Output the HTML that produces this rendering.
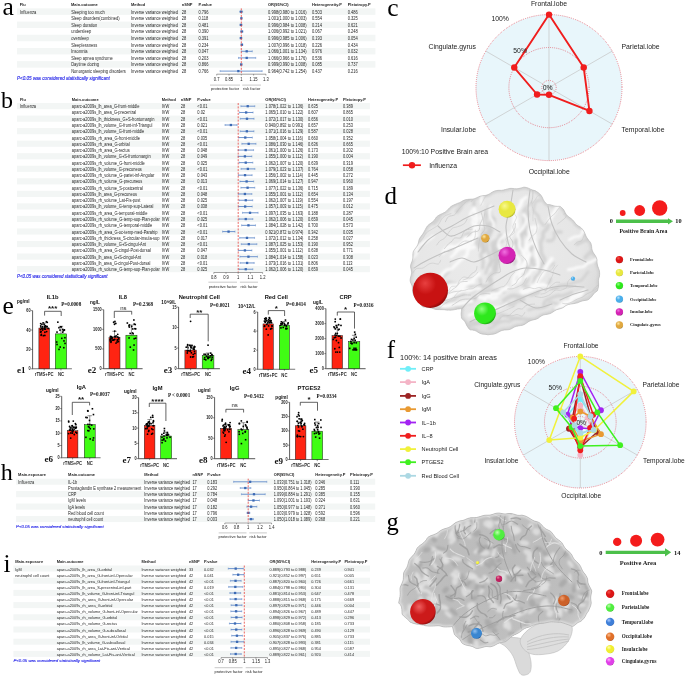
<!DOCTYPE html><html><head><meta charset="utf-8"><style>html,body{margin:0;padding:0;background:#fff;overflow:hidden}svg{display:block;will-change:transform}</style></head><body>
<svg width="685" height="676" viewBox="0 0 685 676" font-family='"Liberation Sans", sans-serif'>
<rect width="685" height="676" fill="#fff"/>
<defs>
<radialGradient id="sg_red" cx="0.38" cy="0.35" r="0.75" fx="0.35" fy="0.3"><stop offset="0" stop-color="#f55048"/><stop offset="0.4" stop-color="#dc1616"/><stop offset="0.8" stop-color="#dc1616"/><stop offset="1" stop-color="#700404"/></radialGradient>
<radialGradient id="sg_red_d" cx="0.38" cy="0.35" r="0.75" fx="0.35" fy="0.3"><stop offset="0" stop-color="#e84040"/><stop offset="0.4" stop-color="#c81212"/><stop offset="0.8" stop-color="#c81212"/><stop offset="1" stop-color="#600202"/></radialGradient>
<radialGradient id="sg_yellow" cx="0.38" cy="0.35" r="0.75" fx="0.35" fy="0.3"><stop offset="0" stop-color="#f8f890"/><stop offset="0.4" stop-color="#e8e840"/><stop offset="0.8" stop-color="#e8e840"/><stop offset="1" stop-color="#8a8a18"/></radialGradient>
<radialGradient id="sg_green" cx="0.38" cy="0.35" r="0.75" fx="0.35" fy="0.3"><stop offset="0" stop-color="#90ff80"/><stop offset="0.4" stop-color="#2ee81c"/><stop offset="0.8" stop-color="#2ee81c"/><stop offset="1" stop-color="#0e6a06"/></radialGradient>
<radialGradient id="sg_blue" cx="0.38" cy="0.35" r="0.75" fx="0.35" fy="0.3"><stop offset="0" stop-color="#b8e4ff"/><stop offset="0.4" stop-color="#4aaeea"/><stop offset="0.8" stop-color="#4aaeea"/><stop offset="1" stop-color="#1a5a8a"/></radialGradient>
<radialGradient id="sg_magenta" cx="0.38" cy="0.35" r="0.75" fx="0.35" fy="0.3"><stop offset="0" stop-color="#f070e0"/><stop offset="0.4" stop-color="#d424b4"/><stop offset="0.8" stop-color="#d424b4"/><stop offset="1" stop-color="#600a50"/></radialGradient>
<radialGradient id="sg_gold" cx="0.38" cy="0.35" r="0.75" fx="0.35" fy="0.3"><stop offset="0" stop-color="#ffe8a0"/><stop offset="0.4" stop-color="#e0a840"/><stop offset="0.8" stop-color="#e0a840"/><stop offset="1" stop-color="#7a5a10"/></radialGradient>
<radialGradient id="sg_blue2" cx="0.38" cy="0.35" r="0.75" fx="0.35" fy="0.3"><stop offset="0" stop-color="#a8c8ff"/><stop offset="0.4" stop-color="#3f7fd8"/><stop offset="0.8" stop-color="#3f7fd8"/><stop offset="1" stop-color="#1a3a7a"/></radialGradient>
<radialGradient id="sg_orange" cx="0.38" cy="0.35" r="0.75" fx="0.35" fy="0.3"><stop offset="0" stop-color="#ffc090"/><stop offset="0.4" stop-color="#e0702a"/><stop offset="0.8" stop-color="#e0702a"/><stop offset="1" stop-color="#7a3010"/></radialGradient>
<radialGradient id="sg_yellow2" cx="0.38" cy="0.35" r="0.75" fx="0.35" fy="0.3"><stop offset="0" stop-color="#ffffb0"/><stop offset="0.4" stop-color="#f0ee30"/><stop offset="0.8" stop-color="#f0ee30"/><stop offset="1" stop-color="#9a9a10"/></radialGradient>
<radialGradient id="sg_magenta2" cx="0.38" cy="0.35" r="0.75" fx="0.35" fy="0.3"><stop offset="0" stop-color="#ffb0ff"/><stop offset="0.4" stop-color="#e040e8"/><stop offset="0.8" stop-color="#e040e8"/><stop offset="1" stop-color="#801080"/></radialGradient>
<radialGradient id="sg_green2" cx="0.38" cy="0.35" r="0.75" fx="0.35" fy="0.3"><stop offset="0" stop-color="#c0ffb0"/><stop offset="0.4" stop-color="#50ee40"/><stop offset="0.8" stop-color="#50ee40"/><stop offset="1" stop-color="#1a8a10"/></radialGradient>
<radialGradient id="sg_crimson" cx="0.38" cy="0.35" r="0.75" fx="0.35" fy="0.3"><stop offset="0" stop-color="#f080a0"/><stop offset="0.4" stop-color="#c02060"/><stop offset="0.8" stop-color="#c02060"/><stop offset="1" stop-color="#600a30"/></radialGradient>
<radialGradient id="sg_red_g" cx="0.38" cy="0.35" r="0.75" fx="0.35" fy="0.3"><stop offset="0" stop-color="#f06060"/><stop offset="0.4" stop-color="#cc1a1a"/><stop offset="0.8" stop-color="#cc1a1a"/><stop offset="1" stop-color="#5a0000"/></radialGradient>
<radialGradient id="sg_orange_g" cx="0.38" cy="0.35" r="0.75" fx="0.35" fy="0.3"><stop offset="0" stop-color="#f0a070"/><stop offset="0.4" stop-color="#cc6028"/><stop offset="0.8" stop-color="#cc6028"/><stop offset="1" stop-color="#602008"/></radialGradient>
<radialGradient id="sg_blue_g" cx="0.38" cy="0.35" r="0.75" fx="0.35" fy="0.3"><stop offset="0" stop-color="#90c0f0"/><stop offset="0.4" stop-color="#3a86d0"/><stop offset="0.8" stop-color="#3a86d0"/><stop offset="1" stop-color="#103a70"/></radialGradient>
<filter id="blur1" x="-20%" y="-20%" width="140%" height="140%"><feGaussianBlur stdDeviation="0.8"/></filter>
<filter id="blur2" x="-20%" y="-20%" width="140%" height="140%"><feGaussianBlur stdDeviation="1.6"/></filter>
<filter id="blur05" x="-20%" y="-20%" width="140%" height="140%"><feGaussianBlur stdDeviation="0.45"/></filter>
</defs>
<text x="2.40" y="15.30" font-size="25.5" font-family='"Liberation Serif", serif' fill="#000">a</text>
<rect x="17" y="8.35" width="358.4" height="6.50" fill="#f3f6f5"/>
<rect x="17" y="21.55" width="358.4" height="6.50" fill="#f3f6f5"/>
<rect x="17" y="34.75" width="358.4" height="6.50" fill="#f3f6f5"/>
<rect x="17" y="47.95" width="358.4" height="6.50" fill="#f3f6f5"/>
<rect x="17" y="61.15" width="358.4" height="6.50" fill="#f3f6f5"/>
<g transform="translate(19.70,6.05) scale(0.93,1)">
<text x="0.00" y="0.00" font-size="4.3" font-weight="bold" fill="#1e1e1e">Flu</text>
</g>
<g transform="translate(71.00,6.05) scale(0.93,1)">
<text x="0.00" y="0.00" font-size="4.3" font-weight="bold" fill="#1e1e1e">Main.outcome</text>
</g>
<g transform="translate(131.00,6.05) scale(0.93,1)">
<text x="0.00" y="0.00" font-size="4.3" font-weight="bold" fill="#1e1e1e">Method</text>
</g>
<g transform="translate(181.80,6.05) scale(0.93,1)">
<text x="0.00" y="0.00" font-size="4.3" font-weight="bold" fill="#1e1e1e">nSNP</text>
</g>
<g transform="translate(198.40,6.05) scale(0.93,1)">
<text x="0.00" y="0.00" font-size="4.3" font-weight="bold" fill="#1e1e1e">P.value</text>
</g>
<g transform="translate(268.00,6.05) scale(0.93,1)">
<text x="0.00" y="0.00" font-size="4.3" font-weight="bold" fill="#1e1e1e">OR(95%CI)</text>
</g>
<g transform="translate(311.90,6.05) scale(0.93,1)">
<text x="0.00" y="0.00" font-size="4.3" font-weight="bold" fill="#1e1e1e">Heterogeneity.P</text>
</g>
<g transform="translate(347.70,6.05) scale(0.93,1)">
<text x="0.00" y="0.00" font-size="4.3" font-weight="bold" fill="#1e1e1e">Pleiotropy.P</text>
</g>
<g transform="translate(19.90,13.65) scale(0.893,1)">
<text x="0.00" y="0.00" font-size="4.5360000000000005" fill="#262626">Influenza</text>
</g>
<g transform="translate(71.20,13.65) scale(0.893,1)">
<text x="0.00" y="0.00" font-size="4.5360000000000005" fill="#262626">Sleeping too much</text>
</g>
<g transform="translate(131.00,13.65) scale(0.893,1)">
<text x="0.00" y="0.00" font-size="4.5360000000000005" fill="#262626">Inverse variance weighted</text>
</g>
<g transform="translate(181.80,13.65) scale(0.893,1)">
<text x="0.00" y="0.00" font-size="4.5360000000000005" fill="#262626">28</text>
</g>
<g transform="translate(198.40,13.65) scale(0.893,1)">
<text x="0.00" y="0.00" font-size="4.5360000000000005" fill="#262626">0.796</text>
</g>
<g transform="translate(268.00,13.65) scale(0.893,1)">
<text x="0.00" y="0.00" font-size="4.5360000000000005" fill="#262626">0.998(0.980 to 1.016)</text>
</g>
<g transform="translate(311.90,13.65) scale(0.893,1)">
<text x="0.00" y="0.00" font-size="4.5360000000000005" fill="#262626">0.503</text>
</g>
<g transform="translate(347.70,13.65) scale(0.893,1)">
<text x="0.00" y="0.00" font-size="4.5360000000000005" fill="#262626">0.486</text>
</g>
<g transform="translate(71.20,20.25) scale(0.893,1)">
<text x="0.00" y="0.00" font-size="4.5360000000000005" fill="#262626">Sleep disorders(combined)</text>
</g>
<g transform="translate(131.00,20.25) scale(0.893,1)">
<text x="0.00" y="0.00" font-size="4.5360000000000005" fill="#262626">Inverse variance weighted</text>
</g>
<g transform="translate(181.80,20.25) scale(0.893,1)">
<text x="0.00" y="0.00" font-size="4.5360000000000005" fill="#262626">28</text>
</g>
<g transform="translate(198.40,20.25) scale(0.893,1)">
<text x="0.00" y="0.00" font-size="4.5360000000000005" fill="#262626">0.118</text>
</g>
<g transform="translate(268.00,20.25) scale(0.893,1)">
<text x="0.00" y="0.00" font-size="4.5360000000000005" fill="#262626">1.001(1.000 to 1.003)</text>
</g>
<g transform="translate(311.90,20.25) scale(0.893,1)">
<text x="0.00" y="0.00" font-size="4.5360000000000005" fill="#262626">0.554</text>
</g>
<g transform="translate(347.70,20.25) scale(0.893,1)">
<text x="0.00" y="0.00" font-size="4.5360000000000005" fill="#262626">0.325</text>
</g>
<g transform="translate(71.20,26.85) scale(0.893,1)">
<text x="0.00" y="0.00" font-size="4.5360000000000005" fill="#262626">Sleep duration</text>
</g>
<g transform="translate(131.00,26.85) scale(0.893,1)">
<text x="0.00" y="0.00" font-size="4.5360000000000005" fill="#262626">Inverse variance weighted</text>
</g>
<g transform="translate(181.80,26.85) scale(0.893,1)">
<text x="0.00" y="0.00" font-size="4.5360000000000005" fill="#262626">28</text>
</g>
<g transform="translate(198.40,26.85) scale(0.893,1)">
<text x="0.00" y="0.00" font-size="4.5360000000000005" fill="#262626">0.481</text>
</g>
<g transform="translate(268.00,26.85) scale(0.893,1)">
<text x="0.00" y="0.00" font-size="4.5360000000000005" fill="#262626">0.996(0.984 to 1.008)</text>
</g>
<g transform="translate(311.90,26.85) scale(0.893,1)">
<text x="0.00" y="0.00" font-size="4.5360000000000005" fill="#262626">0.214</text>
</g>
<g transform="translate(347.70,26.85) scale(0.893,1)">
<text x="0.00" y="0.00" font-size="4.5360000000000005" fill="#262626">0.621</text>
</g>
<g transform="translate(71.20,33.45) scale(0.893,1)">
<text x="0.00" y="0.00" font-size="4.5360000000000005" fill="#262626">undersleep</text>
</g>
<g transform="translate(131.00,33.45) scale(0.893,1)">
<text x="0.00" y="0.00" font-size="4.5360000000000005" fill="#262626">Inverse variance weighted</text>
</g>
<g transform="translate(181.80,33.45) scale(0.893,1)">
<text x="0.00" y="0.00" font-size="4.5360000000000005" fill="#262626">28</text>
</g>
<g transform="translate(198.40,33.45) scale(0.893,1)">
<text x="0.00" y="0.00" font-size="4.5360000000000005" fill="#262626">0.390</text>
</g>
<g transform="translate(268.00,33.45) scale(0.893,1)">
<text x="0.00" y="0.00" font-size="4.5360000000000005" fill="#262626">1.006(0.992 to 1.021)</text>
</g>
<g transform="translate(311.90,33.45) scale(0.893,1)">
<text x="0.00" y="0.00" font-size="4.5360000000000005" fill="#262626">0.067</text>
</g>
<g transform="translate(347.70,33.45) scale(0.893,1)">
<text x="0.00" y="0.00" font-size="4.5360000000000005" fill="#262626">0.248</text>
</g>
<g transform="translate(71.20,40.05) scale(0.893,1)">
<text x="0.00" y="0.00" font-size="4.5360000000000005" fill="#262626">oversleep</text>
</g>
<g transform="translate(131.00,40.05) scale(0.893,1)">
<text x="0.00" y="0.00" font-size="4.5360000000000005" fill="#262626">Inverse variance weighted</text>
</g>
<g transform="translate(181.80,40.05) scale(0.893,1)">
<text x="0.00" y="0.00" font-size="4.5360000000000005" fill="#262626">28</text>
</g>
<g transform="translate(198.40,40.05) scale(0.893,1)">
<text x="0.00" y="0.00" font-size="4.5360000000000005" fill="#262626">0.391</text>
</g>
<g transform="translate(268.00,40.05) scale(0.893,1)">
<text x="0.00" y="0.00" font-size="4.5360000000000005" fill="#262626">0.996(0.985 to 1.006)</text>
</g>
<g transform="translate(311.90,40.05) scale(0.893,1)">
<text x="0.00" y="0.00" font-size="4.5360000000000005" fill="#262626">0.193</text>
</g>
<g transform="translate(347.70,40.05) scale(0.893,1)">
<text x="0.00" y="0.00" font-size="4.5360000000000005" fill="#262626">0.054</text>
</g>
<g transform="translate(71.20,46.65) scale(0.893,1)">
<text x="0.00" y="0.00" font-size="4.5360000000000005" fill="#262626">Sleeplessness</text>
</g>
<g transform="translate(131.00,46.65) scale(0.893,1)">
<text x="0.00" y="0.00" font-size="4.5360000000000005" fill="#262626">Inverse variance weighted</text>
</g>
<g transform="translate(181.80,46.65) scale(0.893,1)">
<text x="0.00" y="0.00" font-size="4.5360000000000005" fill="#262626">28</text>
</g>
<g transform="translate(198.40,46.65) scale(0.893,1)">
<text x="0.00" y="0.00" font-size="4.5360000000000005" fill="#262626">0.234</text>
</g>
<g transform="translate(268.00,46.65) scale(0.893,1)">
<text x="0.00" y="0.00" font-size="4.5360000000000005" fill="#262626">1.007(0.996 to 1.018)</text>
</g>
<g transform="translate(311.90,46.65) scale(0.893,1)">
<text x="0.00" y="0.00" font-size="4.5360000000000005" fill="#262626">0.226</text>
</g>
<g transform="translate(347.70,46.65) scale(0.893,1)">
<text x="0.00" y="0.00" font-size="4.5360000000000005" fill="#262626">0.434</text>
</g>
<g transform="translate(71.20,53.25) scale(0.893,1)">
<text x="0.00" y="0.00" font-size="4.5360000000000005" fill="#262626">Insomnia</text>
</g>
<g transform="translate(131.00,53.25) scale(0.893,1)">
<text x="0.00" y="0.00" font-size="4.5360000000000005" fill="#262626">Inverse variance weighted</text>
</g>
<g transform="translate(181.80,53.25) scale(0.893,1)">
<text x="0.00" y="0.00" font-size="4.5360000000000005" fill="#262626">28</text>
</g>
<g transform="translate(198.40,53.25) scale(0.893,1)">
<text x="0.00" y="0.00" font-size="4.5360000000000005" fill="#262626">0.047</text>
</g>
<g transform="translate(268.00,53.25) scale(0.893,1)">
<text x="0.00" y="0.00" font-size="4.5360000000000005" fill="#262626">1.066(1.001 to 1.134)</text>
</g>
<g transform="translate(311.90,53.25) scale(0.893,1)">
<text x="0.00" y="0.00" font-size="4.5360000000000005" fill="#262626">0.976</text>
</g>
<g transform="translate(347.70,53.25) scale(0.893,1)">
<text x="0.00" y="0.00" font-size="4.5360000000000005" fill="#262626">0.032</text>
</g>
<g transform="translate(71.20,59.85) scale(0.893,1)">
<text x="0.00" y="0.00" font-size="4.5360000000000005" fill="#262626">Sleep apnea syndrome</text>
</g>
<g transform="translate(131.00,59.85) scale(0.893,1)">
<text x="0.00" y="0.00" font-size="4.5360000000000005" fill="#262626">Inverse variance weighted</text>
</g>
<g transform="translate(181.80,59.85) scale(0.893,1)">
<text x="0.00" y="0.00" font-size="4.5360000000000005" fill="#262626">28</text>
</g>
<g transform="translate(198.40,59.85) scale(0.893,1)">
<text x="0.00" y="0.00" font-size="4.5360000000000005" fill="#262626">0.203</text>
</g>
<g transform="translate(268.00,59.85) scale(0.893,1)">
<text x="0.00" y="0.00" font-size="4.5360000000000005" fill="#262626">1.066(0.966 to 1.176)</text>
</g>
<g transform="translate(311.90,59.85) scale(0.893,1)">
<text x="0.00" y="0.00" font-size="4.5360000000000005" fill="#262626">0.536</text>
</g>
<g transform="translate(347.70,59.85) scale(0.893,1)">
<text x="0.00" y="0.00" font-size="4.5360000000000005" fill="#262626">0.616</text>
</g>
<g transform="translate(71.20,66.45) scale(0.893,1)">
<text x="0.00" y="0.00" font-size="4.5360000000000005" fill="#262626">Daytime dozing</text>
</g>
<g transform="translate(131.00,66.45) scale(0.893,1)">
<text x="0.00" y="0.00" font-size="4.5360000000000005" fill="#262626">Inverse variance weighted</text>
</g>
<g transform="translate(181.80,66.45) scale(0.893,1)">
<text x="0.00" y="0.00" font-size="4.5360000000000005" fill="#262626">28</text>
</g>
<g transform="translate(198.40,66.45) scale(0.893,1)">
<text x="0.00" y="0.00" font-size="4.5360000000000005" fill="#262626">0.866</text>
</g>
<g transform="translate(268.00,66.45) scale(0.893,1)">
<text x="0.00" y="0.00" font-size="4.5360000000000005" fill="#262626">0.999(0.990 to 1.008)</text>
</g>
<g transform="translate(311.90,66.45) scale(0.893,1)">
<text x="0.00" y="0.00" font-size="4.5360000000000005" fill="#262626">0.085</text>
</g>
<g transform="translate(347.70,66.45) scale(0.893,1)">
<text x="0.00" y="0.00" font-size="4.5360000000000005" fill="#262626">0.737</text>
</g>
<g transform="translate(71.20,73.05) scale(0.893,1)">
<text x="0.00" y="0.00" font-size="4.5360000000000005" fill="#262626">Nonorganic sleeping disorders</text>
</g>
<g transform="translate(131.00,73.05) scale(0.893,1)">
<text x="0.00" y="0.00" font-size="4.5360000000000005" fill="#262626">Inverse variance weighted</text>
</g>
<g transform="translate(181.80,73.05) scale(0.893,1)">
<text x="0.00" y="0.00" font-size="4.5360000000000005" fill="#262626">28</text>
</g>
<g transform="translate(198.40,73.05) scale(0.893,1)">
<text x="0.00" y="0.00" font-size="4.5360000000000005" fill="#262626">0.766</text>
</g>
<g transform="translate(268.00,73.05) scale(0.893,1)">
<text x="0.00" y="0.00" font-size="4.5360000000000005" fill="#262626">0.964(0.742 to 1.254)</text>
</g>
<g transform="translate(311.90,73.05) scale(0.893,1)">
<text x="0.00" y="0.00" font-size="4.5360000000000005" fill="#262626">0.437</text>
</g>
<g transform="translate(347.70,73.05) scale(0.893,1)">
<text x="0.00" y="0.00" font-size="4.5360000000000005" fill="#262626">0.216</text>
</g>
<line x1="239.66" y1="11.70" x2="242.61" y2="11.70" stroke="#5683c6" stroke-width="0.85"/>
<line x1="239.66" y1="10.70" x2="239.66" y2="12.70" stroke="#5b84c4" stroke-width="0.5"/>
<line x1="242.61" y1="10.70" x2="242.61" y2="12.70" stroke="#5b84c4" stroke-width="0.5"/>
<rect x="239.99" y="10.55" width="2.3" height="2.3" fill="#3c6ab4"/>
<line x1="241.30" y1="18.30" x2="241.55" y2="18.30" stroke="#5683c6" stroke-width="0.85"/>
<line x1="241.30" y1="17.30" x2="241.30" y2="19.30" stroke="#5b84c4" stroke-width="0.5"/>
<line x1="241.55" y1="17.30" x2="241.55" y2="19.30" stroke="#5b84c4" stroke-width="0.5"/>
<rect x="240.23" y="17.15" width="2.3" height="2.3" fill="#3c6ab4"/>
<line x1="239.99" y1="24.90" x2="241.96" y2="24.90" stroke="#5683c6" stroke-width="0.85"/>
<line x1="239.99" y1="23.90" x2="239.99" y2="25.90" stroke="#5b84c4" stroke-width="0.5"/>
<line x1="241.96" y1="23.90" x2="241.96" y2="25.90" stroke="#5b84c4" stroke-width="0.5"/>
<rect x="239.82" y="23.75" width="2.3" height="2.3" fill="#3c6ab4"/>
<line x1="240.64" y1="31.50" x2="243.02" y2="31.50" stroke="#5683c6" stroke-width="0.85"/>
<line x1="240.64" y1="30.50" x2="240.64" y2="32.50" stroke="#5b84c4" stroke-width="0.5"/>
<line x1="243.02" y1="30.50" x2="243.02" y2="32.50" stroke="#5b84c4" stroke-width="0.5"/>
<rect x="240.64" y="30.35" width="2.3" height="2.3" fill="#3c6ab4"/>
<line x1="240.07" y1="38.10" x2="241.79" y2="38.10" stroke="#5683c6" stroke-width="0.85"/>
<line x1="240.07" y1="37.10" x2="240.07" y2="39.10" stroke="#5b84c4" stroke-width="0.5"/>
<line x1="241.79" y1="37.10" x2="241.79" y2="39.10" stroke="#5b84c4" stroke-width="0.5"/>
<rect x="239.82" y="36.95" width="2.3" height="2.3" fill="#3c6ab4"/>
<line x1="240.97" y1="44.70" x2="242.78" y2="44.70" stroke="#5683c6" stroke-width="0.85"/>
<line x1="240.97" y1="43.70" x2="240.97" y2="45.70" stroke="#5b84c4" stroke-width="0.5"/>
<line x1="242.78" y1="43.70" x2="242.78" y2="45.70" stroke="#5b84c4" stroke-width="0.5"/>
<rect x="240.72" y="43.55" width="2.3" height="2.3" fill="#3c6ab4"/>
<line x1="241.38" y1="51.30" x2="252.29" y2="51.30" stroke="#5683c6" stroke-width="0.85"/>
<line x1="241.38" y1="50.30" x2="241.38" y2="52.30" stroke="#5b84c4" stroke-width="0.5"/>
<line x1="252.29" y1="50.30" x2="252.29" y2="52.30" stroke="#5b84c4" stroke-width="0.5"/>
<rect x="245.56" y="50.15" width="2.3" height="2.3" fill="#3c6ab4"/>
<line x1="238.51" y1="57.90" x2="255.73" y2="57.90" stroke="#5683c6" stroke-width="0.85"/>
<line x1="238.51" y1="56.90" x2="238.51" y2="58.90" stroke="#5b84c4" stroke-width="0.5"/>
<line x1="255.73" y1="56.90" x2="255.73" y2="58.90" stroke="#5b84c4" stroke-width="0.5"/>
<rect x="245.56" y="56.75" width="2.3" height="2.3" fill="#3c6ab4"/>
<line x1="240.48" y1="64.50" x2="241.96" y2="64.50" stroke="#5683c6" stroke-width="0.85"/>
<line x1="240.48" y1="63.50" x2="240.48" y2="65.50" stroke="#5b84c4" stroke-width="0.5"/>
<line x1="241.96" y1="63.50" x2="241.96" y2="65.50" stroke="#5b84c4" stroke-width="0.5"/>
<rect x="240.07" y="63.35" width="2.3" height="2.3" fill="#3c6ab4"/>
<line x1="220.14" y1="71.10" x2="262.13" y2="71.10" stroke="#5683c6" stroke-width="0.85"/>
<line x1="220.14" y1="70.10" x2="220.14" y2="72.10" stroke="#5b84c4" stroke-width="0.5"/>
<line x1="262.13" y1="70.10" x2="262.13" y2="72.10" stroke="#5b84c4" stroke-width="0.5"/>
<rect x="237.20" y="69.95" width="2.3" height="2.3" fill="#3c6ab4"/>
<line x1="241.30" y1="8.40" x2="241.30" y2="74.40" stroke="#e8413c" stroke-width="0.8" stroke-dasharray="2,1.3"/>
<line x1="216.70" y1="74.20" x2="265.90" y2="74.20" stroke="#444" stroke-width="0.5"/>
<line x1="216.70" y1="74.20" x2="216.70" y2="75.50" stroke="#444" stroke-width="0.5"/>
<g transform="translate(216.70,81.05) scale(0.9,1)">
<text x="0.00" y="0.00" font-size="4.6" text-anchor="middle" fill="#222">0.7</text>
</g>
<line x1="229.00" y1="74.20" x2="229.00" y2="75.50" stroke="#444" stroke-width="0.5"/>
<g transform="translate(229.00,81.05) scale(0.9,1)">
<text x="0.00" y="0.00" font-size="4.6" text-anchor="middle" fill="#222">0.85</text>
</g>
<line x1="241.30" y1="74.20" x2="241.30" y2="75.50" stroke="#444" stroke-width="0.5"/>
<g transform="translate(241.30,81.05) scale(0.9,1)">
<text x="0.00" y="0.00" font-size="4.6" text-anchor="middle" fill="#222">1</text>
</g>
<line x1="253.60" y1="74.20" x2="253.60" y2="75.50" stroke="#444" stroke-width="0.5"/>
<g transform="translate(253.60,81.05) scale(0.9,1)">
<text x="0.00" y="0.00" font-size="4.6" text-anchor="middle" fill="#222">1.15</text>
</g>
<line x1="265.90" y1="74.20" x2="265.90" y2="75.50" stroke="#444" stroke-width="0.5"/>
<g transform="translate(265.90,81.05) scale(0.9,1)">
<text x="0.00" y="0.00" font-size="4.6" text-anchor="middle" fill="#222">1.3</text>
</g>
<line x1="210.00" y1="85.10" x2="240.00" y2="85.10" stroke="#777" stroke-width="0.4"/>
<line x1="242.30" y1="85.10" x2="261.00" y2="85.10" stroke="#777" stroke-width="0.4"/>
<g transform="translate(225.00,90.20) scale(0.9,1)">
<text x="0.00" y="0.00" font-size="4.4" text-anchor="middle" fill="#222">protective factor</text>
</g>
<g transform="translate(251.65,90.20) scale(0.9,1)">
<text x="0.00" y="0.00" font-size="4.4" text-anchor="middle" fill="#222">risk factor</text>
</g>
<text x="17.00" y="79.60" font-size="4.59" font-style="italic" fill="#2626e8" stroke="#2626e8" stroke-width="0.12">P&lt;0.05 was considered statistically significant</text>
<text x="1.00" y="108.00" font-size="24" font-family='"Liberation Serif", serif' fill="#000">b</text>
<rect x="17" y="103.02" width="352.9" height="6.17" fill="#f3f6f5"/>
<rect x="17" y="115.56" width="352.9" height="6.17" fill="#f3f6f5"/>
<rect x="17" y="128.09" width="352.9" height="6.17" fill="#f3f6f5"/>
<rect x="17" y="140.63" width="352.9" height="6.17" fill="#f3f6f5"/>
<rect x="17" y="153.18" width="352.9" height="6.17" fill="#f3f6f5"/>
<rect x="17" y="165.72" width="352.9" height="6.17" fill="#f3f6f5"/>
<rect x="17" y="178.25" width="352.9" height="6.17" fill="#f3f6f5"/>
<rect x="17" y="190.80" width="352.9" height="6.17" fill="#f3f6f5"/>
<rect x="17" y="203.33" width="352.9" height="6.17" fill="#f3f6f5"/>
<rect x="17" y="215.88" width="352.9" height="6.17" fill="#f3f6f5"/>
<rect x="17" y="228.41" width="352.9" height="6.17" fill="#f3f6f5"/>
<rect x="17" y="240.95" width="352.9" height="6.17" fill="#f3f6f5"/>
<rect x="17" y="253.50" width="352.9" height="6.17" fill="#f3f6f5"/>
<rect x="17" y="266.03" width="352.9" height="6.17" fill="#f3f6f5"/>
<g transform="translate(19.90,101.15) scale(0.93,1)">
<text x="0.00" y="0.00" font-size="4.3" font-weight="bold" fill="#1e1e1e">Flu</text>
</g>
<g transform="translate(71.80,101.15) scale(0.93,1)">
<text x="0.00" y="0.00" font-size="4.3" font-weight="bold" fill="#1e1e1e">Main.outcome</text>
</g>
<g transform="translate(161.70,101.15) scale(0.93,1)">
<text x="0.00" y="0.00" font-size="4.3" font-weight="bold" fill="#1e1e1e">Method</text>
</g>
<g transform="translate(180.70,101.15) scale(0.93,1)">
<text x="0.00" y="0.00" font-size="4.3" font-weight="bold" fill="#1e1e1e">nSNP</text>
</g>
<g transform="translate(197.30,101.15) scale(0.93,1)">
<text x="0.00" y="0.00" font-size="4.3" font-weight="bold" fill="#1e1e1e">P.value</text>
</g>
<g transform="translate(265.30,101.15) scale(0.93,1)">
<text x="0.00" y="0.00" font-size="4.3" font-weight="bold" fill="#1e1e1e">OR(95%CI)</text>
</g>
<g transform="translate(308.00,101.15) scale(0.93,1)">
<text x="0.00" y="0.00" font-size="4.3" font-weight="bold" fill="#1e1e1e">Heterogeneity.P</text>
</g>
<g transform="translate(342.90,101.15) scale(0.93,1)">
<text x="0.00" y="0.00" font-size="4.3" font-weight="bold" fill="#1e1e1e">Pleiotropy.P</text>
</g>
<g transform="translate(19.90,108.15) scale(0.893,1)">
<text x="0.00" y="0.00" font-size="4.48" fill="#262626">Influenza</text>
</g>
<g transform="translate(71.80,108.15) scale(0.893,1)">
<text x="0.00" y="0.00" font-size="4.48" fill="#262626">aparc-a2009s_lh_area_G-front-middle</text>
</g>
<g transform="translate(161.70,108.15) scale(0.893,1)">
<text x="0.00" y="0.00" font-size="4.48" fill="#262626">IVW</text>
</g>
<g transform="translate(180.70,108.15) scale(0.893,1)">
<text x="0.00" y="0.00" font-size="4.48" fill="#262626">28</text>
</g>
<g transform="translate(197.30,108.15) scale(0.893,1)">
<text x="0.00" y="0.00" font-size="4.48" fill="#262626">&lt;0.01</text>
</g>
<g transform="translate(265.30,108.15) scale(0.893,1)">
<text x="0.00" y="0.00" font-size="4.48" fill="#262626">1.078(1.022 to 1.136)</text>
</g>
<g transform="translate(308.00,108.15) scale(0.893,1)">
<text x="0.00" y="0.00" font-size="4.48" fill="#262626">0.635</text>
</g>
<g transform="translate(342.90,108.15) scale(0.893,1)">
<text x="0.00" y="0.00" font-size="4.48" fill="#262626">0.389</text>
</g>
<g transform="translate(71.80,114.42) scale(0.893,1)">
<text x="0.00" y="0.00" font-size="4.48" fill="#262626">aparc-a2009s_lh_area_G-precentral</text>
</g>
<g transform="translate(161.70,114.42) scale(0.893,1)">
<text x="0.00" y="0.00" font-size="4.48" fill="#262626">IVW</text>
</g>
<g transform="translate(180.70,114.42) scale(0.893,1)">
<text x="0.00" y="0.00" font-size="4.48" fill="#262626">28</text>
</g>
<g transform="translate(197.30,114.42) scale(0.893,1)">
<text x="0.00" y="0.00" font-size="4.48" fill="#262626">0.02</text>
</g>
<g transform="translate(265.30,114.42) scale(0.893,1)">
<text x="0.00" y="0.00" font-size="4.48" fill="#262626">1.065(1.010 to 1.122)</text>
</g>
<g transform="translate(308.00,114.42) scale(0.893,1)">
<text x="0.00" y="0.00" font-size="4.48" fill="#262626">0.607</text>
</g>
<g transform="translate(342.90,114.42) scale(0.893,1)">
<text x="0.00" y="0.00" font-size="4.48" fill="#262626">0.865</text>
</g>
<g transform="translate(71.80,120.69) scale(0.893,1)">
<text x="0.00" y="0.00" font-size="4.48" fill="#262626">aparc-a2009s_lh_thickness_G+S-frontomargin</text>
</g>
<g transform="translate(161.70,120.69) scale(0.893,1)">
<text x="0.00" y="0.00" font-size="4.48" fill="#262626">IVW</text>
</g>
<g transform="translate(180.70,120.69) scale(0.893,1)">
<text x="0.00" y="0.00" font-size="4.48" fill="#262626">28</text>
</g>
<g transform="translate(197.30,120.69) scale(0.893,1)">
<text x="0.00" y="0.00" font-size="4.48" fill="#262626">&lt;0.01</text>
</g>
<g transform="translate(265.30,120.69) scale(0.893,1)">
<text x="0.00" y="0.00" font-size="4.48" fill="#262626">1.072(1.017 to 1.130)</text>
</g>
<g transform="translate(308.00,120.69) scale(0.893,1)">
<text x="0.00" y="0.00" font-size="4.48" fill="#262626">0.656</text>
</g>
<g transform="translate(342.90,120.69) scale(0.893,1)">
<text x="0.00" y="0.00" font-size="4.48" fill="#262626">0.010</text>
</g>
<g transform="translate(71.80,126.96) scale(0.893,1)">
<text x="0.00" y="0.00" font-size="4.48" fill="#262626">aparc-a2009s_lh_volume_G-front-inf-Triangul</text>
</g>
<g transform="translate(161.70,126.96) scale(0.893,1)">
<text x="0.00" y="0.00" font-size="4.48" fill="#262626">IVW</text>
</g>
<g transform="translate(180.70,126.96) scale(0.893,1)">
<text x="0.00" y="0.00" font-size="4.48" fill="#262626">28</text>
</g>
<g transform="translate(197.30,126.96) scale(0.893,1)">
<text x="0.00" y="0.00" font-size="4.48" fill="#262626">0.021</text>
</g>
<g transform="translate(265.30,126.96) scale(0.893,1)">
<text x="0.00" y="0.00" font-size="4.48" fill="#262626">0.940(0.892 to 0.991)</text>
</g>
<g transform="translate(308.00,126.96) scale(0.893,1)">
<text x="0.00" y="0.00" font-size="4.48" fill="#262626">0.657</text>
</g>
<g transform="translate(342.90,126.96) scale(0.893,1)">
<text x="0.00" y="0.00" font-size="4.48" fill="#262626">0.253</text>
</g>
<g transform="translate(71.80,133.23) scale(0.893,1)">
<text x="0.00" y="0.00" font-size="4.48" fill="#262626">aparc-a2009s_lh_volume_G-front-middle</text>
</g>
<g transform="translate(161.70,133.23) scale(0.893,1)">
<text x="0.00" y="0.00" font-size="4.48" fill="#262626">IVW</text>
</g>
<g transform="translate(180.70,133.23) scale(0.893,1)">
<text x="0.00" y="0.00" font-size="4.48" fill="#262626">28</text>
</g>
<g transform="translate(197.30,133.23) scale(0.893,1)">
<text x="0.00" y="0.00" font-size="4.48" fill="#262626">&lt;0.01</text>
</g>
<g transform="translate(265.30,133.23) scale(0.893,1)">
<text x="0.00" y="0.00" font-size="4.48" fill="#262626">1.071(1.016 to 1.129)</text>
</g>
<g transform="translate(308.00,133.23) scale(0.893,1)">
<text x="0.00" y="0.00" font-size="4.48" fill="#262626">0.587</text>
</g>
<g transform="translate(342.90,133.23) scale(0.893,1)">
<text x="0.00" y="0.00" font-size="4.48" fill="#262626">0.028</text>
</g>
<g transform="translate(71.80,139.50) scale(0.893,1)">
<text x="0.00" y="0.00" font-size="4.48" fill="#262626">aparc-a2009s_rh_area_G-front-middle</text>
</g>
<g transform="translate(161.70,139.50) scale(0.893,1)">
<text x="0.00" y="0.00" font-size="4.48" fill="#262626">IVW</text>
</g>
<g transform="translate(180.70,139.50) scale(0.893,1)">
<text x="0.00" y="0.00" font-size="4.48" fill="#262626">28</text>
</g>
<g transform="translate(197.30,139.50) scale(0.893,1)">
<text x="0.00" y="0.00" font-size="4.48" fill="#262626">0.035</text>
</g>
<g transform="translate(265.30,139.50) scale(0.893,1)">
<text x="0.00" y="0.00" font-size="4.48" fill="#262626">1.058(1.004 to 1.116)</text>
</g>
<g transform="translate(308.00,139.50) scale(0.893,1)">
<text x="0.00" y="0.00" font-size="4.48" fill="#262626">0.660</text>
</g>
<g transform="translate(342.90,139.50) scale(0.893,1)">
<text x="0.00" y="0.00" font-size="4.48" fill="#262626">0.352</text>
</g>
<g transform="translate(71.80,145.77) scale(0.893,1)">
<text x="0.00" y="0.00" font-size="4.48" fill="#262626">aparc-a2009s_rh_area_G-orbital</text>
</g>
<g transform="translate(161.70,145.77) scale(0.893,1)">
<text x="0.00" y="0.00" font-size="4.48" fill="#262626">IVW</text>
</g>
<g transform="translate(180.70,145.77) scale(0.893,1)">
<text x="0.00" y="0.00" font-size="4.48" fill="#262626">28</text>
</g>
<g transform="translate(197.30,145.77) scale(0.893,1)">
<text x="0.00" y="0.00" font-size="4.48" fill="#262626">&lt;0.01</text>
</g>
<g transform="translate(265.30,145.77) scale(0.893,1)">
<text x="0.00" y="0.00" font-size="4.48" fill="#262626">1.086(1.030 to 1.146)</text>
</g>
<g transform="translate(308.00,145.77) scale(0.893,1)">
<text x="0.00" y="0.00" font-size="4.48" fill="#262626">0.636</text>
</g>
<g transform="translate(342.90,145.77) scale(0.893,1)">
<text x="0.00" y="0.00" font-size="4.48" fill="#262626">0.665</text>
</g>
<g transform="translate(71.80,152.04) scale(0.893,1)">
<text x="0.00" y="0.00" font-size="4.48" fill="#262626">aparc-a2009s_rh_area_G-rectus</text>
</g>
<g transform="translate(161.70,152.04) scale(0.893,1)">
<text x="0.00" y="0.00" font-size="4.48" fill="#262626">IVW</text>
</g>
<g transform="translate(180.70,152.04) scale(0.893,1)">
<text x="0.00" y="0.00" font-size="4.48" fill="#262626">28</text>
</g>
<g transform="translate(197.30,152.04) scale(0.893,1)">
<text x="0.00" y="0.00" font-size="4.48" fill="#262626">0.048</text>
</g>
<g transform="translate(265.30,152.04) scale(0.893,1)">
<text x="0.00" y="0.00" font-size="4.48" fill="#262626">1.061(1.000 to 1.126)</text>
</g>
<g transform="translate(308.00,152.04) scale(0.893,1)">
<text x="0.00" y="0.00" font-size="4.48" fill="#262626">0.173</text>
</g>
<g transform="translate(342.90,152.04) scale(0.893,1)">
<text x="0.00" y="0.00" font-size="4.48" fill="#262626">0.202</text>
</g>
<g transform="translate(71.80,158.31) scale(0.893,1)">
<text x="0.00" y="0.00" font-size="4.48" fill="#262626">aparc-a2009s_lh_volume_G+S-frontomargin</text>
</g>
<g transform="translate(161.70,158.31) scale(0.893,1)">
<text x="0.00" y="0.00" font-size="4.48" fill="#262626">IVW</text>
</g>
<g transform="translate(180.70,158.31) scale(0.893,1)">
<text x="0.00" y="0.00" font-size="4.48" fill="#262626">28</text>
</g>
<g transform="translate(197.30,158.31) scale(0.893,1)">
<text x="0.00" y="0.00" font-size="4.48" fill="#262626">0.049</text>
</g>
<g transform="translate(265.30,158.31) scale(0.893,1)">
<text x="0.00" y="0.00" font-size="4.48" fill="#262626">1.055(1.000 to 1.112)</text>
</g>
<g transform="translate(308.00,158.31) scale(0.893,1)">
<text x="0.00" y="0.00" font-size="4.48" fill="#262626">0.190</text>
</g>
<g transform="translate(342.90,158.31) scale(0.893,1)">
<text x="0.00" y="0.00" font-size="4.48" fill="#262626">0.004</text>
</g>
<g transform="translate(71.80,164.58) scale(0.893,1)">
<text x="0.00" y="0.00" font-size="4.48" fill="#262626">aparc-a2009s_rh_volume_G-front-middle</text>
</g>
<g transform="translate(161.70,164.58) scale(0.893,1)">
<text x="0.00" y="0.00" font-size="4.48" fill="#262626">IVW</text>
</g>
<g transform="translate(180.70,164.58) scale(0.893,1)">
<text x="0.00" y="0.00" font-size="4.48" fill="#262626">28</text>
</g>
<g transform="translate(197.30,164.58) scale(0.893,1)">
<text x="0.00" y="0.00" font-size="4.48" fill="#262626">0.025</text>
</g>
<g transform="translate(265.30,164.58) scale(0.893,1)">
<text x="0.00" y="0.00" font-size="4.48" fill="#262626">1.062(1.007 to 1.120)</text>
</g>
<g transform="translate(308.00,164.58) scale(0.893,1)">
<text x="0.00" y="0.00" font-size="4.48" fill="#262626">0.639</text>
</g>
<g transform="translate(342.90,164.58) scale(0.893,1)">
<text x="0.00" y="0.00" font-size="4.48" fill="#262626">0.319</text>
</g>
<g transform="translate(71.80,170.85) scale(0.893,1)">
<text x="0.00" y="0.00" font-size="4.48" fill="#262626">aparc-a2009s_lh_volume_G-precuneus</text>
</g>
<g transform="translate(161.70,170.85) scale(0.893,1)">
<text x="0.00" y="0.00" font-size="4.48" fill="#262626">IVW</text>
</g>
<g transform="translate(180.70,170.85) scale(0.893,1)">
<text x="0.00" y="0.00" font-size="4.48" fill="#262626">28</text>
</g>
<g transform="translate(197.30,170.85) scale(0.893,1)">
<text x="0.00" y="0.00" font-size="4.48" fill="#262626">&lt;0.01</text>
</g>
<g transform="translate(265.30,170.85) scale(0.893,1)">
<text x="0.00" y="0.00" font-size="4.48" fill="#262626">1.079(1.023 to 1.137)</text>
</g>
<g transform="translate(308.00,170.85) scale(0.893,1)">
<text x="0.00" y="0.00" font-size="4.48" fill="#262626">0.764</text>
</g>
<g transform="translate(342.90,170.85) scale(0.893,1)">
<text x="0.00" y="0.00" font-size="4.48" fill="#262626">0.058</text>
</g>
<g transform="translate(71.80,177.12) scale(0.893,1)">
<text x="0.00" y="0.00" font-size="4.48" fill="#262626">aparc-a2009s_rh_volume_G-pariet-inf-Angular</text>
</g>
<g transform="translate(161.70,177.12) scale(0.893,1)">
<text x="0.00" y="0.00" font-size="4.48" fill="#262626">IVW</text>
</g>
<g transform="translate(180.70,177.12) scale(0.893,1)">
<text x="0.00" y="0.00" font-size="4.48" fill="#262626">28</text>
</g>
<g transform="translate(197.30,177.12) scale(0.893,1)">
<text x="0.00" y="0.00" font-size="4.48" fill="#262626">0.043</text>
</g>
<g transform="translate(265.30,177.12) scale(0.893,1)">
<text x="0.00" y="0.00" font-size="4.48" fill="#262626">1.056(1.002 to 1.114)</text>
</g>
<g transform="translate(308.00,177.12) scale(0.893,1)">
<text x="0.00" y="0.00" font-size="4.48" fill="#262626">0.445</text>
</g>
<g transform="translate(342.90,177.12) scale(0.893,1)">
<text x="0.00" y="0.00" font-size="4.48" fill="#262626">0.272</text>
</g>
<g transform="translate(71.80,183.39) scale(0.893,1)">
<text x="0.00" y="0.00" font-size="4.48" fill="#262626">aparc-a2009s_rh_volume_G-precuneus</text>
</g>
<g transform="translate(161.70,183.39) scale(0.893,1)">
<text x="0.00" y="0.00" font-size="4.48" fill="#262626">IVW</text>
</g>
<g transform="translate(180.70,183.39) scale(0.893,1)">
<text x="0.00" y="0.00" font-size="4.48" fill="#262626">28</text>
</g>
<g transform="translate(197.30,183.39) scale(0.893,1)">
<text x="0.00" y="0.00" font-size="4.48" fill="#262626">0.013</text>
</g>
<g transform="translate(265.30,183.39) scale(0.893,1)">
<text x="0.00" y="0.00" font-size="4.48" fill="#262626">1.069(1.014 to 1.127)</text>
</g>
<g transform="translate(308.00,183.39) scale(0.893,1)">
<text x="0.00" y="0.00" font-size="4.48" fill="#262626">0.947</text>
</g>
<g transform="translate(342.90,183.39) scale(0.893,1)">
<text x="0.00" y="0.00" font-size="4.48" fill="#262626">0.960</text>
</g>
<g transform="translate(71.80,189.66) scale(0.893,1)">
<text x="0.00" y="0.00" font-size="4.48" fill="#262626">aparc-a2009s_rh_volume_S-postcentral</text>
</g>
<g transform="translate(161.70,189.66) scale(0.893,1)">
<text x="0.00" y="0.00" font-size="4.48" fill="#262626">IVW</text>
</g>
<g transform="translate(180.70,189.66) scale(0.893,1)">
<text x="0.00" y="0.00" font-size="4.48" fill="#262626">28</text>
</g>
<g transform="translate(197.30,189.66) scale(0.893,1)">
<text x="0.00" y="0.00" font-size="4.48" fill="#262626">&lt;0.01</text>
</g>
<g transform="translate(265.30,189.66) scale(0.893,1)">
<text x="0.00" y="0.00" font-size="4.48" fill="#262626">1.077(1.022 to 1.136)</text>
</g>
<g transform="translate(308.00,189.66) scale(0.893,1)">
<text x="0.00" y="0.00" font-size="4.48" fill="#262626">0.715</text>
</g>
<g transform="translate(342.90,189.66) scale(0.893,1)">
<text x="0.00" y="0.00" font-size="4.48" fill="#262626">0.189</text>
</g>
<g transform="translate(71.80,195.93) scale(0.893,1)">
<text x="0.00" y="0.00" font-size="4.48" fill="#262626">aparc-a2009s_lh_area_G-precuneus</text>
</g>
<g transform="translate(161.70,195.93) scale(0.893,1)">
<text x="0.00" y="0.00" font-size="4.48" fill="#262626">IVW</text>
</g>
<g transform="translate(180.70,195.93) scale(0.893,1)">
<text x="0.00" y="0.00" font-size="4.48" fill="#262626">28</text>
</g>
<g transform="translate(197.30,195.93) scale(0.893,1)">
<text x="0.00" y="0.00" font-size="4.48" fill="#262626">0.048</text>
</g>
<g transform="translate(265.30,195.93) scale(0.893,1)">
<text x="0.00" y="0.00" font-size="4.48" fill="#262626">1.055(1.001 to 1.112)</text>
</g>
<g transform="translate(308.00,195.93) scale(0.893,1)">
<text x="0.00" y="0.00" font-size="4.48" fill="#262626">0.654</text>
</g>
<g transform="translate(342.90,195.93) scale(0.893,1)">
<text x="0.00" y="0.00" font-size="4.48" fill="#262626">0.134</text>
</g>
<g transform="translate(71.80,202.20) scale(0.893,1)">
<text x="0.00" y="0.00" font-size="4.48" fill="#262626">aparc-a2009s_rh_volume_Lat-Fis-post</text>
</g>
<g transform="translate(161.70,202.20) scale(0.893,1)">
<text x="0.00" y="0.00" font-size="4.48" fill="#262626">IVW</text>
</g>
<g transform="translate(180.70,202.20) scale(0.893,1)">
<text x="0.00" y="0.00" font-size="4.48" fill="#262626">28</text>
</g>
<g transform="translate(197.30,202.20) scale(0.893,1)">
<text x="0.00" y="0.00" font-size="4.48" fill="#262626">0.025</text>
</g>
<g transform="translate(265.30,202.20) scale(0.893,1)">
<text x="0.00" y="0.00" font-size="4.48" fill="#262626">1.062(1.007 to 1.119)</text>
</g>
<g transform="translate(308.00,202.20) scale(0.893,1)">
<text x="0.00" y="0.00" font-size="4.48" fill="#262626">0.554</text>
</g>
<g transform="translate(342.90,202.20) scale(0.893,1)">
<text x="0.00" y="0.00" font-size="4.48" fill="#262626">0.197</text>
</g>
<g transform="translate(71.80,208.47) scale(0.893,1)">
<text x="0.00" y="0.00" font-size="4.48" fill="#262626">aparc-a2009s_lh_volume_G-temp-sup-Lateral</text>
</g>
<g transform="translate(161.70,208.47) scale(0.893,1)">
<text x="0.00" y="0.00" font-size="4.48" fill="#262626">IVW</text>
</g>
<g transform="translate(180.70,208.47) scale(0.893,1)">
<text x="0.00" y="0.00" font-size="4.48" fill="#262626">28</text>
</g>
<g transform="translate(197.30,208.47) scale(0.893,1)">
<text x="0.00" y="0.00" font-size="4.48" fill="#262626">0.038</text>
</g>
<g transform="translate(265.30,208.47) scale(0.893,1)">
<text x="0.00" y="0.00" font-size="4.48" fill="#262626">1.057(1.003 to 1.115)</text>
</g>
<g transform="translate(308.00,208.47) scale(0.893,1)">
<text x="0.00" y="0.00" font-size="4.48" fill="#262626">0.475</text>
</g>
<g transform="translate(342.90,208.47) scale(0.893,1)">
<text x="0.00" y="0.00" font-size="4.48" fill="#262626">0.012</text>
</g>
<g transform="translate(71.80,214.74) scale(0.893,1)">
<text x="0.00" y="0.00" font-size="4.48" fill="#262626">aparc-a2009s_rh_area_G-temporal-middle</text>
</g>
<g transform="translate(161.70,214.74) scale(0.893,1)">
<text x="0.00" y="0.00" font-size="4.48" fill="#262626">IVW</text>
</g>
<g transform="translate(180.70,214.74) scale(0.893,1)">
<text x="0.00" y="0.00" font-size="4.48" fill="#262626">28</text>
</g>
<g transform="translate(197.30,214.74) scale(0.893,1)">
<text x="0.00" y="0.00" font-size="4.48" fill="#262626">&lt;0.01</text>
</g>
<g transform="translate(265.30,214.74) scale(0.893,1)">
<text x="0.00" y="0.00" font-size="4.48" fill="#262626">1.097(1.035 to 1.163)</text>
</g>
<g transform="translate(308.00,214.74) scale(0.893,1)">
<text x="0.00" y="0.00" font-size="4.48" fill="#262626">0.188</text>
</g>
<g transform="translate(342.90,214.74) scale(0.893,1)">
<text x="0.00" y="0.00" font-size="4.48" fill="#262626">0.287</text>
</g>
<g transform="translate(71.80,221.01) scale(0.893,1)">
<text x="0.00" y="0.00" font-size="4.48" fill="#262626">aparc-a2009s_rh_volume_G-temp-sup-Plan-polar</text>
</g>
<g transform="translate(161.70,221.01) scale(0.893,1)">
<text x="0.00" y="0.00" font-size="4.48" fill="#262626">IVW</text>
</g>
<g transform="translate(180.70,221.01) scale(0.893,1)">
<text x="0.00" y="0.00" font-size="4.48" fill="#262626">28</text>
</g>
<g transform="translate(197.30,221.01) scale(0.893,1)">
<text x="0.00" y="0.00" font-size="4.48" fill="#262626">0.025</text>
</g>
<g transform="translate(265.30,221.01) scale(0.893,1)">
<text x="0.00" y="0.00" font-size="4.48" fill="#262626">1.062(1.006 to 1.120)</text>
</g>
<g transform="translate(308.00,221.01) scale(0.893,1)">
<text x="0.00" y="0.00" font-size="4.48" fill="#262626">0.659</text>
</g>
<g transform="translate(342.90,221.01) scale(0.893,1)">
<text x="0.00" y="0.00" font-size="4.48" fill="#262626">0.045</text>
</g>
<g transform="translate(71.80,227.28) scale(0.893,1)">
<text x="0.00" y="0.00" font-size="4.48" fill="#262626">aparc-a2009s_rh_volume_G-temporal-middle</text>
</g>
<g transform="translate(161.70,227.28) scale(0.893,1)">
<text x="0.00" y="0.00" font-size="4.48" fill="#262626">IVW</text>
</g>
<g transform="translate(180.70,227.28) scale(0.893,1)">
<text x="0.00" y="0.00" font-size="4.48" fill="#262626">28</text>
</g>
<g transform="translate(197.30,227.28) scale(0.893,1)">
<text x="0.00" y="0.00" font-size="4.48" fill="#262626">&lt;0.01</text>
</g>
<g transform="translate(265.30,227.28) scale(0.893,1)">
<text x="0.00" y="0.00" font-size="4.48" fill="#262626">1.084(1.028 to 1.142)</text>
</g>
<g transform="translate(308.00,227.28) scale(0.893,1)">
<text x="0.00" y="0.00" font-size="4.48" fill="#262626">0.700</text>
</g>
<g transform="translate(342.90,227.28) scale(0.893,1)">
<text x="0.00" y="0.00" font-size="4.48" fill="#262626">0.573</text>
</g>
<g transform="translate(71.80,233.55) scale(0.893,1)">
<text x="0.00" y="0.00" font-size="4.48" fill="#262626">aparc-a2009s_rh_area_G-oc-temp-med-Parahip</text>
</g>
<g transform="translate(161.70,233.55) scale(0.893,1)">
<text x="0.00" y="0.00" font-size="4.48" fill="#262626">IVW</text>
</g>
<g transform="translate(180.70,233.55) scale(0.893,1)">
<text x="0.00" y="0.00" font-size="4.48" fill="#262626">28</text>
</g>
<g transform="translate(197.30,233.55) scale(0.893,1)">
<text x="0.00" y="0.00" font-size="4.48" fill="#262626">&lt;0.01</text>
</g>
<g transform="translate(265.30,233.55) scale(0.893,1)">
<text x="0.00" y="0.00" font-size="4.48" fill="#262626">0.921(0.872 to 0.974)</text>
</g>
<g transform="translate(308.00,233.55) scale(0.893,1)">
<text x="0.00" y="0.00" font-size="4.48" fill="#262626">0.342</text>
</g>
<g transform="translate(342.90,233.55) scale(0.893,1)">
<text x="0.00" y="0.00" font-size="4.48" fill="#262626">0.035</text>
</g>
<g transform="translate(71.80,239.82) scale(0.893,1)">
<text x="0.00" y="0.00" font-size="4.48" fill="#262626">aparc-a2009s_rh_thickness_S-circular-insula-sup</text>
</g>
<g transform="translate(161.70,239.82) scale(0.893,1)">
<text x="0.00" y="0.00" font-size="4.48" fill="#262626">IVW</text>
</g>
<g transform="translate(180.70,239.82) scale(0.893,1)">
<text x="0.00" y="0.00" font-size="4.48" fill="#262626">28</text>
</g>
<g transform="translate(197.30,239.82) scale(0.893,1)">
<text x="0.00" y="0.00" font-size="4.48" fill="#262626">0.017</text>
</g>
<g transform="translate(265.30,239.82) scale(0.893,1)">
<text x="0.00" y="0.00" font-size="4.48" fill="#262626">1.072(1.012 to 1.134)</text>
</g>
<g transform="translate(308.00,239.82) scale(0.893,1)">
<text x="0.00" y="0.00" font-size="4.48" fill="#262626">0.258</text>
</g>
<g transform="translate(342.90,239.82) scale(0.893,1)">
<text x="0.00" y="0.00" font-size="4.48" fill="#262626">0.027</text>
</g>
<g transform="translate(71.80,246.09) scale(0.893,1)">
<text x="0.00" y="0.00" font-size="4.48" fill="#262626">aparc-a2009s_lh_volume_G+S-cingul-Ant</text>
</g>
<g transform="translate(161.70,246.09) scale(0.893,1)">
<text x="0.00" y="0.00" font-size="4.48" fill="#262626">IVW</text>
</g>
<g transform="translate(180.70,246.09) scale(0.893,1)">
<text x="0.00" y="0.00" font-size="4.48" fill="#262626">28</text>
</g>
<g transform="translate(197.30,246.09) scale(0.893,1)">
<text x="0.00" y="0.00" font-size="4.48" fill="#262626">&lt;0.01</text>
</g>
<g transform="translate(265.30,246.09) scale(0.893,1)">
<text x="0.00" y="0.00" font-size="4.48" fill="#262626">1.087(1.025 to 1.153)</text>
</g>
<g transform="translate(308.00,246.09) scale(0.893,1)">
<text x="0.00" y="0.00" font-size="4.48" fill="#262626">0.190</text>
</g>
<g transform="translate(342.90,246.09) scale(0.893,1)">
<text x="0.00" y="0.00" font-size="4.48" fill="#262626">0.952</text>
</g>
<g transform="translate(71.80,252.36) scale(0.893,1)">
<text x="0.00" y="0.00" font-size="4.48" fill="#262626">aparc-a2009s_rh_area_G-cingul-Post-dorsal</text>
</g>
<g transform="translate(161.70,252.36) scale(0.893,1)">
<text x="0.00" y="0.00" font-size="4.48" fill="#262626">IVW</text>
</g>
<g transform="translate(180.70,252.36) scale(0.893,1)">
<text x="0.00" y="0.00" font-size="4.48" fill="#262626">28</text>
</g>
<g transform="translate(197.30,252.36) scale(0.893,1)">
<text x="0.00" y="0.00" font-size="4.48" fill="#262626">0.047</text>
</g>
<g transform="translate(265.30,252.36) scale(0.893,1)">
<text x="0.00" y="0.00" font-size="4.48" fill="#262626">1.055(1.001 to 1.112)</text>
</g>
<g transform="translate(308.00,252.36) scale(0.893,1)">
<text x="0.00" y="0.00" font-size="4.48" fill="#262626">0.638</text>
</g>
<g transform="translate(342.90,252.36) scale(0.893,1)">
<text x="0.00" y="0.00" font-size="4.48" fill="#262626">0.771</text>
</g>
<g transform="translate(71.80,258.63) scale(0.893,1)">
<text x="0.00" y="0.00" font-size="4.48" fill="#262626">aparc-a2009s_lh_area_G+S-cingul-Ant</text>
</g>
<g transform="translate(161.70,258.63) scale(0.893,1)">
<text x="0.00" y="0.00" font-size="4.48" fill="#262626">IVW</text>
</g>
<g transform="translate(180.70,258.63) scale(0.893,1)">
<text x="0.00" y="0.00" font-size="4.48" fill="#262626">28</text>
</g>
<g transform="translate(197.30,258.63) scale(0.893,1)">
<text x="0.00" y="0.00" font-size="4.48" fill="#262626">0.018</text>
</g>
<g transform="translate(265.30,258.63) scale(0.893,1)">
<text x="0.00" y="0.00" font-size="4.48" fill="#262626">1.084(1.014 to 1.158)</text>
</g>
<g transform="translate(308.00,258.63) scale(0.893,1)">
<text x="0.00" y="0.00" font-size="4.48" fill="#262626">0.023</text>
</g>
<g transform="translate(342.90,258.63) scale(0.893,1)">
<text x="0.00" y="0.00" font-size="4.48" fill="#262626">0.308</text>
</g>
<g transform="translate(71.80,264.90) scale(0.893,1)">
<text x="0.00" y="0.00" font-size="4.48" fill="#262626">aparc-a2009s_lh_area_G-cingul-Post-dorsal</text>
</g>
<g transform="translate(161.70,264.90) scale(0.893,1)">
<text x="0.00" y="0.00" font-size="4.48" fill="#262626">IVW</text>
</g>
<g transform="translate(180.70,264.90) scale(0.893,1)">
<text x="0.00" y="0.00" font-size="4.48" fill="#262626">28</text>
</g>
<g transform="translate(197.30,264.90) scale(0.893,1)">
<text x="0.00" y="0.00" font-size="4.48" fill="#262626">&lt;0.01</text>
</g>
<g transform="translate(265.30,264.90) scale(0.893,1)">
<text x="0.00" y="0.00" font-size="4.48" fill="#262626">1.073(1.016 to 1.131)</text>
</g>
<g transform="translate(308.00,264.90) scale(0.893,1)">
<text x="0.00" y="0.00" font-size="4.48" fill="#262626">0.806</text>
</g>
<g transform="translate(342.90,264.90) scale(0.893,1)">
<text x="0.00" y="0.00" font-size="4.48" fill="#262626">0.113</text>
</g>
<g transform="translate(71.80,271.17) scale(0.893,1)">
<text x="0.00" y="0.00" font-size="4.48" fill="#262626">aparc-a2009s_rh_volume_G-temp-sup-Plan-polar</text>
</g>
<g transform="translate(161.70,271.17) scale(0.893,1)">
<text x="0.00" y="0.00" font-size="4.48" fill="#262626">IVW</text>
</g>
<g transform="translate(180.70,271.17) scale(0.893,1)">
<text x="0.00" y="0.00" font-size="4.48" fill="#262626">28</text>
</g>
<g transform="translate(197.30,271.17) scale(0.893,1)">
<text x="0.00" y="0.00" font-size="4.48" fill="#262626">0.025</text>
</g>
<g transform="translate(265.30,271.17) scale(0.893,1)">
<text x="0.00" y="0.00" font-size="4.48" fill="#262626">1.062(1.006 to 1.120)</text>
</g>
<g transform="translate(308.00,271.17) scale(0.893,1)">
<text x="0.00" y="0.00" font-size="4.48" fill="#262626">0.659</text>
</g>
<g transform="translate(342.90,271.17) scale(0.893,1)">
<text x="0.00" y="0.00" font-size="4.48" fill="#262626">0.045</text>
</g>
<line x1="240.88" y1="106.20" x2="254.79" y2="106.20" stroke="#5683c6" stroke-width="0.85"/>
<line x1="240.88" y1="105.20" x2="240.88" y2="107.20" stroke="#5b84c4" stroke-width="0.5"/>
<line x1="254.79" y1="105.20" x2="254.79" y2="107.20" stroke="#5b84c4" stroke-width="0.5"/>
<rect x="246.57" y="105.05" width="2.3" height="2.3" fill="#3c6ab4"/>
<line x1="239.42" y1="112.47" x2="253.08" y2="112.47" stroke="#5683c6" stroke-width="0.85"/>
<line x1="239.42" y1="111.47" x2="239.42" y2="113.47" stroke="#5b84c4" stroke-width="0.5"/>
<line x1="253.08" y1="111.47" x2="253.08" y2="113.47" stroke="#5b84c4" stroke-width="0.5"/>
<rect x="244.98" y="111.32" width="2.3" height="2.3" fill="#3c6ab4"/>
<line x1="240.27" y1="118.74" x2="254.06" y2="118.74" stroke="#5683c6" stroke-width="0.85"/>
<line x1="240.27" y1="117.74" x2="240.27" y2="119.74" stroke="#5b84c4" stroke-width="0.5"/>
<line x1="254.06" y1="117.74" x2="254.06" y2="119.74" stroke="#5b84c4" stroke-width="0.5"/>
<rect x="245.83" y="117.59" width="2.3" height="2.3" fill="#3c6ab4"/>
<line x1="225.02" y1="125.01" x2="237.10" y2="125.01" stroke="#5683c6" stroke-width="0.85"/>
<line x1="225.02" y1="124.01" x2="225.02" y2="126.01" stroke="#5b84c4" stroke-width="0.5"/>
<line x1="237.10" y1="124.01" x2="237.10" y2="126.01" stroke="#5b84c4" stroke-width="0.5"/>
<rect x="229.73" y="123.86" width="2.3" height="2.3" fill="#3c6ab4"/>
<line x1="240.15" y1="131.28" x2="253.94" y2="131.28" stroke="#5683c6" stroke-width="0.85"/>
<line x1="240.15" y1="130.28" x2="240.15" y2="132.28" stroke="#5b84c4" stroke-width="0.5"/>
<line x1="253.94" y1="130.28" x2="253.94" y2="132.28" stroke="#5b84c4" stroke-width="0.5"/>
<rect x="245.71" y="130.13" width="2.3" height="2.3" fill="#3c6ab4"/>
<line x1="238.69" y1="137.55" x2="252.35" y2="137.55" stroke="#5683c6" stroke-width="0.85"/>
<line x1="238.69" y1="136.55" x2="238.69" y2="138.55" stroke="#5b84c4" stroke-width="0.5"/>
<line x1="252.35" y1="136.55" x2="252.35" y2="138.55" stroke="#5b84c4" stroke-width="0.5"/>
<rect x="244.13" y="136.40" width="2.3" height="2.3" fill="#3c6ab4"/>
<line x1="241.86" y1="143.82" x2="256.01" y2="143.82" stroke="#5683c6" stroke-width="0.85"/>
<line x1="241.86" y1="142.82" x2="241.86" y2="144.82" stroke="#5b84c4" stroke-width="0.5"/>
<line x1="256.01" y1="142.82" x2="256.01" y2="144.82" stroke="#5b84c4" stroke-width="0.5"/>
<rect x="247.54" y="142.67" width="2.3" height="2.3" fill="#3c6ab4"/>
<line x1="238.20" y1="150.09" x2="253.57" y2="150.09" stroke="#5683c6" stroke-width="0.85"/>
<line x1="238.20" y1="149.09" x2="238.20" y2="151.09" stroke="#5b84c4" stroke-width="0.5"/>
<line x1="253.57" y1="149.09" x2="253.57" y2="151.09" stroke="#5b84c4" stroke-width="0.5"/>
<rect x="244.49" y="148.94" width="2.3" height="2.3" fill="#3c6ab4"/>
<line x1="238.20" y1="156.36" x2="251.86" y2="156.36" stroke="#5683c6" stroke-width="0.85"/>
<line x1="238.20" y1="155.36" x2="238.20" y2="157.36" stroke="#5b84c4" stroke-width="0.5"/>
<line x1="251.86" y1="155.36" x2="251.86" y2="157.36" stroke="#5b84c4" stroke-width="0.5"/>
<rect x="243.76" y="155.21" width="2.3" height="2.3" fill="#3c6ab4"/>
<line x1="239.05" y1="162.63" x2="252.84" y2="162.63" stroke="#5683c6" stroke-width="0.85"/>
<line x1="239.05" y1="161.63" x2="239.05" y2="163.63" stroke="#5b84c4" stroke-width="0.5"/>
<line x1="252.84" y1="161.63" x2="252.84" y2="163.63" stroke="#5b84c4" stroke-width="0.5"/>
<rect x="244.61" y="161.48" width="2.3" height="2.3" fill="#3c6ab4"/>
<line x1="241.01" y1="168.90" x2="254.91" y2="168.90" stroke="#5683c6" stroke-width="0.85"/>
<line x1="241.01" y1="167.90" x2="241.01" y2="169.90" stroke="#5b84c4" stroke-width="0.5"/>
<line x1="254.91" y1="167.90" x2="254.91" y2="169.90" stroke="#5b84c4" stroke-width="0.5"/>
<rect x="246.69" y="167.75" width="2.3" height="2.3" fill="#3c6ab4"/>
<line x1="238.44" y1="175.17" x2="252.11" y2="175.17" stroke="#5683c6" stroke-width="0.85"/>
<line x1="238.44" y1="174.17" x2="238.44" y2="176.17" stroke="#5b84c4" stroke-width="0.5"/>
<line x1="252.11" y1="174.17" x2="252.11" y2="176.17" stroke="#5b84c4" stroke-width="0.5"/>
<rect x="243.88" y="174.02" width="2.3" height="2.3" fill="#3c6ab4"/>
<line x1="239.91" y1="181.44" x2="253.69" y2="181.44" stroke="#5683c6" stroke-width="0.85"/>
<line x1="239.91" y1="180.44" x2="239.91" y2="182.44" stroke="#5b84c4" stroke-width="0.5"/>
<line x1="253.69" y1="180.44" x2="253.69" y2="182.44" stroke="#5b84c4" stroke-width="0.5"/>
<rect x="245.47" y="180.29" width="2.3" height="2.3" fill="#3c6ab4"/>
<line x1="240.88" y1="187.71" x2="254.79" y2="187.71" stroke="#5683c6" stroke-width="0.85"/>
<line x1="240.88" y1="186.71" x2="240.88" y2="188.71" stroke="#5b84c4" stroke-width="0.5"/>
<line x1="254.79" y1="186.71" x2="254.79" y2="188.71" stroke="#5b84c4" stroke-width="0.5"/>
<rect x="246.44" y="186.56" width="2.3" height="2.3" fill="#3c6ab4"/>
<line x1="238.32" y1="193.98" x2="251.86" y2="193.98" stroke="#5683c6" stroke-width="0.85"/>
<line x1="238.32" y1="192.98" x2="238.32" y2="194.98" stroke="#5b84c4" stroke-width="0.5"/>
<line x1="251.86" y1="192.98" x2="251.86" y2="194.98" stroke="#5b84c4" stroke-width="0.5"/>
<rect x="243.76" y="192.83" width="2.3" height="2.3" fill="#3c6ab4"/>
<line x1="239.05" y1="200.25" x2="252.72" y2="200.25" stroke="#5683c6" stroke-width="0.85"/>
<line x1="239.05" y1="199.25" x2="239.05" y2="201.25" stroke="#5b84c4" stroke-width="0.5"/>
<line x1="252.72" y1="199.25" x2="252.72" y2="201.25" stroke="#5b84c4" stroke-width="0.5"/>
<rect x="244.61" y="199.10" width="2.3" height="2.3" fill="#3c6ab4"/>
<line x1="238.57" y1="206.52" x2="252.23" y2="206.52" stroke="#5683c6" stroke-width="0.85"/>
<line x1="238.57" y1="205.52" x2="238.57" y2="207.52" stroke="#5b84c4" stroke-width="0.5"/>
<line x1="252.23" y1="205.52" x2="252.23" y2="207.52" stroke="#5b84c4" stroke-width="0.5"/>
<rect x="244.00" y="205.37" width="2.3" height="2.3" fill="#3c6ab4"/>
<line x1="242.47" y1="212.79" x2="258.09" y2="212.79" stroke="#5683c6" stroke-width="0.85"/>
<line x1="242.47" y1="211.79" x2="242.47" y2="213.79" stroke="#5b84c4" stroke-width="0.5"/>
<line x1="258.09" y1="211.79" x2="258.09" y2="213.79" stroke="#5b84c4" stroke-width="0.5"/>
<rect x="248.88" y="211.64" width="2.3" height="2.3" fill="#3c6ab4"/>
<line x1="238.93" y1="219.06" x2="252.84" y2="219.06" stroke="#5683c6" stroke-width="0.85"/>
<line x1="238.93" y1="218.06" x2="238.93" y2="220.06" stroke="#5b84c4" stroke-width="0.5"/>
<line x1="252.84" y1="218.06" x2="252.84" y2="220.06" stroke="#5b84c4" stroke-width="0.5"/>
<rect x="244.61" y="217.91" width="2.3" height="2.3" fill="#3c6ab4"/>
<line x1="241.62" y1="225.33" x2="255.52" y2="225.33" stroke="#5683c6" stroke-width="0.85"/>
<line x1="241.62" y1="224.33" x2="241.62" y2="226.33" stroke="#5b84c4" stroke-width="0.5"/>
<line x1="255.52" y1="224.33" x2="255.52" y2="226.33" stroke="#5b84c4" stroke-width="0.5"/>
<rect x="247.30" y="224.18" width="2.3" height="2.3" fill="#3c6ab4"/>
<line x1="222.58" y1="231.60" x2="235.03" y2="231.60" stroke="#5683c6" stroke-width="0.85"/>
<line x1="222.58" y1="230.60" x2="222.58" y2="232.60" stroke="#5b84c4" stroke-width="0.5"/>
<line x1="235.03" y1="230.60" x2="235.03" y2="232.60" stroke="#5b84c4" stroke-width="0.5"/>
<rect x="227.41" y="230.45" width="2.3" height="2.3" fill="#3c6ab4"/>
<line x1="239.66" y1="237.87" x2="254.55" y2="237.87" stroke="#5683c6" stroke-width="0.85"/>
<line x1="239.66" y1="236.87" x2="239.66" y2="238.87" stroke="#5b84c4" stroke-width="0.5"/>
<line x1="254.55" y1="236.87" x2="254.55" y2="238.87" stroke="#5b84c4" stroke-width="0.5"/>
<rect x="245.83" y="236.72" width="2.3" height="2.3" fill="#3c6ab4"/>
<line x1="241.25" y1="244.14" x2="256.87" y2="244.14" stroke="#5683c6" stroke-width="0.85"/>
<line x1="241.25" y1="243.14" x2="241.25" y2="245.14" stroke="#5b84c4" stroke-width="0.5"/>
<line x1="256.87" y1="243.14" x2="256.87" y2="245.14" stroke="#5b84c4" stroke-width="0.5"/>
<rect x="247.66" y="242.99" width="2.3" height="2.3" fill="#3c6ab4"/>
<line x1="238.32" y1="250.41" x2="251.86" y2="250.41" stroke="#5683c6" stroke-width="0.85"/>
<line x1="238.32" y1="249.41" x2="238.32" y2="251.41" stroke="#5b84c4" stroke-width="0.5"/>
<line x1="251.86" y1="249.41" x2="251.86" y2="251.41" stroke="#5b84c4" stroke-width="0.5"/>
<rect x="243.76" y="249.26" width="2.3" height="2.3" fill="#3c6ab4"/>
<line x1="239.91" y1="256.68" x2="257.48" y2="256.68" stroke="#5683c6" stroke-width="0.85"/>
<line x1="239.91" y1="255.68" x2="239.91" y2="257.68" stroke="#5b84c4" stroke-width="0.5"/>
<line x1="257.48" y1="255.68" x2="257.48" y2="257.68" stroke="#5b84c4" stroke-width="0.5"/>
<rect x="247.30" y="255.53" width="2.3" height="2.3" fill="#3c6ab4"/>
<line x1="240.15" y1="262.95" x2="254.18" y2="262.95" stroke="#5683c6" stroke-width="0.85"/>
<line x1="240.15" y1="261.95" x2="240.15" y2="263.95" stroke="#5b84c4" stroke-width="0.5"/>
<line x1="254.18" y1="261.95" x2="254.18" y2="263.95" stroke="#5b84c4" stroke-width="0.5"/>
<rect x="245.96" y="261.80" width="2.3" height="2.3" fill="#3c6ab4"/>
<line x1="238.93" y1="269.22" x2="252.84" y2="269.22" stroke="#5683c6" stroke-width="0.85"/>
<line x1="238.93" y1="268.22" x2="238.93" y2="270.22" stroke="#5b84c4" stroke-width="0.5"/>
<line x1="252.84" y1="268.22" x2="252.84" y2="270.22" stroke="#5b84c4" stroke-width="0.5"/>
<rect x="244.61" y="268.07" width="2.3" height="2.3" fill="#3c6ab4"/>
<line x1="238.20" y1="103.06" x2="238.20" y2="272.35" stroke="#e8413c" stroke-width="0.8" stroke-dasharray="2,1.3"/>
<line x1="213.80" y1="272.50" x2="262.60" y2="272.50" stroke="#444" stroke-width="0.5"/>
<line x1="213.80" y1="272.50" x2="213.80" y2="273.80" stroke="#444" stroke-width="0.5"/>
<g transform="translate(213.80,279.10) scale(0.9,1)">
<text x="0.00" y="0.00" font-size="4.6" text-anchor="middle" fill="#222">0.8</text>
</g>
<line x1="226.00" y1="272.50" x2="226.00" y2="273.80" stroke="#444" stroke-width="0.5"/>
<g transform="translate(226.00,279.10) scale(0.9,1)">
<text x="0.00" y="0.00" font-size="4.6" text-anchor="middle" fill="#222">0.9</text>
</g>
<line x1="238.20" y1="272.50" x2="238.20" y2="273.80" stroke="#444" stroke-width="0.5"/>
<g transform="translate(238.20,279.10) scale(0.9,1)">
<text x="0.00" y="0.00" font-size="4.6" text-anchor="middle" fill="#222">1</text>
</g>
<line x1="250.40" y1="272.50" x2="250.40" y2="273.80" stroke="#444" stroke-width="0.5"/>
<g transform="translate(250.40,279.10) scale(0.9,1)">
<text x="0.00" y="0.00" font-size="4.6" text-anchor="middle" fill="#222">1.1</text>
</g>
<line x1="262.60" y1="272.50" x2="262.60" y2="273.80" stroke="#444" stroke-width="0.5"/>
<g transform="translate(262.60,279.10) scale(0.9,1)">
<text x="0.00" y="0.00" font-size="4.6" text-anchor="middle" fill="#222">1.2</text>
</g>
<line x1="208.40" y1="282.20" x2="237.00" y2="282.20" stroke="#777" stroke-width="0.4"/>
<line x1="239.90" y1="282.20" x2="258.00" y2="282.20" stroke="#777" stroke-width="0.4"/>
<g transform="translate(222.70,288.10) scale(0.9,1)">
<text x="0.00" y="0.00" font-size="4.4" text-anchor="middle" fill="#222">protective factor</text>
</g>
<g transform="translate(248.95,288.10) scale(0.9,1)">
<text x="0.00" y="0.00" font-size="4.4" text-anchor="middle" fill="#222">risk factor</text>
</g>
<text x="17.00" y="277.60" font-size="4.49" font-style="italic" fill="#2626e8" stroke="#2626e8" stroke-width="0.12">P&lt;0.05 was considered statistically significant</text>
<text x="0.80" y="480.00" font-size="24" font-family='"Liberation Serif", serif' fill="#000">h</text>
<rect x="16.1" y="478.64" width="359.09999999999997" height="6.12" fill="#f3f6f5"/>
<rect x="16.1" y="491.08" width="359.09999999999997" height="6.12" fill="#f3f6f5"/>
<rect x="16.1" y="503.52" width="359.09999999999997" height="6.12" fill="#f3f6f5"/>
<rect x="16.1" y="515.96" width="359.09999999999997" height="6.12" fill="#f3f6f5"/>
<g transform="translate(18.10,476.45) scale(0.93,1)">
<text x="0.00" y="0.00" font-size="4.3" font-weight="bold" fill="#1e1e1e">Main.exposure</text>
</g>
<g transform="translate(68.10,476.45) scale(0.93,1)">
<text x="0.00" y="0.00" font-size="4.3" font-weight="bold" fill="#1e1e1e">Main.outcome</text>
</g>
<g transform="translate(144.20,476.45) scale(0.93,1)">
<text x="0.00" y="0.00" font-size="4.3" font-weight="bold" fill="#1e1e1e">Method</text>
</g>
<g transform="translate(192.40,476.45) scale(0.93,1)">
<text x="0.00" y="0.00" font-size="4.3" font-weight="bold" fill="#1e1e1e">nSNP</text>
</g>
<g transform="translate(207.30,476.45) scale(0.93,1)">
<text x="0.00" y="0.00" font-size="4.3" font-weight="bold" fill="#1e1e1e">P.value</text>
</g>
<g transform="translate(273.80,476.45) scale(0.93,1)">
<text x="0.00" y="0.00" font-size="4.3" font-weight="bold" fill="#1e1e1e">OR(95%CI)</text>
</g>
<g transform="translate(315.30,476.45) scale(0.93,1)">
<text x="0.00" y="0.00" font-size="4.3" font-weight="bold" fill="#1e1e1e">Heterogeneity.P</text>
</g>
<g transform="translate(350.00,476.45) scale(0.93,1)">
<text x="0.00" y="0.00" font-size="4.3" font-weight="bold" fill="#1e1e1e">Pleiotropy.P</text>
</g>
<g transform="translate(18.10,483.75) scale(0.893,1)">
<text x="0.00" y="0.00" font-size="4.424" fill="#262626">Influenza</text>
</g>
<g transform="translate(68.10,483.75) scale(0.893,1)">
<text x="0.00" y="0.00" font-size="4.424" fill="#262626">IL-1b</text>
</g>
<g transform="translate(144.20,483.75) scale(0.893,1)">
<text x="0.00" y="0.00" font-size="4.424" fill="#262626">Inverse variance weighted</text>
</g>
<g transform="translate(192.40,483.75) scale(0.893,1)">
<text x="0.00" y="0.00" font-size="4.424" fill="#262626">17</text>
</g>
<g transform="translate(207.30,483.75) scale(0.893,1)">
<text x="0.00" y="0.00" font-size="4.424" fill="#262626">0.183</text>
</g>
<g transform="translate(273.80,483.75) scale(0.893,1)">
<text x="0.00" y="0.00" font-size="4.424" fill="#262626">1.033(0.751 to 1.318)</text>
</g>
<g transform="translate(315.30,483.75) scale(0.893,1)">
<text x="0.00" y="0.00" font-size="4.424" fill="#262626">0.346</text>
</g>
<g transform="translate(350.00,483.75) scale(0.893,1)">
<text x="0.00" y="0.00" font-size="4.424" fill="#262626">0.111</text>
</g>
<g transform="translate(68.10,489.97) scale(0.893,1)">
<text x="0.00" y="0.00" font-size="4.424" fill="#262626">Prostaglandin E synthase 2 measurement</text>
</g>
<g transform="translate(144.20,489.97) scale(0.893,1)">
<text x="0.00" y="0.00" font-size="4.424" fill="#262626">Inverse variance weighted</text>
</g>
<g transform="translate(192.40,489.97) scale(0.893,1)">
<text x="0.00" y="0.00" font-size="4.424" fill="#262626">17</text>
</g>
<g transform="translate(207.30,489.97) scale(0.893,1)">
<text x="0.00" y="0.00" font-size="4.424" fill="#262626">0.292</text>
</g>
<g transform="translate(273.80,489.97) scale(0.893,1)">
<text x="0.00" y="0.00" font-size="4.424" fill="#262626">0.950(0.864 to 1.045)</text>
</g>
<g transform="translate(315.30,489.97) scale(0.893,1)">
<text x="0.00" y="0.00" font-size="4.424" fill="#262626">0.285</text>
</g>
<g transform="translate(350.00,489.97) scale(0.893,1)">
<text x="0.00" y="0.00" font-size="4.424" fill="#262626">0.390</text>
</g>
<g transform="translate(68.10,496.19) scale(0.893,1)">
<text x="0.00" y="0.00" font-size="4.424" fill="#262626">CRP</text>
</g>
<g transform="translate(144.20,496.19) scale(0.893,1)">
<text x="0.00" y="0.00" font-size="4.424" fill="#262626">Inverse variance weighted</text>
</g>
<g transform="translate(192.40,496.19) scale(0.893,1)">
<text x="0.00" y="0.00" font-size="4.424" fill="#262626">17</text>
</g>
<g transform="translate(207.30,496.19) scale(0.893,1)">
<text x="0.00" y="0.00" font-size="4.424" fill="#262626">0.784</text>
</g>
<g transform="translate(273.80,496.19) scale(0.893,1)">
<text x="0.00" y="0.00" font-size="4.424" fill="#262626">1.099(0.884 to 1.291)</text>
</g>
<g transform="translate(315.30,496.19) scale(0.893,1)">
<text x="0.00" y="0.00" font-size="4.424" fill="#262626">0.385</text>
</g>
<g transform="translate(350.00,496.19) scale(0.893,1)">
<text x="0.00" y="0.00" font-size="4.424" fill="#262626">0.155</text>
</g>
<g transform="translate(68.10,502.41) scale(0.893,1)">
<text x="0.00" y="0.00" font-size="4.424" fill="#262626">IgM levels</text>
</g>
<g transform="translate(144.20,502.41) scale(0.893,1)">
<text x="0.00" y="0.00" font-size="4.424" fill="#262626">Inverse variance weighted</text>
</g>
<g transform="translate(192.40,502.41) scale(0.893,1)">
<text x="0.00" y="0.00" font-size="4.424" fill="#262626">17</text>
</g>
<g transform="translate(207.30,502.41) scale(0.893,1)">
<text x="0.00" y="0.00" font-size="4.424" fill="#262626">0.048</text>
</g>
<g transform="translate(273.80,502.41) scale(0.893,1)">
<text x="0.00" y="0.00" font-size="4.424" fill="#262626">1.090(1.001 to 1.193)</text>
</g>
<g transform="translate(315.30,502.41) scale(0.893,1)">
<text x="0.00" y="0.00" font-size="4.424" fill="#262626">0.324</text>
</g>
<g transform="translate(350.00,502.41) scale(0.893,1)">
<text x="0.00" y="0.00" font-size="4.424" fill="#262626">0.631</text>
</g>
<g transform="translate(68.10,508.63) scale(0.893,1)">
<text x="0.00" y="0.00" font-size="4.424" fill="#262626">IgA levels</text>
</g>
<g transform="translate(144.20,508.63) scale(0.893,1)">
<text x="0.00" y="0.00" font-size="4.424" fill="#262626">Inverse variance weighted</text>
</g>
<g transform="translate(192.40,508.63) scale(0.893,1)">
<text x="0.00" y="0.00" font-size="4.424" fill="#262626">17</text>
</g>
<g transform="translate(207.30,508.63) scale(0.893,1)">
<text x="0.00" y="0.00" font-size="4.424" fill="#262626">0.182</text>
</g>
<g transform="translate(273.80,508.63) scale(0.893,1)">
<text x="0.00" y="0.00" font-size="4.424" fill="#262626">1.050(0.977 to 1.148)</text>
</g>
<g transform="translate(315.30,508.63) scale(0.893,1)">
<text x="0.00" y="0.00" font-size="4.424" fill="#262626">0.371</text>
</g>
<g transform="translate(350.00,508.63) scale(0.893,1)">
<text x="0.00" y="0.00" font-size="4.424" fill="#262626">0.960</text>
</g>
<g transform="translate(68.10,514.85) scale(0.893,1)">
<text x="0.00" y="0.00" font-size="4.424" fill="#262626">Red blood cell count</text>
</g>
<g transform="translate(144.20,514.85) scale(0.893,1)">
<text x="0.00" y="0.00" font-size="4.424" fill="#262626">Inverse variance weighted</text>
</g>
<g transform="translate(192.40,514.85) scale(0.893,1)">
<text x="0.00" y="0.00" font-size="4.424" fill="#262626">17</text>
</g>
<g transform="translate(207.30,514.85) scale(0.893,1)">
<text x="0.00" y="0.00" font-size="4.424" fill="#262626">0.796</text>
</g>
<g transform="translate(273.80,514.85) scale(0.893,1)">
<text x="0.00" y="0.00" font-size="4.424" fill="#262626">1.003(0.979 to 1.028)</text>
</g>
<g transform="translate(315.30,514.85) scale(0.893,1)">
<text x="0.00" y="0.00" font-size="4.424" fill="#262626">0.592</text>
</g>
<g transform="translate(350.00,514.85) scale(0.893,1)">
<text x="0.00" y="0.00" font-size="4.424" fill="#262626">0.596</text>
</g>
<g transform="translate(68.10,521.07) scale(0.893,1)">
<text x="0.00" y="0.00" font-size="4.424" fill="#262626">neutrophil cell count</text>
</g>
<g transform="translate(144.20,521.07) scale(0.893,1)">
<text x="0.00" y="0.00" font-size="4.424" fill="#262626">Inverse variance weighted</text>
</g>
<g transform="translate(192.40,521.07) scale(0.893,1)">
<text x="0.00" y="0.00" font-size="4.424" fill="#262626">17</text>
</g>
<g transform="translate(207.30,521.07) scale(0.893,1)">
<text x="0.00" y="0.00" font-size="4.424" fill="#262626">0.003</text>
</g>
<g transform="translate(273.80,521.07) scale(0.893,1)">
<text x="0.00" y="0.00" font-size="4.424" fill="#262626">1.050(1.018 to 1.089)</text>
</g>
<g transform="translate(315.30,521.07) scale(0.893,1)">
<text x="0.00" y="0.00" font-size="4.424" fill="#262626">0.368</text>
</g>
<g transform="translate(350.00,521.07) scale(0.893,1)">
<text x="0.00" y="0.00" font-size="4.424" fill="#262626">0.221</text>
</g>
<line x1="233.63" y1="481.80" x2="266.80" y2="481.80" stroke="#5683c6" stroke-width="0.85"/>
<line x1="233.63" y1="480.80" x2="233.63" y2="482.80" stroke="#5b84c4" stroke-width="0.5"/>
<line x1="266.80" y1="480.80" x2="266.80" y2="482.80" stroke="#5b84c4" stroke-width="0.5"/>
<rect x="248.98" y="480.65" width="2.3" height="2.3" fill="#3c6ab4"/>
<line x1="240.24" y1="488.02" x2="250.83" y2="488.02" stroke="#5683c6" stroke-width="0.85"/>
<line x1="240.24" y1="487.02" x2="240.24" y2="489.02" stroke="#5b84c4" stroke-width="0.5"/>
<line x1="250.83" y1="487.02" x2="250.83" y2="489.02" stroke="#5b84c4" stroke-width="0.5"/>
<rect x="244.12" y="486.87" width="2.3" height="2.3" fill="#3c6ab4"/>
<line x1="241.41" y1="494.24" x2="265.22" y2="494.24" stroke="#5683c6" stroke-width="0.85"/>
<line x1="241.41" y1="493.24" x2="241.41" y2="495.24" stroke="#5b84c4" stroke-width="0.5"/>
<line x1="265.22" y1="493.24" x2="265.22" y2="495.24" stroke="#5b84c4" stroke-width="0.5"/>
<rect x="252.84" y="493.09" width="2.3" height="2.3" fill="#3c6ab4"/>
<line x1="248.26" y1="500.46" x2="259.49" y2="500.46" stroke="#5683c6" stroke-width="0.85"/>
<line x1="248.26" y1="499.46" x2="248.26" y2="501.46" stroke="#5b84c4" stroke-width="0.5"/>
<line x1="259.49" y1="499.46" x2="259.49" y2="501.46" stroke="#5b84c4" stroke-width="0.5"/>
<rect x="252.31" y="499.31" width="2.3" height="2.3" fill="#3c6ab4"/>
<line x1="246.85" y1="506.68" x2="256.86" y2="506.68" stroke="#5683c6" stroke-width="0.85"/>
<line x1="246.85" y1="505.68" x2="246.85" y2="507.68" stroke="#5b84c4" stroke-width="0.5"/>
<line x1="256.86" y1="505.68" x2="256.86" y2="507.68" stroke="#5b84c4" stroke-width="0.5"/>
<rect x="249.97" y="505.53" width="2.3" height="2.3" fill="#3c6ab4"/>
<line x1="246.97" y1="512.90" x2="249.84" y2="512.90" stroke="#5683c6" stroke-width="0.85"/>
<line x1="246.97" y1="511.90" x2="246.97" y2="513.90" stroke="#5b84c4" stroke-width="0.5"/>
<line x1="249.84" y1="511.90" x2="249.84" y2="513.90" stroke="#5b84c4" stroke-width="0.5"/>
<rect x="247.23" y="511.75" width="2.3" height="2.3" fill="#3c6ab4"/>
<line x1="249.25" y1="519.12" x2="253.41" y2="519.12" stroke="#5683c6" stroke-width="0.85"/>
<line x1="249.25" y1="518.12" x2="249.25" y2="520.12" stroke="#5b84c4" stroke-width="0.5"/>
<line x1="253.41" y1="518.12" x2="253.41" y2="520.12" stroke="#5b84c4" stroke-width="0.5"/>
<rect x="249.97" y="517.97" width="2.3" height="2.3" fill="#3c6ab4"/>
<line x1="248.20" y1="478.69" x2="248.20" y2="522.23" stroke="#e8413c" stroke-width="0.8" stroke-dasharray="2,1.3"/>
<line x1="224.80" y1="523.00" x2="271.60" y2="523.00" stroke="#444" stroke-width="0.5"/>
<line x1="224.80" y1="523.00" x2="224.80" y2="524.30" stroke="#444" stroke-width="0.5"/>
<g transform="translate(224.80,529.05) scale(0.9,1)">
<text x="0.00" y="0.00" font-size="4.6" text-anchor="middle" fill="#222">0.6</text>
</g>
<line x1="236.50" y1="523.00" x2="236.50" y2="524.30" stroke="#444" stroke-width="0.5"/>
<g transform="translate(236.50,529.05) scale(0.9,1)">
<text x="0.00" y="0.00" font-size="4.6" text-anchor="middle" fill="#222">0.8</text>
</g>
<line x1="248.20" y1="523.00" x2="248.20" y2="524.30" stroke="#444" stroke-width="0.5"/>
<g transform="translate(248.20,529.05) scale(0.9,1)">
<text x="0.00" y="0.00" font-size="4.6" text-anchor="middle" fill="#222">1</text>
</g>
<line x1="259.90" y1="523.00" x2="259.90" y2="524.30" stroke="#444" stroke-width="0.5"/>
<g transform="translate(259.90,529.05) scale(0.9,1)">
<text x="0.00" y="0.00" font-size="4.6" text-anchor="middle" fill="#222">1.2</text>
</g>
<line x1="271.60" y1="523.00" x2="271.60" y2="524.30" stroke="#444" stroke-width="0.5"/>
<g transform="translate(271.60,529.05) scale(0.9,1)">
<text x="0.00" y="0.00" font-size="4.6" text-anchor="middle" fill="#222">1.4</text>
</g>
<line x1="218.70" y1="532.90" x2="246.50" y2="532.90" stroke="#777" stroke-width="0.4"/>
<line x1="249.30" y1="532.90" x2="266.90" y2="532.90" stroke="#777" stroke-width="0.4"/>
<g transform="translate(232.60,537.90) scale(0.9,1)">
<text x="0.00" y="0.00" font-size="4.4" text-anchor="middle" fill="#222">protective factor</text>
</g>
<g transform="translate(258.10,537.90) scale(0.9,1)">
<text x="0.00" y="0.00" font-size="4.4" text-anchor="middle" fill="#222">risk factor</text>
</g>
<text x="16.00" y="527.60" font-size="4.34" font-style="italic" fill="#2626e8" stroke="#2626e8" stroke-width="0.12">P&lt;0.05 was considered statistically significant</text>
<text x="3.40" y="571.80" font-size="25.5" font-family='"Liberation Serif", serif' fill="#000">i</text>
<rect x="13.4" y="565.50" width="356.6" height="6.00" fill="#f3f6f5"/>
<rect x="13.4" y="577.70" width="356.6" height="6.00" fill="#f3f6f5"/>
<rect x="13.4" y="589.90" width="356.6" height="6.00" fill="#f3f6f5"/>
<rect x="13.4" y="602.10" width="356.6" height="6.00" fill="#f3f6f5"/>
<rect x="13.4" y="614.30" width="356.6" height="6.00" fill="#f3f6f5"/>
<rect x="13.4" y="626.50" width="356.6" height="6.00" fill="#f3f6f5"/>
<rect x="13.4" y="638.70" width="356.6" height="6.00" fill="#f3f6f5"/>
<rect x="13.4" y="650.90" width="356.6" height="6.00" fill="#f3f6f5"/>
<g transform="translate(15.20,563.45) scale(0.93,1)">
<text x="0.00" y="0.00" font-size="4.3" font-weight="bold" fill="#1e1e1e">Main.exposure</text>
</g>
<g transform="translate(56.70,563.45) scale(0.93,1)">
<text x="0.00" y="0.00" font-size="4.3" font-weight="bold" fill="#1e1e1e">Main.outcome</text>
</g>
<g transform="translate(141.50,563.45) scale(0.93,1)">
<text x="0.00" y="0.00" font-size="4.3" font-weight="bold" fill="#1e1e1e">Method</text>
</g>
<g transform="translate(188.90,563.45) scale(0.93,1)">
<text x="0.00" y="0.00" font-size="4.3" font-weight="bold" fill="#1e1e1e">nSNP</text>
</g>
<g transform="translate(204.10,563.45) scale(0.93,1)">
<text x="0.00" y="0.00" font-size="4.3" font-weight="bold" fill="#1e1e1e">P.value</text>
</g>
<g transform="translate(269.50,563.45) scale(0.93,1)">
<text x="0.00" y="0.00" font-size="4.3" font-weight="bold" fill="#1e1e1e">OR(95%CI)</text>
</g>
<g transform="translate(311.20,563.45) scale(0.93,1)">
<text x="0.00" y="0.00" font-size="4.3" font-weight="bold" fill="#1e1e1e">Heterogeneity.P</text>
</g>
<g transform="translate(344.40,563.45) scale(0.93,1)">
<text x="0.00" y="0.00" font-size="4.3" font-weight="bold" fill="#1e1e1e">Pleiotropy.P</text>
</g>
<g transform="translate(15.20,570.55) scale(0.893,1)">
<text x="0.00" y="0.00" font-size="4.312" fill="#262626">IgM</text>
</g>
<g transform="translate(56.70,570.55) scale(0.893,1)">
<text x="0.00" y="0.00" font-size="4.312" fill="#262626">aparc-a2009s_lh_area_G-orbital</text>
</g>
<g transform="translate(141.50,570.55) scale(0.893,1)">
<text x="0.00" y="0.00" font-size="4.312" fill="#262626">Inverse variance weighted</text>
</g>
<g transform="translate(188.90,570.55) scale(0.893,1)">
<text x="0.00" y="0.00" font-size="4.312" fill="#262626">33</text>
</g>
<g transform="translate(204.10,570.55) scale(0.893,1)">
<text x="0.00" y="0.00" font-size="4.312" fill="#262626">0.032</text>
</g>
<g transform="translate(269.50,570.55) scale(0.893,1)">
<text x="0.00" y="0.00" font-size="4.312" fill="#262626">0.889(0.793 to 0.988)</text>
</g>
<g transform="translate(311.20,570.55) scale(0.893,1)">
<text x="0.00" y="0.00" font-size="4.312" fill="#262626">0.239</text>
</g>
<g transform="translate(344.40,570.55) scale(0.893,1)">
<text x="0.00" y="0.00" font-size="4.312" fill="#262626">0.941</text>
</g>
<g transform="translate(15.20,576.65) scale(0.893,1)">
<text x="0.00" y="0.00" font-size="4.312" fill="#262626">neutrophil cell count</text>
</g>
<g transform="translate(56.70,576.65) scale(0.893,1)">
<text x="0.00" y="0.00" font-size="4.312" fill="#262626">aparc-a2009s_lh_area_G-front-inf-Opercular</text>
</g>
<g transform="translate(141.50,576.65) scale(0.893,1)">
<text x="0.00" y="0.00" font-size="4.312" fill="#262626">Inverse variance weighted</text>
</g>
<g transform="translate(188.90,576.65) scale(0.893,1)">
<text x="0.00" y="0.00" font-size="4.312" fill="#262626">42</text>
</g>
<g transform="translate(204.10,576.65) scale(0.893,1)">
<text x="0.00" y="0.00" font-size="4.312" fill="#262626">0.041</text>
</g>
<g transform="translate(269.50,576.65) scale(0.893,1)">
<text x="0.00" y="0.00" font-size="4.312" fill="#262626">0.921(0.852 to 0.997)</text>
</g>
<g transform="translate(311.20,576.65) scale(0.893,1)">
<text x="0.00" y="0.00" font-size="4.312" fill="#262626">0.651</text>
</g>
<g transform="translate(344.40,576.65) scale(0.893,1)">
<text x="0.00" y="0.00" font-size="4.312" fill="#262626">0.005</text>
</g>
<g transform="translate(56.70,582.75) scale(0.893,1)">
<text x="0.00" y="0.00" font-size="4.312" fill="#262626">aparc-a2009s_lh_area_G-front-inf-Triangul</text>
</g>
<g transform="translate(141.50,582.75) scale(0.893,1)">
<text x="0.00" y="0.00" font-size="4.312" fill="#262626">Inverse variance weighted</text>
</g>
<g transform="translate(188.90,582.75) scale(0.893,1)">
<text x="0.00" y="0.00" font-size="4.312" fill="#262626">42</text>
</g>
<g transform="translate(204.10,582.75) scale(0.893,1)">
<text x="0.00" y="0.00" font-size="4.312" fill="#262626">&lt;0.01</text>
</g>
<g transform="translate(269.50,582.75) scale(0.893,1)">
<text x="0.00" y="0.00" font-size="4.312" fill="#262626">0.887(0.820 to 0.960)</text>
</g>
<g transform="translate(311.20,582.75) scale(0.893,1)">
<text x="0.00" y="0.00" font-size="4.312" fill="#262626">0.726</text>
</g>
<g transform="translate(344.40,582.75) scale(0.893,1)">
<text x="0.00" y="0.00" font-size="4.312" fill="#262626">0.661</text>
</g>
<g transform="translate(56.70,588.85) scale(0.893,1)">
<text x="0.00" y="0.00" font-size="4.312" fill="#262626">aparc-a2009s_lh_area_S-precentral-inf-part</text>
</g>
<g transform="translate(141.50,588.85) scale(0.893,1)">
<text x="0.00" y="0.00" font-size="4.312" fill="#262626">Inverse variance weighted</text>
</g>
<g transform="translate(188.90,588.85) scale(0.893,1)">
<text x="0.00" y="0.00" font-size="4.312" fill="#262626">42</text>
</g>
<g transform="translate(204.10,588.85) scale(0.893,1)">
<text x="0.00" y="0.00" font-size="4.312" fill="#262626">0.019</text>
</g>
<g transform="translate(269.50,588.85) scale(0.893,1)">
<text x="0.00" y="0.00" font-size="4.312" fill="#262626">0.884(0.798 to 0.980)</text>
</g>
<g transform="translate(311.20,588.85) scale(0.893,1)">
<text x="0.00" y="0.00" font-size="4.312" fill="#262626">0.304</text>
</g>
<g transform="translate(344.40,588.85) scale(0.893,1)">
<text x="0.00" y="0.00" font-size="4.312" fill="#262626">0.131</text>
</g>
<g transform="translate(56.70,594.95) scale(0.893,1)">
<text x="0.00" y="0.00" font-size="4.312" fill="#262626">aparc-a2009s_lh_volume_G-front-inf-Triangul</text>
</g>
<g transform="translate(141.50,594.95) scale(0.893,1)">
<text x="0.00" y="0.00" font-size="4.312" fill="#262626">Inverse variance weighted</text>
</g>
<g transform="translate(188.90,594.95) scale(0.893,1)">
<text x="0.00" y="0.00" font-size="4.312" fill="#262626">42</text>
</g>
<g transform="translate(204.10,594.95) scale(0.893,1)">
<text x="0.00" y="0.00" font-size="4.312" fill="#262626">&lt;0.01</text>
</g>
<g transform="translate(269.50,594.95) scale(0.893,1)">
<text x="0.00" y="0.00" font-size="4.312" fill="#262626">0.881(0.814 to 0.953)</text>
</g>
<g transform="translate(311.20,594.95) scale(0.893,1)">
<text x="0.00" y="0.00" font-size="4.312" fill="#262626">0.647</text>
</g>
<g transform="translate(344.40,594.95) scale(0.893,1)">
<text x="0.00" y="0.00" font-size="4.312" fill="#262626">0.478</text>
</g>
<g transform="translate(56.70,601.05) scale(0.893,1)">
<text x="0.00" y="0.00" font-size="4.312" fill="#262626">aparc-a2009s_rh_area_G-front-inf-Opercular</text>
</g>
<g transform="translate(141.50,601.05) scale(0.893,1)">
<text x="0.00" y="0.00" font-size="4.312" fill="#262626">Inverse variance weighted</text>
</g>
<g transform="translate(188.90,601.05) scale(0.893,1)">
<text x="0.00" y="0.00" font-size="4.312" fill="#262626">42</text>
</g>
<g transform="translate(204.10,601.05) scale(0.893,1)">
<text x="0.00" y="0.00" font-size="4.312" fill="#262626">&lt;0.01</text>
</g>
<g transform="translate(269.50,601.05) scale(0.893,1)">
<text x="0.00" y="0.00" font-size="4.312" fill="#262626">0.888(0.815 to 0.968)</text>
</g>
<g transform="translate(311.20,601.05) scale(0.893,1)">
<text x="0.00" y="0.00" font-size="4.312" fill="#262626">0.175</text>
</g>
<g transform="translate(344.40,601.05) scale(0.893,1)">
<text x="0.00" y="0.00" font-size="4.312" fill="#262626">0.669</text>
</g>
<g transform="translate(56.70,607.15) scale(0.893,1)">
<text x="0.00" y="0.00" font-size="4.312" fill="#262626">aparc-a2009s_rh_area_G-orbital</text>
</g>
<g transform="translate(141.50,607.15) scale(0.893,1)">
<text x="0.00" y="0.00" font-size="4.312" fill="#262626">Inverse variance weighted</text>
</g>
<g transform="translate(188.90,607.15) scale(0.893,1)">
<text x="0.00" y="0.00" font-size="4.312" fill="#262626">42</text>
</g>
<g transform="translate(204.10,607.15) scale(0.893,1)">
<text x="0.00" y="0.00" font-size="4.312" fill="#262626">&lt;0.01</text>
</g>
<g transform="translate(269.50,607.15) scale(0.893,1)">
<text x="0.00" y="0.00" font-size="4.312" fill="#262626">0.897(0.829 to 0.971)</text>
</g>
<g transform="translate(311.20,607.15) scale(0.893,1)">
<text x="0.00" y="0.00" font-size="4.312" fill="#262626">0.446</text>
</g>
<g transform="translate(344.40,607.15) scale(0.893,1)">
<text x="0.00" y="0.00" font-size="4.312" fill="#262626">0.004</text>
</g>
<g transform="translate(56.70,613.25) scale(0.893,1)">
<text x="0.00" y="0.00" font-size="4.312" fill="#262626">aparc-a2009s_rh_volume_G-front-inf-Opercular</text>
</g>
<g transform="translate(141.50,613.25) scale(0.893,1)">
<text x="0.00" y="0.00" font-size="4.312" fill="#262626">Inverse variance weighted</text>
</g>
<g transform="translate(188.90,613.25) scale(0.893,1)">
<text x="0.00" y="0.00" font-size="4.312" fill="#262626">42</text>
</g>
<g transform="translate(204.10,613.25) scale(0.893,1)">
<text x="0.00" y="0.00" font-size="4.312" fill="#262626">&lt;0.01</text>
</g>
<g transform="translate(269.50,613.25) scale(0.893,1)">
<text x="0.00" y="0.00" font-size="4.312" fill="#262626">0.894(0.826 to 0.967)</text>
</g>
<g transform="translate(311.20,613.25) scale(0.893,1)">
<text x="0.00" y="0.00" font-size="4.312" fill="#262626">0.489</text>
</g>
<g transform="translate(344.40,613.25) scale(0.893,1)">
<text x="0.00" y="0.00" font-size="4.312" fill="#262626">0.447</text>
</g>
<g transform="translate(56.70,619.35) scale(0.893,1)">
<text x="0.00" y="0.00" font-size="4.312" fill="#262626">aparc-a2009s_rh_volume_G-orbital</text>
</g>
<g transform="translate(141.50,619.35) scale(0.893,1)">
<text x="0.00" y="0.00" font-size="4.312" fill="#262626">Inverse variance weighted</text>
</g>
<g transform="translate(188.90,619.35) scale(0.893,1)">
<text x="0.00" y="0.00" font-size="4.312" fill="#262626">42</text>
</g>
<g transform="translate(204.10,619.35) scale(0.893,1)">
<text x="0.00" y="0.00" font-size="4.312" fill="#262626">&lt;0.01</text>
</g>
<g transform="translate(269.50,619.35) scale(0.893,1)">
<text x="0.00" y="0.00" font-size="4.312" fill="#262626">0.898(0.829 to 0.972)</text>
</g>
<g transform="translate(311.20,619.35) scale(0.893,1)">
<text x="0.00" y="0.00" font-size="4.312" fill="#262626">0.413</text>
</g>
<g transform="translate(344.40,619.35) scale(0.893,1)">
<text x="0.00" y="0.00" font-size="4.312" fill="#262626">0.296</text>
</g>
<g transform="translate(56.70,625.45) scale(0.893,1)">
<text x="0.00" y="0.00" font-size="4.312" fill="#262626">aparc-a2009s_rh_volume_G-rectus</text>
</g>
<g transform="translate(141.50,625.45) scale(0.893,1)">
<text x="0.00" y="0.00" font-size="4.312" fill="#262626">Inverse variance weighted</text>
</g>
<g transform="translate(188.90,625.45) scale(0.893,1)">
<text x="0.00" y="0.00" font-size="4.312" fill="#262626">42</text>
</g>
<g transform="translate(204.10,625.45) scale(0.893,1)">
<text x="0.00" y="0.00" font-size="4.312" fill="#262626">&lt;0.01</text>
</g>
<g transform="translate(269.50,625.45) scale(0.893,1)">
<text x="0.00" y="0.00" font-size="4.312" fill="#262626">0.880(0.808 to 0.958)</text>
</g>
<g transform="translate(311.20,625.45) scale(0.893,1)">
<text x="0.00" y="0.00" font-size="4.312" fill="#262626">0.185</text>
</g>
<g transform="translate(344.40,625.45) scale(0.893,1)">
<text x="0.00" y="0.00" font-size="4.312" fill="#262626">0.733</text>
</g>
<g transform="translate(56.70,631.55) scale(0.893,1)">
<text x="0.00" y="0.00" font-size="4.312" fill="#262626">aparc-a2009s_rh_volume_G-subcallosal</text>
</g>
<g transform="translate(141.50,631.55) scale(0.893,1)">
<text x="0.00" y="0.00" font-size="4.312" fill="#262626">Inverse variance weighted</text>
</g>
<g transform="translate(188.90,631.55) scale(0.893,1)">
<text x="0.00" y="0.00" font-size="4.312" fill="#262626">42</text>
</g>
<g transform="translate(204.10,631.55) scale(0.893,1)">
<text x="0.00" y="0.00" font-size="4.312" fill="#262626">&lt;0.01</text>
</g>
<g transform="translate(269.50,631.55) scale(0.893,1)">
<text x="0.00" y="0.00" font-size="4.312" fill="#262626">0.896(0.828 to 0.969)</text>
</g>
<g transform="translate(311.20,631.55) scale(0.893,1)">
<text x="0.00" y="0.00" font-size="4.312" fill="#262626">0.490</text>
</g>
<g transform="translate(344.40,631.55) scale(0.893,1)">
<text x="0.00" y="0.00" font-size="4.312" fill="#262626">0.129</text>
</g>
<g transform="translate(56.70,637.65) scale(0.893,1)">
<text x="0.00" y="0.00" font-size="4.312" fill="#262626">aparc-a2009s_rh_area_G-front-inf-Orbital</text>
</g>
<g transform="translate(141.50,637.65) scale(0.893,1)">
<text x="0.00" y="0.00" font-size="4.312" fill="#262626">Inverse variance weighted</text>
</g>
<g transform="translate(188.90,637.65) scale(0.893,1)">
<text x="0.00" y="0.00" font-size="4.312" fill="#262626">42</text>
</g>
<g transform="translate(204.10,637.65) scale(0.893,1)">
<text x="0.00" y="0.00" font-size="4.312" fill="#262626">0.015</text>
</g>
<g transform="translate(269.50,637.65) scale(0.893,1)">
<text x="0.00" y="0.00" font-size="4.312" fill="#262626">0.905(0.837 to 0.976)</text>
</g>
<g transform="translate(311.20,637.65) scale(0.893,1)">
<text x="0.00" y="0.00" font-size="4.312" fill="#262626">0.885</text>
</g>
<g transform="translate(344.40,637.65) scale(0.893,1)">
<text x="0.00" y="0.00" font-size="4.312" fill="#262626">0.733</text>
</g>
<g transform="translate(56.70,643.75) scale(0.893,1)">
<text x="0.00" y="0.00" font-size="4.312" fill="#262626">aparc-a2009s_lh_volume_G-subcallosal</text>
</g>
<g transform="translate(141.50,643.75) scale(0.893,1)">
<text x="0.00" y="0.00" font-size="4.312" fill="#262626">Inverse variance weighted</text>
</g>
<g transform="translate(188.90,643.75) scale(0.893,1)">
<text x="0.00" y="0.00" font-size="4.312" fill="#262626">42</text>
</g>
<g transform="translate(204.10,643.75) scale(0.893,1)">
<text x="0.00" y="0.00" font-size="4.312" fill="#262626">0.034</text>
</g>
<g transform="translate(269.50,643.75) scale(0.893,1)">
<text x="0.00" y="0.00" font-size="4.312" fill="#262626">0.907(0.828 to 0.993)</text>
</g>
<g transform="translate(311.20,643.75) scale(0.893,1)">
<text x="0.00" y="0.00" font-size="4.312" fill="#262626">0.381</text>
</g>
<g transform="translate(344.40,643.75) scale(0.893,1)">
<text x="0.00" y="0.00" font-size="4.312" fill="#262626">0.115</text>
</g>
<g transform="translate(56.70,649.85) scale(0.893,1)">
<text x="0.00" y="0.00" font-size="4.312" fill="#262626">aparc-a2009s_rh_area_Lat-Fis-ant-Vertical</text>
</g>
<g transform="translate(141.50,649.85) scale(0.893,1)">
<text x="0.00" y="0.00" font-size="4.312" fill="#262626">Inverse variance weighted</text>
</g>
<g transform="translate(188.90,649.85) scale(0.893,1)">
<text x="0.00" y="0.00" font-size="4.312" fill="#262626">42</text>
</g>
<g transform="translate(204.10,649.85) scale(0.893,1)">
<text x="0.00" y="0.00" font-size="4.312" fill="#262626">&lt;0.01</text>
</g>
<g transform="translate(269.50,649.85) scale(0.893,1)">
<text x="0.00" y="0.00" font-size="4.312" fill="#262626">0.895(0.827 to 0.968)</text>
</g>
<g transform="translate(311.20,649.85) scale(0.893,1)">
<text x="0.00" y="0.00" font-size="4.312" fill="#262626">0.954</text>
</g>
<g transform="translate(344.40,649.85) scale(0.893,1)">
<text x="0.00" y="0.00" font-size="4.312" fill="#262626">0.587</text>
</g>
<g transform="translate(56.70,655.95) scale(0.893,1)">
<text x="0.00" y="0.00" font-size="4.312" fill="#262626">aparc-a2009s_rh_volume_Lat-Fis-ant-Vertical</text>
</g>
<g transform="translate(141.50,655.95) scale(0.893,1)">
<text x="0.00" y="0.00" font-size="4.312" fill="#262626">Inverse variance weighted</text>
</g>
<g transform="translate(188.90,655.95) scale(0.893,1)">
<text x="0.00" y="0.00" font-size="4.312" fill="#262626">42</text>
</g>
<g transform="translate(204.10,655.95) scale(0.893,1)">
<text x="0.00" y="0.00" font-size="4.312" fill="#262626">&lt;0.01</text>
</g>
<g transform="translate(269.50,655.95) scale(0.893,1)">
<text x="0.00" y="0.00" font-size="4.312" fill="#262626">0.889(0.822 to 0.961)</text>
</g>
<g transform="translate(311.20,655.95) scale(0.893,1)">
<text x="0.00" y="0.00" font-size="4.312" fill="#262626">0.920</text>
</g>
<g transform="translate(344.40,655.95) scale(0.893,1)">
<text x="0.00" y="0.00" font-size="4.312" fill="#262626">0.414</text>
</g>
<line x1="228.26" y1="568.60" x2="243.37" y2="568.60" stroke="#5683c6" stroke-width="0.85"/>
<line x1="228.26" y1="567.60" x2="228.26" y2="569.60" stroke="#5b84c4" stroke-width="0.5"/>
<line x1="243.37" y1="567.60" x2="243.37" y2="569.60" stroke="#5b84c4" stroke-width="0.5"/>
<rect x="234.55" y="567.45" width="2.3" height="2.3" fill="#3c6ab4"/>
<line x1="232.83" y1="574.70" x2="244.07" y2="574.70" stroke="#5683c6" stroke-width="0.85"/>
<line x1="232.83" y1="573.70" x2="232.83" y2="575.70" stroke="#5b84c4" stroke-width="0.5"/>
<line x1="244.07" y1="573.70" x2="244.07" y2="575.70" stroke="#5b84c4" stroke-width="0.5"/>
<rect x="237.03" y="573.55" width="2.3" height="2.3" fill="#3c6ab4"/>
<line x1="230.35" y1="580.80" x2="241.20" y2="580.80" stroke="#5683c6" stroke-width="0.85"/>
<line x1="230.35" y1="579.80" x2="230.35" y2="581.80" stroke="#5b84c4" stroke-width="0.5"/>
<line x1="241.20" y1="579.80" x2="241.20" y2="581.80" stroke="#5b84c4" stroke-width="0.5"/>
<rect x="234.39" y="579.65" width="2.3" height="2.3" fill="#3c6ab4"/>
<line x1="228.65" y1="586.90" x2="242.75" y2="586.90" stroke="#5683c6" stroke-width="0.85"/>
<line x1="228.65" y1="585.90" x2="228.65" y2="587.90" stroke="#5b84c4" stroke-width="0.5"/>
<line x1="242.75" y1="585.90" x2="242.75" y2="587.90" stroke="#5b84c4" stroke-width="0.5"/>
<rect x="234.16" y="585.75" width="2.3" height="2.3" fill="#3c6ab4"/>
<line x1="229.89" y1="593.00" x2="240.66" y2="593.00" stroke="#5683c6" stroke-width="0.85"/>
<line x1="229.89" y1="592.00" x2="229.89" y2="594.00" stroke="#5b84c4" stroke-width="0.5"/>
<line x1="240.66" y1="592.00" x2="240.66" y2="594.00" stroke="#5b84c4" stroke-width="0.5"/>
<rect x="233.93" y="591.85" width="2.3" height="2.3" fill="#3c6ab4"/>
<line x1="229.96" y1="599.10" x2="241.82" y2="599.10" stroke="#5683c6" stroke-width="0.85"/>
<line x1="229.96" y1="598.10" x2="229.96" y2="600.10" stroke="#5b84c4" stroke-width="0.5"/>
<line x1="241.82" y1="598.10" x2="241.82" y2="600.10" stroke="#5b84c4" stroke-width="0.5"/>
<rect x="234.47" y="597.95" width="2.3" height="2.3" fill="#3c6ab4"/>
<line x1="231.05" y1="605.20" x2="242.05" y2="605.20" stroke="#5683c6" stroke-width="0.85"/>
<line x1="231.05" y1="604.20" x2="231.05" y2="606.20" stroke="#5b84c4" stroke-width="0.5"/>
<line x1="242.05" y1="604.20" x2="242.05" y2="606.20" stroke="#5b84c4" stroke-width="0.5"/>
<rect x="235.17" y="604.05" width="2.3" height="2.3" fill="#3c6ab4"/>
<line x1="230.81" y1="611.30" x2="241.74" y2="611.30" stroke="#5683c6" stroke-width="0.85"/>
<line x1="230.81" y1="610.30" x2="230.81" y2="612.30" stroke="#5b84c4" stroke-width="0.5"/>
<line x1="241.74" y1="610.30" x2="241.74" y2="612.30" stroke="#5b84c4" stroke-width="0.5"/>
<rect x="234.94" y="610.15" width="2.3" height="2.3" fill="#3c6ab4"/>
<line x1="231.05" y1="617.40" x2="242.13" y2="617.40" stroke="#5683c6" stroke-width="0.85"/>
<line x1="231.05" y1="616.40" x2="231.05" y2="618.40" stroke="#5b84c4" stroke-width="0.5"/>
<line x1="242.13" y1="616.40" x2="242.13" y2="618.40" stroke="#5b84c4" stroke-width="0.5"/>
<rect x="235.25" y="616.25" width="2.3" height="2.3" fill="#3c6ab4"/>
<line x1="229.42" y1="623.50" x2="241.05" y2="623.50" stroke="#5683c6" stroke-width="0.85"/>
<line x1="229.42" y1="622.50" x2="229.42" y2="624.50" stroke="#5b84c4" stroke-width="0.5"/>
<line x1="241.05" y1="622.50" x2="241.05" y2="624.50" stroke="#5b84c4" stroke-width="0.5"/>
<rect x="233.85" y="622.35" width="2.3" height="2.3" fill="#3c6ab4"/>
<line x1="230.97" y1="629.60" x2="241.90" y2="629.60" stroke="#5683c6" stroke-width="0.85"/>
<line x1="230.97" y1="628.60" x2="230.97" y2="630.60" stroke="#5b84c4" stroke-width="0.5"/>
<line x1="241.90" y1="628.60" x2="241.90" y2="630.60" stroke="#5b84c4" stroke-width="0.5"/>
<rect x="235.09" y="628.45" width="2.3" height="2.3" fill="#3c6ab4"/>
<line x1="231.67" y1="635.70" x2="242.44" y2="635.70" stroke="#5683c6" stroke-width="0.85"/>
<line x1="231.67" y1="634.70" x2="231.67" y2="636.70" stroke="#5b84c4" stroke-width="0.5"/>
<line x1="242.44" y1="634.70" x2="242.44" y2="636.70" stroke="#5b84c4" stroke-width="0.5"/>
<rect x="235.79" y="634.55" width="2.3" height="2.3" fill="#3c6ab4"/>
<line x1="230.97" y1="641.80" x2="243.76" y2="641.80" stroke="#5683c6" stroke-width="0.85"/>
<line x1="230.97" y1="640.80" x2="230.97" y2="642.80" stroke="#5b84c4" stroke-width="0.5"/>
<line x1="243.76" y1="640.80" x2="243.76" y2="642.80" stroke="#5b84c4" stroke-width="0.5"/>
<rect x="235.94" y="640.65" width="2.3" height="2.3" fill="#3c6ab4"/>
<line x1="230.89" y1="647.90" x2="241.82" y2="647.90" stroke="#5683c6" stroke-width="0.85"/>
<line x1="230.89" y1="646.90" x2="230.89" y2="648.90" stroke="#5b84c4" stroke-width="0.5"/>
<line x1="241.82" y1="646.90" x2="241.82" y2="648.90" stroke="#5b84c4" stroke-width="0.5"/>
<rect x="235.01" y="646.75" width="2.3" height="2.3" fill="#3c6ab4"/>
<line x1="230.50" y1="654.00" x2="241.28" y2="654.00" stroke="#5683c6" stroke-width="0.85"/>
<line x1="230.50" y1="653.00" x2="230.50" y2="655.00" stroke="#5b84c4" stroke-width="0.5"/>
<line x1="241.28" y1="653.00" x2="241.28" y2="655.00" stroke="#5b84c4" stroke-width="0.5"/>
<rect x="234.55" y="652.85" width="2.3" height="2.3" fill="#3c6ab4"/>
<line x1="244.30" y1="565.55" x2="244.30" y2="657.05" stroke="#e8413c" stroke-width="0.8" stroke-dasharray="2,1.3"/>
<line x1="221.05" y1="657.60" x2="267.55" y2="657.60" stroke="#444" stroke-width="0.5"/>
<line x1="221.05" y1="657.60" x2="221.05" y2="658.90" stroke="#444" stroke-width="0.5"/>
<g transform="translate(221.05,663.40) scale(0.9,1)">
<text x="0.00" y="0.00" font-size="4.6" text-anchor="middle" fill="#222">0.7</text>
</g>
<line x1="232.68" y1="657.60" x2="232.68" y2="658.90" stroke="#444" stroke-width="0.5"/>
<g transform="translate(232.68,663.40) scale(0.9,1)">
<text x="0.00" y="0.00" font-size="4.6" text-anchor="middle" fill="#222">0.85</text>
</g>
<line x1="244.30" y1="657.60" x2="244.30" y2="658.90" stroke="#444" stroke-width="0.5"/>
<g transform="translate(244.30,663.40) scale(0.9,1)">
<text x="0.00" y="0.00" font-size="4.6" text-anchor="middle" fill="#222">1</text>
</g>
<line x1="255.93" y1="657.60" x2="255.93" y2="658.90" stroke="#444" stroke-width="0.5"/>
<g transform="translate(255.93,663.40) scale(0.9,1)">
<text x="0.00" y="0.00" font-size="4.6" text-anchor="middle" fill="#222">1.15</text>
</g>
<line x1="267.55" y1="657.60" x2="267.55" y2="658.90" stroke="#444" stroke-width="0.5"/>
<g transform="translate(267.55,663.40) scale(0.9,1)">
<text x="0.00" y="0.00" font-size="4.6" text-anchor="middle" fill="#222">1.3</text>
</g>
<line x1="214.60" y1="667.70" x2="242.60" y2="667.70" stroke="#777" stroke-width="0.4"/>
<line x1="245.70" y1="667.70" x2="262.50" y2="667.70" stroke="#777" stroke-width="0.4"/>
<g transform="translate(228.60,672.50) scale(0.9,1)">
<text x="0.00" y="0.00" font-size="4.4" text-anchor="middle" fill="#222">protective factor</text>
</g>
<g transform="translate(254.10,672.50) scale(0.9,1)">
<text x="0.00" y="0.00" font-size="4.4" text-anchor="middle" fill="#222">risk factor</text>
</g>
<text x="13.50" y="662.20" font-size="4.29" font-style="italic" fill="#2626e8" stroke="#2626e8" stroke-width="0.12">P&lt;0.05 was considered statistically significant</text>
<text x="2.60" y="313.80" font-size="25.5" font-family='"Liberation Serif", serif' fill="#000">e</text>
<line x1="32.60" y1="310.60" x2="32.60" y2="369.10" stroke="#333" stroke-width="0.8"/>
<line x1="32.30" y1="368.80" x2="71.90" y2="368.80" stroke="#777" stroke-width="1.1"/>
<line x1="31.00" y1="368.80" x2="32.60" y2="368.80" stroke="#222" stroke-width="0.5"/>
<g transform="translate(30.60,370.30) scale(0.86,1)">
<text x="0.00" y="0.00" font-size="4.5" text-anchor="end" font-weight="bold" fill="#222">0</text>
</g>
<line x1="31.00" y1="349.40" x2="32.60" y2="349.40" stroke="#222" stroke-width="0.5"/>
<g transform="translate(30.60,350.90) scale(0.86,1)">
<text x="0.00" y="0.00" font-size="4.5" text-anchor="end" font-weight="bold" fill="#222">20</text>
</g>
<line x1="31.00" y1="330.00" x2="32.60" y2="330.00" stroke="#222" stroke-width="0.5"/>
<g transform="translate(30.60,331.50) scale(0.86,1)">
<text x="0.00" y="0.00" font-size="4.5" text-anchor="end" font-weight="bold" fill="#222">40</text>
</g>
<line x1="31.00" y1="310.60" x2="32.60" y2="310.60" stroke="#222" stroke-width="0.5"/>
<g transform="translate(30.60,312.10) scale(0.86,1)">
<text x="0.00" y="0.00" font-size="4.5" text-anchor="end" font-weight="bold" fill="#222">60</text>
</g>
<rect x="38.90" y="328.06" width="10.60" height="40.74" fill="#ff2412" stroke="#1a1a1a" stroke-width="0.5"/>
<line x1="44.20" y1="368.80" x2="44.20" y2="370.40" stroke="#222" stroke-width="0.5"/>
<rect x="55.30" y="333.88" width="11.30" height="34.92" fill="#40fd14" stroke="#1a1a1a" stroke-width="0.5"/>
<line x1="60.95" y1="368.80" x2="60.95" y2="370.40" stroke="#222" stroke-width="0.5"/>
<line x1="44.20" y1="328.06" x2="44.20" y2="323.02" stroke="#111" stroke-width="0.45"/>
<line x1="42.00" y1="323.02" x2="46.40" y2="323.02" stroke="#111" stroke-width="0.45"/>
<circle cx="45.44" cy="329.18" r="0.9" fill="#000"/>
<circle cx="40.69" cy="325.83" r="0.9" fill="#000"/>
<circle cx="40.58" cy="332.12" r="0.9" fill="#000"/>
<circle cx="44.26" cy="328.99" r="0.9" fill="#000"/>
<circle cx="40.67" cy="323.53" r="0.9" fill="#000"/>
<circle cx="40.84" cy="326.97" r="0.9" fill="#000"/>
<circle cx="41.12" cy="335.33" r="0.9" fill="#000"/>
<circle cx="41.93" cy="324.33" r="0.9" fill="#000"/>
<circle cx="44.83" cy="335.44" r="0.9" fill="#000"/>
<circle cx="43.35" cy="335.67" r="0.9" fill="#000"/>
<circle cx="47.14" cy="326.73" r="0.9" fill="#000"/>
<circle cx="42.47" cy="328.26" r="0.9" fill="#000"/>
<circle cx="42.63" cy="326.71" r="0.9" fill="#000"/>
<circle cx="46.79" cy="326.34" r="0.9" fill="#000"/>
<circle cx="45.34" cy="325.63" r="0.9" fill="#000"/>
<circle cx="43.15" cy="322.84" r="0.9" fill="#000"/>
<circle cx="40.59" cy="329.56" r="0.9" fill="#000"/>
<circle cx="41.79" cy="328.52" r="0.9" fill="#000"/>
<circle cx="42.68" cy="330.01" r="0.9" fill="#000"/>
<circle cx="44.90" cy="332.24" r="0.9" fill="#000"/>
<circle cx="46.61" cy="331.59" r="0.9" fill="#000"/>
<circle cx="45.83" cy="326.99" r="0.9" fill="#000"/>
<circle cx="44.41" cy="327.85" r="0.9" fill="#000"/>
<circle cx="47.28" cy="322.36" r="0.9" fill="#000"/>
<circle cx="48.14" cy="328.52" r="0.9" fill="#000"/>
<circle cx="41.07" cy="331.63" r="0.9" fill="#000"/>
<circle cx="41.35" cy="334.45" r="0.9" fill="#000"/>
<circle cx="44.11" cy="324.45" r="0.9" fill="#000"/>
<circle cx="46.37" cy="321.77" r="0.9" fill="#000"/>
<circle cx="44.80" cy="326.48" r="0.9" fill="#000"/>
<line x1="60.95" y1="333.88" x2="60.95" y2="326.31" stroke="#111" stroke-width="0.45"/>
<line x1="58.75" y1="326.31" x2="63.15" y2="326.31" stroke="#111" stroke-width="0.45"/>
<rect x="61.89" y="328.60" width="1.6" height="1.6" fill="#000"/>
<rect x="60.99" y="337.53" width="1.6" height="1.6" fill="#000"/>
<rect x="63.18" y="340.12" width="1.6" height="1.6" fill="#000"/>
<rect x="64.11" y="336.94" width="1.6" height="1.6" fill="#000"/>
<rect x="56.24" y="343.68" width="1.6" height="1.6" fill="#000"/>
<rect x="61.94" y="331.34" width="1.6" height="1.6" fill="#000"/>
<rect x="63.02" y="346.90" width="1.6" height="1.6" fill="#000"/>
<rect x="58.23" y="348.60" width="1.6" height="1.6" fill="#000"/>
<rect x="55.90" y="341.23" width="1.6" height="1.6" fill="#000"/>
<rect x="59.81" y="325.97" width="1.6" height="1.6" fill="#000"/>
<rect x="56.22" y="331.29" width="1.6" height="1.6" fill="#000"/>
<rect x="62.54" y="329.92" width="1.6" height="1.6" fill="#000"/>
<rect x="59.18" y="329.31" width="1.6" height="1.6" fill="#000"/>
<rect x="63.46" y="329.10" width="1.6" height="1.6" fill="#000"/>
<rect x="60.59" y="326.13" width="1.6" height="1.6" fill="#000"/>
<rect x="63.56" y="329.23" width="1.6" height="1.6" fill="#000"/>
<rect x="58.18" y="326.95" width="1.6" height="1.6" fill="#000"/>
<rect x="59.40" y="346.26" width="1.6" height="1.6" fill="#000"/>
<rect x="64.22" y="342.62" width="1.6" height="1.6" fill="#000"/>
<rect x="57.04" y="321.37" width="1.6" height="1.6" fill="#000"/>
<polyline points="44.60,315.60 44.60,311.30 61.20,311.30 61.20,316.00" fill="none" stroke="#222" stroke-width="0.7"/>
<text x="52.60" y="311.20" font-size="8.0" text-anchor="middle" font-weight="bold" fill="#111">***</text>
<text x="52.60" y="299.30" font-size="5.8" text-anchor="middle" font-weight="bold" fill="#111">IL1b</text>
<text x="17.00" y="303.30" font-size="4.7" font-weight="bold" fill="#111">pg/ml</text>
<text x="61.20" y="306.20" font-size="5.1" font-weight="bold" font-family='"Liberation Serif", serif' fill="#111">P=0.0008</text>
<text x="17.00" y="373.40" font-size="9.0" font-weight="bold" font-family='"Liberation Serif", serif' fill="#111">e1</text>
<g transform="translate(44.20,376.30) scale(0.92,1)">
<text x="0.00" y="0.00" font-size="4.6" text-anchor="middle" font-weight="bold" fill="#2a2a2a">rTMS+PC</text>
</g>
<g transform="translate(60.95,376.30) scale(0.92,1)">
<text x="0.00" y="0.00" font-size="4.6" text-anchor="middle" font-weight="bold" fill="#2a2a2a">NC</text>
</g>
<line x1="103.70" y1="309.70" x2="103.70" y2="368.90" stroke="#333" stroke-width="0.8"/>
<line x1="103.40" y1="368.60" x2="142.60" y2="368.60" stroke="#777" stroke-width="1.1"/>
<line x1="102.10" y1="368.60" x2="103.70" y2="368.60" stroke="#222" stroke-width="0.5"/>
<g transform="translate(101.70,370.10) scale(0.86,1)">
<text x="0.00" y="0.00" font-size="4.5" text-anchor="end" font-weight="bold" fill="#222">0</text>
</g>
<line x1="102.10" y1="348.97" x2="103.70" y2="348.97" stroke="#222" stroke-width="0.5"/>
<g transform="translate(101.70,350.47) scale(0.86,1)">
<text x="0.00" y="0.00" font-size="4.5" text-anchor="end" font-weight="bold" fill="#222">500</text>
</g>
<line x1="102.10" y1="329.33" x2="103.70" y2="329.33" stroke="#222" stroke-width="0.5"/>
<g transform="translate(101.70,330.83) scale(0.86,1)">
<text x="0.00" y="0.00" font-size="4.5" text-anchor="end" font-weight="bold" fill="#222">1000</text>
</g>
<line x1="102.10" y1="309.70" x2="103.70" y2="309.70" stroke="#222" stroke-width="0.5"/>
<g transform="translate(101.70,311.20) scale(0.86,1)">
<text x="0.00" y="0.00" font-size="4.5" text-anchor="end" font-weight="bold" fill="#222">1500</text>
</g>
<rect x="109.00" y="337.58" width="11.00" height="31.02" fill="#ff2412" stroke="#1a1a1a" stroke-width="0.5"/>
<line x1="114.50" y1="368.60" x2="114.50" y2="370.20" stroke="#222" stroke-width="0.5"/>
<rect x="125.90" y="335.22" width="11.10" height="33.38" fill="#40fd14" stroke="#1a1a1a" stroke-width="0.5"/>
<line x1="131.45" y1="368.60" x2="131.45" y2="370.20" stroke="#222" stroke-width="0.5"/>
<line x1="114.50" y1="337.58" x2="114.50" y2="331.30" stroke="#111" stroke-width="0.45"/>
<line x1="112.30" y1="331.30" x2="116.70" y2="331.30" stroke="#111" stroke-width="0.45"/>
<circle cx="112.21" cy="337.74" r="0.9" fill="#000"/>
<circle cx="114.37" cy="336.72" r="0.9" fill="#000"/>
<circle cx="110.24" cy="340.84" r="0.9" fill="#000"/>
<circle cx="113.80" cy="340.06" r="0.9" fill="#000"/>
<circle cx="118.40" cy="341.52" r="0.9" fill="#000"/>
<circle cx="116.14" cy="335.78" r="0.9" fill="#000"/>
<circle cx="116.02" cy="343.09" r="0.9" fill="#000"/>
<circle cx="110.66" cy="339.18" r="0.9" fill="#000"/>
<circle cx="117.72" cy="334.34" r="0.9" fill="#000"/>
<circle cx="117.06" cy="341.98" r="0.9" fill="#000"/>
<circle cx="111.09" cy="341.23" r="0.9" fill="#000"/>
<circle cx="115.65" cy="336.77" r="0.9" fill="#000"/>
<circle cx="112.00" cy="337.67" r="0.9" fill="#000"/>
<circle cx="111.60" cy="338.31" r="0.9" fill="#000"/>
<circle cx="110.20" cy="339.31" r="0.9" fill="#000"/>
<circle cx="111.50" cy="337.89" r="0.9" fill="#000"/>
<circle cx="110.42" cy="336.36" r="0.9" fill="#000"/>
<circle cx="117.72" cy="336.98" r="0.9" fill="#000"/>
<circle cx="112.37" cy="340.10" r="0.9" fill="#000"/>
<circle cx="113.19" cy="339.93" r="0.9" fill="#000"/>
<circle cx="117.50" cy="339.81" r="0.9" fill="#000"/>
<circle cx="118.74" cy="337.55" r="0.9" fill="#000"/>
<circle cx="110.94" cy="342.29" r="0.9" fill="#000"/>
<circle cx="111.08" cy="337.99" r="0.9" fill="#000"/>
<circle cx="117.33" cy="340.11" r="0.9" fill="#000"/>
<circle cx="111.59" cy="336.70" r="0.9" fill="#000"/>
<circle cx="114.74" cy="331.12" r="0.9" fill="#000"/>
<circle cx="111.46" cy="337.64" r="0.9" fill="#000"/>
<circle cx="114.74" cy="339.47" r="0.9" fill="#000"/>
<circle cx="118.62" cy="338.95" r="0.9" fill="#000"/>
<circle cx="115.79" cy="323.44" r="0.9" fill="#000"/>
<circle cx="113.64" cy="322.27" r="0.9" fill="#000"/>
<circle cx="114.93" cy="321.48" r="0.9" fill="#000"/>
<circle cx="114.50" cy="324.23" r="0.9" fill="#000"/>
<line x1="131.45" y1="335.22" x2="131.45" y2="325.01" stroke="#111" stroke-width="0.45"/>
<line x1="129.25" y1="325.01" x2="133.65" y2="325.01" stroke="#111" stroke-width="0.45"/>
<rect x="128.57" y="324.13" width="1.6" height="1.6" fill="#000"/>
<rect x="129.49" y="346.35" width="1.6" height="1.6" fill="#000"/>
<rect x="130.93" y="325.68" width="1.6" height="1.6" fill="#000"/>
<rect x="133.08" y="319.20" width="1.6" height="1.6" fill="#000"/>
<rect x="133.36" y="337.90" width="1.6" height="1.6" fill="#000"/>
<rect x="134.87" y="328.06" width="1.6" height="1.6" fill="#000"/>
<rect x="133.42" y="323.31" width="1.6" height="1.6" fill="#000"/>
<rect x="132.74" y="349.20" width="1.6" height="1.6" fill="#000"/>
<rect x="129.39" y="332.63" width="1.6" height="1.6" fill="#000"/>
<rect x="126.55" y="322.23" width="1.6" height="1.6" fill="#000"/>
<rect x="128.55" y="326.29" width="1.6" height="1.6" fill="#000"/>
<rect x="132.32" y="332.98" width="1.6" height="1.6" fill="#000"/>
<rect x="134.45" y="323.72" width="1.6" height="1.6" fill="#000"/>
<rect x="134.90" y="337.42" width="1.6" height="1.6" fill="#000"/>
<rect x="128.22" y="325.09" width="1.6" height="1.6" fill="#000"/>
<rect x="128.27" y="337.14" width="1.6" height="1.6" fill="#000"/>
<rect x="131.73" y="332.15" width="1.6" height="1.6" fill="#000"/>
<rect x="134.13" y="327.90" width="1.6" height="1.6" fill="#000"/>
<rect x="131.98" y="328.15" width="1.6" height="1.6" fill="#000"/>
<rect x="133.26" y="344.26" width="1.6" height="1.6" fill="#000"/>
<polyline points="114.30,318.00 114.30,311.30 131.70,311.30 131.70,314.60" fill="none" stroke="#222" stroke-width="0.7"/>
<text x="123.30" y="309.50" font-size="6.0" text-anchor="middle" fill="#222">ns</text>
<text x="122.90" y="299.30" font-size="5.8" text-anchor="middle" font-weight="bold" fill="#111">IL8</text>
<text x="90.00" y="304.20" font-size="4.7" font-weight="bold" fill="#111">ng/L</text>
<text x="133.00" y="305.50" font-size="5.1" font-weight="bold" font-family='"Liberation Serif", serif' fill="#111">P=0.2368</text>
<text x="87.80" y="373.40" font-size="9.0" font-weight="bold" font-family='"Liberation Serif", serif' fill="#111">e2</text>
<g transform="translate(114.50,376.30) scale(0.92,1)">
<text x="0.00" y="0.00" font-size="4.6" text-anchor="middle" font-weight="bold" fill="#2a2a2a">rTMS+PC</text>
</g>
<g transform="translate(131.45,376.30) scale(0.92,1)">
<text x="0.00" y="0.00" font-size="4.6" text-anchor="middle" font-weight="bold" fill="#2a2a2a">NC</text>
</g>
<line x1="178.60" y1="307.00" x2="178.60" y2="368.90" stroke="#333" stroke-width="0.8"/>
<line x1="178.30" y1="368.60" x2="219.90" y2="368.60" stroke="#777" stroke-width="1.1"/>
<line x1="177.00" y1="368.60" x2="178.60" y2="368.60" stroke="#222" stroke-width="0.5"/>
<g transform="translate(176.60,370.10) scale(0.86,1)">
<text x="0.00" y="0.00" font-size="4.5" text-anchor="end" font-weight="bold" fill="#222">0</text>
</g>
<line x1="177.00" y1="348.07" x2="178.60" y2="348.07" stroke="#222" stroke-width="0.5"/>
<g transform="translate(176.60,349.57) scale(0.86,1)">
<text x="0.00" y="0.00" font-size="4.5" text-anchor="end" font-weight="bold" fill="#222">5</text>
</g>
<line x1="177.00" y1="327.53" x2="178.60" y2="327.53" stroke="#222" stroke-width="0.5"/>
<g transform="translate(176.60,329.03) scale(0.86,1)">
<text x="0.00" y="0.00" font-size="4.5" text-anchor="end" font-weight="bold" fill="#222">10</text>
</g>
<line x1="177.00" y1="307.00" x2="178.60" y2="307.00" stroke="#222" stroke-width="0.5"/>
<g transform="translate(176.60,308.50) scale(0.86,1)">
<text x="0.00" y="0.00" font-size="4.5" text-anchor="end" font-weight="bold" fill="#222">15</text>
</g>
<rect x="184.90" y="350.12" width="11.40" height="18.48" fill="#ff2412" stroke="#1a1a1a" stroke-width="0.5"/>
<line x1="190.60" y1="368.60" x2="190.60" y2="370.20" stroke="#222" stroke-width="0.5"/>
<rect x="202.20" y="355.46" width="11.70" height="13.14" fill="#40fd14" stroke="#1a1a1a" stroke-width="0.5"/>
<line x1="208.05" y1="368.60" x2="208.05" y2="370.20" stroke="#222" stroke-width="0.5"/>
<line x1="190.60" y1="350.12" x2="190.60" y2="344.78" stroke="#111" stroke-width="0.45"/>
<line x1="188.40" y1="344.78" x2="192.80" y2="344.78" stroke="#111" stroke-width="0.45"/>
<circle cx="194.29" cy="346.37" r="0.9" fill="#000"/>
<circle cx="193.14" cy="348.08" r="0.9" fill="#000"/>
<circle cx="187.71" cy="350.53" r="0.9" fill="#000"/>
<circle cx="193.20" cy="354.28" r="0.9" fill="#000"/>
<circle cx="194.84" cy="353.46" r="0.9" fill="#000"/>
<circle cx="189.66" cy="345.40" r="0.9" fill="#000"/>
<circle cx="192.62" cy="357.01" r="0.9" fill="#000"/>
<circle cx="187.63" cy="345.91" r="0.9" fill="#000"/>
<circle cx="194.24" cy="349.22" r="0.9" fill="#000"/>
<circle cx="193.36" cy="349.18" r="0.9" fill="#000"/>
<circle cx="194.92" cy="346.80" r="0.9" fill="#000"/>
<circle cx="192.02" cy="345.64" r="0.9" fill="#000"/>
<circle cx="187.28" cy="352.98" r="0.9" fill="#000"/>
<circle cx="186.23" cy="347.18" r="0.9" fill="#000"/>
<circle cx="190.84" cy="345.85" r="0.9" fill="#000"/>
<circle cx="194.50" cy="351.40" r="0.9" fill="#000"/>
<circle cx="193.54" cy="356.62" r="0.9" fill="#000"/>
<circle cx="188.00" cy="347.84" r="0.9" fill="#000"/>
<circle cx="188.26" cy="350.56" r="0.9" fill="#000"/>
<circle cx="191.38" cy="347.80" r="0.9" fill="#000"/>
<circle cx="187.28" cy="350.73" r="0.9" fill="#000"/>
<circle cx="194.29" cy="347.11" r="0.9" fill="#000"/>
<circle cx="191.35" cy="352.74" r="0.9" fill="#000"/>
<circle cx="194.24" cy="347.64" r="0.9" fill="#000"/>
<circle cx="190.61" cy="356.98" r="0.9" fill="#000"/>
<circle cx="190.89" cy="347.02" r="0.9" fill="#000"/>
<circle cx="190.06" cy="351.16" r="0.9" fill="#000"/>
<circle cx="187.75" cy="350.62" r="0.9" fill="#000"/>
<circle cx="187.65" cy="344.65" r="0.9" fill="#000"/>
<circle cx="190.36" cy="350.39" r="0.9" fill="#000"/>
<circle cx="190.60" cy="321.37" r="0.9" fill="#000"/>
<line x1="208.05" y1="355.46" x2="208.05" y2="352.99" stroke="#111" stroke-width="0.45"/>
<line x1="205.85" y1="352.99" x2="210.25" y2="352.99" stroke="#111" stroke-width="0.45"/>
<rect x="205.63" y="355.48" width="1.6" height="1.6" fill="#000"/>
<rect x="207.42" y="357.66" width="1.6" height="1.6" fill="#000"/>
<rect x="203.59" y="358.45" width="1.6" height="1.6" fill="#000"/>
<rect x="207.81" y="356.30" width="1.6" height="1.6" fill="#000"/>
<rect x="209.78" y="355.05" width="1.6" height="1.6" fill="#000"/>
<rect x="207.32" y="353.42" width="1.6" height="1.6" fill="#000"/>
<rect x="211.09" y="358.28" width="1.6" height="1.6" fill="#000"/>
<rect x="206.72" y="356.38" width="1.6" height="1.6" fill="#000"/>
<rect x="207.36" y="356.92" width="1.6" height="1.6" fill="#000"/>
<rect x="209.04" y="356.65" width="1.6" height="1.6" fill="#000"/>
<rect x="207.05" y="357.49" width="1.6" height="1.6" fill="#000"/>
<rect x="211.36" y="354.32" width="1.6" height="1.6" fill="#000"/>
<rect x="211.36" y="356.39" width="1.6" height="1.6" fill="#000"/>
<rect x="205.01" y="359.06" width="1.6" height="1.6" fill="#000"/>
<rect x="210.41" y="359.59" width="1.6" height="1.6" fill="#000"/>
<rect x="203.88" y="356.87" width="1.6" height="1.6" fill="#000"/>
<rect x="203.27" y="353.47" width="1.6" height="1.6" fill="#000"/>
<rect x="204.84" y="353.53" width="1.6" height="1.6" fill="#000"/>
<rect x="209.89" y="352.33" width="1.6" height="1.6" fill="#000"/>
<rect x="210.94" y="353.71" width="1.6" height="1.6" fill="#000"/>
<rect x="207.25" y="344.39" width="1.6" height="1.6" fill="#000"/>
<polyline points="190.20,318.00 190.20,314.20 208.20,314.20 208.20,341.30" fill="none" stroke="#222" stroke-width="0.7"/>
<text x="199.30" y="314.50" font-size="8.0" text-anchor="middle" font-weight="bold" fill="#111">**</text>
<text x="199.30" y="299.30" font-size="5.8" text-anchor="middle" font-weight="bold" fill="#111">Neutrophil Cell</text>
<text x="161.30" y="303.80" font-size="4.7" font-weight="bold" fill="#111">10^9/L</text>
<text x="209.90" y="307.10" font-size="5.1" font-weight="bold" font-family='"Liberation Serif", serif' fill="#111">P=0.0021</text>
<text x="163.80" y="373.40" font-size="9.0" font-weight="bold" font-family='"Liberation Serif", serif' fill="#111">e3</text>
<g transform="translate(190.60,376.30) scale(0.92,1)">
<text x="0.00" y="0.00" font-size="4.6" text-anchor="middle" font-weight="bold" fill="#2a2a2a">rTMS+PC</text>
</g>
<g transform="translate(208.05,376.30) scale(0.92,1)">
<text x="0.00" y="0.00" font-size="4.6" text-anchor="middle" font-weight="bold" fill="#2a2a2a">NC</text>
</g>
<line x1="257.70" y1="312.00" x2="257.70" y2="369.50" stroke="#333" stroke-width="0.8"/>
<line x1="257.40" y1="369.20" x2="295.20" y2="369.20" stroke="#777" stroke-width="1.1"/>
<line x1="256.10" y1="369.20" x2="257.70" y2="369.20" stroke="#222" stroke-width="0.5"/>
<g transform="translate(255.70,370.70) scale(0.86,1)">
<text x="0.00" y="0.00" font-size="4.5" text-anchor="end" font-weight="bold" fill="#222">0</text>
</g>
<line x1="256.10" y1="350.13" x2="257.70" y2="350.13" stroke="#222" stroke-width="0.5"/>
<g transform="translate(255.70,351.63) scale(0.86,1)">
<text x="0.00" y="0.00" font-size="4.5" text-anchor="end" font-weight="bold" fill="#222">2</text>
</g>
<line x1="256.10" y1="331.07" x2="257.70" y2="331.07" stroke="#222" stroke-width="0.5"/>
<g transform="translate(255.70,332.57) scale(0.86,1)">
<text x="0.00" y="0.00" font-size="4.5" text-anchor="end" font-weight="bold" fill="#222">4</text>
</g>
<line x1="256.10" y1="312.00" x2="257.70" y2="312.00" stroke="#222" stroke-width="0.5"/>
<g transform="translate(255.70,313.50) scale(0.86,1)">
<text x="0.00" y="0.00" font-size="4.5" text-anchor="end" font-weight="bold" fill="#222">6</text>
</g>
<rect x="263.00" y="323.92" width="10.30" height="45.28" fill="#ff2412" stroke="#1a1a1a" stroke-width="0.5"/>
<line x1="268.15" y1="369.20" x2="268.15" y2="370.80" stroke="#222" stroke-width="0.5"/>
<rect x="279.30" y="325.35" width="10.20" height="43.85" fill="#40fd14" stroke="#1a1a1a" stroke-width="0.5"/>
<line x1="284.40" y1="369.20" x2="284.40" y2="370.80" stroke="#222" stroke-width="0.5"/>
<line x1="268.15" y1="323.92" x2="268.15" y2="320.10" stroke="#111" stroke-width="0.45"/>
<line x1="265.95" y1="320.10" x2="270.35" y2="320.10" stroke="#111" stroke-width="0.45"/>
<circle cx="269.42" cy="320.88" r="0.9" fill="#000"/>
<circle cx="265.33" cy="319.70" r="0.9" fill="#000"/>
<circle cx="265.93" cy="317.89" r="0.9" fill="#000"/>
<circle cx="271.72" cy="328.47" r="0.9" fill="#000"/>
<circle cx="272.02" cy="326.09" r="0.9" fill="#000"/>
<circle cx="270.78" cy="321.47" r="0.9" fill="#000"/>
<circle cx="268.27" cy="321.83" r="0.9" fill="#000"/>
<circle cx="266.88" cy="320.86" r="0.9" fill="#000"/>
<circle cx="269.90" cy="322.60" r="0.9" fill="#000"/>
<circle cx="264.35" cy="321.08" r="0.9" fill="#000"/>
<circle cx="264.34" cy="326.35" r="0.9" fill="#000"/>
<circle cx="266.82" cy="324.47" r="0.9" fill="#000"/>
<circle cx="264.71" cy="325.88" r="0.9" fill="#000"/>
<circle cx="271.98" cy="325.85" r="0.9" fill="#000"/>
<circle cx="265.03" cy="321.62" r="0.9" fill="#000"/>
<circle cx="266.30" cy="329.16" r="0.9" fill="#000"/>
<circle cx="266.34" cy="318.62" r="0.9" fill="#000"/>
<circle cx="265.22" cy="322.22" r="0.9" fill="#000"/>
<circle cx="270.67" cy="329.00" r="0.9" fill="#000"/>
<circle cx="266.24" cy="320.48" r="0.9" fill="#000"/>
<circle cx="268.71" cy="319.65" r="0.9" fill="#000"/>
<circle cx="269.73" cy="318.27" r="0.9" fill="#000"/>
<circle cx="269.64" cy="322.61" r="0.9" fill="#000"/>
<circle cx="267.56" cy="322.92" r="0.9" fill="#000"/>
<circle cx="269.21" cy="317.72" r="0.9" fill="#000"/>
<circle cx="270.53" cy="320.47" r="0.9" fill="#000"/>
<circle cx="264.73" cy="318.57" r="0.9" fill="#000"/>
<circle cx="271.02" cy="320.61" r="0.9" fill="#000"/>
<circle cx="268.57" cy="325.93" r="0.9" fill="#000"/>
<circle cx="271.52" cy="322.69" r="0.9" fill="#000"/>
<circle cx="268.15" cy="334.88" r="0.9" fill="#000"/>
<line x1="284.40" y1="325.35" x2="284.40" y2="321.53" stroke="#111" stroke-width="0.45"/>
<line x1="282.20" y1="321.53" x2="286.60" y2="321.53" stroke="#111" stroke-width="0.45"/>
<rect x="283.81" y="324.74" width="1.6" height="1.6" fill="#000"/>
<rect x="281.56" y="322.80" width="1.6" height="1.6" fill="#000"/>
<rect x="280.09" y="323.02" width="1.6" height="1.6" fill="#000"/>
<rect x="281.27" y="323.29" width="1.6" height="1.6" fill="#000"/>
<rect x="285.62" y="325.63" width="1.6" height="1.6" fill="#000"/>
<rect x="281.96" y="321.91" width="1.6" height="1.6" fill="#000"/>
<rect x="282.41" y="326.64" width="1.6" height="1.6" fill="#000"/>
<rect x="279.84" y="324.55" width="1.6" height="1.6" fill="#000"/>
<rect x="285.42" y="324.55" width="1.6" height="1.6" fill="#000"/>
<rect x="284.00" y="323.96" width="1.6" height="1.6" fill="#000"/>
<rect x="286.99" y="323.14" width="1.6" height="1.6" fill="#000"/>
<rect x="280.53" y="321.03" width="1.6" height="1.6" fill="#000"/>
<rect x="283.56" y="323.06" width="1.6" height="1.6" fill="#000"/>
<rect x="286.21" y="327.77" width="1.6" height="1.6" fill="#000"/>
<rect x="285.06" y="327.65" width="1.6" height="1.6" fill="#000"/>
<rect x="287.36" y="322.08" width="1.6" height="1.6" fill="#000"/>
<rect x="285.21" y="328.02" width="1.6" height="1.6" fill="#000"/>
<rect x="284.66" y="319.28" width="1.6" height="1.6" fill="#000"/>
<rect x="280.12" y="327.09" width="1.6" height="1.6" fill="#000"/>
<rect x="280.71" y="322.81" width="1.6" height="1.6" fill="#000"/>
<polyline points="268.30,314.60 268.30,310.60 284.60,310.60 284.60,316.00" fill="none" stroke="#222" stroke-width="0.7"/>
<text x="276.30" y="311.10" font-size="8.0" text-anchor="middle" font-weight="bold" fill="#111">*</text>
<text x="276.30" y="299.30" font-size="5.8" text-anchor="middle" font-weight="bold" fill="#111">Red Cell</text>
<text x="238.00" y="308.20" font-size="4.7" font-weight="bold" fill="#111">10^12/L</text>
<text x="285.90" y="306.40" font-size="5.1" font-weight="bold" font-family='"Liberation Serif", serif' fill="#111">P=0.0414</text>
<text x="242.40" y="373.80" font-size="9.0" font-weight="bold" font-family='"Liberation Serif", serif' fill="#111">e4</text>
<g transform="translate(268.15,376.80) scale(0.92,1)">
<text x="0.00" y="0.00" font-size="4.6" text-anchor="middle" font-weight="bold" fill="#2a2a2a">rTMS+PC</text>
</g>
<g transform="translate(284.40,376.80) scale(0.92,1)">
<text x="0.00" y="0.00" font-size="4.6" text-anchor="middle" font-weight="bold" fill="#2a2a2a">NC</text>
</g>
<line x1="325.90" y1="308.60" x2="325.90" y2="368.90" stroke="#333" stroke-width="0.8"/>
<line x1="325.60" y1="368.60" x2="365.60" y2="368.60" stroke="#777" stroke-width="1.1"/>
<line x1="324.30" y1="368.60" x2="325.90" y2="368.60" stroke="#222" stroke-width="0.5"/>
<g transform="translate(323.90,370.10) scale(0.86,1)">
<text x="0.00" y="0.00" font-size="4.5" text-anchor="end" font-weight="bold" fill="#222">0</text>
</g>
<line x1="324.30" y1="353.60" x2="325.90" y2="353.60" stroke="#222" stroke-width="0.5"/>
<g transform="translate(323.90,355.10) scale(0.86,1)">
<text x="0.00" y="0.00" font-size="4.5" text-anchor="end" font-weight="bold" fill="#222">1000</text>
</g>
<line x1="324.30" y1="338.60" x2="325.90" y2="338.60" stroke="#222" stroke-width="0.5"/>
<g transform="translate(323.90,340.10) scale(0.86,1)">
<text x="0.00" y="0.00" font-size="4.5" text-anchor="end" font-weight="bold" fill="#222">2000</text>
</g>
<line x1="324.30" y1="323.60" x2="325.90" y2="323.60" stroke="#222" stroke-width="0.5"/>
<g transform="translate(323.90,325.10) scale(0.86,1)">
<text x="0.00" y="0.00" font-size="4.5" text-anchor="end" font-weight="bold" fill="#222">3000</text>
</g>
<line x1="324.30" y1="308.60" x2="325.90" y2="308.60" stroke="#222" stroke-width="0.5"/>
<g transform="translate(323.90,310.10) scale(0.86,1)">
<text x="0.00" y="0.00" font-size="4.5" text-anchor="end" font-weight="bold" fill="#222">4000</text>
</g>
<rect x="332.00" y="335.60" width="10.50" height="33.00" fill="#ff2412" stroke="#1a1a1a" stroke-width="0.5"/>
<line x1="337.25" y1="368.60" x2="337.25" y2="370.20" stroke="#222" stroke-width="0.5"/>
<rect x="348.50" y="341.60" width="11.30" height="27.00" fill="#40fd14" stroke="#1a1a1a" stroke-width="0.5"/>
<line x1="354.15" y1="368.60" x2="354.15" y2="370.20" stroke="#222" stroke-width="0.5"/>
<line x1="337.25" y1="335.60" x2="337.25" y2="325.10" stroke="#111" stroke-width="0.45"/>
<line x1="335.05" y1="325.10" x2="339.45" y2="325.10" stroke="#111" stroke-width="0.45"/>
<circle cx="335.27" cy="319.10" r="0.9" fill="#000"/>
<circle cx="334.52" cy="327.65" r="0.9" fill="#000"/>
<circle cx="340.25" cy="319.10" r="0.9" fill="#000"/>
<circle cx="338.63" cy="324.67" r="0.9" fill="#000"/>
<circle cx="335.57" cy="337.27" r="0.9" fill="#000"/>
<circle cx="336.92" cy="327.39" r="0.9" fill="#000"/>
<circle cx="335.33" cy="328.89" r="0.9" fill="#000"/>
<circle cx="340.99" cy="325.38" r="0.9" fill="#000"/>
<circle cx="335.18" cy="321.65" r="0.9" fill="#000"/>
<circle cx="341.02" cy="338.02" r="0.9" fill="#000"/>
<circle cx="333.21" cy="339.46" r="0.9" fill="#000"/>
<circle cx="336.29" cy="325.77" r="0.9" fill="#000"/>
<circle cx="334.83" cy="348.73" r="0.9" fill="#000"/>
<circle cx="337.29" cy="333.49" r="0.9" fill="#000"/>
<circle cx="333.93" cy="326.79" r="0.9" fill="#000"/>
<circle cx="336.44" cy="335.33" r="0.9" fill="#000"/>
<circle cx="335.66" cy="333.28" r="0.9" fill="#000"/>
<circle cx="335.09" cy="334.98" r="0.9" fill="#000"/>
<circle cx="339.28" cy="347.46" r="0.9" fill="#000"/>
<circle cx="338.53" cy="342.67" r="0.9" fill="#000"/>
<circle cx="336.36" cy="340.50" r="0.9" fill="#000"/>
<circle cx="335.84" cy="352.10" r="0.9" fill="#000"/>
<circle cx="339.07" cy="329.23" r="0.9" fill="#000"/>
<circle cx="338.41" cy="336.21" r="0.9" fill="#000"/>
<circle cx="340.42" cy="319.10" r="0.9" fill="#000"/>
<circle cx="338.28" cy="329.80" r="0.9" fill="#000"/>
<circle cx="334.33" cy="337.68" r="0.9" fill="#000"/>
<circle cx="337.44" cy="352.10" r="0.9" fill="#000"/>
<circle cx="339.72" cy="352.10" r="0.9" fill="#000"/>
<circle cx="339.89" cy="336.19" r="0.9" fill="#000"/>
<line x1="354.15" y1="341.60" x2="354.15" y2="335.30" stroke="#111" stroke-width="0.45"/>
<line x1="351.95" y1="335.30" x2="356.35" y2="335.30" stroke="#111" stroke-width="0.45"/>
<rect x="354.98" y="349.05" width="1.6" height="1.6" fill="#000"/>
<rect x="355.07" y="347.51" width="1.6" height="1.6" fill="#000"/>
<rect x="350.08" y="340.60" width="1.6" height="1.6" fill="#000"/>
<rect x="352.11" y="339.23" width="1.6" height="1.6" fill="#000"/>
<rect x="353.87" y="331.33" width="1.6" height="1.6" fill="#000"/>
<rect x="354.49" y="333.46" width="1.6" height="1.6" fill="#000"/>
<rect x="353.25" y="347.48" width="1.6" height="1.6" fill="#000"/>
<rect x="348.93" y="347.58" width="1.6" height="1.6" fill="#000"/>
<rect x="353.38" y="337.71" width="1.6" height="1.6" fill="#000"/>
<rect x="353.66" y="349.05" width="1.6" height="1.6" fill="#000"/>
<rect x="355.46" y="342.06" width="1.6" height="1.6" fill="#000"/>
<rect x="351.14" y="342.76" width="1.6" height="1.6" fill="#000"/>
<rect x="355.39" y="336.38" width="1.6" height="1.6" fill="#000"/>
<rect x="350.73" y="338.57" width="1.6" height="1.6" fill="#000"/>
<rect x="353.30" y="341.90" width="1.6" height="1.6" fill="#000"/>
<rect x="352.30" y="349.05" width="1.6" height="1.6" fill="#000"/>
<rect x="355.73" y="349.05" width="1.6" height="1.6" fill="#000"/>
<rect x="354.39" y="339.54" width="1.6" height="1.6" fill="#000"/>
<rect x="350.21" y="342.38" width="1.6" height="1.6" fill="#000"/>
<rect x="351.16" y="342.78" width="1.6" height="1.6" fill="#000"/>
<polyline points="337.30,315.60 337.30,312.00 354.50,312.00 354.50,328.60" fill="none" stroke="#222" stroke-width="0.7"/>
<text x="345.60" y="312.10" font-size="8.0" text-anchor="middle" font-weight="bold" fill="#111">*</text>
<text x="345.60" y="299.30" font-size="5.8" text-anchor="middle" font-weight="bold" fill="#111">CRP</text>
<text x="313.00" y="303.60" font-size="4.7" font-weight="bold" fill="#111">ug/L</text>
<text x="353.60" y="307.10" font-size="5.1" font-weight="bold" font-family='"Liberation Serif", serif' fill="#111">P=0.0316</text>
<text x="309.40" y="373.40" font-size="9.0" font-weight="bold" font-family='"Liberation Serif", serif' fill="#111">e5</text>
<g transform="translate(337.25,376.30) scale(0.92,1)">
<text x="0.00" y="0.00" font-size="4.6" text-anchor="middle" font-weight="bold" fill="#2a2a2a">rTMS+PC</text>
</g>
<g transform="translate(354.15,376.30) scale(0.92,1)">
<text x="0.00" y="0.00" font-size="4.6" text-anchor="middle" font-weight="bold" fill="#2a2a2a">NC</text>
</g>
<line x1="61.70" y1="396.30" x2="61.70" y2="458.10" stroke="#333" stroke-width="0.8"/>
<line x1="61.40" y1="457.80" x2="100.60" y2="457.80" stroke="#777" stroke-width="1.1"/>
<line x1="60.10" y1="457.80" x2="61.70" y2="457.80" stroke="#222" stroke-width="0.5"/>
<g transform="translate(59.70,459.30) scale(0.86,1)">
<text x="0.00" y="0.00" font-size="4.5" text-anchor="end" font-weight="bold" fill="#222">0</text>
</g>
<line x1="60.10" y1="445.50" x2="61.70" y2="445.50" stroke="#222" stroke-width="0.5"/>
<g transform="translate(59.70,447.00) scale(0.86,1)">
<text x="0.00" y="0.00" font-size="4.5" text-anchor="end" font-weight="bold" fill="#222">5</text>
</g>
<line x1="60.10" y1="433.20" x2="61.70" y2="433.20" stroke="#222" stroke-width="0.5"/>
<g transform="translate(59.70,434.70) scale(0.86,1)">
<text x="0.00" y="0.00" font-size="4.5" text-anchor="end" font-weight="bold" fill="#222">10</text>
</g>
<line x1="60.10" y1="420.90" x2="61.70" y2="420.90" stroke="#222" stroke-width="0.5"/>
<g transform="translate(59.70,422.40) scale(0.86,1)">
<text x="0.00" y="0.00" font-size="4.5" text-anchor="end" font-weight="bold" fill="#222">15</text>
</g>
<line x1="60.10" y1="408.60" x2="61.70" y2="408.60" stroke="#222" stroke-width="0.5"/>
<g transform="translate(59.70,410.10) scale(0.86,1)">
<text x="0.00" y="0.00" font-size="4.5" text-anchor="end" font-weight="bold" fill="#222">20</text>
</g>
<line x1="60.10" y1="396.30" x2="61.70" y2="396.30" stroke="#222" stroke-width="0.5"/>
<g transform="translate(59.70,397.80) scale(0.86,1)">
<text x="0.00" y="0.00" font-size="4.5" text-anchor="end" font-weight="bold" fill="#222">25</text>
</g>
<rect x="67.30" y="430.74" width="10.60" height="27.06" fill="#ff2412" stroke="#1a1a1a" stroke-width="0.5"/>
<line x1="72.60" y1="457.80" x2="72.60" y2="459.40" stroke="#222" stroke-width="0.5"/>
<rect x="84.30" y="424.59" width="10.90" height="33.21" fill="#40fd14" stroke="#1a1a1a" stroke-width="0.5"/>
<line x1="89.75" y1="457.80" x2="89.75" y2="459.40" stroke="#222" stroke-width="0.5"/>
<line x1="72.60" y1="430.74" x2="72.60" y2="426.31" stroke="#111" stroke-width="0.45"/>
<line x1="70.40" y1="426.31" x2="74.80" y2="426.31" stroke="#111" stroke-width="0.45"/>
<circle cx="73.16" cy="430.39" r="0.9" fill="#000"/>
<circle cx="68.60" cy="433.60" r="0.9" fill="#000"/>
<circle cx="74.01" cy="427.36" r="0.9" fill="#000"/>
<circle cx="74.18" cy="429.09" r="0.9" fill="#000"/>
<circle cx="72.74" cy="431.72" r="0.9" fill="#000"/>
<circle cx="72.31" cy="433.16" r="0.9" fill="#000"/>
<circle cx="75.83" cy="432.18" r="0.9" fill="#000"/>
<circle cx="70.13" cy="429.83" r="0.9" fill="#000"/>
<circle cx="68.64" cy="421.10" r="0.9" fill="#000"/>
<circle cx="72.26" cy="431.51" r="0.9" fill="#000"/>
<circle cx="72.19" cy="425.85" r="0.9" fill="#000"/>
<circle cx="70.70" cy="438.12" r="0.9" fill="#000"/>
<circle cx="70.23" cy="427.88" r="0.9" fill="#000"/>
<circle cx="73.27" cy="421.05" r="0.9" fill="#000"/>
<circle cx="76.31" cy="427.23" r="0.9" fill="#000"/>
<circle cx="69.59" cy="426.52" r="0.9" fill="#000"/>
<circle cx="75.77" cy="428.24" r="0.9" fill="#000"/>
<circle cx="74.27" cy="434.49" r="0.9" fill="#000"/>
<circle cx="72.49" cy="429.27" r="0.9" fill="#000"/>
<circle cx="68.70" cy="421.90" r="0.9" fill="#000"/>
<circle cx="72.20" cy="425.67" r="0.9" fill="#000"/>
<circle cx="70.98" cy="430.14" r="0.9" fill="#000"/>
<circle cx="71.09" cy="427.96" r="0.9" fill="#000"/>
<circle cx="75.39" cy="427.45" r="0.9" fill="#000"/>
<circle cx="75.38" cy="423.69" r="0.9" fill="#000"/>
<circle cx="69.48" cy="430.18" r="0.9" fill="#000"/>
<circle cx="75.89" cy="424.68" r="0.9" fill="#000"/>
<circle cx="70.88" cy="433.02" r="0.9" fill="#000"/>
<circle cx="76.69" cy="432.98" r="0.9" fill="#000"/>
<circle cx="73.33" cy="427.42" r="0.9" fill="#000"/>
<line x1="89.75" y1="424.59" x2="89.75" y2="415.73" stroke="#111" stroke-width="0.45"/>
<line x1="87.55" y1="415.73" x2="91.95" y2="415.73" stroke="#111" stroke-width="0.45"/>
<rect x="87.04" y="429.79" width="1.6" height="1.6" fill="#000"/>
<rect x="85.11" y="416.60" width="1.6" height="1.6" fill="#000"/>
<rect x="87.13" y="410.30" width="1.6" height="1.6" fill="#000"/>
<rect x="92.65" y="413.77" width="1.6" height="1.6" fill="#000"/>
<rect x="89.04" y="423.76" width="1.6" height="1.6" fill="#000"/>
<rect x="86.31" y="416.83" width="1.6" height="1.6" fill="#000"/>
<rect x="92.22" y="439.29" width="1.6" height="1.6" fill="#000"/>
<rect x="91.60" y="407.97" width="1.6" height="1.6" fill="#000"/>
<rect x="92.70" y="437.12" width="1.6" height="1.6" fill="#000"/>
<rect x="89.37" y="438.15" width="1.6" height="1.6" fill="#000"/>
<rect x="90.92" y="424.33" width="1.6" height="1.6" fill="#000"/>
<rect x="88.53" y="426.56" width="1.6" height="1.6" fill="#000"/>
<rect x="87.13" y="423.58" width="1.6" height="1.6" fill="#000"/>
<rect x="85.12" y="436.52" width="1.6" height="1.6" fill="#000"/>
<rect x="88.71" y="419.65" width="1.6" height="1.6" fill="#000"/>
<rect x="87.62" y="425.84" width="1.6" height="1.6" fill="#000"/>
<rect x="93.00" y="428.08" width="1.6" height="1.6" fill="#000"/>
<rect x="86.91" y="409.92" width="1.6" height="1.6" fill="#000"/>
<rect x="89.44" y="427.96" width="1.6" height="1.6" fill="#000"/>
<rect x="88.05" y="430.01" width="1.6" height="1.6" fill="#000"/>
<polyline points="72.30,415.00 72.30,402.30 89.60,402.30 89.60,405.40" fill="none" stroke="#222" stroke-width="0.7"/>
<text x="81.00" y="402.40" font-size="8.0" text-anchor="middle" font-weight="bold" fill="#111">**</text>
<text x="81.30" y="389.20" font-size="5.8" text-anchor="middle" font-weight="bold" fill="#111">IgA</text>
<text x="46.00" y="391.50" font-size="4.7" font-weight="bold" fill="#111">ug/ml</text>
<text x="89.90" y="396.10" font-size="5.1" font-weight="bold" font-family='"Liberation Serif", serif' fill="#111">P=0.0037</text>
<text x="44.60" y="462.40" font-size="9.0" font-weight="bold" font-family='"Liberation Serif", serif' fill="#111">e6</text>
<g transform="translate(72.60,465.20) scale(0.92,1)">
<text x="0.00" y="0.00" font-size="4.6" text-anchor="middle" font-weight="bold" fill="#2a2a2a">rTMS+PC</text>
</g>
<g transform="translate(89.75,465.20) scale(0.92,1)">
<text x="0.00" y="0.00" font-size="4.6" text-anchor="middle" font-weight="bold" fill="#2a2a2a">NC</text>
</g>
<line x1="138.60" y1="397.60" x2="138.60" y2="458.90" stroke="#333" stroke-width="0.8"/>
<line x1="138.30" y1="458.60" x2="177.00" y2="458.60" stroke="#777" stroke-width="1.1"/>
<line x1="137.00" y1="458.60" x2="138.60" y2="458.60" stroke="#222" stroke-width="0.5"/>
<g transform="translate(136.60,460.10) scale(0.86,1)">
<text x="0.00" y="0.00" font-size="4.5" text-anchor="end" font-weight="bold" fill="#222">0</text>
</g>
<line x1="137.00" y1="443.35" x2="138.60" y2="443.35" stroke="#222" stroke-width="0.5"/>
<g transform="translate(136.60,444.85) scale(0.86,1)">
<text x="0.00" y="0.00" font-size="4.5" text-anchor="end" font-weight="bold" fill="#222">5</text>
</g>
<line x1="137.00" y1="428.10" x2="138.60" y2="428.10" stroke="#222" stroke-width="0.5"/>
<g transform="translate(136.60,429.60) scale(0.86,1)">
<text x="0.00" y="0.00" font-size="4.5" text-anchor="end" font-weight="bold" fill="#222">10</text>
</g>
<line x1="137.00" y1="412.85" x2="138.60" y2="412.85" stroke="#222" stroke-width="0.5"/>
<g transform="translate(136.60,414.35) scale(0.86,1)">
<text x="0.00" y="0.00" font-size="4.5" text-anchor="end" font-weight="bold" fill="#222">15</text>
</g>
<line x1="137.00" y1="397.60" x2="138.60" y2="397.60" stroke="#222" stroke-width="0.5"/>
<g transform="translate(136.60,399.10) scale(0.86,1)">
<text x="0.00" y="0.00" font-size="4.5" text-anchor="end" font-weight="bold" fill="#222">20</text>
</g>
<rect x="144.30" y="425.66" width="10.60" height="32.94" fill="#ff2412" stroke="#1a1a1a" stroke-width="0.5"/>
<line x1="149.60" y1="458.60" x2="149.60" y2="460.20" stroke="#222" stroke-width="0.5"/>
<rect x="160.60" y="436.03" width="11.00" height="22.57" fill="#40fd14" stroke="#1a1a1a" stroke-width="0.5"/>
<line x1="166.10" y1="458.60" x2="166.10" y2="460.20" stroke="#222" stroke-width="0.5"/>
<line x1="149.60" y1="425.66" x2="149.60" y2="419.56" stroke="#111" stroke-width="0.45"/>
<line x1="147.40" y1="419.56" x2="151.80" y2="419.56" stroke="#111" stroke-width="0.45"/>
<circle cx="147.20" cy="424.04" r="0.9" fill="#000"/>
<circle cx="152.93" cy="422.83" r="0.9" fill="#000"/>
<circle cx="152.93" cy="429.53" r="0.9" fill="#000"/>
<circle cx="153.67" cy="425.59" r="0.9" fill="#000"/>
<circle cx="147.08" cy="428.52" r="0.9" fill="#000"/>
<circle cx="146.24" cy="424.73" r="0.9" fill="#000"/>
<circle cx="147.46" cy="426.97" r="0.9" fill="#000"/>
<circle cx="147.62" cy="423.65" r="0.9" fill="#000"/>
<circle cx="151.65" cy="434.20" r="0.9" fill="#000"/>
<circle cx="148.88" cy="430.52" r="0.9" fill="#000"/>
<circle cx="148.59" cy="431.40" r="0.9" fill="#000"/>
<circle cx="148.27" cy="422.21" r="0.9" fill="#000"/>
<circle cx="153.44" cy="421.57" r="0.9" fill="#000"/>
<circle cx="146.53" cy="423.98" r="0.9" fill="#000"/>
<circle cx="152.58" cy="433.40" r="0.9" fill="#000"/>
<circle cx="147.27" cy="425.83" r="0.9" fill="#000"/>
<circle cx="148.78" cy="426.21" r="0.9" fill="#000"/>
<circle cx="149.16" cy="421.55" r="0.9" fill="#000"/>
<circle cx="152.66" cy="415.43" r="0.9" fill="#000"/>
<circle cx="145.68" cy="428.70" r="0.9" fill="#000"/>
<circle cx="152.84" cy="417.20" r="0.9" fill="#000"/>
<circle cx="149.38" cy="423.92" r="0.9" fill="#000"/>
<circle cx="148.71" cy="425.75" r="0.9" fill="#000"/>
<circle cx="153.10" cy="425.71" r="0.9" fill="#000"/>
<circle cx="153.47" cy="420.72" r="0.9" fill="#000"/>
<circle cx="147.54" cy="434.20" r="0.9" fill="#000"/>
<circle cx="149.78" cy="423.20" r="0.9" fill="#000"/>
<circle cx="151.09" cy="423.65" r="0.9" fill="#000"/>
<circle cx="150.81" cy="417.47" r="0.9" fill="#000"/>
<circle cx="151.77" cy="428.82" r="0.9" fill="#000"/>
<line x1="166.10" y1="436.03" x2="166.10" y2="432.37" stroke="#111" stroke-width="0.45"/>
<line x1="163.90" y1="432.37" x2="168.30" y2="432.37" stroke="#111" stroke-width="0.45"/>
<rect x="161.34" y="439.33" width="1.6" height="1.6" fill="#000"/>
<rect x="167.73" y="434.10" width="1.6" height="1.6" fill="#000"/>
<rect x="166.55" y="434.41" width="1.6" height="1.6" fill="#000"/>
<rect x="163.61" y="427.74" width="1.6" height="1.6" fill="#000"/>
<rect x="166.47" y="433.46" width="1.6" height="1.6" fill="#000"/>
<rect x="167.01" y="433.39" width="1.6" height="1.6" fill="#000"/>
<rect x="165.51" y="434.25" width="1.6" height="1.6" fill="#000"/>
<rect x="166.01" y="434.40" width="1.6" height="1.6" fill="#000"/>
<rect x="166.17" y="437.05" width="1.6" height="1.6" fill="#000"/>
<rect x="161.09" y="433.69" width="1.6" height="1.6" fill="#000"/>
<rect x="169.25" y="436.42" width="1.6" height="1.6" fill="#000"/>
<rect x="166.54" y="431.70" width="1.6" height="1.6" fill="#000"/>
<rect x="163.02" y="432.39" width="1.6" height="1.6" fill="#000"/>
<rect x="163.12" y="437.77" width="1.6" height="1.6" fill="#000"/>
<rect x="163.64" y="430.15" width="1.6" height="1.6" fill="#000"/>
<rect x="161.19" y="436.51" width="1.6" height="1.6" fill="#000"/>
<rect x="164.61" y="440.26" width="1.6" height="1.6" fill="#000"/>
<rect x="163.21" y="435.18" width="1.6" height="1.6" fill="#000"/>
<rect x="162.95" y="439.02" width="1.6" height="1.6" fill="#000"/>
<rect x="161.29" y="441.86" width="1.6" height="1.6" fill="#000"/>
<polyline points="149.30,407.00 149.30,403.20 165.90,403.20 165.90,421.00" fill="none" stroke="#222" stroke-width="0.7"/>
<text x="157.50" y="403.50" font-size="8.0" text-anchor="middle" font-weight="bold" fill="#111">****</text>
<text x="157.50" y="390.00" font-size="5.8" text-anchor="middle" font-weight="bold" fill="#111">IgM</text>
<text x="124.00" y="392.60" font-size="4.7" font-weight="bold" fill="#111">ug/ml</text>
<text x="167.90" y="396.50" font-size="5.1" font-weight="bold" font-family='"Liberation Serif", serif' fill="#111">P &lt; 0.0001</text>
<text x="122.60" y="462.60" font-size="9.0" font-weight="bold" font-family='"Liberation Serif", serif' fill="#111">e7</text>
<g transform="translate(149.60,466.60) scale(0.92,1)">
<text x="0.00" y="0.00" font-size="4.6" text-anchor="middle" font-weight="bold" fill="#2a2a2a">rTMS+PC</text>
</g>
<g transform="translate(166.10,466.60) scale(0.92,1)">
<text x="0.00" y="0.00" font-size="4.6" text-anchor="middle" font-weight="bold" fill="#2a2a2a">NC</text>
</g>
<line x1="214.60" y1="397.40" x2="214.60" y2="458.90" stroke="#333" stroke-width="0.8"/>
<line x1="214.30" y1="458.60" x2="255.20" y2="458.60" stroke="#777" stroke-width="1.1"/>
<line x1="213.00" y1="458.60" x2="214.60" y2="458.60" stroke="#222" stroke-width="0.5"/>
<g transform="translate(212.60,460.10) scale(0.86,1)">
<text x="0.00" y="0.00" font-size="4.5" text-anchor="end" font-weight="bold" fill="#222">0</text>
</g>
<line x1="213.00" y1="438.20" x2="214.60" y2="438.20" stroke="#222" stroke-width="0.5"/>
<g transform="translate(212.60,439.70) scale(0.86,1)">
<text x="0.00" y="0.00" font-size="4.5" text-anchor="end" font-weight="bold" fill="#222">50</text>
</g>
<line x1="213.00" y1="417.80" x2="214.60" y2="417.80" stroke="#222" stroke-width="0.5"/>
<g transform="translate(212.60,419.30) scale(0.86,1)">
<text x="0.00" y="0.00" font-size="4.5" text-anchor="end" font-weight="bold" fill="#222">100</text>
</g>
<line x1="213.00" y1="397.40" x2="214.60" y2="397.40" stroke="#222" stroke-width="0.5"/>
<g transform="translate(212.60,398.90) scale(0.86,1)">
<text x="0.00" y="0.00" font-size="4.5" text-anchor="end" font-weight="bold" fill="#222">150</text>
</g>
<rect x="220.60" y="428.41" width="11.10" height="30.19" fill="#ff2412" stroke="#1a1a1a" stroke-width="0.5"/>
<line x1="226.15" y1="458.60" x2="226.15" y2="460.20" stroke="#222" stroke-width="0.5"/>
<rect x="237.90" y="429.63" width="10.90" height="28.97" fill="#40fd14" stroke="#1a1a1a" stroke-width="0.5"/>
<line x1="243.35" y1="458.60" x2="243.35" y2="460.20" stroke="#222" stroke-width="0.5"/>
<line x1="226.15" y1="428.41" x2="226.15" y2="424.33" stroke="#111" stroke-width="0.45"/>
<line x1="223.95" y1="424.33" x2="228.35" y2="424.33" stroke="#111" stroke-width="0.45"/>
<circle cx="227.74" cy="429.79" r="0.9" fill="#000"/>
<circle cx="223.52" cy="425.10" r="0.9" fill="#000"/>
<circle cx="226.19" cy="426.44" r="0.9" fill="#000"/>
<circle cx="223.59" cy="433.12" r="0.9" fill="#000"/>
<circle cx="228.93" cy="425.23" r="0.9" fill="#000"/>
<circle cx="223.81" cy="428.53" r="0.9" fill="#000"/>
<circle cx="224.37" cy="427.02" r="0.9" fill="#000"/>
<circle cx="230.08" cy="422.57" r="0.9" fill="#000"/>
<circle cx="223.74" cy="430.10" r="0.9" fill="#000"/>
<circle cx="225.43" cy="427.94" r="0.9" fill="#000"/>
<circle cx="223.07" cy="432.04" r="0.9" fill="#000"/>
<circle cx="225.22" cy="434.86" r="0.9" fill="#000"/>
<circle cx="223.03" cy="425.96" r="0.9" fill="#000"/>
<circle cx="222.25" cy="419.41" r="0.9" fill="#000"/>
<circle cx="229.61" cy="424.97" r="0.9" fill="#000"/>
<circle cx="229.49" cy="426.80" r="0.9" fill="#000"/>
<circle cx="229.90" cy="429.23" r="0.9" fill="#000"/>
<circle cx="224.66" cy="436.16" r="0.9" fill="#000"/>
<circle cx="228.29" cy="424.98" r="0.9" fill="#000"/>
<circle cx="222.08" cy="420.97" r="0.9" fill="#000"/>
<circle cx="225.05" cy="429.63" r="0.9" fill="#000"/>
<circle cx="224.69" cy="430.73" r="0.9" fill="#000"/>
<circle cx="224.23" cy="427.88" r="0.9" fill="#000"/>
<circle cx="224.86" cy="427.78" r="0.9" fill="#000"/>
<circle cx="230.19" cy="426.39" r="0.9" fill="#000"/>
<circle cx="223.60" cy="428.46" r="0.9" fill="#000"/>
<circle cx="228.95" cy="431.76" r="0.9" fill="#000"/>
<circle cx="225.56" cy="423.25" r="0.9" fill="#000"/>
<circle cx="225.04" cy="424.48" r="0.9" fill="#000"/>
<circle cx="229.80" cy="426.87" r="0.9" fill="#000"/>
<circle cx="226.15" cy="442.28" r="0.9" fill="#000"/>
<line x1="243.35" y1="429.63" x2="243.35" y2="422.70" stroke="#111" stroke-width="0.45"/>
<line x1="241.15" y1="422.70" x2="245.55" y2="422.70" stroke="#111" stroke-width="0.45"/>
<rect x="245.92" y="426.65" width="1.6" height="1.6" fill="#000"/>
<rect x="238.56" y="423.01" width="1.6" height="1.6" fill="#000"/>
<rect x="244.82" y="438.94" width="1.6" height="1.6" fill="#000"/>
<rect x="238.65" y="422.49" width="1.6" height="1.6" fill="#000"/>
<rect x="246.12" y="426.54" width="1.6" height="1.6" fill="#000"/>
<rect x="240.48" y="428.32" width="1.6" height="1.6" fill="#000"/>
<rect x="241.18" y="429.07" width="1.6" height="1.6" fill="#000"/>
<rect x="240.61" y="442.80" width="1.6" height="1.6" fill="#000"/>
<rect x="240.53" y="420.11" width="1.6" height="1.6" fill="#000"/>
<rect x="244.39" y="431.21" width="1.6" height="1.6" fill="#000"/>
<rect x="238.33" y="430.96" width="1.6" height="1.6" fill="#000"/>
<rect x="244.72" y="424.04" width="1.6" height="1.6" fill="#000"/>
<rect x="246.32" y="420.82" width="1.6" height="1.6" fill="#000"/>
<rect x="238.51" y="433.47" width="1.6" height="1.6" fill="#000"/>
<rect x="246.43" y="428.08" width="1.6" height="1.6" fill="#000"/>
<rect x="246.41" y="421.46" width="1.6" height="1.6" fill="#000"/>
<rect x="241.95" y="432.59" width="1.6" height="1.6" fill="#000"/>
<rect x="242.49" y="425.59" width="1.6" height="1.6" fill="#000"/>
<rect x="245.12" y="425.10" width="1.6" height="1.6" fill="#000"/>
<rect x="244.58" y="430.64" width="1.6" height="1.6" fill="#000"/>
<polyline points="225.90,412.50 225.90,409.30 243.60,409.30 243.60,412.50" fill="none" stroke="#222" stroke-width="0.7"/>
<text x="234.60" y="407.30" font-size="6.0" text-anchor="middle" fill="#222">ns</text>
<text x="234.60" y="389.60" font-size="5.8" text-anchor="middle" font-weight="bold" fill="#111">IgG</text>
<text x="198.00" y="391.90" font-size="4.7" font-weight="bold" fill="#111">ug/ml</text>
<text x="243.90" y="397.70" font-size="5.1" font-weight="bold" font-family='"Liberation Serif", serif' fill="#111">P=0.5432</text>
<text x="199.10" y="462.60" font-size="9.0" font-weight="bold" font-family='"Liberation Serif", serif' fill="#111">e8</text>
<g transform="translate(226.15,466.60) scale(0.92,1)">
<text x="0.00" y="0.00" font-size="4.6" text-anchor="middle" font-weight="bold" fill="#2a2a2a">rTMS+PC</text>
</g>
<g transform="translate(243.35,466.60) scale(0.92,1)">
<text x="0.00" y="0.00" font-size="4.6" text-anchor="middle" font-weight="bold" fill="#2a2a2a">NC</text>
</g>
<line x1="289.60" y1="402.30" x2="289.60" y2="459.80" stroke="#333" stroke-width="0.8"/>
<line x1="289.30" y1="459.50" x2="328.60" y2="459.50" stroke="#777" stroke-width="1.1"/>
<line x1="288.00" y1="459.50" x2="289.60" y2="459.50" stroke="#222" stroke-width="0.5"/>
<g transform="translate(287.60,461.00) scale(0.86,1)">
<text x="0.00" y="0.00" font-size="4.5" text-anchor="end" font-weight="bold" fill="#222">0</text>
</g>
<line x1="288.00" y1="445.20" x2="289.60" y2="445.20" stroke="#222" stroke-width="0.5"/>
<g transform="translate(287.60,446.70) scale(0.86,1)">
<text x="0.00" y="0.00" font-size="4.5" text-anchor="end" font-weight="bold" fill="#222">50</text>
</g>
<line x1="288.00" y1="430.90" x2="289.60" y2="430.90" stroke="#222" stroke-width="0.5"/>
<g transform="translate(287.60,432.40) scale(0.86,1)">
<text x="0.00" y="0.00" font-size="4.5" text-anchor="end" font-weight="bold" fill="#222">100</text>
</g>
<line x1="288.00" y1="416.60" x2="289.60" y2="416.60" stroke="#222" stroke-width="0.5"/>
<g transform="translate(287.60,418.10) scale(0.86,1)">
<text x="0.00" y="0.00" font-size="4.5" text-anchor="end" font-weight="bold" fill="#222">150</text>
</g>
<line x1="288.00" y1="402.30" x2="289.60" y2="402.30" stroke="#222" stroke-width="0.5"/>
<g transform="translate(287.60,403.80) scale(0.86,1)">
<text x="0.00" y="0.00" font-size="4.5" text-anchor="end" font-weight="bold" fill="#222">200</text>
</g>
<rect x="295.30" y="425.75" width="10.60" height="33.75" fill="#ff2412" stroke="#1a1a1a" stroke-width="0.5"/>
<line x1="300.60" y1="459.50" x2="300.60" y2="461.10" stroke="#222" stroke-width="0.5"/>
<rect x="311.90" y="431.19" width="10.70" height="28.31" fill="#40fd14" stroke="#1a1a1a" stroke-width="0.5"/>
<line x1="317.25" y1="459.50" x2="317.25" y2="461.10" stroke="#222" stroke-width="0.5"/>
<line x1="300.60" y1="425.75" x2="300.60" y2="418.60" stroke="#111" stroke-width="0.45"/>
<line x1="298.40" y1="418.60" x2="302.80" y2="418.60" stroke="#111" stroke-width="0.45"/>
<circle cx="301.48" cy="421.83" r="0.9" fill="#000"/>
<circle cx="299.19" cy="436.33" r="0.9" fill="#000"/>
<circle cx="302.91" cy="429.13" r="0.9" fill="#000"/>
<circle cx="297.15" cy="421.21" r="0.9" fill="#000"/>
<circle cx="298.53" cy="423.19" r="0.9" fill="#000"/>
<circle cx="297.03" cy="416.66" r="0.9" fill="#000"/>
<circle cx="299.17" cy="418.81" r="0.9" fill="#000"/>
<circle cx="304.54" cy="424.92" r="0.9" fill="#000"/>
<circle cx="298.67" cy="412.72" r="0.9" fill="#000"/>
<circle cx="297.19" cy="436.62" r="0.9" fill="#000"/>
<circle cx="302.32" cy="420.53" r="0.9" fill="#000"/>
<circle cx="300.17" cy="422.40" r="0.9" fill="#000"/>
<circle cx="301.59" cy="425.96" r="0.9" fill="#000"/>
<circle cx="302.03" cy="420.11" r="0.9" fill="#000"/>
<circle cx="301.95" cy="426.76" r="0.9" fill="#000"/>
<circle cx="297.49" cy="436.62" r="0.9" fill="#000"/>
<circle cx="301.15" cy="423.77" r="0.9" fill="#000"/>
<circle cx="299.56" cy="431.03" r="0.9" fill="#000"/>
<circle cx="298.53" cy="426.92" r="0.9" fill="#000"/>
<circle cx="298.51" cy="430.79" r="0.9" fill="#000"/>
<circle cx="301.24" cy="419.15" r="0.9" fill="#000"/>
<circle cx="299.18" cy="415.88" r="0.9" fill="#000"/>
<circle cx="300.66" cy="436.62" r="0.9" fill="#000"/>
<circle cx="298.40" cy="414.66" r="0.9" fill="#000"/>
<circle cx="304.63" cy="423.32" r="0.9" fill="#000"/>
<circle cx="297.34" cy="435.16" r="0.9" fill="#000"/>
<circle cx="303.39" cy="436.62" r="0.9" fill="#000"/>
<circle cx="304.00" cy="424.77" r="0.9" fill="#000"/>
<circle cx="297.48" cy="421.53" r="0.9" fill="#000"/>
<circle cx="298.05" cy="425.29" r="0.9" fill="#000"/>
<line x1="317.25" y1="431.19" x2="317.25" y2="422.03" stroke="#111" stroke-width="0.45"/>
<line x1="315.05" y1="422.03" x2="319.45" y2="422.03" stroke="#111" stroke-width="0.45"/>
<rect x="320.02" y="419.20" width="1.6" height="1.6" fill="#000"/>
<rect x="315.39" y="432.30" width="1.6" height="1.6" fill="#000"/>
<rect x="314.46" y="424.14" width="1.6" height="1.6" fill="#000"/>
<rect x="318.76" y="437.37" width="1.6" height="1.6" fill="#000"/>
<rect x="317.25" y="426.56" width="1.6" height="1.6" fill="#000"/>
<rect x="317.45" y="431.74" width="1.6" height="1.6" fill="#000"/>
<rect x="313.47" y="428.72" width="1.6" height="1.6" fill="#000"/>
<rect x="313.99" y="422.33" width="1.6" height="1.6" fill="#000"/>
<rect x="317.71" y="430.74" width="1.6" height="1.6" fill="#000"/>
<rect x="313.99" y="418.79" width="1.6" height="1.6" fill="#000"/>
<rect x="317.93" y="422.77" width="1.6" height="1.6" fill="#000"/>
<rect x="313.84" y="429.84" width="1.6" height="1.6" fill="#000"/>
<rect x="318.90" y="432.59" width="1.6" height="1.6" fill="#000"/>
<rect x="316.85" y="425.04" width="1.6" height="1.6" fill="#000"/>
<rect x="315.58" y="426.73" width="1.6" height="1.6" fill="#000"/>
<rect x="316.87" y="428.85" width="1.6" height="1.6" fill="#000"/>
<rect x="313.66" y="432.79" width="1.6" height="1.6" fill="#000"/>
<rect x="318.07" y="433.26" width="1.6" height="1.6" fill="#000"/>
<rect x="314.85" y="436.29" width="1.6" height="1.6" fill="#000"/>
<rect x="320.21" y="426.63" width="1.6" height="1.6" fill="#000"/>
<polyline points="300.30,405.60 300.30,402.30 317.50,402.30 317.50,410.70" fill="none" stroke="#222" stroke-width="0.7"/>
<text x="309.00" y="402.40" font-size="8.0" text-anchor="middle" font-weight="bold" fill="#111">*</text>
<text x="309.00" y="389.60" font-size="5.8" text-anchor="middle" font-weight="bold" fill="#111">PTGES2</text>
<text x="275.30" y="398.60" font-size="4.7" font-weight="bold" fill="#111">pg/ml</text>
<text x="316.60" y="398.10" font-size="5.1" font-weight="bold" font-family='"Liberation Serif", serif' fill="#111">P=0.0334</text>
<text x="274.40" y="463.50" font-size="9.0" font-weight="bold" font-family='"Liberation Serif", serif' fill="#111">e9</text>
<g transform="translate(300.60,467.10) scale(0.92,1)">
<text x="0.00" y="0.00" font-size="4.6" text-anchor="middle" font-weight="bold" fill="#2a2a2a">rTMS+PC</text>
</g>
<g transform="translate(317.25,467.10) scale(0.92,1)">
<text x="0.00" y="0.00" font-size="4.6" text-anchor="middle" font-weight="bold" fill="#2a2a2a">NC</text>
</g>
<text x="387.20" y="15.60" font-size="25.5" font-family='"Liberation Serif", serif' fill="#000">c</text>
<circle cx="549.0" cy="87.6" r="73.0" fill="#e8f6fb"/>
<line x1="549.0" y1="87.6" x2="549.00" y2="14.60" stroke="#c4c4c4" stroke-width="0.7"/>
<line x1="549.0" y1="87.6" x2="612.22" y2="51.10" stroke="#c4c4c4" stroke-width="0.7"/>
<line x1="549.0" y1="87.6" x2="612.22" y2="124.10" stroke="#c4c4c4" stroke-width="0.7"/>
<line x1="549.0" y1="87.6" x2="549.00" y2="160.60" stroke="#c4c4c4" stroke-width="0.7"/>
<line x1="549.0" y1="87.6" x2="485.78" y2="124.10" stroke="#c4c4c4" stroke-width="0.7"/>
<line x1="549.0" y1="87.6" x2="485.78" y2="51.10" stroke="#c4c4c4" stroke-width="0.7"/>
<circle cx="549.0" cy="87.6" r="7.20" fill="none" stroke="#e04a58" stroke-width="0.75" stroke-dasharray="0.01,1.95" stroke-linecap="round"/>
<circle cx="549.0" cy="87.6" r="40.10" fill="none" stroke="#e04a58" stroke-width="0.75" stroke-dasharray="0.01,1.95" stroke-linecap="round"/>
<circle cx="549.0" cy="87.6" r="73.00" fill="none" stroke="#e04a58" stroke-width="0.75" stroke-dasharray="0.01,1.95" stroke-linecap="round"/>
<polygon points="549.00,14.60 583.73,67.55 589.43,110.94 549.00,94.80 537.07,94.49 514.27,67.55" fill="none" stroke="#f01d1d" stroke-width="1.9" stroke-linejoin="round"/>
<circle cx="549.00" cy="14.60" r="3.2" fill="#f01d1d"/>
<circle cx="583.73" cy="67.55" r="3.2" fill="#f01d1d"/>
<circle cx="589.43" cy="110.94" r="3.2" fill="#f01d1d"/>
<circle cx="549.00" cy="94.80" r="3.2" fill="#f01d1d"/>
<circle cx="537.07" cy="94.49" r="3.2" fill="#f01d1d"/>
<circle cx="514.27" cy="67.55" r="3.2" fill="#f01d1d"/>
<text x="549.00" y="5.90" font-size="6.85" text-anchor="middle" fill="#1a1a1a">Frontal.lobe</text>
<text x="621.50" y="48.60" font-size="6.85" fill="#1a1a1a">Parietal.lobe</text>
<text x="621.50" y="132.10" font-size="6.85" fill="#1a1a1a">Temporal.lobe</text>
<text x="549.20" y="174.10" font-size="6.85" text-anchor="middle" fill="#1a1a1a">Occipital.lobe</text>
<text x="476.00" y="132.10" font-size="6.85" text-anchor="end" fill="#1a1a1a">Insular.lobe</text>
<text x="476.00" y="48.60" font-size="6.85" text-anchor="end" fill="#1a1a1a">Cingulate.gyrus</text>
<text x="491.40" y="21.20" font-size="6.85" fill="#1a1a1a">100%</text>
<text x="513.30" y="52.50" font-size="6.85" fill="#1a1a1a">50%</text>
<text x="542.70" y="90.10" font-size="6.85" fill="#1a1a1a">0%</text>
<text x="401.70" y="153.90" font-size="6.85" fill="#1a1a1a">100%:10 Positive Brain area</text>
<line x1="402.9" y1="165.2" x2="420.9" y2="165.2" stroke="#f01d1d" stroke-width="1.7"/>
<circle cx="412" cy="165.2" r="3.2" fill="#f01d1d"/>
<text x="429.20" y="167.60" font-size="6.85" fill="#1a1a1a">Influenza</text>
<text x="386.70" y="357.60" font-size="25" font-family='"Liberation Serif", serif' fill="#000">f</text>
<circle cx="580.3" cy="422.2" r="65.8" fill="#e8f6fb"/>
<line x1="580.3" y1="422.2" x2="580.30" y2="356.40" stroke="#c4c4c4" stroke-width="0.7"/>
<line x1="580.3" y1="422.2" x2="637.28" y2="389.30" stroke="#c4c4c4" stroke-width="0.7"/>
<line x1="580.3" y1="422.2" x2="637.28" y2="455.10" stroke="#c4c4c4" stroke-width="0.7"/>
<line x1="580.3" y1="422.2" x2="580.30" y2="488.00" stroke="#c4c4c4" stroke-width="0.7"/>
<line x1="580.3" y1="422.2" x2="523.32" y2="455.10" stroke="#c4c4c4" stroke-width="0.7"/>
<line x1="580.3" y1="422.2" x2="523.32" y2="389.30" stroke="#c4c4c4" stroke-width="0.7"/>
<circle cx="580.3" cy="422.2" r="5.90" fill="none" stroke="#e04a58" stroke-width="0.75" stroke-dasharray="0.01,1.95" stroke-linecap="round"/>
<circle cx="580.3" cy="422.2" r="35.85" fill="none" stroke="#e04a58" stroke-width="0.75" stroke-dasharray="0.01,1.95" stroke-linecap="round"/>
<circle cx="580.3" cy="422.2" r="65.80" fill="none" stroke="#e04a58" stroke-width="0.75" stroke-dasharray="0.01,1.95" stroke-linecap="round"/>
<polygon points="580.30,398.93 591.63,415.66 591.63,428.74 580.30,434.09 572.60,426.65 567.93,415.06" fill="none" stroke="#70eef8" stroke-width="1.5" stroke-linejoin="round"/>
<circle cx="580.30" cy="398.93" r="2.9" fill="#70eef8"/>
<circle cx="591.63" cy="415.66" r="2.9" fill="#70eef8"/>
<circle cx="591.63" cy="428.74" r="2.9" fill="#70eef8"/>
<circle cx="580.30" cy="434.09" r="2.9" fill="#70eef8"/>
<circle cx="572.60" cy="426.65" r="2.9" fill="#70eef8"/>
<circle cx="567.93" cy="415.06" r="2.9" fill="#70eef8"/>
<polygon points="580.30,405.52 588.00,417.75 590.60,428.14 580.30,455.06 572.60,426.65 571.04,416.85" fill="none" stroke="#f4b4c6" stroke-width="1.5" stroke-linejoin="round"/>
<circle cx="580.30" cy="405.52" r="2.9" fill="#f4b4c6"/>
<circle cx="588.00" cy="417.75" r="2.9" fill="#f4b4c6"/>
<circle cx="590.60" cy="428.14" r="2.9" fill="#f4b4c6"/>
<circle cx="580.30" cy="455.06" r="2.9" fill="#f4b4c6"/>
<circle cx="572.60" cy="426.65" r="2.9" fill="#f4b4c6"/>
<circle cx="571.04" cy="416.85" r="2.9" fill="#f4b4c6"/>
<polygon points="580.30,377.96 590.60,416.25 597.34,432.04 580.30,447.27 568.97,428.74 572.60,417.75" fill="none" stroke="#9c2424" stroke-width="1.5" stroke-linejoin="round"/>
<circle cx="580.30" cy="377.96" r="2.9" fill="#9c2424"/>
<circle cx="590.60" cy="416.25" r="2.9" fill="#9c2424"/>
<circle cx="597.34" cy="432.04" r="2.9" fill="#9c2424"/>
<circle cx="580.30" cy="447.27" r="2.9" fill="#9c2424"/>
<circle cx="568.97" cy="428.74" r="2.9" fill="#9c2424"/>
<circle cx="572.60" cy="417.75" r="2.9" fill="#9c2424"/>
<polygon points="580.30,411.51 590.60,416.25 600.97,434.13 580.30,441.28 572.60,426.65 572.60,417.75" fill="none" stroke="#e99a32" stroke-width="1.5" stroke-linejoin="round"/>
<circle cx="580.30" cy="411.51" r="2.9" fill="#e99a32"/>
<circle cx="590.60" cy="416.25" r="2.9" fill="#e99a32"/>
<circle cx="600.97" cy="434.13" r="2.9" fill="#e99a32"/>
<circle cx="580.30" cy="441.28" r="2.9" fill="#e99a32"/>
<circle cx="572.60" cy="426.65" r="2.9" fill="#e99a32"/>
<circle cx="572.60" cy="417.75" r="2.9" fill="#e99a32"/>
<polygon points="580.30,371.97 600.97,410.26 591.63,428.74 580.30,428.10 572.60,426.65 567.41,414.76" fill="none" stroke="#a323f2" stroke-width="1.5" stroke-linejoin="round"/>
<circle cx="580.30" cy="371.97" r="2.9" fill="#a323f2"/>
<circle cx="600.97" cy="410.26" r="2.9" fill="#a323f2"/>
<circle cx="591.63" cy="428.74" r="2.9" fill="#a323f2"/>
<circle cx="580.30" cy="428.10" r="2.9" fill="#a323f2"/>
<circle cx="572.60" cy="426.65" r="2.9" fill="#a323f2"/>
<circle cx="567.41" cy="414.76" r="2.9" fill="#a323f2"/>
<polygon points="580.30,376.17 593.19,414.76 590.08,427.85 580.30,450.26 570.52,427.85 574.15,418.65" fill="none" stroke="#ef1e1e" stroke-width="1.5" stroke-linejoin="round"/>
<circle cx="580.30" cy="376.17" r="2.9" fill="#ef1e1e"/>
<circle cx="593.19" cy="414.76" r="2.9" fill="#ef1e1e"/>
<circle cx="590.08" cy="427.85" r="2.9" fill="#ef1e1e"/>
<circle cx="580.30" cy="450.26" r="2.9" fill="#ef1e1e"/>
<circle cx="570.52" cy="427.85" r="2.9" fill="#ef1e1e"/>
<circle cx="574.15" cy="418.65" r="2.9" fill="#ef1e1e"/>
<polygon points="580.30,356.40 633.65,391.40 594.23,430.24 580.30,437.68 549.25,440.12 560.15,410.56" fill="none" stroke="#f1f13c" stroke-width="1.5" stroke-linejoin="round"/>
<circle cx="580.30" cy="356.40" r="2.9" fill="#f1f13c"/>
<circle cx="633.65" cy="391.40" r="2.9" fill="#f1f13c"/>
<circle cx="594.23" cy="430.24" r="2.9" fill="#f1f13c"/>
<circle cx="580.30" cy="437.68" r="2.9" fill="#f1f13c"/>
<circle cx="549.25" cy="440.12" r="2.9" fill="#f1f13c"/>
<circle cx="560.15" cy="410.56" r="2.9" fill="#f1f13c"/>
<polygon points="580.30,380.96 597.34,412.36 620.17,445.22 580.30,446.07 571.56,427.25 556.00,408.17" fill="none" stroke="#40f020" stroke-width="1.5" stroke-linejoin="round"/>
<circle cx="580.30" cy="380.96" r="2.9" fill="#40f020"/>
<circle cx="597.34" cy="412.36" r="2.9" fill="#40f020"/>
<circle cx="620.17" cy="445.22" r="2.9" fill="#40f020"/>
<circle cx="580.30" cy="446.07" r="2.9" fill="#40f020"/>
<circle cx="571.56" cy="427.25" r="2.9" fill="#40f020"/>
<circle cx="556.00" cy="408.17" r="2.9" fill="#40f020"/>
<polygon points="580.30,394.14 590.60,416.25 593.71,429.94 580.30,432.89 574.67,425.45 563.26,412.36" fill="none" stroke="#acd8e3" stroke-width="1.5" stroke-linejoin="round"/>
<circle cx="580.30" cy="394.14" r="2.9" fill="#acd8e3"/>
<circle cx="590.60" cy="416.25" r="2.9" fill="#acd8e3"/>
<circle cx="593.71" cy="429.94" r="2.9" fill="#acd8e3"/>
<circle cx="580.30" cy="432.89" r="2.9" fill="#acd8e3"/>
<circle cx="574.67" cy="425.45" r="2.9" fill="#acd8e3"/>
<circle cx="563.26" cy="412.36" r="2.9" fill="#acd8e3"/>
<text x="581.00" y="348.40" font-size="6.65" text-anchor="middle" fill="#1a1a1a">Frontal.lobe</text>
<text x="642.60" y="387.00" font-size="6.65" fill="#1a1a1a">Parietal.lobe</text>
<text x="643.10" y="463.10" font-size="6.65" fill="#1a1a1a">Temporal.lobe</text>
<text x="581.30" y="498.20" font-size="6.65" text-anchor="middle" fill="#1a1a1a">Occipital.lobe</text>
<text x="518.40" y="463.10" font-size="6.65" text-anchor="end" fill="#1a1a1a">Insular.lobe</text>
<text x="520.30" y="386.80" font-size="6.65" text-anchor="end" fill="#1a1a1a">Cingulate.gyrus</text>
<text x="527.80" y="364.00" font-size="6.65" fill="#1a1a1a">100%</text>
<text x="548.60" y="390.20" font-size="6.65" fill="#1a1a1a">50%</text>
<text x="576.40" y="424.80" font-size="6.65" fill="#1a1a1a">0%</text>
<text x="400.10" y="359.90" font-size="7.35" fill="#1a1a1a">100%: 14 positive brain areas</text>
<line x1="400" y1="368.8" x2="416" y2="368.8" stroke="#70eef8" stroke-width="1.8"/>
<circle cx="408.1" cy="368.8" r="2.9" fill="#70eef8"/>
<text x="421.60" y="370.80" font-size="5.6" fill="#1a1a1a">CRP</text>
<line x1="400" y1="382.1" x2="416" y2="382.1" stroke="#f4b4c6" stroke-width="1.8"/>
<circle cx="408.1" cy="382.1" r="2.9" fill="#f4b4c6"/>
<text x="421.60" y="384.10" font-size="5.6" fill="#1a1a1a">IgA</text>
<line x1="400" y1="395.9" x2="416" y2="395.9" stroke="#9c2424" stroke-width="1.8"/>
<circle cx="408.1" cy="395.9" r="2.9" fill="#9c2424"/>
<text x="421.60" y="397.90" font-size="5.6" fill="#1a1a1a">IgG</text>
<line x1="400" y1="409.2" x2="416" y2="409.2" stroke="#e99a32" stroke-width="1.8"/>
<circle cx="408.1" cy="409.2" r="2.9" fill="#e99a32"/>
<text x="421.60" y="411.20" font-size="5.6" fill="#1a1a1a">IgM</text>
<line x1="400" y1="422.5" x2="416" y2="422.5" stroke="#a323f2" stroke-width="1.8"/>
<circle cx="408.1" cy="422.5" r="2.9" fill="#a323f2"/>
<text x="421.60" y="424.50" font-size="5.6" fill="#1a1a1a">IL−1b</text>
<line x1="400" y1="435.8" x2="416" y2="435.8" stroke="#ef1e1e" stroke-width="1.8"/>
<circle cx="408.1" cy="435.8" r="2.9" fill="#ef1e1e"/>
<text x="421.60" y="437.80" font-size="5.6" fill="#1a1a1a">IL−8</text>
<line x1="400" y1="449.1" x2="416" y2="449.1" stroke="#f1f13c" stroke-width="1.8"/>
<circle cx="408.1" cy="449.1" r="2.9" fill="#f1f13c"/>
<text x="421.60" y="451.10" font-size="5.6" fill="#1a1a1a">Neutrophil Cell</text>
<line x1="400" y1="462.2" x2="416" y2="462.2" stroke="#40f020" stroke-width="1.8"/>
<circle cx="408.1" cy="462.2" r="2.9" fill="#40f020"/>
<text x="421.60" y="464.20" font-size="5.6" fill="#1a1a1a">PTGES2</text>
<line x1="400" y1="475.8" x2="416" y2="475.8" stroke="#acd8e3" stroke-width="1.8"/>
<circle cx="408.1" cy="475.8" r="2.9" fill="#acd8e3"/>
<text x="421.60" y="477.80" font-size="5.6" fill="#1a1a1a">Red Blood Cell</text>
<text x="384.60" y="204.00" font-size="25" font-family='"Liberation Serif", serif' fill="#000">d</text>
<clipPath id="clipd"><path d="M410.1,280.1 C410.1,279.4 410.3,278.7 410.4,278.0 C410.6,277.3 410.8,276.6 411.0,275.9 C411.2,275.3 411.4,274.6 411.5,273.9 C411.6,273.2 411.7,272.6 411.6,271.9 C411.6,271.3 411.4,270.6 411.3,270.0 C411.2,269.3 411.0,268.7 410.8,268.0 C410.7,267.3 410.5,266.7 410.6,266.0 C410.6,265.3 410.8,264.7 411.0,264.0 C411.2,263.3 411.5,262.7 411.8,262.0 C412.0,261.3 412.3,260.7 412.5,260.0 C412.7,259.3 412.8,258.7 412.9,258.0 C412.9,257.3 412.9,256.7 412.9,256.0 C412.9,255.3 412.9,254.6 412.9,253.9 C413.0,253.3 413.0,252.6 413.2,251.9 C413.4,251.2 413.9,250.6 414.3,249.9 C414.7,249.3 415.3,248.6 415.7,248.0 C416.2,247.4 416.7,246.8 417.1,246.1 C417.4,245.5 417.8,244.8 418.0,244.2 C418.3,243.5 418.4,242.8 418.6,242.1 C418.8,241.4 418.8,240.7 419.0,240.0 C419.2,239.3 419.5,238.7 419.8,238.1 C420.1,237.5 420.5,237.0 421.0,236.4 C421.4,235.8 421.9,235.3 422.3,234.7 C422.7,234.1 423.2,233.6 423.5,233.0 C423.9,232.4 424.1,231.8 424.4,231.2 C424.7,230.6 425.1,230.0 425.4,229.4 C425.7,228.9 425.9,228.2 426.3,227.7 C426.6,227.1 427.0,226.5 427.4,226.0 C427.9,225.5 428.5,225.0 429.0,224.5 C429.6,224.0 430.3,223.6 430.9,223.2 C431.5,222.7 432.1,222.3 432.7,221.8 C433.2,221.4 433.7,220.9 434.2,220.4 C434.6,219.8 435.0,219.3 435.4,218.7 C435.8,218.1 436.0,217.5 436.5,217.0 C437.0,216.4 437.7,216.0 438.3,215.6 C439.0,215.1 439.7,214.8 440.4,214.4 C441.2,214.0 442.0,213.7 442.7,213.4 C443.5,213.0 444.2,212.7 444.9,212.3 C445.5,211.8 446.1,211.4 446.7,210.9 C447.3,210.4 447.7,209.8 448.2,209.2 C448.7,208.7 449.2,208.2 449.7,207.7 C450.2,207.2 450.7,206.7 451.3,206.3 C451.9,205.9 452.6,205.5 453.3,205.2 C453.9,204.9 454.7,204.6 455.4,204.3 C456.0,204.0 456.7,203.7 457.4,203.4 C458.1,203.1 458.8,203.0 459.5,202.7 C460.2,202.4 460.8,202.0 461.4,201.7 C462.0,201.3 462.7,200.9 463.3,200.6 C464.0,200.3 464.7,200.0 465.4,199.8 C466.1,199.6 466.9,199.5 467.7,199.4 C468.5,199.3 469.3,199.3 470.1,199.2 C470.9,199.2 471.7,199.2 472.4,199.1 C473.2,199.0 473.9,198.9 474.6,198.7 C475.3,198.4 475.9,198.1 476.6,197.8 C477.2,197.5 477.8,197.2 478.5,196.9 C479.2,196.6 479.9,196.3 480.6,196.1 C481.3,195.9 482.0,195.8 482.7,195.7 C483.5,195.6 484.3,195.6 485.0,195.5 C485.7,195.4 486.4,195.3 487.0,195.0 C487.7,194.8 488.3,194.5 489.0,194.2 C489.6,193.9 490.3,193.4 490.9,193.0 C491.6,192.6 492.2,192.2 492.9,191.8 C493.5,191.5 494.2,191.1 494.9,190.9 C495.5,190.7 496.2,190.6 496.9,190.5 C497.6,190.4 498.3,190.3 499.0,190.3 C499.7,190.3 500.5,190.4 501.2,190.4 C501.9,190.4 502.6,190.3 503.3,190.1 C504.1,190.0 504.8,189.7 505.5,189.5 C506.2,189.3 506.9,189.0 507.7,188.9 C508.4,188.7 509.1,188.5 509.9,188.4 C510.6,188.3 511.3,188.3 512.0,188.4 C512.7,188.4 513.5,188.6 514.3,188.7 C515.0,188.8 515.8,188.8 516.5,188.8 C517.3,188.8 518.1,188.7 518.9,188.5 C519.7,188.4 520.5,188.1 521.3,187.9 C522.1,187.7 523.0,187.3 523.8,187.2 C524.6,187.1 525.4,187.3 526.2,187.5 C526.9,187.7 527.7,187.9 528.4,188.2 C529.1,188.5 529.8,188.9 530.5,189.2 C531.2,189.5 531.9,189.8 532.7,190.1 C533.4,190.3 534.3,190.4 535.0,190.6 C535.6,190.9 536.1,191.3 536.6,191.6 C537.2,192.0 537.7,192.3 538.3,192.7 C538.8,193.0 539.3,193.5 539.8,194.0 C540.3,194.5 540.7,195.0 541.2,195.6 C541.6,196.2 542.0,196.8 542.4,197.5 C542.7,198.1 542.9,199.0 543.3,199.7 C543.6,200.3 544.0,200.9 544.4,201.5 C544.8,202.0 545.2,202.5 545.7,203.0 C546.1,203.5 546.4,204.2 547.1,204.4 C547.7,204.7 548.6,204.5 549.3,204.6 C550.0,204.7 550.7,204.9 551.4,205.1 C552.0,205.2 552.6,205.5 553.3,205.7 C553.9,205.8 554.5,206.0 555.2,206.2 C555.9,206.3 556.7,206.3 557.5,206.4 C558.2,206.4 559.2,206.2 559.9,206.4 C560.6,206.6 561.1,207.1 561.6,207.6 C562.1,208.0 562.6,208.5 563.1,209.0 C563.5,209.5 563.8,210.1 564.2,210.7 C564.5,211.3 564.8,212.0 565.1,212.6 C565.4,213.2 565.7,213.8 566.1,214.3 C566.5,214.9 566.9,215.4 567.4,215.8 C567.9,216.3 568.4,216.7 569.0,217.1 C569.6,217.6 570.3,218.0 570.9,218.4 C571.5,218.9 572.1,219.4 572.6,219.9 C573.1,220.4 573.6,221.0 574.0,221.5 C574.4,222.1 574.8,222.6 575.3,223.2 C575.7,223.7 576.2,224.3 576.7,224.8 C577.2,225.3 577.9,225.7 578.5,226.1 C579.2,226.6 580.0,226.9 580.6,227.4 C581.3,227.9 581.8,228.5 582.3,229.1 C582.8,229.7 583.3,230.3 583.7,230.9 C584.1,231.5 584.4,232.2 584.7,232.9 C585.0,233.6 585.2,234.3 585.5,235.0 C585.8,235.6 586.0,236.3 586.4,237.0 C586.7,237.6 587.1,238.2 587.6,238.8 C588.0,239.5 588.5,240.1 589.0,240.7 C589.5,241.3 590.2,241.9 590.5,242.5 C590.9,243.1 591.1,243.8 591.2,244.4 C591.4,245.1 591.5,245.7 591.6,246.4 C591.7,247.1 591.7,247.7 591.8,248.4 C591.9,249.0 592.0,249.7 592.2,250.3 C592.4,251.0 592.7,251.6 593.0,252.2 C593.3,252.8 593.8,253.4 594.2,254.0 C594.6,254.6 595.1,255.3 595.5,255.9 C595.8,256.5 596.2,257.1 596.4,257.8 C596.7,258.4 596.9,259.0 597.0,259.7 C597.1,260.4 597.0,261.1 597.0,261.8 C597.0,262.6 597.1,263.3 597.2,264.0 C597.3,264.7 597.5,265.4 597.7,266.1 C597.9,266.8 598.3,267.5 598.5,268.3 C598.8,269.0 599.1,269.7 599.3,270.4 C599.5,271.2 599.6,271.9 599.6,272.6 C599.7,273.3 599.6,274.0 599.6,274.7 C599.6,275.4 599.5,276.1 599.4,276.8 C599.2,277.4 598.8,278.1 598.7,278.7 C598.5,279.4 598.5,280.1 598.4,280.7 C598.4,281.4 598.5,282.1 598.5,282.8 C598.5,283.5 598.6,284.2 598.6,284.9 C598.6,285.6 598.5,286.3 598.4,287.0 C598.3,287.7 598.1,288.3 597.9,289.0 C597.7,289.6 597.7,290.3 597.3,290.9 C596.8,291.4 595.9,291.8 595.3,292.3 C594.8,292.8 594.3,293.3 593.8,293.8 C593.3,294.4 593.0,294.9 592.5,295.5 C592.1,296.0 591.7,296.6 591.2,297.1 C590.7,297.7 590.2,298.2 589.6,298.7 C589.0,299.1 588.3,299.7 587.5,300.0 C586.8,300.3 585.9,300.3 585.1,300.4 C584.3,300.5 583.5,300.6 582.8,300.8 C582.1,301.0 581.5,301.2 580.9,301.4 C580.3,301.6 579.8,301.8 579.2,302.1 C578.7,302.3 578.1,302.6 577.5,302.8 C576.9,303.0 576.2,303.2 575.5,303.3 C574.8,303.5 574.0,303.6 573.2,303.7 C572.4,303.8 571.6,303.9 570.8,304.0 C570.1,304.1 569.3,304.2 568.7,304.4 C568.0,304.6 567.4,304.8 566.9,305.1 C566.3,305.3 565.9,305.6 565.4,305.9 C564.9,306.2 564.5,306.7 564.0,307.0 C563.5,307.4 562.9,307.7 562.3,308.0 C561.7,308.2 561.0,308.5 560.3,308.7 C559.6,308.9 558.9,309.0 558.2,309.3 C557.5,309.5 556.8,309.7 556.2,309.9 C555.6,310.2 555.0,310.5 554.5,310.9 C553.9,311.2 553.5,311.6 552.9,312.0 C552.4,312.3 551.9,312.7 551.3,313.0 C550.7,313.3 550.1,313.6 549.4,313.8 C548.8,314.0 548.0,314.1 547.3,314.3 C546.6,314.4 545.8,314.5 545.1,314.6 C544.4,314.8 543.7,314.9 543.0,315.1 C542.4,315.4 541.8,315.7 541.3,316.0 C540.7,316.3 540.2,316.8 539.7,317.1 C539.1,317.5 538.6,318.0 538.1,318.3 C537.5,318.6 536.8,318.9 536.1,319.2 C535.5,319.4 534.7,319.6 534.0,319.7 C533.3,319.9 532.6,320.0 531.9,320.2 C531.2,320.4 530.6,320.6 529.9,320.9 C529.3,321.1 528.7,321.5 528.1,321.9 C527.5,322.3 526.9,322.7 526.3,323.2 C525.7,323.6 525.1,324.0 524.5,324.4 C523.8,324.7 523.2,325.0 522.5,325.2 C521.8,325.4 521.1,325.5 520.4,325.6 C519.7,325.7 519.0,325.8 518.3,325.9 C517.6,326.0 516.9,326.1 516.2,326.3 C515.6,326.5 514.9,326.8 514.3,327.1 C513.6,327.4 513.0,327.8 512.4,328.2 C511.7,328.5 511.1,329.0 510.4,329.2 C509.8,329.5 509.1,329.6 508.4,329.7 C507.7,329.8 507.0,329.8 506.3,329.9 C505.6,329.9 505.0,329.9 504.3,330.0 C503.6,330.1 502.9,330.2 502.3,330.4 C501.6,330.6 500.9,330.8 500.2,331.2 C499.6,331.5 498.9,331.9 498.2,332.3 C497.5,332.7 496.8,333.1 496.1,333.3 C495.4,333.6 494.7,333.9 494.0,334.0 C493.3,334.2 492.7,334.3 492.0,334.3 C491.3,334.4 490.7,334.4 490.0,334.5 C489.4,334.6 488.7,334.8 488.0,334.8 C487.4,334.8 486.7,334.5 486.0,334.4 C485.3,334.3 484.6,334.3 483.9,334.2 C483.2,334.1 482.5,334.1 481.8,333.9 C481.1,333.8 480.5,333.5 479.8,333.3 C479.2,333.0 478.6,332.6 478.0,332.2 C477.4,331.9 476.8,331.5 476.2,331.1 C475.6,330.8 475.0,330.5 474.3,330.3 C473.7,330.1 473.0,330.0 472.3,329.9 C471.6,329.8 470.7,330.0 470.1,329.8 C469.5,329.5 469.2,328.9 468.8,328.5 C468.3,328.0 467.9,327.4 467.6,326.8 C467.2,326.2 466.9,325.6 466.5,324.9 C466.2,324.3 465.9,323.5 465.6,322.9 C465.2,322.3 464.9,321.7 464.5,321.1 C464.1,320.6 463.6,320.1 463.2,319.7 C462.7,319.2 462.0,318.9 461.7,318.4 C461.4,317.8 461.4,317.1 461.4,316.4 C461.3,315.7 461.2,314.9 461.2,314.1 C461.2,313.3 461.3,312.4 461.4,311.5 C461.5,310.6 461.9,309.3 461.6,308.8 C461.4,308.4 460.4,308.8 459.7,308.8 C459.0,308.9 458.2,309.0 457.4,309.1 C456.6,309.2 455.8,309.4 454.9,309.6 C454.1,309.7 453.3,309.9 452.5,310.0 C451.8,310.1 451.0,310.1 450.3,310.2 C449.6,310.2 449.0,310.1 448.4,310.1 C447.8,310.1 447.1,310.2 446.5,310.1 C445.8,310.0 445.2,309.8 444.5,309.7 C443.8,309.6 443.0,309.6 442.1,309.6 C441.3,309.5 440.4,309.6 439.6,309.6 C438.7,309.5 437.9,309.5 437.1,309.5 C436.3,309.4 435.6,309.3 434.9,309.2 C434.2,309.0 433.7,308.8 433.1,308.6 C432.5,308.4 432.0,308.2 431.4,308.0 C430.8,307.8 430.1,307.7 429.5,307.6 C428.8,307.4 428.0,307.3 427.2,307.3 C426.5,307.2 425.6,307.2 424.9,307.1 C424.1,307.0 423.2,307.2 422.6,306.8 C422.0,306.5 421.6,305.6 421.2,305.0 C420.8,304.3 420.5,303.7 420.1,303.0 C419.8,302.3 419.5,301.7 419.1,301.0 C418.7,300.4 418.3,299.8 417.8,299.2 C417.3,298.6 416.7,298.1 416.1,297.5 C415.5,297.0 414.6,296.5 414.1,296.0 C413.7,295.4 413.5,294.7 413.3,294.1 C413.0,293.5 412.9,292.8 412.7,292.1 C412.6,291.4 412.6,290.7 412.5,290.0 C412.5,289.3 412.5,288.6 412.4,288.0 C412.3,287.3 412.2,286.6 412.1,285.9 C411.9,285.3 411.6,284.6 411.3,284.0 C411.1,283.4 410.6,282.8 410.4,282.1 C410.2,281.4 410.1,280.8 410.1,280.1Z"/></clipPath>
<radialGradient id="gd" cx="0.45" cy="0.45" r="0.6"><stop offset="0" stop-color="#ececec"/><stop offset="0.75" stop-color="#e6e6e6"/><stop offset="1" stop-color="#dadada"/></radialGradient>
<path d="M410.1,280.1 C410.1,279.4 410.3,278.7 410.4,278.0 C410.6,277.3 410.8,276.6 411.0,275.9 C411.2,275.3 411.4,274.6 411.5,273.9 C411.6,273.2 411.7,272.6 411.6,271.9 C411.6,271.3 411.4,270.6 411.3,270.0 C411.2,269.3 411.0,268.7 410.8,268.0 C410.7,267.3 410.5,266.7 410.6,266.0 C410.6,265.3 410.8,264.7 411.0,264.0 C411.2,263.3 411.5,262.7 411.8,262.0 C412.0,261.3 412.3,260.7 412.5,260.0 C412.7,259.3 412.8,258.7 412.9,258.0 C412.9,257.3 412.9,256.7 412.9,256.0 C412.9,255.3 412.9,254.6 412.9,253.9 C413.0,253.3 413.0,252.6 413.2,251.9 C413.4,251.2 413.9,250.6 414.3,249.9 C414.7,249.3 415.3,248.6 415.7,248.0 C416.2,247.4 416.7,246.8 417.1,246.1 C417.4,245.5 417.8,244.8 418.0,244.2 C418.3,243.5 418.4,242.8 418.6,242.1 C418.8,241.4 418.8,240.7 419.0,240.0 C419.2,239.3 419.5,238.7 419.8,238.1 C420.1,237.5 420.5,237.0 421.0,236.4 C421.4,235.8 421.9,235.3 422.3,234.7 C422.7,234.1 423.2,233.6 423.5,233.0 C423.9,232.4 424.1,231.8 424.4,231.2 C424.7,230.6 425.1,230.0 425.4,229.4 C425.7,228.9 425.9,228.2 426.3,227.7 C426.6,227.1 427.0,226.5 427.4,226.0 C427.9,225.5 428.5,225.0 429.0,224.5 C429.6,224.0 430.3,223.6 430.9,223.2 C431.5,222.7 432.1,222.3 432.7,221.8 C433.2,221.4 433.7,220.9 434.2,220.4 C434.6,219.8 435.0,219.3 435.4,218.7 C435.8,218.1 436.0,217.5 436.5,217.0 C437.0,216.4 437.7,216.0 438.3,215.6 C439.0,215.1 439.7,214.8 440.4,214.4 C441.2,214.0 442.0,213.7 442.7,213.4 C443.5,213.0 444.2,212.7 444.9,212.3 C445.5,211.8 446.1,211.4 446.7,210.9 C447.3,210.4 447.7,209.8 448.2,209.2 C448.7,208.7 449.2,208.2 449.7,207.7 C450.2,207.2 450.7,206.7 451.3,206.3 C451.9,205.9 452.6,205.5 453.3,205.2 C453.9,204.9 454.7,204.6 455.4,204.3 C456.0,204.0 456.7,203.7 457.4,203.4 C458.1,203.1 458.8,203.0 459.5,202.7 C460.2,202.4 460.8,202.0 461.4,201.7 C462.0,201.3 462.7,200.9 463.3,200.6 C464.0,200.3 464.7,200.0 465.4,199.8 C466.1,199.6 466.9,199.5 467.7,199.4 C468.5,199.3 469.3,199.3 470.1,199.2 C470.9,199.2 471.7,199.2 472.4,199.1 C473.2,199.0 473.9,198.9 474.6,198.7 C475.3,198.4 475.9,198.1 476.6,197.8 C477.2,197.5 477.8,197.2 478.5,196.9 C479.2,196.6 479.9,196.3 480.6,196.1 C481.3,195.9 482.0,195.8 482.7,195.7 C483.5,195.6 484.3,195.6 485.0,195.5 C485.7,195.4 486.4,195.3 487.0,195.0 C487.7,194.8 488.3,194.5 489.0,194.2 C489.6,193.9 490.3,193.4 490.9,193.0 C491.6,192.6 492.2,192.2 492.9,191.8 C493.5,191.5 494.2,191.1 494.9,190.9 C495.5,190.7 496.2,190.6 496.9,190.5 C497.6,190.4 498.3,190.3 499.0,190.3 C499.7,190.3 500.5,190.4 501.2,190.4 C501.9,190.4 502.6,190.3 503.3,190.1 C504.1,190.0 504.8,189.7 505.5,189.5 C506.2,189.3 506.9,189.0 507.7,188.9 C508.4,188.7 509.1,188.5 509.9,188.4 C510.6,188.3 511.3,188.3 512.0,188.4 C512.7,188.4 513.5,188.6 514.3,188.7 C515.0,188.8 515.8,188.8 516.5,188.8 C517.3,188.8 518.1,188.7 518.9,188.5 C519.7,188.4 520.5,188.1 521.3,187.9 C522.1,187.7 523.0,187.3 523.8,187.2 C524.6,187.1 525.4,187.3 526.2,187.5 C526.9,187.7 527.7,187.9 528.4,188.2 C529.1,188.5 529.8,188.9 530.5,189.2 C531.2,189.5 531.9,189.8 532.7,190.1 C533.4,190.3 534.3,190.4 535.0,190.6 C535.6,190.9 536.1,191.3 536.6,191.6 C537.2,192.0 537.7,192.3 538.3,192.7 C538.8,193.0 539.3,193.5 539.8,194.0 C540.3,194.5 540.7,195.0 541.2,195.6 C541.6,196.2 542.0,196.8 542.4,197.5 C542.7,198.1 542.9,199.0 543.3,199.7 C543.6,200.3 544.0,200.9 544.4,201.5 C544.8,202.0 545.2,202.5 545.7,203.0 C546.1,203.5 546.4,204.2 547.1,204.4 C547.7,204.7 548.6,204.5 549.3,204.6 C550.0,204.7 550.7,204.9 551.4,205.1 C552.0,205.2 552.6,205.5 553.3,205.7 C553.9,205.8 554.5,206.0 555.2,206.2 C555.9,206.3 556.7,206.3 557.5,206.4 C558.2,206.4 559.2,206.2 559.9,206.4 C560.6,206.6 561.1,207.1 561.6,207.6 C562.1,208.0 562.6,208.5 563.1,209.0 C563.5,209.5 563.8,210.1 564.2,210.7 C564.5,211.3 564.8,212.0 565.1,212.6 C565.4,213.2 565.7,213.8 566.1,214.3 C566.5,214.9 566.9,215.4 567.4,215.8 C567.9,216.3 568.4,216.7 569.0,217.1 C569.6,217.6 570.3,218.0 570.9,218.4 C571.5,218.9 572.1,219.4 572.6,219.9 C573.1,220.4 573.6,221.0 574.0,221.5 C574.4,222.1 574.8,222.6 575.3,223.2 C575.7,223.7 576.2,224.3 576.7,224.8 C577.2,225.3 577.9,225.7 578.5,226.1 C579.2,226.6 580.0,226.9 580.6,227.4 C581.3,227.9 581.8,228.5 582.3,229.1 C582.8,229.7 583.3,230.3 583.7,230.9 C584.1,231.5 584.4,232.2 584.7,232.9 C585.0,233.6 585.2,234.3 585.5,235.0 C585.8,235.6 586.0,236.3 586.4,237.0 C586.7,237.6 587.1,238.2 587.6,238.8 C588.0,239.5 588.5,240.1 589.0,240.7 C589.5,241.3 590.2,241.9 590.5,242.5 C590.9,243.1 591.1,243.8 591.2,244.4 C591.4,245.1 591.5,245.7 591.6,246.4 C591.7,247.1 591.7,247.7 591.8,248.4 C591.9,249.0 592.0,249.7 592.2,250.3 C592.4,251.0 592.7,251.6 593.0,252.2 C593.3,252.8 593.8,253.4 594.2,254.0 C594.6,254.6 595.1,255.3 595.5,255.9 C595.8,256.5 596.2,257.1 596.4,257.8 C596.7,258.4 596.9,259.0 597.0,259.7 C597.1,260.4 597.0,261.1 597.0,261.8 C597.0,262.6 597.1,263.3 597.2,264.0 C597.3,264.7 597.5,265.4 597.7,266.1 C597.9,266.8 598.3,267.5 598.5,268.3 C598.8,269.0 599.1,269.7 599.3,270.4 C599.5,271.2 599.6,271.9 599.6,272.6 C599.7,273.3 599.6,274.0 599.6,274.7 C599.6,275.4 599.5,276.1 599.4,276.8 C599.2,277.4 598.8,278.1 598.7,278.7 C598.5,279.4 598.5,280.1 598.4,280.7 C598.4,281.4 598.5,282.1 598.5,282.8 C598.5,283.5 598.6,284.2 598.6,284.9 C598.6,285.6 598.5,286.3 598.4,287.0 C598.3,287.7 598.1,288.3 597.9,289.0 C597.7,289.6 597.7,290.3 597.3,290.9 C596.8,291.4 595.9,291.8 595.3,292.3 C594.8,292.8 594.3,293.3 593.8,293.8 C593.3,294.4 593.0,294.9 592.5,295.5 C592.1,296.0 591.7,296.6 591.2,297.1 C590.7,297.7 590.2,298.2 589.6,298.7 C589.0,299.1 588.3,299.7 587.5,300.0 C586.8,300.3 585.9,300.3 585.1,300.4 C584.3,300.5 583.5,300.6 582.8,300.8 C582.1,301.0 581.5,301.2 580.9,301.4 C580.3,301.6 579.8,301.8 579.2,302.1 C578.7,302.3 578.1,302.6 577.5,302.8 C576.9,303.0 576.2,303.2 575.5,303.3 C574.8,303.5 574.0,303.6 573.2,303.7 C572.4,303.8 571.6,303.9 570.8,304.0 C570.1,304.1 569.3,304.2 568.7,304.4 C568.0,304.6 567.4,304.8 566.9,305.1 C566.3,305.3 565.9,305.6 565.4,305.9 C564.9,306.2 564.5,306.7 564.0,307.0 C563.5,307.4 562.9,307.7 562.3,308.0 C561.7,308.2 561.0,308.5 560.3,308.7 C559.6,308.9 558.9,309.0 558.2,309.3 C557.5,309.5 556.8,309.7 556.2,309.9 C555.6,310.2 555.0,310.5 554.5,310.9 C553.9,311.2 553.5,311.6 552.9,312.0 C552.4,312.3 551.9,312.7 551.3,313.0 C550.7,313.3 550.1,313.6 549.4,313.8 C548.8,314.0 548.0,314.1 547.3,314.3 C546.6,314.4 545.8,314.5 545.1,314.6 C544.4,314.8 543.7,314.9 543.0,315.1 C542.4,315.4 541.8,315.7 541.3,316.0 C540.7,316.3 540.2,316.8 539.7,317.1 C539.1,317.5 538.6,318.0 538.1,318.3 C537.5,318.6 536.8,318.9 536.1,319.2 C535.5,319.4 534.7,319.6 534.0,319.7 C533.3,319.9 532.6,320.0 531.9,320.2 C531.2,320.4 530.6,320.6 529.9,320.9 C529.3,321.1 528.7,321.5 528.1,321.9 C527.5,322.3 526.9,322.7 526.3,323.2 C525.7,323.6 525.1,324.0 524.5,324.4 C523.8,324.7 523.2,325.0 522.5,325.2 C521.8,325.4 521.1,325.5 520.4,325.6 C519.7,325.7 519.0,325.8 518.3,325.9 C517.6,326.0 516.9,326.1 516.2,326.3 C515.6,326.5 514.9,326.8 514.3,327.1 C513.6,327.4 513.0,327.8 512.4,328.2 C511.7,328.5 511.1,329.0 510.4,329.2 C509.8,329.5 509.1,329.6 508.4,329.7 C507.7,329.8 507.0,329.8 506.3,329.9 C505.6,329.9 505.0,329.9 504.3,330.0 C503.6,330.1 502.9,330.2 502.3,330.4 C501.6,330.6 500.9,330.8 500.2,331.2 C499.6,331.5 498.9,331.9 498.2,332.3 C497.5,332.7 496.8,333.1 496.1,333.3 C495.4,333.6 494.7,333.9 494.0,334.0 C493.3,334.2 492.7,334.3 492.0,334.3 C491.3,334.4 490.7,334.4 490.0,334.5 C489.4,334.6 488.7,334.8 488.0,334.8 C487.4,334.8 486.7,334.5 486.0,334.4 C485.3,334.3 484.6,334.3 483.9,334.2 C483.2,334.1 482.5,334.1 481.8,333.9 C481.1,333.8 480.5,333.5 479.8,333.3 C479.2,333.0 478.6,332.6 478.0,332.2 C477.4,331.9 476.8,331.5 476.2,331.1 C475.6,330.8 475.0,330.5 474.3,330.3 C473.7,330.1 473.0,330.0 472.3,329.9 C471.6,329.8 470.7,330.0 470.1,329.8 C469.5,329.5 469.2,328.9 468.8,328.5 C468.3,328.0 467.9,327.4 467.6,326.8 C467.2,326.2 466.9,325.6 466.5,324.9 C466.2,324.3 465.9,323.5 465.6,322.9 C465.2,322.3 464.9,321.7 464.5,321.1 C464.1,320.6 463.6,320.1 463.2,319.7 C462.7,319.2 462.0,318.9 461.7,318.4 C461.4,317.8 461.4,317.1 461.4,316.4 C461.3,315.7 461.2,314.9 461.2,314.1 C461.2,313.3 461.3,312.4 461.4,311.5 C461.5,310.6 461.9,309.3 461.6,308.8 C461.4,308.4 460.4,308.8 459.7,308.8 C459.0,308.9 458.2,309.0 457.4,309.1 C456.6,309.2 455.8,309.4 454.9,309.6 C454.1,309.7 453.3,309.9 452.5,310.0 C451.8,310.1 451.0,310.1 450.3,310.2 C449.6,310.2 449.0,310.1 448.4,310.1 C447.8,310.1 447.1,310.2 446.5,310.1 C445.8,310.0 445.2,309.8 444.5,309.7 C443.8,309.6 443.0,309.6 442.1,309.6 C441.3,309.5 440.4,309.6 439.6,309.6 C438.7,309.5 437.9,309.5 437.1,309.5 C436.3,309.4 435.6,309.3 434.9,309.2 C434.2,309.0 433.7,308.8 433.1,308.6 C432.5,308.4 432.0,308.2 431.4,308.0 C430.8,307.8 430.1,307.7 429.5,307.6 C428.8,307.4 428.0,307.3 427.2,307.3 C426.5,307.2 425.6,307.2 424.9,307.1 C424.1,307.0 423.2,307.2 422.6,306.8 C422.0,306.5 421.6,305.6 421.2,305.0 C420.8,304.3 420.5,303.7 420.1,303.0 C419.8,302.3 419.5,301.7 419.1,301.0 C418.7,300.4 418.3,299.8 417.8,299.2 C417.3,298.6 416.7,298.1 416.1,297.5 C415.5,297.0 414.6,296.5 414.1,296.0 C413.7,295.4 413.5,294.7 413.3,294.1 C413.0,293.5 412.9,292.8 412.7,292.1 C412.6,291.4 412.6,290.7 412.5,290.0 C412.5,289.3 412.5,288.6 412.4,288.0 C412.3,287.3 412.2,286.6 412.1,285.9 C411.9,285.3 411.6,284.6 411.3,284.0 C411.1,283.4 410.6,282.8 410.4,282.1 C410.2,281.4 410.1,280.8 410.1,280.1Z" fill="url(#gd)"/>
<g clip-path="url(#clipd)">
<path d="M410.1,280.1 C410.1,279.4 410.3,278.7 410.4,278.0 C410.6,277.3 410.8,276.6 411.0,275.9 C411.2,275.3 411.4,274.6 411.5,273.9 C411.6,273.2 411.7,272.6 411.6,271.9 C411.6,271.3 411.4,270.6 411.3,270.0 C411.2,269.3 411.0,268.7 410.8,268.0 C410.7,267.3 410.5,266.7 410.6,266.0 C410.6,265.3 410.8,264.7 411.0,264.0 C411.2,263.3 411.5,262.7 411.8,262.0 C412.0,261.3 412.3,260.7 412.5,260.0 C412.7,259.3 412.8,258.7 412.9,258.0 C412.9,257.3 412.9,256.7 412.9,256.0 C412.9,255.3 412.9,254.6 412.9,253.9 C413.0,253.3 413.0,252.6 413.2,251.9 C413.4,251.2 413.9,250.6 414.3,249.9 C414.7,249.3 415.3,248.6 415.7,248.0 C416.2,247.4 416.7,246.8 417.1,246.1 C417.4,245.5 417.8,244.8 418.0,244.2 C418.3,243.5 418.4,242.8 418.6,242.1 C418.8,241.4 418.8,240.7 419.0,240.0 C419.2,239.3 419.5,238.7 419.8,238.1 C420.1,237.5 420.5,237.0 421.0,236.4 C421.4,235.8 421.9,235.3 422.3,234.7 C422.7,234.1 423.2,233.6 423.5,233.0 C423.9,232.4 424.1,231.8 424.4,231.2 C424.7,230.6 425.1,230.0 425.4,229.4 C425.7,228.9 425.9,228.2 426.3,227.7 C426.6,227.1 427.0,226.5 427.4,226.0 C427.9,225.5 428.5,225.0 429.0,224.5 C429.6,224.0 430.3,223.6 430.9,223.2 C431.5,222.7 432.1,222.3 432.7,221.8 C433.2,221.4 433.7,220.9 434.2,220.4 C434.6,219.8 435.0,219.3 435.4,218.7 C435.8,218.1 436.0,217.5 436.5,217.0 C437.0,216.4 437.7,216.0 438.3,215.6 C439.0,215.1 439.7,214.8 440.4,214.4 C441.2,214.0 442.0,213.7 442.7,213.4 C443.5,213.0 444.2,212.7 444.9,212.3 C445.5,211.8 446.1,211.4 446.7,210.9 C447.3,210.4 447.7,209.8 448.2,209.2 C448.7,208.7 449.2,208.2 449.7,207.7 C450.2,207.2 450.7,206.7 451.3,206.3 C451.9,205.9 452.6,205.5 453.3,205.2 C453.9,204.9 454.7,204.6 455.4,204.3 C456.0,204.0 456.7,203.7 457.4,203.4 C458.1,203.1 458.8,203.0 459.5,202.7 C460.2,202.4 460.8,202.0 461.4,201.7 C462.0,201.3 462.7,200.9 463.3,200.6 C464.0,200.3 464.7,200.0 465.4,199.8 C466.1,199.6 466.9,199.5 467.7,199.4 C468.5,199.3 469.3,199.3 470.1,199.2 C470.9,199.2 471.7,199.2 472.4,199.1 C473.2,199.0 473.9,198.9 474.6,198.7 C475.3,198.4 475.9,198.1 476.6,197.8 C477.2,197.5 477.8,197.2 478.5,196.9 C479.2,196.6 479.9,196.3 480.6,196.1 C481.3,195.9 482.0,195.8 482.7,195.7 C483.5,195.6 484.3,195.6 485.0,195.5 C485.7,195.4 486.4,195.3 487.0,195.0 C487.7,194.8 488.3,194.5 489.0,194.2 C489.6,193.9 490.3,193.4 490.9,193.0 C491.6,192.6 492.2,192.2 492.9,191.8 C493.5,191.5 494.2,191.1 494.9,190.9 C495.5,190.7 496.2,190.6 496.9,190.5 C497.6,190.4 498.3,190.3 499.0,190.3 C499.7,190.3 500.5,190.4 501.2,190.4 C501.9,190.4 502.6,190.3 503.3,190.1 C504.1,190.0 504.8,189.7 505.5,189.5 C506.2,189.3 506.9,189.0 507.7,188.9 C508.4,188.7 509.1,188.5 509.9,188.4 C510.6,188.3 511.3,188.3 512.0,188.4 C512.7,188.4 513.5,188.6 514.3,188.7 C515.0,188.8 515.8,188.8 516.5,188.8 C517.3,188.8 518.1,188.7 518.9,188.5 C519.7,188.4 520.5,188.1 521.3,187.9 C522.1,187.7 523.0,187.3 523.8,187.2 C524.6,187.1 525.4,187.3 526.2,187.5 C526.9,187.7 527.7,187.9 528.4,188.2 C529.1,188.5 529.8,188.9 530.5,189.2 C531.2,189.5 531.9,189.8 532.7,190.1 C533.4,190.3 534.3,190.4 535.0,190.6 C535.6,190.9 536.1,191.3 536.6,191.6 C537.2,192.0 537.7,192.3 538.3,192.7 C538.8,193.0 539.3,193.5 539.8,194.0 C540.3,194.5 540.7,195.0 541.2,195.6 C541.6,196.2 542.0,196.8 542.4,197.5 C542.7,198.1 542.9,199.0 543.3,199.7 C543.6,200.3 544.0,200.9 544.4,201.5 C544.8,202.0 545.2,202.5 545.7,203.0 C546.1,203.5 546.4,204.2 547.1,204.4 C547.7,204.7 548.6,204.5 549.3,204.6 C550.0,204.7 550.7,204.9 551.4,205.1 C552.0,205.2 552.6,205.5 553.3,205.7 C553.9,205.8 554.5,206.0 555.2,206.2 C555.9,206.3 556.7,206.3 557.5,206.4 C558.2,206.4 559.2,206.2 559.9,206.4 C560.6,206.6 561.1,207.1 561.6,207.6 C562.1,208.0 562.6,208.5 563.1,209.0 C563.5,209.5 563.8,210.1 564.2,210.7 C564.5,211.3 564.8,212.0 565.1,212.6 C565.4,213.2 565.7,213.8 566.1,214.3 C566.5,214.9 566.9,215.4 567.4,215.8 C567.9,216.3 568.4,216.7 569.0,217.1 C569.6,217.6 570.3,218.0 570.9,218.4 C571.5,218.9 572.1,219.4 572.6,219.9 C573.1,220.4 573.6,221.0 574.0,221.5 C574.4,222.1 574.8,222.6 575.3,223.2 C575.7,223.7 576.2,224.3 576.7,224.8 C577.2,225.3 577.9,225.7 578.5,226.1 C579.2,226.6 580.0,226.9 580.6,227.4 C581.3,227.9 581.8,228.5 582.3,229.1 C582.8,229.7 583.3,230.3 583.7,230.9 C584.1,231.5 584.4,232.2 584.7,232.9 C585.0,233.6 585.2,234.3 585.5,235.0 C585.8,235.6 586.0,236.3 586.4,237.0 C586.7,237.6 587.1,238.2 587.6,238.8 C588.0,239.5 588.5,240.1 589.0,240.7 C589.5,241.3 590.2,241.9 590.5,242.5 C590.9,243.1 591.1,243.8 591.2,244.4 C591.4,245.1 591.5,245.7 591.6,246.4 C591.7,247.1 591.7,247.7 591.8,248.4 C591.9,249.0 592.0,249.7 592.2,250.3 C592.4,251.0 592.7,251.6 593.0,252.2 C593.3,252.8 593.8,253.4 594.2,254.0 C594.6,254.6 595.1,255.3 595.5,255.9 C595.8,256.5 596.2,257.1 596.4,257.8 C596.7,258.4 596.9,259.0 597.0,259.7 C597.1,260.4 597.0,261.1 597.0,261.8 C597.0,262.6 597.1,263.3 597.2,264.0 C597.3,264.7 597.5,265.4 597.7,266.1 C597.9,266.8 598.3,267.5 598.5,268.3 C598.8,269.0 599.1,269.7 599.3,270.4 C599.5,271.2 599.6,271.9 599.6,272.6 C599.7,273.3 599.6,274.0 599.6,274.7 C599.6,275.4 599.5,276.1 599.4,276.8 C599.2,277.4 598.8,278.1 598.7,278.7 C598.5,279.4 598.5,280.1 598.4,280.7 C598.4,281.4 598.5,282.1 598.5,282.8 C598.5,283.5 598.6,284.2 598.6,284.9 C598.6,285.6 598.5,286.3 598.4,287.0 C598.3,287.7 598.1,288.3 597.9,289.0 C597.7,289.6 597.7,290.3 597.3,290.9 C596.8,291.4 595.9,291.8 595.3,292.3 C594.8,292.8 594.3,293.3 593.8,293.8 C593.3,294.4 593.0,294.9 592.5,295.5 C592.1,296.0 591.7,296.6 591.2,297.1 C590.7,297.7 590.2,298.2 589.6,298.7 C589.0,299.1 588.3,299.7 587.5,300.0 C586.8,300.3 585.9,300.3 585.1,300.4 C584.3,300.5 583.5,300.6 582.8,300.8 C582.1,301.0 581.5,301.2 580.9,301.4 C580.3,301.6 579.8,301.8 579.2,302.1 C578.7,302.3 578.1,302.6 577.5,302.8 C576.9,303.0 576.2,303.2 575.5,303.3 C574.8,303.5 574.0,303.6 573.2,303.7 C572.4,303.8 571.6,303.9 570.8,304.0 C570.1,304.1 569.3,304.2 568.7,304.4 C568.0,304.6 567.4,304.8 566.9,305.1 C566.3,305.3 565.9,305.6 565.4,305.9 C564.9,306.2 564.5,306.7 564.0,307.0 C563.5,307.4 562.9,307.7 562.3,308.0 C561.7,308.2 561.0,308.5 560.3,308.7 C559.6,308.9 558.9,309.0 558.2,309.3 C557.5,309.5 556.8,309.7 556.2,309.9 C555.6,310.2 555.0,310.5 554.5,310.9 C553.9,311.2 553.5,311.6 552.9,312.0 C552.4,312.3 551.9,312.7 551.3,313.0 C550.7,313.3 550.1,313.6 549.4,313.8 C548.8,314.0 548.0,314.1 547.3,314.3 C546.6,314.4 545.8,314.5 545.1,314.6 C544.4,314.8 543.7,314.9 543.0,315.1 C542.4,315.4 541.8,315.7 541.3,316.0 C540.7,316.3 540.2,316.8 539.7,317.1 C539.1,317.5 538.6,318.0 538.1,318.3 C537.5,318.6 536.8,318.9 536.1,319.2 C535.5,319.4 534.7,319.6 534.0,319.7 C533.3,319.9 532.6,320.0 531.9,320.2 C531.2,320.4 530.6,320.6 529.9,320.9 C529.3,321.1 528.7,321.5 528.1,321.9 C527.5,322.3 526.9,322.7 526.3,323.2 C525.7,323.6 525.1,324.0 524.5,324.4 C523.8,324.7 523.2,325.0 522.5,325.2 C521.8,325.4 521.1,325.5 520.4,325.6 C519.7,325.7 519.0,325.8 518.3,325.9 C517.6,326.0 516.9,326.1 516.2,326.3 C515.6,326.5 514.9,326.8 514.3,327.1 C513.6,327.4 513.0,327.8 512.4,328.2 C511.7,328.5 511.1,329.0 510.4,329.2 C509.8,329.5 509.1,329.6 508.4,329.7 C507.7,329.8 507.0,329.8 506.3,329.9 C505.6,329.9 505.0,329.9 504.3,330.0 C503.6,330.1 502.9,330.2 502.3,330.4 C501.6,330.6 500.9,330.8 500.2,331.2 C499.6,331.5 498.9,331.9 498.2,332.3 C497.5,332.7 496.8,333.1 496.1,333.3 C495.4,333.6 494.7,333.9 494.0,334.0 C493.3,334.2 492.7,334.3 492.0,334.3 C491.3,334.4 490.7,334.4 490.0,334.5 C489.4,334.6 488.7,334.8 488.0,334.8 C487.4,334.8 486.7,334.5 486.0,334.4 C485.3,334.3 484.6,334.3 483.9,334.2 C483.2,334.1 482.5,334.1 481.8,333.9 C481.1,333.8 480.5,333.5 479.8,333.3 C479.2,333.0 478.6,332.6 478.0,332.2 C477.4,331.9 476.8,331.5 476.2,331.1 C475.6,330.8 475.0,330.5 474.3,330.3 C473.7,330.1 473.0,330.0 472.3,329.9 C471.6,329.8 470.7,330.0 470.1,329.8 C469.5,329.5 469.2,328.9 468.8,328.5 C468.3,328.0 467.9,327.4 467.6,326.8 C467.2,326.2 466.9,325.6 466.5,324.9 C466.2,324.3 465.9,323.5 465.6,322.9 C465.2,322.3 464.9,321.7 464.5,321.1 C464.1,320.6 463.6,320.1 463.2,319.7 C462.7,319.2 462.0,318.9 461.7,318.4 C461.4,317.8 461.4,317.1 461.4,316.4 C461.3,315.7 461.2,314.9 461.2,314.1 C461.2,313.3 461.3,312.4 461.4,311.5 C461.5,310.6 461.9,309.3 461.6,308.8 C461.4,308.4 460.4,308.8 459.7,308.8 C459.0,308.9 458.2,309.0 457.4,309.1 C456.6,309.2 455.8,309.4 454.9,309.6 C454.1,309.7 453.3,309.9 452.5,310.0 C451.8,310.1 451.0,310.1 450.3,310.2 C449.6,310.2 449.0,310.1 448.4,310.1 C447.8,310.1 447.1,310.2 446.5,310.1 C445.8,310.0 445.2,309.8 444.5,309.7 C443.8,309.6 443.0,309.6 442.1,309.6 C441.3,309.5 440.4,309.6 439.6,309.6 C438.7,309.5 437.9,309.5 437.1,309.5 C436.3,309.4 435.6,309.3 434.9,309.2 C434.2,309.0 433.7,308.8 433.1,308.6 C432.5,308.4 432.0,308.2 431.4,308.0 C430.8,307.8 430.1,307.7 429.5,307.6 C428.8,307.4 428.0,307.3 427.2,307.3 C426.5,307.2 425.6,307.2 424.9,307.1 C424.1,307.0 423.2,307.2 422.6,306.8 C422.0,306.5 421.6,305.6 421.2,305.0 C420.8,304.3 420.5,303.7 420.1,303.0 C419.8,302.3 419.5,301.7 419.1,301.0 C418.7,300.4 418.3,299.8 417.8,299.2 C417.3,298.6 416.7,298.1 416.1,297.5 C415.5,297.0 414.6,296.5 414.1,296.0 C413.7,295.4 413.5,294.7 413.3,294.1 C413.0,293.5 412.9,292.8 412.7,292.1 C412.6,291.4 412.6,290.7 412.5,290.0 C412.5,289.3 412.5,288.6 412.4,288.0 C412.3,287.3 412.2,286.6 412.1,285.9 C411.9,285.3 411.6,284.6 411.3,284.0 C411.1,283.4 410.6,282.8 410.4,282.1 C410.2,281.4 410.1,280.8 410.1,280.1Z" fill="none" stroke="#d2d2d2" stroke-width="4" filter="url(#blur1)"/>
<g fill="none" stroke-linecap="round" filter="url(#blur1)">
<path d="M496.0,270.1 C496.1,269.4 496.1,267.2 496.4,265.6 C496.7,263.9 498.0,261.8 497.9,260.2 C497.8,258.7 496.7,257.7 495.9,256.5 C495.0,255.2 493.0,254.3 492.7,252.7 C492.5,251.1 493.9,248.5 494.5,246.9 C495.1,245.3 494.9,244.0 496.1,243.1 C497.2,242.1 500.7,241.3 501.6,241.0" stroke="#cfcfcf" stroke-width="4.28" opacity="0.8"/>
<path d="M526.9,210.8 C527.0,211.5 527.9,213.4 527.6,214.9 C527.3,216.5 525.4,218.2 525.0,220.1 C524.6,222.1 525.2,224.7 525.2,226.5 C525.3,228.3 525.9,229.8 525.3,231.1 C524.7,232.3 522.6,232.9 521.6,234.0 C520.6,235.0 520.3,236.1 519.3,237.5 C518.3,238.9 516.4,240.4 515.8,242.4 C515.2,244.3 515.8,248.0 515.8,249.1" stroke="#cfcfcf" stroke-width="3.89" opacity="0.8"/>
<path d="M553.8,263.2 C553.1,263.8 550.6,265.5 549.3,266.7 C548.0,267.8 547.0,269.0 545.9,270.2 C544.9,271.3 544.3,272.5 543.1,273.3 C542.0,274.2 539.6,274.9 538.9,275.2" stroke="#cfcfcf" stroke-width="2.67" opacity="0.8"/>
<path d="M481.5,292.1 C482.4,291.9 485.3,291.1 487.1,290.8 C488.8,290.5 490.4,290.2 492.0,290.2 C493.7,290.3 494.9,291.0 496.9,291.2 C498.8,291.5 502.5,291.6 503.6,291.7" stroke="#cfcfcf" stroke-width="4.00" opacity="0.8"/>
<path d="M436.0,291.8 C435.1,292.1 432.2,292.8 430.9,293.7 C429.6,294.6 429.4,296.4 428.1,297.3 C426.8,298.2 424.6,299.0 422.9,299.0 C421.1,299.1 418.6,298.0 417.7,297.8" stroke="#cfcfcf" stroke-width="3.59" opacity="0.8"/>
<path d="M483.1,245.8 C483.0,246.6 483.2,249.1 482.8,250.6 C482.4,252.1 480.6,253.3 480.6,255.0 C480.7,256.8 482.7,259.1 483.1,261.2 C483.4,263.3 482.7,266.7 482.6,267.8" stroke="#cfcfcf" stroke-width="3.51" opacity="0.8"/>
<path d="M531.9,202.4 C531.2,203.0 529.3,204.6 527.9,206.0 C526.5,207.3 524.2,209.0 523.5,210.7 C522.8,212.3 523.6,214.0 523.6,215.9 C523.7,217.7 523.8,220.1 523.9,221.8 C523.9,223.4 523.9,225.1 523.9,225.8" stroke="#cfcfcf" stroke-width="2.54" opacity="0.8"/>
<path d="M480.2,279.3 C480.3,280.4 481.2,284.6 480.5,285.9 C479.8,287.2 477.9,286.9 476.1,286.9 C474.3,287.0 471.5,286.4 469.7,285.9 C467.9,285.5 467.1,284.5 465.3,284.3 C463.4,284.0 460.3,284.8 458.5,284.6 C456.6,284.5 455.7,283.8 454.0,283.4 C452.4,282.9 450.0,281.6 448.4,281.9 C446.8,282.2 445.0,284.7 444.3,285.2" stroke="#cfcfcf" stroke-width="2.88" opacity="0.8"/>
<path d="M543.7,225.5 C543.0,224.6 540.3,221.7 539.4,220.1 C538.5,218.5 539.0,217.3 538.1,215.9 C537.2,214.5 534.8,213.1 534.1,211.7 C533.4,210.3 533.5,209.1 533.9,207.4 C534.2,205.8 535.0,202.7 536.0,201.6 C537.0,200.4 539.4,200.6 540.1,200.4" stroke="#cfcfcf" stroke-width="2.89" opacity="0.8"/>
<path d="M488.3,224.3 C488.4,225.5 489.1,229.6 488.6,231.2 C488.1,232.8 486.4,232.8 485.2,233.8 C484.0,234.8 482.9,235.9 481.5,237.2 C480.1,238.4 477.1,239.5 476.7,241.1 C476.3,242.6 478.5,245.5 478.9,246.4" stroke="#cfcfcf" stroke-width="3.86" opacity="0.8"/>
<path d="M585.2,257.6 C586.0,256.8 588.3,253.6 590.0,252.7 C591.7,251.7 593.6,252.5 595.4,251.8 C597.1,251.2 599.5,249.8 600.7,248.6 C601.8,247.5 601.4,244.9 602.4,244.8 C603.5,244.7 605.3,248.3 606.9,248.3 C608.5,248.3 611.2,245.4 612.1,244.8" stroke="#cfcfcf" stroke-width="4.06" opacity="0.8"/>
<path d="M543.6,304.5 C543.9,303.9 544.3,301.9 545.6,300.8 C546.9,299.6 549.3,298.6 551.4,297.8 C553.5,296.9 556.1,295.9 557.9,295.6 C559.6,295.3 560.3,296.1 561.9,295.9 C563.6,295.6 566.1,294.8 567.7,294.2 C569.3,293.7 570.9,292.9 571.6,292.6" stroke="#cfcfcf" stroke-width="3.38" opacity="0.8"/>
<path d="M459.1,249.0 C460.1,248.3 463.2,246.5 464.8,245.2 C466.4,244.0 467.6,242.9 468.7,241.5 C469.8,240.1 471.0,238.3 471.7,236.7 C472.3,235.1 472.1,233.3 472.6,231.9 C473.0,230.4 473.5,229.0 474.5,228.1 C475.5,227.2 477.5,227.7 478.5,226.4 C479.5,225.1 480.2,221.4 480.5,220.4" stroke="#cfcfcf" stroke-width="2.57" opacity="0.8"/>
<path d="M535.3,259.3 C535.6,260.0 536.9,262.4 536.7,263.7 C536.4,265.0 535.0,266.1 533.9,267.3 C532.8,268.4 530.9,269.2 530.0,270.8 C529.0,272.5 528.6,275.4 528.1,277.2 C527.6,279.0 527.6,280.3 526.8,281.7 C526.0,283.1 523.9,285.0 523.3,285.7" stroke="#cfcfcf" stroke-width="3.33" opacity="0.8"/>
<path d="M577.0,244.3 C577.9,243.8 580.8,242.2 582.8,241.3 C584.7,240.4 587.3,239.9 588.8,238.9 C590.4,237.8 591.4,236.6 592.0,235.2 C592.6,233.8 591.9,232.1 592.5,230.7 C593.0,229.4 594.9,227.7 595.4,227.1" stroke="#cfcfcf" stroke-width="3.49" opacity="0.8"/>
<path d="M488.8,279.8 C489.2,278.9 490.4,275.8 491.5,274.3 C492.6,272.9 494.5,272.7 495.3,271.1 C496.2,269.5 496.1,266.8 496.4,264.8 C496.8,262.7 497.0,260.5 497.4,258.8 C497.8,257.0 499.1,255.8 498.9,254.2 C498.6,252.6 496.3,250.2 495.8,249.4" stroke="#cfcfcf" stroke-width="4.39" opacity="0.8"/>
<path d="M531.7,247.3 C531.3,248.3 529.3,251.1 529.2,253.1 C529.1,255.1 531.3,257.1 531.1,259.2 C530.9,261.2 528.9,263.5 528.0,265.4 C527.1,267.3 526.1,269.7 525.8,270.5" stroke="#cfcfcf" stroke-width="4.43" opacity="0.8"/>
<path d="M531.5,241.9 C531.1,242.6 529.6,244.6 529.3,246.0 C529.0,247.3 529.6,248.4 529.7,250.0 C529.9,251.5 530.0,253.7 530.3,255.4 C530.7,257.0 531.3,258.4 531.8,260.0 C532.3,261.5 533.1,264.0 533.3,264.8" stroke="#cfcfcf" stroke-width="3.13" opacity="0.8"/>
<path d="M542.4,264.3 C542.0,265.0 540.5,266.8 540.0,268.4 C539.6,269.9 540.6,272.2 539.9,273.6 C539.2,275.0 536.7,275.7 535.8,277.0 C534.8,278.3 534.9,279.7 534.3,281.4 C533.8,283.0 533.9,285.5 532.6,286.8 C531.4,288.0 528.5,287.8 527.0,288.8 C525.6,289.8 524.7,292.3 524.2,292.9" stroke="#cfcfcf" stroke-width="3.31" opacity="0.8"/>
<path d="M433.9,223.3 C434.7,222.5 437.9,220.1 438.9,218.5 C439.9,216.9 439.0,215.4 439.8,213.7 C440.6,211.9 442.5,209.5 443.8,208.2 C445.0,206.9 446.6,206.1 447.2,205.7" stroke="#cfcfcf" stroke-width="3.61" opacity="0.8"/>
<path d="M493.9,268.7 C494.1,267.6 495.0,264.1 495.4,262.1 C495.9,260.2 496.0,258.4 496.4,256.9 C496.9,255.5 498.7,254.7 498.3,253.3 C497.8,251.9 494.5,250.1 493.5,248.5 C492.6,246.8 492.0,244.5 492.6,243.1 C493.3,241.8 496.2,241.8 497.5,240.4 C498.8,239.1 499.8,236.0 500.3,235.1" stroke="#cfcfcf" stroke-width="4.49" opacity="0.8"/>
<path d="M493.7,317.3 C492.9,318.0 490.6,320.7 488.8,321.5 C487.0,322.3 485.2,322.0 483.2,322.2 C481.1,322.4 478.4,322.6 476.4,322.7 C474.5,322.7 473.3,321.6 471.7,322.2 C470.1,322.9 467.4,325.7 466.6,326.4" stroke="#cfcfcf" stroke-width="3.83" opacity="0.8"/>
<path d="M525.7,232.5 C525.9,233.4 527.1,236.1 526.9,237.9 C526.8,239.7 525.4,241.4 524.9,243.2 C524.4,244.9 523.8,246.5 523.8,248.5 C523.7,250.6 524.3,253.4 524.7,255.4 C525.1,257.4 525.6,259.0 526.4,260.7 C527.1,262.4 529.4,264.0 529.4,265.5 C529.3,267.0 527.0,268.3 526.0,269.8 C525.0,271.4 523.8,274.0 523.4,274.8" stroke="#cfcfcf" stroke-width="2.63" opacity="0.8"/>
<path d="M488.7,328.6 C489.5,328.3 491.5,327.7 493.1,326.8 C494.7,325.8 496.6,323.9 498.6,322.9 C500.6,322.0 503.3,321.3 505.1,321.0 C506.9,320.8 508.0,321.7 509.4,321.4 C510.9,321.0 512.3,319.3 514.0,318.8 C515.8,318.3 519.1,318.6 520.1,318.5" stroke="#cfcfcf" stroke-width="2.65" opacity="0.8"/>
<path d="M464.2,294.3 C463.3,294.5 460.6,294.5 458.9,295.4 C457.1,296.4 455.7,298.7 453.9,299.8 C452.2,300.8 450.3,301.0 448.4,301.8 C446.5,302.6 443.9,303.7 442.4,304.7 C441.0,305.7 440.9,306.6 439.8,307.7 C438.6,308.9 436.9,310.4 435.5,311.7 C434.1,313.0 432.9,315.0 431.5,315.6 C430.0,316.3 427.6,315.6 426.8,315.6" stroke="#cfcfcf" stroke-width="2.78" opacity="0.8"/>
<path d="M451.4,267.6 C450.6,268.5 448.2,271.3 446.9,272.7 C445.6,274.0 444.8,274.5 443.5,275.7 C442.2,276.8 440.8,278.5 439.1,279.4 C437.3,280.4 434.6,280.5 433.0,281.2 C431.3,281.9 429.8,283.3 429.2,283.7" stroke="#cfcfcf" stroke-width="3.84" opacity="0.8"/>
<path d="M483.9,251.7 C483.7,250.8 483.2,248.4 483.0,246.6 C482.7,244.7 481.8,242.3 482.3,240.5 C482.8,238.8 484.9,237.6 486.2,235.9 C487.5,234.3 489.0,232.2 490.2,230.5 C491.4,228.9 492.8,227.8 493.5,226.1 C494.2,224.3 494.7,221.4 494.3,219.8 C493.9,218.2 491.9,217.7 491.2,216.5 C490.5,215.2 490.3,213.1 490.1,212.4" stroke="#cfcfcf" stroke-width="3.85" opacity="0.8"/>
<path d="M514.8,263.5 C515.0,262.7 515.6,260.5 515.8,259.1 C515.9,257.6 516.2,256.2 515.9,254.6 C515.5,253.0 513.8,250.8 513.8,249.2 C513.7,247.7 515.2,246.6 515.5,245.2 C515.9,243.8 515.9,241.6 516.0,240.9" stroke="#cfcfcf" stroke-width="3.99" opacity="0.8"/>
<path d="M484.4,250.5 C484.2,249.7 483.5,247.4 483.1,246.0 C482.7,244.6 481.7,243.3 482.1,242.0 C482.4,240.8 484.4,240.0 485.2,238.6 C485.9,237.2 485.6,235.3 486.6,233.7 C487.6,232.1 490.3,230.7 491.3,228.9 C492.3,227.0 492.7,224.5 492.8,222.7 C492.9,220.8 492.1,218.6 492.0,217.8" stroke="#cfcfcf" stroke-width="4.07" opacity="0.8"/>
<path d="M588.2,271.6 C587.6,272.4 585.6,275.2 584.4,276.6 C583.3,278.1 582.5,279.4 581.2,280.3 C580.0,281.1 578.7,280.9 576.9,281.5 C575.1,282.1 572.5,283.3 570.5,283.8 C568.5,284.4 566.8,284.4 565.0,284.7 C563.2,284.9 561.4,284.8 559.9,285.3 C558.4,285.8 557.4,287.1 556.0,287.7 C554.6,288.3 552.3,288.6 551.6,288.8" stroke="#cfcfcf" stroke-width="2.74" opacity="0.8"/>
<path d="M561.3,232.1 C560.2,232.1 555.7,231.6 554.6,232.3 C553.5,233.0 555.0,235.0 554.6,236.4 C554.2,237.8 553.3,239.9 552.1,240.6 C550.9,241.3 548.2,240.7 547.4,240.7" stroke="#cfcfcf" stroke-width="3.39" opacity="0.8"/>
<path d="M487.3,214.4 C487.8,215.0 489.4,216.8 490.1,218.1 C490.7,219.5 490.8,221.0 491.3,222.3 C491.8,223.7 493.2,224.9 493.2,226.2 C493.2,227.5 492.0,228.7 491.3,230.1 C490.5,231.6 490.1,233.6 488.8,235.0 C487.5,236.4 484.8,237.2 483.5,238.5 C482.3,239.8 481.5,241.9 481.1,242.6" stroke="#cfcfcf" stroke-width="4.23" opacity="0.8"/>
<path d="M462.6,237.8 C463.4,237.2 465.2,234.9 466.9,234.1 C468.7,233.3 471.8,233.7 473.2,232.8 C474.7,232.0 475.2,230.5 475.5,229.2 C475.8,228.0 475.4,226.9 475.1,225.1 C474.7,223.3 473.7,220.4 473.4,218.5 C473.1,216.7 473.2,215.7 473.3,214.0 C473.4,212.4 473.8,210.6 473.9,208.6 C474.0,206.5 473.9,202.9 473.9,201.7" stroke="#cfcfcf" stroke-width="3.92" opacity="0.8"/>
<path d="M490.1,265.2 C490.2,264.3 491.4,261.7 491.1,259.8 C490.9,257.8 489.3,255.5 488.6,253.5 C488.0,251.4 487.5,249.6 487.3,247.6 C487.0,245.6 486.9,243.3 487.2,241.3 C487.5,239.3 488.5,237.7 489.2,235.9 C489.9,234.0 491.0,231.2 491.4,230.2" stroke="#cfcfcf" stroke-width="3.45" opacity="0.8"/>
<path d="M485.7,273.3 C486.1,272.3 487.1,269.0 487.9,267.3 C488.6,265.6 489.1,264.7 490.2,263.2 C491.2,261.7 493.4,260.2 494.1,258.3 C494.7,256.4 493.9,252.9 493.9,251.8" stroke="#cfcfcf" stroke-width="3.09" opacity="0.8"/>
<path d="M489.4,205.0 C489.0,205.9 487.9,208.3 487.3,210.2 C486.7,212.0 486.1,214.1 485.8,216.0 C485.6,217.8 485.6,219.6 485.8,221.3 C485.9,223.1 487.2,224.8 486.7,226.5 C486.2,228.2 482.7,229.8 482.8,231.5 C482.9,233.3 486.4,236.0 487.1,236.9" stroke="#cfcfcf" stroke-width="2.73" opacity="0.8"/>
<path d="M549.4,222.7 C548.9,223.8 547.7,227.2 546.7,228.9 C545.7,230.5 544.0,231.2 543.3,232.7 C542.7,234.1 543.4,235.8 542.9,237.5 C542.5,239.1 540.9,240.9 540.6,242.8 C540.3,244.6 541.0,246.9 541.1,248.6 C541.2,250.4 540.8,251.6 541.4,253.4 C542.0,255.2 544.4,257.9 544.6,259.5 C544.8,261.2 543.0,262.5 542.6,263.1" stroke="#cfcfcf" stroke-width="4.04" opacity="0.8"/>
<path d="M490.9,279.5 C490.9,280.4 491.7,284.0 490.7,285.1 C489.7,286.2 486.7,285.7 484.7,286.0 C482.8,286.4 480.9,286.6 479.2,287.3 C477.5,287.9 475.9,289.1 474.5,289.9 C473.0,290.7 471.1,291.8 470.5,292.2" stroke="#cfcfcf" stroke-width="4.21" opacity="0.8"/>
<path d="M475.5,297.4 C474.8,298.2 473.1,301.5 471.4,302.5 C469.7,303.4 466.7,302.1 465.1,302.8 C463.5,303.5 462.9,305.9 461.5,306.6 C460.2,307.3 457.8,306.8 457.1,306.9" stroke="#cfcfcf" stroke-width="4.19" opacity="0.8"/>
<path d="M523.3,230.5 C523.2,231.4 522.6,234.1 522.3,235.8 C521.9,237.4 521.4,238.8 521.1,240.6 C520.8,242.3 520.6,244.2 520.5,246.3 C520.4,248.3 520.1,251.2 520.6,252.7 C521.1,254.2 523.1,254.0 523.7,255.3 C524.3,256.5 524.5,258.4 524.2,260.2 C524.0,262.0 522.6,265.0 522.3,266.0" stroke="#cfcfcf" stroke-width="3.94" opacity="0.8"/>
<path d="M504.1,300.2 C505.0,299.7 508.0,297.5 509.7,296.7 C511.5,296.0 512.7,295.7 514.6,295.7 C516.5,295.8 519.2,297.2 521.2,297.0 C523.1,296.8 524.3,294.8 526.3,294.3 C528.3,293.9 531.1,294.8 533.0,294.5 C535.0,294.1 537.2,292.5 538.1,292.1" stroke="#cfcfcf" stroke-width="4.30" opacity="0.8"/>
<path d="M548.5,263.7 C548.1,264.7 547.4,268.3 546.1,269.7 C544.9,271.1 542.4,270.9 540.9,272.1 C539.4,273.4 538.0,275.5 536.9,277.1 C535.8,278.7 534.7,280.1 534.4,281.6 C534.0,283.1 535.3,285.0 534.7,286.1 C534.2,287.2 531.6,287.8 531.0,288.2" stroke="#cfcfcf" stroke-width="2.80" opacity="0.8"/>
<path d="M496.4,313.6 C495.6,314.0 493.0,314.7 491.3,315.8 C489.6,316.9 487.9,319.2 486.2,320.4 C484.4,321.5 482.5,322.1 480.7,322.7 C478.9,323.4 477.1,323.4 475.2,324.1 C473.3,324.7 470.3,326.1 469.4,326.5" stroke="#cfcfcf" stroke-width="3.76" opacity="0.8"/>
<path d="M426.5,281.1 C425.8,281.4 423.4,282.2 422.3,283.2 C421.1,284.2 421.0,285.9 419.5,287.0 C418.1,288.0 415.2,288.2 413.7,289.3 C412.1,290.3 410.8,292.4 410.2,293.1" stroke="#cfcfcf" stroke-width="4.37" opacity="0.8"/>
<path d="M474.4,330.3 C473.9,330.9 473.2,332.9 471.8,333.6 C470.4,334.4 468.1,335.1 466.1,334.9 C464.0,334.8 461.4,333.2 459.4,332.9 C457.5,332.6 455.9,333.4 454.4,333.4 C452.9,333.3 451.8,332.6 450.2,332.7 C448.6,332.7 446.6,333.2 444.9,333.6 C443.2,333.9 440.8,334.6 439.9,334.8" stroke="#cfcfcf" stroke-width="4.00" opacity="0.8"/>
<path d="M457.0,211.5 C457.5,210.9 459.4,209.2 460.3,207.8 C461.2,206.5 461.0,204.8 462.2,203.4 C463.5,202.1 466.8,201.2 467.8,199.8 C468.8,198.4 467.8,196.3 468.5,194.9 C469.1,193.6 471.1,192.2 471.6,191.7" stroke="#cfcfcf" stroke-width="4.41" opacity="0.8"/>
<path d="M501.5,305.6 C502.4,305.4 505.2,304.7 507.1,304.5 C509.0,304.3 511.3,305.1 512.9,304.5 C514.6,304.0 515.2,301.9 516.9,301.0 C518.7,300.2 522.4,299.7 523.4,299.5" stroke="#cfcfcf" stroke-width="4.01" opacity="0.8"/>
<path d="M486.6,321.8 C487.7,322.0 491.2,322.9 493.1,322.7 C495.0,322.4 496.7,321.5 498.0,320.3 C499.4,319.1 499.7,315.9 501.2,315.2 C502.8,314.6 505.5,316.1 507.4,316.5 C509.3,317.0 510.8,317.7 512.4,318.0 C514.0,318.3 515.1,318.1 517.0,318.3 C519.0,318.5 521.7,318.8 523.9,319.0 C526.1,319.3 529.2,319.8 530.2,320.0" stroke="#cfcfcf" stroke-width="3.61" opacity="0.8"/>
<path d="M556.9,303.7 C555.8,303.5 552.1,301.9 550.3,302.3 C548.6,302.7 548.2,305.1 546.5,306.1 C544.9,307.1 542.2,307.9 540.3,308.2 C538.4,308.6 537.0,307.8 535.0,308.1 C533.1,308.4 529.7,309.7 528.6,310.1" stroke="#cfcfcf" stroke-width="2.67" opacity="0.8"/>
<path d="M550.8,278.9 C550.3,279.8 549.7,282.9 548.2,284.0 C546.7,285.2 543.5,285.3 541.7,285.6 C539.8,286.0 539.0,286.0 537.3,286.2 C535.5,286.3 533.3,286.6 531.4,286.8 C529.5,286.9 526.8,287.2 525.9,287.3" stroke="#cfcfcf" stroke-width="2.88" opacity="0.8"/>
<path d="M481.7,203.8 C481.6,202.9 480.9,200.6 481.2,198.8 C481.5,197.0 482.9,194.4 483.7,192.8 C484.5,191.2 485.4,190.8 486.2,189.3 C486.9,187.8 488.0,185.4 488.2,183.6 C488.3,181.8 487.8,180.3 487.2,178.5 C486.5,176.7 484.7,173.7 484.2,172.7" stroke="#fbfbfb" stroke-width="2.76" opacity="0.95"/>
<path d="M522.6,200.9 C522.1,201.6 520.3,203.7 519.4,205.0 C518.5,206.3 518.1,207.3 517.4,208.7 C516.7,210.2 515.2,212.1 515.3,213.8 C515.3,215.6 517.1,218.4 517.5,219.3" stroke="#fbfbfb" stroke-width="2.54" opacity="0.95"/>
<path d="M555.5,308.6 C556.1,308.3 557.6,307.0 559.0,306.6 C560.5,306.2 562.5,307.1 564.2,306.4 C565.9,305.8 568.1,304.1 569.3,302.5 C570.4,300.9 569.8,298.1 570.9,296.8 C571.9,295.5 573.9,295.4 575.4,294.8 C577.0,294.1 578.5,293.5 580.0,292.8 C581.6,292.1 583.9,290.9 584.6,290.5" stroke="#fbfbfb" stroke-width="2.75" opacity="0.95"/>
<path d="M506.8,303.8 C505.9,304.3 503.0,305.8 501.3,306.4 C499.6,307.1 498.1,307.8 496.6,307.9 C495.0,308.1 493.5,306.8 491.9,307.3 C490.4,307.7 488.7,309.6 487.2,310.5 C485.8,311.5 484.7,313.3 483.3,313.0 C482.0,312.6 480.8,308.3 479.4,308.3 C477.9,308.3 476.3,312.0 474.6,313.1 C472.8,314.3 469.9,314.8 468.9,315.2" stroke="#fbfbfb" stroke-width="2.68" opacity="0.95"/>
<path d="M557.4,207.7 C557.9,207.0 559.4,205.1 560.6,203.5 C561.8,202.0 563.3,199.6 564.6,198.3 C565.8,196.9 566.7,196.2 568.3,195.2 C569.8,194.2 572.3,193.3 573.7,192.2 C575.0,191.0 575.4,189.5 576.1,188.1 C576.8,186.8 576.9,185.9 577.9,184.3 C578.9,182.8 580.3,180.3 582.0,179.0 C583.7,177.6 587.1,176.7 588.1,176.3" stroke="#fbfbfb" stroke-width="2.61" opacity="0.95"/>
<path d="M473.8,209.1 C473.3,209.9 470.6,212.7 470.6,214.2 C470.5,215.8 473.2,217.0 473.5,218.4 C473.8,219.8 472.3,221.3 472.6,222.8 C473.0,224.3 475.0,225.7 475.6,227.3 C476.2,228.9 476.8,230.7 476.2,232.4 C475.5,234.2 472.3,236.8 471.6,237.7" stroke="#fbfbfb" stroke-width="3.04" opacity="0.95"/>
<path d="M436.6,299.0 C437.0,298.2 437.9,294.9 439.0,293.8 C440.1,292.6 441.8,292.8 443.3,292.2 C444.9,291.5 446.5,290.4 448.2,289.8 C449.9,289.3 452.1,289.0 453.8,288.8 C455.5,288.5 456.7,288.7 458.3,288.1 C459.9,287.6 461.6,286.0 463.2,285.2 C464.8,284.5 466.2,284.3 468.0,283.8 C469.7,283.2 472.7,282.2 473.7,281.8" stroke="#fbfbfb" stroke-width="3.63" opacity="0.95"/>
<path d="M524.0,256.9 C523.6,255.8 522.7,252.2 522.0,250.4 C521.2,248.7 520.1,248.0 519.7,246.2 C519.2,244.3 519.6,241.6 519.3,239.5 C519.1,237.4 517.5,235.4 518.0,233.6 C518.6,231.8 521.2,230.7 522.5,228.9 C523.8,227.1 525.1,224.7 525.7,222.9 C526.3,221.0 526.3,219.3 526.0,217.9 C525.7,216.5 524.0,215.1 523.7,214.6" stroke="#fbfbfb" stroke-width="2.97" opacity="0.95"/>
<path d="M582.1,231.2 C582.8,230.6 584.8,228.5 586.3,227.3 C587.8,226.0 589.7,224.9 590.8,223.7 C592.0,222.6 592.1,221.2 593.3,220.3 C594.6,219.4 596.8,219.0 598.5,218.4 C600.2,217.8 601.7,217.1 603.4,216.8 C605.2,216.5 607.3,216.9 609.0,216.6 C610.7,216.3 612.7,215.3 613.5,215.0" stroke="#fbfbfb" stroke-width="3.27" opacity="0.95"/>
<path d="M468.4,245.9 C467.3,246.0 463.6,245.8 461.8,246.3 C460.0,246.9 458.8,248.2 457.7,249.4 C456.6,250.5 456.6,251.9 455.5,253.2 C454.3,254.5 451.7,256.5 451.0,257.2" stroke="#fbfbfb" stroke-width="2.52" opacity="0.95"/>
<path d="M490.2,205.7 C490.1,206.8 489.4,210.2 489.5,212.3 C489.5,214.3 489.8,216.1 490.4,217.9 C491.1,219.8 493.1,221.7 493.6,223.3 C494.1,224.8 493.4,226.6 493.4,227.3" stroke="#fbfbfb" stroke-width="2.82" opacity="0.95"/>
<path d="M443.0,252.6 C443.7,251.8 445.5,249.2 446.8,248.2 C448.0,247.2 449.1,246.7 450.6,246.5 C452.0,246.3 453.8,247.4 455.5,247.0 C457.1,246.7 458.6,244.7 460.3,244.5 C462.0,244.3 464.3,246.2 465.6,245.8 C466.9,245.3 466.9,243.4 468.0,241.8 C469.1,240.3 470.8,237.7 472.3,236.7 C473.7,235.7 476.0,235.9 476.8,235.8" stroke="#fbfbfb" stroke-width="3.94" opacity="0.95"/>
<path d="M569.0,239.8 C570.0,239.3 573.4,237.3 575.2,236.7 C577.0,236.1 578.3,237.2 579.8,236.2 C581.3,235.3 582.9,232.5 584.1,231.1 C585.3,229.8 586.4,228.5 586.8,228.0" stroke="#fbfbfb" stroke-width="2.52" opacity="0.95"/>
<path d="M430.6,294.6 C431.3,294.6 433.5,295.3 435.0,294.6 C436.4,293.9 437.9,291.0 439.3,290.3 C440.7,289.5 442.2,290.5 443.5,290.1 C444.9,289.6 446.2,288.5 447.5,287.7 C448.8,286.8 449.9,285.4 451.3,285.0 C452.7,284.7 455.1,285.4 455.8,285.4" stroke="#fbfbfb" stroke-width="3.29" opacity="0.95"/>
<path d="M455.0,285.6 C455.7,285.4 457.8,285.1 459.2,284.3 C460.6,283.6 462.1,281.3 463.6,280.9 C465.0,280.6 466.5,282.3 467.9,282.2 C469.4,282.1 471.0,281.5 472.3,280.5 C473.6,279.5 474.5,277.4 475.7,276.3 C476.8,275.2 478.5,274.2 479.1,273.8" stroke="#fbfbfb" stroke-width="3.72" opacity="0.95"/>
<path d="M521.4,266.8 C522.0,265.9 524.3,263.3 525.1,261.7 C525.8,260.1 526.0,258.5 525.9,257.0 C525.8,255.5 524.5,254.5 524.5,252.7 C524.5,250.9 525.4,248.1 525.8,246.1 C526.2,244.1 526.2,242.6 526.8,240.8 C527.4,239.0 529.0,237.0 529.5,235.2 C530.0,233.3 528.9,231.0 529.5,229.7 C530.2,228.3 532.6,227.5 533.2,227.0" stroke="#fbfbfb" stroke-width="3.69" opacity="0.95"/>
<path d="M515.6,282.7 C516.4,282.1 519.4,280.8 520.1,279.3 C520.7,277.9 518.9,275.3 519.5,273.8 C520.1,272.4 523.0,272.1 523.9,270.4 C524.8,268.7 524.3,265.4 524.7,263.6 C525.2,261.8 525.9,261.1 526.6,259.6 C527.3,258.0 528.6,255.1 529.0,254.2" stroke="#fbfbfb" stroke-width="3.60" opacity="0.95"/>
<path d="M455.0,252.5 C455.9,251.9 458.5,249.5 460.3,248.7 C462.2,247.9 464.2,248.5 466.0,247.6 C467.9,246.8 470.3,244.8 471.6,243.5 C472.9,242.2 473.5,241.3 473.6,239.9 C473.8,238.5 472.9,235.8 472.8,235.0" stroke="#fbfbfb" stroke-width="3.10" opacity="0.95"/>
<path d="M525.5,277.3 C526.1,276.7 528.2,274.6 529.2,273.4 C530.1,272.2 530.0,270.9 531.4,269.8 C532.8,268.8 536.5,268.7 537.6,267.2 C538.6,265.7 537.8,262.6 537.6,260.8 C537.4,259.0 536.7,257.6 536.5,256.2 C536.3,254.7 536.3,253.6 536.3,252.1 C536.2,250.6 536.6,248.7 536.3,247.1 C536.1,245.5 535.2,243.3 535.0,242.5" stroke="#fbfbfb" stroke-width="3.70" opacity="0.95"/>
<path d="M521.8,200.6 C521.6,201.4 521.4,203.6 520.5,205.2 C519.7,206.9 517.8,208.7 516.8,210.5 C515.8,212.4 514.8,214.6 514.3,216.4 C513.8,218.2 514.0,219.8 513.9,221.5 C513.9,223.1 514.2,224.5 513.9,226.1 C513.7,227.8 513.2,229.6 512.5,231.4 C511.7,233.2 510.0,236.0 509.5,236.9" stroke="#fbfbfb" stroke-width="3.74" opacity="0.95"/>
<path d="M496.6,297.4 C495.9,297.6 493.8,298.7 492.3,298.5 C490.8,298.3 489.1,296.4 487.6,296.3 C486.2,296.2 485.1,297.7 483.7,297.9 C482.4,298.1 480.3,297.7 479.6,297.6" stroke="#fbfbfb" stroke-width="3.65" opacity="0.95"/>
<path d="M549.3,221.5 C549.7,220.7 550.4,218.3 551.4,216.5 C552.3,214.7 553.9,212.8 555.1,210.8 C556.2,208.8 556.9,206.2 558.2,204.6 C559.5,203.0 562.2,201.8 562.9,201.2" stroke="#fbfbfb" stroke-width="3.98" opacity="0.95"/>
<path d="M418.0,247.0 C417.7,248.1 417.4,251.5 416.4,253.5 C415.5,255.4 414.0,257.6 412.3,258.8 C410.5,260.0 407.5,260.3 405.7,260.6 C403.8,260.8 402.5,259.8 401.0,260.2 C399.6,260.7 398.2,262.5 396.8,263.4 C395.4,264.2 393.3,265.1 392.6,265.5" stroke="#fbfbfb" stroke-width="2.65" opacity="0.95"/>
<path d="M560.5,306.1 C561.3,305.4 563.5,302.7 565.2,301.9 C566.9,301.2 569.2,302.2 570.6,301.5 C572.0,300.9 572.2,299.0 573.6,298.1 C575.0,297.2 577.4,297.1 578.8,296.3 C580.1,295.6 581.4,294.1 581.9,293.6" stroke="#fbfbfb" stroke-width="3.93" opacity="0.95"/>
<path d="M527.9,264.1 C528.0,263.2 528.1,260.5 528.4,258.9 C528.8,257.3 530.2,255.9 530.1,254.4 C529.9,252.9 527.7,251.5 527.5,250.0 C527.4,248.5 528.1,246.7 529.1,245.2 C530.2,243.7 532.8,242.3 533.8,241.0 C534.8,239.6 535.0,238.6 535.1,237.1 C535.2,235.7 534.0,234.0 534.4,232.2 C534.7,230.4 536.7,227.2 537.1,226.2" stroke="#fbfbfb" stroke-width="3.10" opacity="0.95"/>
<path d="M472.0,301.2 C471.2,301.4 468.5,301.8 466.9,302.1 C465.3,302.4 464.3,302.9 462.6,303.3 C460.9,303.6 458.7,304.0 456.9,304.2 C455.1,304.4 453.4,304.1 451.6,304.4 C449.8,304.6 447.9,305.6 446.2,305.8 C444.5,306.0 442.2,305.7 441.4,305.6" stroke="#fbfbfb" stroke-width="3.56" opacity="0.95"/>
<path d="M547.7,285.8 C546.6,285.7 542.8,284.9 541.2,285.3 C539.6,285.7 539.3,287.3 537.8,288.2 C536.4,289.0 534.4,289.7 532.8,290.4 C531.1,291.1 529.8,292.0 528.1,292.5 C526.4,293.0 523.3,293.4 522.4,293.6" stroke="#fbfbfb" stroke-width="2.88" opacity="0.95"/>
<path d="M551.8,258.8 C551.2,259.7 549.2,262.5 548.1,264.2 C547.1,266.0 546.3,267.4 545.3,269.1 C544.3,270.9 543.3,273.1 542.2,274.7 C541.2,276.2 539.9,276.9 538.8,278.5 C537.7,280.0 536.7,282.7 535.6,284.0 C534.5,285.3 532.6,286.0 532.0,286.4" stroke="#fbfbfb" stroke-width="3.86" opacity="0.95"/>
<path d="M503.7,259.8 C503.4,259.1 502.5,257.2 502.0,255.7 C501.5,254.1 501.3,252.4 500.8,250.6 C500.2,248.8 498.7,246.8 498.5,245.1 C498.3,243.4 498.7,241.9 499.5,240.4 C500.2,239.0 501.9,237.7 503.1,236.6 C504.2,235.4 505.7,233.9 506.2,233.4" stroke="#fbfbfb" stroke-width="2.54" opacity="0.95"/>
<path d="M520.7,291.0 C521.8,290.8 525.2,290.5 527.3,289.8 C529.4,289.2 531.4,287.9 533.5,287.1 C535.5,286.2 537.7,285.1 539.5,284.7 C541.4,284.3 543.6,284.7 544.4,284.7" stroke="#fbfbfb" stroke-width="3.37" opacity="0.95"/>
<path d="M471.7,242.6 C472.3,241.8 474.7,239.5 475.2,237.9 C475.7,236.2 474.7,234.3 474.7,232.7 C474.8,231.2 474.4,229.9 475.4,228.7 C476.3,227.4 479.5,226.5 480.5,225.3 C481.4,224.0 480.9,222.8 481.0,221.2 C481.1,219.5 480.9,216.5 480.9,215.5" stroke="#fbfbfb" stroke-width="2.84" opacity="0.95"/>
<path d="M526.4,197.0 C525.5,197.7 522.4,200.0 521.3,201.4 C520.3,202.8 520.7,204.0 520.1,205.3 C519.4,206.7 518.1,207.9 517.3,209.4 C516.6,210.9 515.9,212.6 515.6,214.2 C515.4,215.8 515.5,217.3 515.7,218.8 C516.0,220.3 516.7,221.9 517.0,223.3 C517.3,224.7 517.4,226.6 517.5,227.3" stroke="#fbfbfb" stroke-width="3.08" opacity="0.95"/>
<path d="M513.3,245.7 C513.4,246.6 513.4,249.3 513.9,251.1 C514.4,252.9 515.5,254.7 516.5,256.4 C517.4,258.1 519.5,259.5 519.7,261.1 C519.8,262.6 517.5,264.1 517.6,265.6 C517.6,267.1 520.3,268.6 520.0,270.1 C519.7,271.5 516.8,272.8 515.7,274.4 C514.6,276.1 513.7,278.0 513.3,280.0 C512.9,282.0 513.2,285.4 513.2,286.5" stroke="#fbfbfb" stroke-width="3.05" opacity="0.95"/>
<path d="M440.7,279.2 C440.9,278.4 441.1,276.0 442.0,274.5 C443.0,273.1 444.7,271.4 446.3,270.4 C447.9,269.4 449.9,269.5 451.5,268.6 C453.1,267.6 454.6,266.0 456.1,264.5 C457.7,263.1 459.1,261.2 460.8,259.7 C462.6,258.2 465.3,257.4 466.5,255.7 C467.8,254.0 467.0,250.9 468.3,249.5 C469.6,248.0 473.3,247.4 474.3,247.0" stroke="#fbfbfb" stroke-width="3.49" opacity="0.95"/>
<path d="M507.4,287.7 C506.5,288.2 503.8,289.6 502.2,290.5 C500.7,291.5 499.7,293.0 498.2,293.6 C496.7,294.1 494.7,293.7 493.0,294.0 C491.4,294.3 489.9,294.5 488.5,295.5 C487.1,296.5 485.2,299.1 484.5,299.9" stroke="#fbfbfb" stroke-width="3.72" opacity="0.95"/>
<path d="M480.0,288.3 C479.1,288.4 476.0,288.6 474.4,289.0 C472.8,289.5 471.8,290.8 470.5,291.0 C469.1,291.1 467.9,289.8 466.2,290.0 C464.5,290.1 462.0,291.4 460.3,291.9 C458.6,292.5 457.6,292.8 455.9,293.2 C454.2,293.6 451.1,294.1 450.1,294.3" stroke="#fbfbfb" stroke-width="3.05" opacity="0.95"/>
<path d="M465.7,283.7 C465.1,284.7 463.1,288.0 461.9,289.5 C460.7,290.9 459.9,291.4 458.5,292.3 C457.0,293.1 454.6,293.6 453.0,294.5 C451.5,295.5 450.4,297.8 449.1,298.0 C447.9,298.1 447.0,295.3 445.7,295.6 C444.4,296.0 442.9,299.1 441.4,300.0 C439.9,301.0 437.5,301.1 436.7,301.3" stroke="#fbfbfb" stroke-width="3.46" opacity="0.95"/>
<path d="M433.2,236.3 C432.3,236.9 429.5,238.9 427.8,240.0 C426.2,241.2 425.1,242.0 423.5,243.0 C421.8,244.1 419.5,245.1 417.8,246.4 C416.1,247.7 414.7,249.4 413.4,250.7 C412.0,252.1 411.3,253.6 409.8,254.5 C408.2,255.4 405.7,255.8 404.0,256.3 C402.3,256.7 400.9,256.5 399.5,257.3 C398.0,258.0 396.1,260.2 395.5,260.8" stroke="#fbfbfb" stroke-width="3.03" opacity="0.95"/>
<path d="M568.2,269.6 C569.1,269.5 571.8,269.4 573.4,269.0 C575.1,268.6 576.3,267.8 578.0,267.4 C579.7,267.0 582.1,267.3 583.6,266.6 C585.2,265.9 586.0,264.0 587.3,263.3 C588.6,262.5 589.8,262.6 591.3,261.9 C592.8,261.3 594.7,259.8 596.3,259.2 C597.9,258.6 600.0,258.5 600.7,258.4" stroke="#fbfbfb" stroke-width="2.92" opacity="0.95"/>
<path d="M474.1,208.2 C474.4,209.2 475.2,212.5 475.7,214.4 C476.1,216.3 476.7,217.7 476.7,219.5 C476.6,221.3 476.0,223.5 475.5,225.4 C475.0,227.3 474.6,229.0 473.9,231.0 C473.3,233.0 473.2,236.0 471.7,237.2 C470.1,238.4 466.2,237.2 464.8,238.3 C463.3,239.5 463.4,243.3 463.1,244.3" stroke="#fbfbfb" stroke-width="3.86" opacity="0.95"/>
</g>
<g fill="none" stroke-linecap="round" filter="url(#blur05)">
<path d="M471.3,201.5 C472.0,200.7 474.3,198.4 475.6,197.0 C477.0,195.6 478.0,194.1 479.5,192.9 C481.0,191.6 483.5,190.9 484.6,189.7 C485.7,188.5 485.7,187.1 486.1,185.5 C486.4,184.0 486.6,181.4 486.7,180.5" stroke="#c6c6c6" stroke-width="0.98" opacity="0.75"/>
<path d="M505.5,247.1 C505.8,246.4 506.8,244.6 506.9,243.2 C507.0,241.9 505.4,240.1 506.0,238.8 C506.7,237.5 509.4,236.7 510.8,235.6 C512.2,234.5 514.0,233.6 514.4,232.1 C514.7,230.7 512.7,228.7 512.9,226.8 C513.0,225.0 514.5,222.6 515.1,220.9 C515.7,219.3 516.8,218.3 516.4,216.9 C516.1,215.6 513.7,213.6 513.2,212.9" stroke="#c6c6c6" stroke-width="0.71" opacity="0.75"/>
<path d="M557.6,265.0 C556.9,265.9 554.3,268.8 553.6,270.4 C552.8,272.0 553.4,273.0 552.9,274.5 C552.4,276.0 551.5,277.6 550.7,279.4 C549.9,281.1 549.0,283.0 548.1,284.9 C547.2,286.9 545.9,290.1 545.4,291.2" stroke="#c6c6c6" stroke-width="0.64" opacity="0.75"/>
<path d="M433.5,296.5 C434.5,296.5 437.8,297.3 439.4,296.8 C441.1,296.4 441.6,294.6 443.1,293.9 C444.7,293.2 447.4,293.4 448.8,292.7 C450.2,292.0 450.4,290.9 451.8,289.9 C453.1,288.8 455.2,287.9 456.7,286.6 C458.1,285.3 458.7,283.1 460.4,282.2 C462.2,281.3 466.0,281.6 467.2,281.5" stroke="#c6c6c6" stroke-width="0.87" opacity="0.75"/>
<path d="M439.2,256.7 C440.0,255.9 442.4,252.6 444.1,251.7 C445.8,250.8 447.4,251.9 449.3,251.3 C451.2,250.7 453.8,249.3 455.5,248.1 C457.2,246.9 458.0,245.5 459.5,244.3 C461.0,243.2 462.5,241.6 464.5,241.1 C466.4,240.6 469.5,241.8 471.3,241.2 C473.0,240.5 474.3,238.9 475.0,237.1 C475.7,235.2 475.3,231.3 475.3,230.1" stroke="#c6c6c6" stroke-width="0.74" opacity="0.75"/>
<path d="M545.1,224.6 C545.6,223.8 547.1,221.7 548.2,220.3 C549.3,218.9 550.5,217.2 551.7,216.1 C552.8,214.9 554.0,214.6 555.1,213.4 C556.1,212.2 557.2,210.3 558.1,209.1 C559.1,207.8 560.5,207.4 561.0,205.9 C561.5,204.5 559.9,201.6 561.0,200.5 C562.2,199.3 566.7,199.4 567.8,199.2" stroke="#c6c6c6" stroke-width="0.82" opacity="0.75"/>
<path d="M564.0,213.9 C564.9,213.3 568.0,211.2 569.6,210.2 C571.3,209.1 572.5,208.7 573.8,207.6 C575.1,206.6 576.1,205.1 577.3,203.8 C578.6,202.4 580.9,200.1 581.6,199.4" stroke="#c6c6c6" stroke-width="0.80" opacity="0.75"/>
<path d="M498.6,259.7 C498.7,260.6 499.2,263.2 499.5,265.2 C499.7,267.3 500.9,270.8 500.1,272.1 C499.2,273.4 496.3,272.3 494.5,273.0 C492.7,273.8 490.6,275.3 489.2,276.8 C487.8,278.3 486.6,281.2 486.1,282.1" stroke="#c6c6c6" stroke-width="0.97" opacity="0.75"/>
<path d="M535.0,218.3 C535.2,219.3 535.9,222.3 536.3,223.9 C536.6,225.5 537.2,226.5 537.1,228.0 C537.0,229.5 536.7,231.4 535.8,232.9 C534.9,234.3 532.6,235.6 531.5,236.8 C530.4,238.0 529.5,239.7 529.1,240.3" stroke="#c6c6c6" stroke-width="0.81" opacity="0.75"/>
<path d="M449.4,293.4 C450.1,293.1 452.1,292.2 453.7,291.8 C455.3,291.5 457.0,291.4 458.8,291.1 C460.6,290.9 462.9,290.6 464.6,290.3 C466.2,289.9 467.3,289.3 468.7,289.0 C470.1,288.7 471.6,289.2 473.0,288.6 C474.4,288.0 476.0,286.1 477.4,285.4 C478.8,284.6 480.9,284.3 481.6,284.1" stroke="#c6c6c6" stroke-width="0.75" opacity="0.75"/>
<path d="M533.1,220.9 C533.1,220.1 532.8,218.0 532.9,216.2 C532.9,214.4 533.5,212.2 533.4,210.3 C533.2,208.4 531.7,206.5 532.0,204.7 C532.3,203.0 534.4,201.2 535.3,199.8 C536.2,198.4 536.2,197.3 537.4,196.3 C538.6,195.3 541.0,194.8 542.6,193.7 C544.2,192.6 546.2,190.5 546.9,189.8" stroke="#c6c6c6" stroke-width="0.60" opacity="0.75"/>
<path d="M574.3,244.8 C574.8,244.3 576.3,242.6 577.5,242.0 C578.8,241.3 580.5,241.8 581.7,240.7 C582.8,239.6 583.2,237.1 584.3,235.3 C585.4,233.6 587.0,231.5 588.2,230.3 C589.4,229.1 590.0,228.6 591.5,228.0 C593.1,227.5 596.5,227.2 597.5,227.0" stroke="#c6c6c6" stroke-width="0.80" opacity="0.75"/>
<path d="M575.6,286.1 C574.9,286.2 573.1,286.9 571.5,287.2 C570.0,287.5 568.1,287.9 566.2,288.1 C564.3,288.2 561.9,287.9 560.2,288.0 C558.6,288.1 557.9,288.1 556.2,288.5 C554.5,288.8 551.8,289.3 550.0,290.1 C548.2,290.9 546.8,292.5 545.3,293.1 C543.8,293.8 541.8,294.0 541.1,294.1" stroke="#c6c6c6" stroke-width="0.71" opacity="0.75"/>
<path d="M534.6,304.1 C533.7,304.2 531.0,304.2 529.5,304.5 C527.9,304.8 526.5,305.3 525.3,306.0 C524.1,306.7 523.5,308.5 522.3,309.0 C521.0,309.4 519.4,308.2 517.8,308.8 C516.2,309.4 514.1,311.2 512.6,312.3 C511.2,313.4 510.7,314.8 509.0,315.4 C507.4,316.0 504.3,315.3 502.7,316.0 C501.2,316.6 500.2,318.6 499.7,319.2" stroke="#c6c6c6" stroke-width="0.83" opacity="0.75"/>
<path d="M476.9,266.6 C476.7,267.3 476.8,269.6 475.9,270.8 C474.9,272.1 472.6,272.8 471.2,274.1 C469.8,275.3 468.9,277.3 467.6,278.3 C466.2,279.3 463.8,279.7 463.0,280.0" stroke="#c6c6c6" stroke-width="0.85" opacity="0.75"/>
<path d="M557.5,224.0 C558.2,223.4 560.4,222.0 561.8,220.8 C563.2,219.6 565.2,218.2 565.9,216.9 C566.7,215.5 565.4,213.9 566.3,212.6 C567.3,211.2 569.8,209.5 571.6,208.7 C573.4,207.8 575.2,207.5 577.0,207.3 C578.8,207.1 581.0,208.5 582.2,207.4 C583.5,206.4 584.1,202.0 584.5,200.9" stroke="#c6c6c6" stroke-width="0.78" opacity="0.75"/>
<path d="M439.6,308.2 C440.2,307.7 441.8,305.9 443.1,304.9 C444.5,303.8 446.0,303.0 447.7,301.8 C449.4,300.7 451.7,299.6 453.3,298.1 C454.9,296.7 455.7,294.4 457.1,293.1 C458.5,291.8 460.8,290.8 461.5,290.4" stroke="#c6c6c6" stroke-width="0.64" opacity="0.75"/>
<path d="M467.1,219.2 C466.6,220.1 465.3,222.9 463.7,224.1 C462.1,225.4 459.5,226.0 457.6,226.7 C455.7,227.4 453.9,227.2 452.3,228.3 C450.7,229.5 449.4,231.8 448.0,233.5 C446.7,235.2 445.6,237.2 444.3,238.5 C443.0,239.7 441.3,239.6 440.1,240.7 C438.8,241.8 437.3,244.3 436.8,245.0" stroke="#c6c6c6" stroke-width="0.80" opacity="0.75"/>
<path d="M478.3,251.1 C478.3,250.4 478.5,248.5 478.6,246.9 C478.8,245.3 478.8,243.2 479.2,241.4 C479.6,239.5 480.4,237.6 481.0,236.0 C481.5,234.5 482.4,232.7 482.7,232.1" stroke="#c6c6c6" stroke-width="0.79" opacity="0.75"/>
<path d="M480.8,233.9 C481.5,233.3 484.1,231.4 484.6,229.8 C485.1,228.3 484.0,226.6 483.9,224.8 C483.7,223.0 483.6,220.8 483.7,219.0 C483.9,217.2 484.5,215.6 484.7,214.0 C484.9,212.4 485.1,210.1 485.2,209.3" stroke="#c6c6c6" stroke-width="0.86" opacity="0.75"/>
<path d="M592.7,289.9 C593.3,289.3 595.0,287.7 596.3,286.5 C597.6,285.4 599.5,284.2 600.6,283.1 C601.7,282.0 602.0,280.7 603.0,279.7 C603.9,278.7 605.0,278.2 606.5,277.2 C608.0,276.2 611.0,274.5 612.0,274.0" stroke="#c6c6c6" stroke-width="0.99" opacity="0.75"/>
<path d="M491.0,314.4 C491.8,314.4 493.9,314.7 495.8,314.3 C497.7,313.9 500.3,312.8 502.3,311.9 C504.4,311.0 506.3,310.1 508.2,309.2 C510.2,308.3 513.1,306.8 514.1,306.4" stroke="#c6c6c6" stroke-width="0.71" opacity="0.75"/>
<path d="M559.6,282.3 C558.9,282.3 557.0,281.9 555.4,282.6 C553.9,283.3 551.8,285.5 550.1,286.8 C548.4,288.0 547.1,290.2 545.4,290.3 C543.7,290.5 541.7,287.8 539.8,287.5 C537.9,287.2 536.0,288.7 534.2,288.7 C532.4,288.7 530.9,287.4 529.1,287.5 C527.3,287.5 524.3,289.0 523.3,289.3" stroke="#c6c6c6" stroke-width="0.78" opacity="0.75"/>
<path d="M424.7,302.8 C425.4,302.3 427.6,300.3 429.0,299.7 C430.5,299.2 432.1,299.8 433.4,299.4 C434.7,298.9 435.6,297.3 436.9,297.0 C438.2,296.7 439.5,297.6 441.2,297.7 C442.8,297.7 445.8,297.2 446.8,297.1" stroke="#c6c6c6" stroke-width="0.63" opacity="0.75"/>
<path d="M469.1,328.2 C468.6,328.7 467.5,330.2 465.9,331.0 C464.3,331.9 461.3,332.9 459.5,333.4 C457.7,333.8 456.9,333.5 455.0,333.8 C453.2,334.1 450.7,335.3 448.5,335.3 C446.3,335.3 443.0,334.2 441.8,334.0" stroke="#c6c6c6" stroke-width="0.92" opacity="0.75"/>
<path d="M448.4,291.2 C448.9,290.4 450.1,287.6 451.5,286.6 C452.9,285.7 455.5,286.8 456.9,285.7 C458.2,284.6 458.7,281.5 459.8,280.1 C461.0,278.7 462.1,277.4 463.8,277.0 C465.4,276.7 467.8,278.3 469.6,278.1 C471.4,277.9 472.9,277.1 474.3,276.1 C475.7,275.1 477.3,272.8 477.9,272.1" stroke="#c6c6c6" stroke-width="0.69" opacity="0.75"/>
<path d="M521.8,255.7 C522.5,256.5 525.1,258.6 526.0,260.2 C526.9,261.8 527.3,263.8 527.1,265.6 C526.9,267.4 525.5,269.5 524.9,271.0 C524.3,272.6 524.5,273.5 523.4,274.9 C522.3,276.2 519.4,277.8 518.2,279.2 C516.9,280.6 516.9,282.2 515.9,283.3 C514.8,284.4 512.6,285.4 511.9,285.8" stroke="#c6c6c6" stroke-width="0.93" opacity="0.75"/>
<path d="M444.5,248.6 C445.2,247.8 447.3,245.0 448.5,243.8 C449.8,242.6 451.0,242.2 452.0,241.3 C453.0,240.3 453.1,238.7 454.6,238.1 C456.0,237.5 459.3,238.6 460.7,237.9 C462.1,237.1 462.2,234.8 463.0,233.5 C463.9,232.2 464.4,230.8 465.9,230.0 C467.4,229.3 471.2,229.2 472.2,229.1" stroke="#c6c6c6" stroke-width="0.92" opacity="0.75"/>
<path d="M429.0,303.2 C428.0,303.7 424.9,305.6 423.2,306.4 C421.6,307.2 420.3,307.2 419.0,307.9 C417.7,308.6 416.7,310.4 415.3,310.6 C413.9,310.8 411.8,310.0 410.4,309.2 C409.0,308.4 407.3,306.5 406.6,305.9" stroke="#c6c6c6" stroke-width="0.70" opacity="0.75"/>
<path d="M431.1,303.7 C431.9,303.7 434.5,304.3 435.9,303.8 C437.3,303.3 437.9,301.0 439.3,300.5 C440.7,300.0 442.5,301.1 444.0,300.9 C445.6,300.7 447.1,300.1 448.7,299.5 C450.4,299.0 452.2,298.1 453.8,297.6 C455.5,297.2 456.9,297.2 458.6,296.8 C460.2,296.3 461.8,295.3 463.8,295.0 C465.8,294.7 469.3,295.1 470.4,295.1" stroke="#c6c6c6" stroke-width="0.96" opacity="0.75"/>
<path d="M572.1,277.4 C571.4,278.1 568.9,279.8 568.0,281.4 C567.1,283.1 567.8,285.7 566.7,287.2 C565.5,288.7 563.0,289.7 561.0,290.1 C559.1,290.6 556.8,289.5 555.1,290.2 C553.3,290.8 552.1,293.2 550.6,294.2 C549.1,295.3 547.6,295.8 546.0,296.4 C544.5,296.9 543.2,297.5 541.4,297.5 C539.6,297.5 536.3,296.7 535.3,296.5" stroke="#c6c6c6" stroke-width="0.80" opacity="0.75"/>
<path d="M514.5,272.3 C513.8,273.0 511.6,275.2 510.7,276.5 C509.7,277.9 509.7,278.9 508.7,280.5 C507.8,282.0 506.1,284.7 504.8,285.8 C503.5,286.9 502.1,286.6 500.8,287.1 C499.5,287.6 498.5,287.9 497.0,288.6 C495.5,289.2 492.6,290.4 491.8,290.8" stroke="#c6c6c6" stroke-width="0.77" opacity="0.75"/>
<path d="M596.3,288.6 C595.6,289.1 593.3,290.9 591.7,291.7 C590.2,292.6 588.7,292.9 587.1,293.8 C585.5,294.7 583.7,296.4 582.1,297.3 C580.4,298.2 578.8,298.4 577.2,299.1 C575.6,299.9 574.1,301.0 572.4,301.8 C570.7,302.6 568.7,303.5 567.1,303.7 C565.4,304.0 563.4,303.4 562.7,303.3" stroke="#c6c6c6" stroke-width="0.82" opacity="0.75"/>
<path d="M467.3,237.1 C468.1,236.3 470.4,233.4 472.3,232.3 C474.2,231.2 477.4,232.0 478.7,230.6 C480.0,229.2 479.5,225.9 480.1,224.0 C480.8,222.0 482.3,220.5 482.5,218.7 C482.7,216.8 481.5,213.7 481.3,212.7" stroke="#c6c6c6" stroke-width="0.98" opacity="0.75"/>
<path d="M526.4,278.0 C525.8,279.0 524.3,282.5 523.1,283.9 C521.9,285.2 521.0,285.2 519.3,286.0 C517.6,286.8 514.9,288.3 512.9,288.7 C511.0,289.2 508.5,288.8 507.7,288.9" stroke="#c6c6c6" stroke-width="0.80" opacity="0.75"/>
<path d="M524.8,312.4 C524.4,313.0 523.3,315.8 522.1,316.1 C520.8,316.5 518.7,314.5 517.1,314.5 C515.6,314.4 514.3,315.5 512.7,315.7 C511.0,315.9 508.3,315.7 507.5,315.7" stroke="#c6c6c6" stroke-width="0.79" opacity="0.75"/>
<path d="M419.5,242.1 C420.1,241.5 421.6,240.1 422.7,238.6 C423.8,237.1 425.0,234.4 426.2,233.0 C427.5,231.6 428.7,231.2 430.1,230.3 C431.6,229.3 433.4,228.4 434.8,227.5 C436.2,226.5 437.4,225.9 438.5,224.6 C439.6,223.2 440.4,220.8 441.5,219.4 C442.5,218.0 443.2,217.0 444.8,216.0 C446.4,215.0 450.0,214.0 451.0,213.6" stroke="#c6c6c6" stroke-width="0.72" opacity="0.75"/>
<path d="M445.4,221.8 C445.9,221.0 447.0,217.8 448.5,216.7 C450.0,215.5 453.0,216.0 454.6,214.8 C456.2,213.7 457.2,211.2 458.4,209.8 C459.5,208.4 460.1,207.6 461.5,206.2 C462.8,204.8 464.9,202.6 466.5,201.4 C468.0,200.2 470.0,200.4 470.9,198.9 C471.8,197.3 470.9,193.6 471.8,192.0 C472.7,190.4 475.5,189.7 476.2,189.2" stroke="#c6c6c6" stroke-width="0.94" opacity="0.75"/>
<path d="M436.1,304.0 C435.0,304.1 431.5,304.2 429.4,304.6 C427.4,305.0 426.1,305.9 424.1,306.5 C422.0,307.0 419.5,307.2 417.3,307.8 C415.1,308.4 413.1,309.5 411.0,310.1 C408.8,310.7 406.2,311.1 404.2,311.6 C402.3,312.0 400.0,312.7 399.1,312.9" stroke="#c6c6c6" stroke-width="0.80" opacity="0.75"/>
<path d="M440.7,260.2 C440.3,260.9 439.7,263.5 438.3,264.0 C436.9,264.4 434.0,263.0 432.2,263.1 C430.5,263.2 429.6,263.7 428.1,264.5 C426.6,265.3 425.1,267.3 423.1,268.0 C421.2,268.7 418.0,267.9 416.3,268.7 C414.6,269.5 413.5,272.1 413.0,272.8" stroke="#c6c6c6" stroke-width="0.74" opacity="0.75"/>
<path d="M480.9,205.3 C481.2,204.6 482.1,202.6 482.9,201.2 C483.6,199.8 484.3,198.0 485.3,196.8 C486.3,195.5 487.8,195.0 488.8,193.9 C489.8,192.8 491.0,191.9 491.3,190.3 C491.6,188.8 490.7,185.6 490.6,184.7" stroke="#c6c6c6" stroke-width="0.68" opacity="0.75"/>
<path d="M554.6,265.2 C554.1,266.1 553.0,269.2 551.3,270.1 C549.5,271.1 546.2,270.0 544.4,271.0 C542.5,272.1 541.4,274.5 540.2,276.4 C539.0,278.3 537.7,281.6 537.2,282.6" stroke="#c6c6c6" stroke-width="0.69" opacity="0.75"/>
<path d="M531.2,203.1 C531.4,202.2 532.3,199.6 532.6,197.9 C532.9,196.1 532.9,194.1 532.9,192.5 C533.0,190.8 532.5,189.0 533.1,187.9 C533.7,186.8 536.4,187.2 536.6,185.8 C536.8,184.5 535.1,181.6 534.5,179.9 C533.9,178.2 533.3,177.2 532.9,175.7 C532.6,174.3 532.4,172.6 532.4,171.2 C532.3,169.8 532.5,167.8 532.5,167.2" stroke="#c6c6c6" stroke-width="0.93" opacity="0.75"/>
<path d="M452.1,305.4 C452.9,304.9 455.7,303.1 457.1,302.2 C458.5,301.3 459.2,300.6 460.5,300.1 C461.9,299.6 463.6,299.2 465.3,299.1 C467.1,298.9 469.4,299.2 471.2,299.0 C473.0,298.9 474.8,298.7 476.2,298.0 C477.6,297.3 478.4,295.3 479.8,294.6 C481.2,293.9 483.1,293.7 484.8,293.6 C486.5,293.5 489.1,293.9 490.0,293.9" stroke="#c6c6c6" stroke-width="0.92" opacity="0.75"/>
<path d="M512.6,255.5 C512.2,254.8 510.1,253.2 510.1,251.5 C510.2,249.8 512.5,247.2 512.8,245.4 C513.2,243.7 512.8,242.4 512.3,241.0 C511.8,239.5 509.8,238.2 509.7,236.8 C509.7,235.5 511.2,234.5 512.1,233.0 C512.9,231.5 514.4,229.6 515.0,228.0 C515.5,226.4 515.1,224.3 515.2,223.5" stroke="#c6c6c6" stroke-width="0.99" opacity="0.75"/>
</g>
<g fill="none" stroke="#c2c2c2" stroke-width="1.1" stroke-linecap="round" filter="url(#blur05)">
<path d="M418.0,252.0 C419.7,250.0 424.3,243.3 428.0,240.0 C431.7,236.7 436.0,234.3 440.0,232.0 C444.0,229.7 447.7,228.3 452.0,226.0 C456.3,223.7 461.3,220.3 466.0,218.0 C470.7,215.7 475.3,214.0 480.0,212.0 C484.7,210.0 491.7,207.0 494.0,206.0"/>
<path d="M414.0,268.0 C415.7,267.0 420.3,264.0 424.0,262.0 C427.7,260.0 431.7,258.0 436.0,256.0 C440.3,254.0 445.3,252.0 450.0,250.0 C454.7,248.0 459.3,246.0 464.0,244.0 C468.7,242.0 475.7,239.0 478.0,238.0"/>
<path d="M461.5,309.0 C463.2,307.2 467.9,301.5 472.0,298.0 C476.1,294.5 481.3,291.2 486.0,288.0 C490.7,284.8 495.7,281.7 500.0,279.0 C504.3,276.3 507.7,273.8 512.0,272.0 C516.3,270.2 520.7,268.3 526.0,268.0 C531.3,267.7 538.3,268.8 544.0,270.0 C549.7,271.2 557.3,274.2 560.0,275.0"/>
<path d="M470.0,322.0 C472.7,320.7 480.3,316.7 486.0,314.0 C491.7,311.3 498.0,308.7 504.0,306.0 C510.0,303.3 515.7,300.7 522.0,298.0 C528.3,295.3 535.3,292.0 542.0,290.0 C548.7,288.0 555.0,286.5 562.0,286.0 C569.0,285.5 580.3,286.8 584.0,287.0"/>
<path d="M513.0,190.0 C512.5,193.0 511.2,202.0 510.0,208.0 C508.8,214.0 506.3,220.3 506.0,226.0 C505.7,231.7 506.7,236.7 508.0,242.0 C509.3,247.3 513.0,255.3 514.0,258.0"/>
<path d="M530.0,190.0 C529.7,193.3 528.0,203.3 528.0,210.0 C528.0,216.7 528.7,223.7 530.0,230.0 C531.3,236.3 533.7,242.3 536.0,248.0 C538.3,253.7 542.7,261.3 544.0,264.0"/>
<path d="M548.0,206.0 C548.7,209.0 550.0,218.3 552.0,224.0 C554.0,229.7 556.7,235.0 560.0,240.0 C563.3,245.0 567.7,250.3 572.0,254.0 C576.3,257.7 583.7,260.7 586.0,262.0"/>
<path d="M438.0,226.0 C440.0,227.7 446.0,235.0 450.0,236.0 C454.0,237.0 458.0,233.7 462.0,232.0 C466.0,230.3 469.7,227.0 474.0,226.0 C478.3,225.0 483.7,225.0 488.0,226.0 C492.3,227.0 498.0,231.0 500.0,232.0"/>
<path d="M450.0,262.0 C452.0,261.3 458.0,258.0 462.0,258.0 C466.0,258.0 469.7,262.3 474.0,262.0 C478.3,261.7 483.7,258.0 488.0,256.0 C492.3,254.0 498.0,251.0 500.0,250.0"/>
<path d="M560.0,300.0 C562.3,299.0 569.3,295.7 574.0,294.0 C578.7,292.3 585.7,290.7 588.0,290.0"/>
<path d="M520.0,300.0 C522.7,301.3 530.7,307.3 536.0,308.0 C541.3,308.7 549.3,304.7 552.0,304.0"/>
</g>
</g>
<path d="M410.1,280.1 C410.1,279.4 410.3,278.7 410.4,278.0 C410.6,277.3 410.8,276.6 411.0,275.9 C411.2,275.3 411.4,274.6 411.5,273.9 C411.6,273.2 411.7,272.6 411.6,271.9 C411.6,271.3 411.4,270.6 411.3,270.0 C411.2,269.3 411.0,268.7 410.8,268.0 C410.7,267.3 410.5,266.7 410.6,266.0 C410.6,265.3 410.8,264.7 411.0,264.0 C411.2,263.3 411.5,262.7 411.8,262.0 C412.0,261.3 412.3,260.7 412.5,260.0 C412.7,259.3 412.8,258.7 412.9,258.0 C412.9,257.3 412.9,256.7 412.9,256.0 C412.9,255.3 412.9,254.6 412.9,253.9 C413.0,253.3 413.0,252.6 413.2,251.9 C413.4,251.2 413.9,250.6 414.3,249.9 C414.7,249.3 415.3,248.6 415.7,248.0 C416.2,247.4 416.7,246.8 417.1,246.1 C417.4,245.5 417.8,244.8 418.0,244.2 C418.3,243.5 418.4,242.8 418.6,242.1 C418.8,241.4 418.8,240.7 419.0,240.0 C419.2,239.3 419.5,238.7 419.8,238.1 C420.1,237.5 420.5,237.0 421.0,236.4 C421.4,235.8 421.9,235.3 422.3,234.7 C422.7,234.1 423.2,233.6 423.5,233.0 C423.9,232.4 424.1,231.8 424.4,231.2 C424.7,230.6 425.1,230.0 425.4,229.4 C425.7,228.9 425.9,228.2 426.3,227.7 C426.6,227.1 427.0,226.5 427.4,226.0 C427.9,225.5 428.5,225.0 429.0,224.5 C429.6,224.0 430.3,223.6 430.9,223.2 C431.5,222.7 432.1,222.3 432.7,221.8 C433.2,221.4 433.7,220.9 434.2,220.4 C434.6,219.8 435.0,219.3 435.4,218.7 C435.8,218.1 436.0,217.5 436.5,217.0 C437.0,216.4 437.7,216.0 438.3,215.6 C439.0,215.1 439.7,214.8 440.4,214.4 C441.2,214.0 442.0,213.7 442.7,213.4 C443.5,213.0 444.2,212.7 444.9,212.3 C445.5,211.8 446.1,211.4 446.7,210.9 C447.3,210.4 447.7,209.8 448.2,209.2 C448.7,208.7 449.2,208.2 449.7,207.7 C450.2,207.2 450.7,206.7 451.3,206.3 C451.9,205.9 452.6,205.5 453.3,205.2 C453.9,204.9 454.7,204.6 455.4,204.3 C456.0,204.0 456.7,203.7 457.4,203.4 C458.1,203.1 458.8,203.0 459.5,202.7 C460.2,202.4 460.8,202.0 461.4,201.7 C462.0,201.3 462.7,200.9 463.3,200.6 C464.0,200.3 464.7,200.0 465.4,199.8 C466.1,199.6 466.9,199.5 467.7,199.4 C468.5,199.3 469.3,199.3 470.1,199.2 C470.9,199.2 471.7,199.2 472.4,199.1 C473.2,199.0 473.9,198.9 474.6,198.7 C475.3,198.4 475.9,198.1 476.6,197.8 C477.2,197.5 477.8,197.2 478.5,196.9 C479.2,196.6 479.9,196.3 480.6,196.1 C481.3,195.9 482.0,195.8 482.7,195.7 C483.5,195.6 484.3,195.6 485.0,195.5 C485.7,195.4 486.4,195.3 487.0,195.0 C487.7,194.8 488.3,194.5 489.0,194.2 C489.6,193.9 490.3,193.4 490.9,193.0 C491.6,192.6 492.2,192.2 492.9,191.8 C493.5,191.5 494.2,191.1 494.9,190.9 C495.5,190.7 496.2,190.6 496.9,190.5 C497.6,190.4 498.3,190.3 499.0,190.3 C499.7,190.3 500.5,190.4 501.2,190.4 C501.9,190.4 502.6,190.3 503.3,190.1 C504.1,190.0 504.8,189.7 505.5,189.5 C506.2,189.3 506.9,189.0 507.7,188.9 C508.4,188.7 509.1,188.5 509.9,188.4 C510.6,188.3 511.3,188.3 512.0,188.4 C512.7,188.4 513.5,188.6 514.3,188.7 C515.0,188.8 515.8,188.8 516.5,188.8 C517.3,188.8 518.1,188.7 518.9,188.5 C519.7,188.4 520.5,188.1 521.3,187.9 C522.1,187.7 523.0,187.3 523.8,187.2 C524.6,187.1 525.4,187.3 526.2,187.5 C526.9,187.7 527.7,187.9 528.4,188.2 C529.1,188.5 529.8,188.9 530.5,189.2 C531.2,189.5 531.9,189.8 532.7,190.1 C533.4,190.3 534.3,190.4 535.0,190.6 C535.6,190.9 536.1,191.3 536.6,191.6 C537.2,192.0 537.7,192.3 538.3,192.7 C538.8,193.0 539.3,193.5 539.8,194.0 C540.3,194.5 540.7,195.0 541.2,195.6 C541.6,196.2 542.0,196.8 542.4,197.5 C542.7,198.1 542.9,199.0 543.3,199.7 C543.6,200.3 544.0,200.9 544.4,201.5 C544.8,202.0 545.2,202.5 545.7,203.0 C546.1,203.5 546.4,204.2 547.1,204.4 C547.7,204.7 548.6,204.5 549.3,204.6 C550.0,204.7 550.7,204.9 551.4,205.1 C552.0,205.2 552.6,205.5 553.3,205.7 C553.9,205.8 554.5,206.0 555.2,206.2 C555.9,206.3 556.7,206.3 557.5,206.4 C558.2,206.4 559.2,206.2 559.9,206.4 C560.6,206.6 561.1,207.1 561.6,207.6 C562.1,208.0 562.6,208.5 563.1,209.0 C563.5,209.5 563.8,210.1 564.2,210.7 C564.5,211.3 564.8,212.0 565.1,212.6 C565.4,213.2 565.7,213.8 566.1,214.3 C566.5,214.9 566.9,215.4 567.4,215.8 C567.9,216.3 568.4,216.7 569.0,217.1 C569.6,217.6 570.3,218.0 570.9,218.4 C571.5,218.9 572.1,219.4 572.6,219.9 C573.1,220.4 573.6,221.0 574.0,221.5 C574.4,222.1 574.8,222.6 575.3,223.2 C575.7,223.7 576.2,224.3 576.7,224.8 C577.2,225.3 577.9,225.7 578.5,226.1 C579.2,226.6 580.0,226.9 580.6,227.4 C581.3,227.9 581.8,228.5 582.3,229.1 C582.8,229.7 583.3,230.3 583.7,230.9 C584.1,231.5 584.4,232.2 584.7,232.9 C585.0,233.6 585.2,234.3 585.5,235.0 C585.8,235.6 586.0,236.3 586.4,237.0 C586.7,237.6 587.1,238.2 587.6,238.8 C588.0,239.5 588.5,240.1 589.0,240.7 C589.5,241.3 590.2,241.9 590.5,242.5 C590.9,243.1 591.1,243.8 591.2,244.4 C591.4,245.1 591.5,245.7 591.6,246.4 C591.7,247.1 591.7,247.7 591.8,248.4 C591.9,249.0 592.0,249.7 592.2,250.3 C592.4,251.0 592.7,251.6 593.0,252.2 C593.3,252.8 593.8,253.4 594.2,254.0 C594.6,254.6 595.1,255.3 595.5,255.9 C595.8,256.5 596.2,257.1 596.4,257.8 C596.7,258.4 596.9,259.0 597.0,259.7 C597.1,260.4 597.0,261.1 597.0,261.8 C597.0,262.6 597.1,263.3 597.2,264.0 C597.3,264.7 597.5,265.4 597.7,266.1 C597.9,266.8 598.3,267.5 598.5,268.3 C598.8,269.0 599.1,269.7 599.3,270.4 C599.5,271.2 599.6,271.9 599.6,272.6 C599.7,273.3 599.6,274.0 599.6,274.7 C599.6,275.4 599.5,276.1 599.4,276.8 C599.2,277.4 598.8,278.1 598.7,278.7 C598.5,279.4 598.5,280.1 598.4,280.7 C598.4,281.4 598.5,282.1 598.5,282.8 C598.5,283.5 598.6,284.2 598.6,284.9 C598.6,285.6 598.5,286.3 598.4,287.0 C598.3,287.7 598.1,288.3 597.9,289.0 C597.7,289.6 597.7,290.3 597.3,290.9 C596.8,291.4 595.9,291.8 595.3,292.3 C594.8,292.8 594.3,293.3 593.8,293.8 C593.3,294.4 593.0,294.9 592.5,295.5 C592.1,296.0 591.7,296.6 591.2,297.1 C590.7,297.7 590.2,298.2 589.6,298.7 C589.0,299.1 588.3,299.7 587.5,300.0 C586.8,300.3 585.9,300.3 585.1,300.4 C584.3,300.5 583.5,300.6 582.8,300.8 C582.1,301.0 581.5,301.2 580.9,301.4 C580.3,301.6 579.8,301.8 579.2,302.1 C578.7,302.3 578.1,302.6 577.5,302.8 C576.9,303.0 576.2,303.2 575.5,303.3 C574.8,303.5 574.0,303.6 573.2,303.7 C572.4,303.8 571.6,303.9 570.8,304.0 C570.1,304.1 569.3,304.2 568.7,304.4 C568.0,304.6 567.4,304.8 566.9,305.1 C566.3,305.3 565.9,305.6 565.4,305.9 C564.9,306.2 564.5,306.7 564.0,307.0 C563.5,307.4 562.9,307.7 562.3,308.0 C561.7,308.2 561.0,308.5 560.3,308.7 C559.6,308.9 558.9,309.0 558.2,309.3 C557.5,309.5 556.8,309.7 556.2,309.9 C555.6,310.2 555.0,310.5 554.5,310.9 C553.9,311.2 553.5,311.6 552.9,312.0 C552.4,312.3 551.9,312.7 551.3,313.0 C550.7,313.3 550.1,313.6 549.4,313.8 C548.8,314.0 548.0,314.1 547.3,314.3 C546.6,314.4 545.8,314.5 545.1,314.6 C544.4,314.8 543.7,314.9 543.0,315.1 C542.4,315.4 541.8,315.7 541.3,316.0 C540.7,316.3 540.2,316.8 539.7,317.1 C539.1,317.5 538.6,318.0 538.1,318.3 C537.5,318.6 536.8,318.9 536.1,319.2 C535.5,319.4 534.7,319.6 534.0,319.7 C533.3,319.9 532.6,320.0 531.9,320.2 C531.2,320.4 530.6,320.6 529.9,320.9 C529.3,321.1 528.7,321.5 528.1,321.9 C527.5,322.3 526.9,322.7 526.3,323.2 C525.7,323.6 525.1,324.0 524.5,324.4 C523.8,324.7 523.2,325.0 522.5,325.2 C521.8,325.4 521.1,325.5 520.4,325.6 C519.7,325.7 519.0,325.8 518.3,325.9 C517.6,326.0 516.9,326.1 516.2,326.3 C515.6,326.5 514.9,326.8 514.3,327.1 C513.6,327.4 513.0,327.8 512.4,328.2 C511.7,328.5 511.1,329.0 510.4,329.2 C509.8,329.5 509.1,329.6 508.4,329.7 C507.7,329.8 507.0,329.8 506.3,329.9 C505.6,329.9 505.0,329.9 504.3,330.0 C503.6,330.1 502.9,330.2 502.3,330.4 C501.6,330.6 500.9,330.8 500.2,331.2 C499.6,331.5 498.9,331.9 498.2,332.3 C497.5,332.7 496.8,333.1 496.1,333.3 C495.4,333.6 494.7,333.9 494.0,334.0 C493.3,334.2 492.7,334.3 492.0,334.3 C491.3,334.4 490.7,334.4 490.0,334.5 C489.4,334.6 488.7,334.8 488.0,334.8 C487.4,334.8 486.7,334.5 486.0,334.4 C485.3,334.3 484.6,334.3 483.9,334.2 C483.2,334.1 482.5,334.1 481.8,333.9 C481.1,333.8 480.5,333.5 479.8,333.3 C479.2,333.0 478.6,332.6 478.0,332.2 C477.4,331.9 476.8,331.5 476.2,331.1 C475.6,330.8 475.0,330.5 474.3,330.3 C473.7,330.1 473.0,330.0 472.3,329.9 C471.6,329.8 470.7,330.0 470.1,329.8 C469.5,329.5 469.2,328.9 468.8,328.5 C468.3,328.0 467.9,327.4 467.6,326.8 C467.2,326.2 466.9,325.6 466.5,324.9 C466.2,324.3 465.9,323.5 465.6,322.9 C465.2,322.3 464.9,321.7 464.5,321.1 C464.1,320.6 463.6,320.1 463.2,319.7 C462.7,319.2 462.0,318.9 461.7,318.4 C461.4,317.8 461.4,317.1 461.4,316.4 C461.3,315.7 461.2,314.9 461.2,314.1 C461.2,313.3 461.3,312.4 461.4,311.5 C461.5,310.6 461.9,309.3 461.6,308.8 C461.4,308.4 460.4,308.8 459.7,308.8 C459.0,308.9 458.2,309.0 457.4,309.1 C456.6,309.2 455.8,309.4 454.9,309.6 C454.1,309.7 453.3,309.9 452.5,310.0 C451.8,310.1 451.0,310.1 450.3,310.2 C449.6,310.2 449.0,310.1 448.4,310.1 C447.8,310.1 447.1,310.2 446.5,310.1 C445.8,310.0 445.2,309.8 444.5,309.7 C443.8,309.6 443.0,309.6 442.1,309.6 C441.3,309.5 440.4,309.6 439.6,309.6 C438.7,309.5 437.9,309.5 437.1,309.5 C436.3,309.4 435.6,309.3 434.9,309.2 C434.2,309.0 433.7,308.8 433.1,308.6 C432.5,308.4 432.0,308.2 431.4,308.0 C430.8,307.8 430.1,307.7 429.5,307.6 C428.8,307.4 428.0,307.3 427.2,307.3 C426.5,307.2 425.6,307.2 424.9,307.1 C424.1,307.0 423.2,307.2 422.6,306.8 C422.0,306.5 421.6,305.6 421.2,305.0 C420.8,304.3 420.5,303.7 420.1,303.0 C419.8,302.3 419.5,301.7 419.1,301.0 C418.7,300.4 418.3,299.8 417.8,299.2 C417.3,298.6 416.7,298.1 416.1,297.5 C415.5,297.0 414.6,296.5 414.1,296.0 C413.7,295.4 413.5,294.7 413.3,294.1 C413.0,293.5 412.9,292.8 412.7,292.1 C412.6,291.4 412.6,290.7 412.5,290.0 C412.5,289.3 412.5,288.6 412.4,288.0 C412.3,287.3 412.2,286.6 412.1,285.9 C411.9,285.3 411.6,284.6 411.3,284.0 C411.1,283.4 410.6,282.8 410.4,282.1 C410.2,281.4 410.1,280.8 410.1,280.1Z" fill="none" stroke="#bdbdbd" stroke-width="0.7"/>
<circle cx="430.40" cy="290.30" r="17.60" fill="url(#sg_red_d)"/>
<circle cx="485.00" cy="313.30" r="10.90" fill="url(#sg_green)"/>
<circle cx="507.10" cy="255.30" r="8.60" fill="url(#sg_magenta)"/>
<circle cx="507.10" cy="209.20" r="8.50" fill="url(#sg_yellow)"/>
<circle cx="485.30" cy="238.20" r="4.20" fill="url(#sg_gold)"/>
<circle cx="573.00" cy="278.70" r="2.10" fill="url(#sg_blue)"/>
<circle cx="622.7" cy="213" r="2.9" fill="#f41c1c"/>
<circle cx="639.7" cy="210.5" r="5.4" fill="#f41c1c"/>
<circle cx="659.7" cy="208" r="7.7" fill="#f41c1c"/>
<path d="M616,219.6 L668,219.6 L668,218.2 L673,221.3 L668,224.4 L668,223 L616,223 Z" fill="#4cc04a"/>
<text x="611.30" y="223.40" font-size="6.3" text-anchor="middle" font-weight="bold" font-family='"Liberation Serif", serif' fill="#111">0</text>
<text x="678.40" y="223.40" font-size="6.3" text-anchor="middle" font-weight="bold" font-family='"Liberation Serif", serif' fill="#111">10</text>
<text x="643.40" y="232.60" font-size="5.75" text-anchor="middle" font-weight="bold" font-family='"Liberation Serif", serif' fill="#222">Positive Brain Area</text>
<circle cx="619.40" cy="259.60" r="3.70" fill="url(#sg_red)"/>
<text x="630.00" y="261.00" font-size="4.5" font-weight="bold" font-family='"Liberation Serif", serif' fill="#222">Frontal.lobe</text>
<circle cx="619.40" cy="272.60" r="3.70" fill="url(#sg_yellow)"/>
<text x="630.00" y="274.00" font-size="4.5" font-weight="bold" font-family='"Liberation Serif", serif' fill="#222">Parietal.lobe</text>
<circle cx="619.40" cy="285.60" r="3.70" fill="url(#sg_green)"/>
<text x="630.00" y="287.00" font-size="4.5" font-weight="bold" font-family='"Liberation Serif", serif' fill="#222">Temporal.lobe</text>
<circle cx="619.40" cy="299.10" r="3.70" fill="url(#sg_blue)"/>
<text x="630.00" y="300.50" font-size="4.5" font-weight="bold" font-family='"Liberation Serif", serif' fill="#222">Occipital.lobe</text>
<circle cx="619.40" cy="311.90" r="3.70" fill="url(#sg_magenta)"/>
<text x="630.00" y="313.30" font-size="4.5" font-weight="bold" font-family='"Liberation Serif", serif' fill="#222">Insular.lobe</text>
<circle cx="619.40" cy="325.00" r="3.70" fill="url(#sg_gold)"/>
<text x="630.00" y="326.40" font-size="4.5" font-weight="bold" font-family='"Liberation Serif", serif' fill="#222">Cingulate.gyrus</text>
<text x="386.60" y="530.20" font-size="24.5" font-family='"Liberation Serif", serif' fill="#000">g</text>
<path d="M497.0,640.0 C498.0,638.4 507.5,637.5 512.0,637.5 C516.5,637.5 521.3,637.9 524.0,640.0 C526.7,642.1 526.8,646.3 528.0,650.0 C529.2,653.7 530.6,658.5 531.0,662.0 C531.4,665.5 531.2,668.9 530.5,671.0 C529.8,673.1 528.6,673.9 527.0,674.5 C525.4,675.1 522.7,675.8 521.0,674.5 C519.3,673.2 518.3,670.1 517.0,667.0 C515.7,663.9 514.8,659.3 513.0,656.0 C511.2,652.7 508.7,649.7 506.0,647.0 C503.3,644.3 496.0,641.6 497.0,640.0Z" fill="#dadada" stroke="#bbbbbb" stroke-width="0.6"/>
<path d="M521.0,638.0 C522.7,634.7 527.5,629.8 532.0,627.0 C536.5,624.2 542.8,622.0 548.0,621.0 C553.2,620.0 559.0,620.0 563.0,621.0 C567.0,622.0 571.0,623.8 572.0,627.0 C573.0,630.2 571.3,636.0 569.0,640.0 C566.7,644.0 562.5,648.6 558.0,651.0 C553.5,653.4 546.7,654.1 542.0,654.5 C537.3,654.9 533.3,654.8 530.0,653.5 C526.7,652.2 523.5,649.6 522.0,647.0 C520.5,644.4 519.3,641.3 521.0,638.0Z" fill="#dedede" stroke="#b8b8b8" stroke-width="0.6"/>
<g fill="none" stroke="#c0c0c0" stroke-width="0.8">
<path d="M527,642.0 C540,634.0 556,632.0 569,635.0"/>
<path d="M527,644.5 C540,639.0 556,636.0 569,637.0"/>
<path d="M527,647.0 C540,644.0 556,640.0 569,639.0"/>
<path d="M527,649.5 C540,649.0 556,644.0 569,641.0"/>
</g>
<clipPath id="clipg"><path d="M398.8,603.1 C398.6,602.5 398.9,601.7 399.1,601.0 C399.2,600.2 399.4,599.5 399.5,598.8 C399.7,598.0 399.9,597.3 400.0,596.6 C400.1,595.8 400.2,595.1 400.2,594.4 C400.3,593.7 400.2,593.0 400.2,592.3 C400.1,591.6 400.0,590.9 400.0,590.2 C400.0,589.5 399.9,588.7 400.1,588.0 C400.2,587.3 400.5,586.6 400.8,585.9 C401.1,585.1 401.5,584.4 401.8,583.7 C402.1,583.0 402.5,582.3 402.7,581.6 C403.0,580.9 403.1,580.2 403.3,579.5 C403.4,578.7 403.4,578.0 403.4,577.3 C403.5,576.6 403.4,575.9 403.5,575.1 C403.5,574.4 403.5,573.6 403.7,573.0 C403.8,572.3 404.2,571.7 404.6,571.1 C404.9,570.5 405.3,569.9 405.7,569.3 C406.1,568.7 406.5,568.1 406.8,567.5 C407.1,566.9 407.4,566.2 407.6,565.6 C407.8,565.0 407.9,564.3 408.1,563.7 C408.3,563.0 408.4,562.4 408.6,561.7 C408.8,561.1 408.9,560.4 409.3,559.8 C409.6,559.2 410.2,558.5 410.7,557.9 C411.2,557.3 411.8,556.7 412.4,556.1 C412.9,555.5 413.5,554.9 414.0,554.3 C414.5,553.6 414.9,553.0 415.3,552.3 C415.7,551.7 415.9,551.0 416.2,550.3 C416.6,549.6 416.7,548.8 417.1,548.2 C417.5,547.6 418.0,547.2 418.5,546.7 C419.0,546.2 419.6,545.7 420.2,545.3 C420.8,544.8 421.5,544.4 422.1,544.0 C422.7,543.5 423.3,543.1 423.8,542.6 C424.4,542.2 424.8,541.7 425.3,541.1 C425.7,540.6 426.1,540.0 426.5,539.5 C426.8,538.9 427.1,538.2 427.6,537.7 C428.0,537.2 428.6,536.9 429.2,536.6 C429.7,536.2 430.4,535.9 431.1,535.6 C431.7,535.4 432.5,535.1 433.2,534.9 C433.9,534.6 434.6,534.4 435.2,534.1 C435.9,533.8 436.5,533.5 437.1,533.2 C437.6,532.8 438.2,532.4 438.7,532.0 C439.2,531.6 439.7,531.2 440.2,530.8 C440.8,530.4 441.4,530.1 442.0,529.8 C442.6,529.5 443.2,529.2 444.0,529.0 C444.7,528.7 445.5,528.5 446.3,528.3 C447.0,528.1 447.8,527.9 448.5,527.6 C449.2,527.3 449.8,526.9 450.5,526.6 C451.1,526.2 451.6,525.7 452.2,525.3 C452.8,524.8 453.3,524.3 453.9,523.9 C454.5,523.4 455.1,523.0 455.7,522.6 C456.4,522.3 457.1,522.0 457.8,521.7 C458.5,521.4 459.2,521.1 460.0,520.9 C460.7,520.8 461.4,520.8 462.1,520.6 C462.8,520.5 463.4,520.3 464.0,520.1 C464.7,519.9 465.3,519.6 465.9,519.3 C466.5,519.0 467.1,518.7 467.8,518.5 C468.4,518.2 469.1,518.0 469.8,517.9 C470.4,517.7 471.2,517.7 471.9,517.7 C472.6,517.6 473.3,517.7 474.1,517.7 C474.8,517.6 475.5,517.7 476.2,517.6 C476.9,517.5 477.5,517.3 478.2,517.1 C478.8,517.0 479.4,516.8 480.1,516.6 C480.7,516.3 481.4,516.1 482.0,515.9 C482.6,515.7 483.3,515.5 484.0,515.4 C484.6,515.3 485.3,515.2 486.0,515.2 C486.7,515.2 487.4,515.2 488.0,515.2 C488.7,515.2 489.4,515.2 490.0,515.1 C490.7,515.0 491.4,514.8 492.0,514.6 C492.7,514.4 493.3,514.1 494.0,513.9 C494.7,513.7 495.3,513.5 496.0,513.3 C496.7,513.2 497.4,513.1 498.0,513.1 C498.7,513.0 499.4,513.1 500.0,513.2 C500.7,513.3 501.4,513.5 502.0,513.6 C502.7,513.7 503.3,513.9 504.0,513.9 C504.6,514.0 505.3,514.0 505.9,513.9 C506.6,513.9 507.3,513.7 508.0,513.6 C508.7,513.5 509.4,513.5 510.0,513.5 C510.7,513.6 511.4,513.6 512.1,513.7 C512.7,513.8 513.4,514.0 514.0,514.2 C514.6,514.4 515.2,514.6 515.9,514.8 C516.5,515.0 517.1,515.2 517.8,515.3 C518.4,515.4 519.1,515.4 519.8,515.4 C520.5,515.4 521.2,515.1 521.9,515.2 C522.7,515.2 523.4,515.5 524.2,515.7 C524.9,515.9 525.6,516.1 526.3,516.4 C527.0,516.7 527.6,517.1 528.3,517.5 C528.9,517.9 529.5,518.3 530.2,518.7 C530.8,519.2 531.4,519.6 532.1,519.9 C532.7,520.3 533.4,520.6 534.1,520.9 C534.8,521.1 535.6,521.3 536.3,521.6 C537.0,521.8 537.9,522.0 538.5,522.3 C539.2,522.6 539.7,523.0 540.2,523.4 C540.8,523.9 541.2,524.4 541.7,524.9 C542.2,525.4 542.6,526.0 543.0,526.5 C543.5,527.0 544.0,527.5 544.5,528.0 C545.0,528.4 545.5,528.8 546.1,529.1 C546.7,529.5 547.4,529.8 548.1,530.1 C548.7,530.4 549.5,530.6 550.0,531.0 C550.6,531.3 551.1,531.8 551.6,532.3 C552.0,532.8 552.4,533.4 552.8,533.9 C553.2,534.5 553.6,535.1 554.0,535.6 C554.4,536.2 554.8,536.7 555.2,537.2 C555.7,537.7 556.2,538.2 556.7,538.6 C557.3,539.1 557.9,539.4 558.5,539.9 C559.0,540.3 559.7,540.7 560.2,541.1 C560.7,541.6 561.2,542.1 561.7,542.6 C562.1,543.1 562.5,543.7 562.8,544.3 C563.2,544.8 563.4,545.4 563.7,546.0 C564.1,546.6 564.4,547.1 564.8,547.7 C565.2,548.2 565.6,548.7 566.1,549.2 C566.6,549.7 567.2,550.1 567.7,550.6 C568.3,551.0 568.8,551.5 569.4,552.0 C569.9,552.4 570.4,552.9 570.8,553.4 C571.2,554.0 571.6,554.5 571.9,555.0 C572.2,555.6 572.4,556.2 572.7,556.8 C573.0,557.4 573.3,558.0 573.7,558.5 C574.0,559.1 574.5,559.6 575.0,560.1 C575.5,560.6 576.1,561.1 576.6,561.7 C577.2,562.2 577.8,562.7 578.3,563.2 C578.8,563.7 579.2,564.3 579.6,564.8 C580.0,565.4 580.3,566.0 580.6,566.5 C580.9,567.1 581.2,567.7 581.4,568.3 C581.7,568.9 581.9,569.5 582.2,570.1 C582.5,570.7 582.9,571.3 583.3,571.9 C583.6,572.5 584.1,573.0 584.6,573.6 C585.0,574.2 585.5,574.8 585.9,575.4 C586.3,576.0 586.6,576.6 586.9,577.2 C587.2,577.8 587.4,578.4 587.6,579.0 C587.7,579.6 587.6,580.3 587.7,581.0 C587.8,581.7 587.9,582.3 588.0,583.0 C588.2,583.7 588.5,584.3 588.8,585.0 C589.1,585.6 589.5,586.3 589.8,587.0 C590.2,587.7 590.6,588.3 590.9,589.0 C591.2,589.7 591.6,590.4 591.7,591.0 C591.8,591.7 591.6,592.4 591.4,593.0 C591.3,593.7 591.1,594.3 591.0,595.0 C590.9,595.6 590.7,596.3 590.7,597.0 C590.6,597.6 590.7,598.3 590.7,599.0 C590.8,599.7 590.9,600.4 591.0,601.1 C591.0,601.8 591.2,602.4 591.2,603.1 C591.1,603.8 591.0,604.6 590.8,605.2 C590.6,605.9 590.3,606.6 590.1,607.2 C589.8,607.9 589.4,608.5 589.2,609.2 C588.9,609.8 588.7,610.5 588.4,611.1 C588.1,611.8 587.5,612.3 587.1,612.8 C586.8,613.4 586.5,614.0 586.1,614.6 C585.8,615.2 585.5,615.8 585.2,616.4 C584.8,617.0 584.4,617.6 584.0,618.2 C583.5,618.7 583.0,619.2 582.5,619.8 C582.0,620.3 581.5,620.9 580.9,621.3 C580.3,621.7 579.5,621.8 578.9,622.1 C578.3,622.4 577.8,622.8 577.2,623.1 C576.7,623.5 576.3,623.9 575.8,624.3 C575.4,624.6 574.9,625.0 574.4,625.4 C573.9,625.7 573.3,626.3 572.6,626.4 C572.0,626.4 571.2,625.9 570.4,625.6 C569.7,625.3 568.8,625.0 568.1,624.7 C567.3,624.4 566.5,624.1 565.8,623.9 C565.1,623.6 564.5,623.4 563.8,623.2 C563.2,623.0 562.7,622.9 562.1,622.7 C561.5,622.5 560.9,622.3 560.3,622.2 C559.7,622.1 559.0,622.2 558.3,622.2 C557.5,622.2 556.7,622.2 555.9,622.1 C555.2,622.0 554.3,622.0 553.5,621.9 C552.8,621.9 552.0,621.8 551.4,621.8 C550.7,621.8 550.1,621.9 549.5,622.0 C548.9,622.1 548.4,622.2 547.9,622.3 C547.3,622.4 546.8,622.5 546.2,622.7 C545.6,622.8 545.0,623.0 544.3,623.1 C543.7,623.3 542.9,623.3 542.2,623.4 C541.5,623.5 540.7,623.5 540.0,623.5 C539.2,623.6 538.5,623.7 537.9,623.8 C537.2,623.9 536.6,624.1 536.0,624.3 C535.4,624.5 534.8,624.7 534.2,624.9 C533.7,625.1 533.0,625.2 532.4,625.5 C531.8,625.8 531.3,626.2 530.6,626.5 C530.0,626.8 529.3,627.0 528.6,627.2 C528.0,627.4 527.2,627.5 526.6,627.7 C525.9,628.0 525.3,628.2 524.7,628.5 C524.1,628.8 523.5,629.1 523.0,629.5 C522.4,629.9 521.9,630.3 521.4,630.8 C520.9,631.2 520.3,631.7 519.8,632.1 C519.2,632.5 518.7,632.8 518.1,633.1 C517.5,633.5 516.8,633.8 516.1,634.1 C515.5,634.4 514.8,634.6 514.2,634.9 C513.5,635.2 512.9,635.6 512.3,636.0 C511.7,636.4 511.1,636.9 510.5,637.4 C509.9,637.9 509.4,638.5 508.8,639.0 C508.2,639.5 507.6,640.1 507.0,640.5 C506.4,641.0 505.8,641.5 505.1,641.8 C504.5,642.0 503.8,642.1 503.2,642.2 C502.5,642.3 501.9,642.4 501.2,642.5 C500.6,642.6 500.0,642.7 499.4,642.9 C498.7,643.2 498.1,643.4 497.5,643.7 C496.9,644.0 496.2,644.4 495.6,644.8 C495.0,645.1 494.4,645.5 493.7,645.8 C493.1,646.0 492.5,646.3 491.9,646.4 C491.2,646.6 490.6,646.8 490.0,646.8 C489.4,646.8 488.7,646.6 488.1,646.6 C487.4,646.5 486.8,646.5 486.1,646.5 C485.4,646.6 484.8,646.7 484.1,646.9 C483.4,647.1 482.7,647.3 482.0,647.5 C481.3,647.7 480.6,648.0 479.9,648.1 C479.2,648.3 478.5,648.4 477.9,648.4 C477.2,648.4 476.5,648.5 475.9,648.3 C475.3,648.1 474.6,647.6 474.0,647.3 C473.4,647.0 472.7,646.7 472.1,646.4 C471.4,646.2 470.7,646.0 470.0,645.9 C469.3,645.7 468.6,645.6 467.9,645.5 C467.2,645.3 466.4,645.2 465.7,645.0 C465.1,644.7 464.4,644.5 463.8,644.2 C463.1,643.8 462.5,643.6 462.0,643.1 C461.5,642.5 461.2,641.7 460.8,641.0 C460.4,640.4 460.0,639.7 459.6,639.2 C459.1,638.6 458.7,638.2 458.1,637.7 C457.6,637.2 457.1,636.9 456.5,636.4 C456.0,636.0 455.3,635.7 454.9,635.1 C454.5,634.6 454.3,633.9 454.1,633.2 C453.9,632.5 453.7,631.7 453.5,631.0 C453.3,630.3 453.2,629.5 453.0,628.8 C452.7,628.1 452.7,627.1 452.3,626.7 C451.8,626.4 450.8,626.7 450.1,626.8 C449.3,626.8 448.5,626.9 447.7,626.9 C446.9,627.0 446.2,627.0 445.4,627.0 C444.7,627.0 444.1,626.9 443.4,626.8 C442.8,626.7 442.3,626.5 441.7,626.4 C441.2,626.2 440.7,626.0 440.1,625.9 C439.5,625.8 438.9,625.8 438.2,625.7 C437.5,625.7 436.8,625.8 436.0,625.8 C435.2,625.8 434.4,625.9 433.6,626.0 C432.8,626.0 432.0,626.1 431.3,626.1 C430.5,626.1 429.8,626.1 429.2,626.1 C428.5,626.0 427.9,625.9 427.3,625.9 C426.7,625.8 426.2,625.8 425.5,625.7 C424.9,625.6 424.2,625.2 423.5,625.1 C422.7,624.9 421.9,624.8 421.1,624.7 C420.2,624.5 419.3,624.5 418.5,624.3 C417.6,624.2 416.7,624.1 415.9,624.0 C415.1,623.8 414.4,623.6 413.7,623.4 C413.0,623.2 412.4,623.0 411.8,622.7 C411.2,622.5 410.5,622.4 410.0,622.0 C409.5,621.6 409.2,620.9 408.7,620.3 C408.2,619.8 407.6,619.3 407.0,618.8 C406.5,618.3 405.8,617.8 405.2,617.3 C404.6,616.8 404.0,616.3 403.5,615.8 C403.0,615.2 402.4,614.8 402.2,614.1 C401.9,613.4 402.0,612.6 402.0,611.8 C401.9,611.0 401.9,610.2 401.9,609.4 C401.8,608.7 401.7,607.9 401.5,607.2 C401.3,606.5 401.1,605.7 400.7,605.1 C400.2,604.4 399.1,603.8 398.8,603.1Z"/></clipPath>
<radialGradient id="gg" cx="0.5" cy="0.45" r="0.6"><stop offset="0" stop-color="#bababa"/><stop offset="0.8" stop-color="#bfbfbf"/><stop offset="1" stop-color="#cfcfcf"/></radialGradient>
<path d="M398.8,603.1 C398.6,602.5 398.9,601.7 399.1,601.0 C399.2,600.2 399.4,599.5 399.5,598.8 C399.7,598.0 399.9,597.3 400.0,596.6 C400.1,595.8 400.2,595.1 400.2,594.4 C400.3,593.7 400.2,593.0 400.2,592.3 C400.1,591.6 400.0,590.9 400.0,590.2 C400.0,589.5 399.9,588.7 400.1,588.0 C400.2,587.3 400.5,586.6 400.8,585.9 C401.1,585.1 401.5,584.4 401.8,583.7 C402.1,583.0 402.5,582.3 402.7,581.6 C403.0,580.9 403.1,580.2 403.3,579.5 C403.4,578.7 403.4,578.0 403.4,577.3 C403.5,576.6 403.4,575.9 403.5,575.1 C403.5,574.4 403.5,573.6 403.7,573.0 C403.8,572.3 404.2,571.7 404.6,571.1 C404.9,570.5 405.3,569.9 405.7,569.3 C406.1,568.7 406.5,568.1 406.8,567.5 C407.1,566.9 407.4,566.2 407.6,565.6 C407.8,565.0 407.9,564.3 408.1,563.7 C408.3,563.0 408.4,562.4 408.6,561.7 C408.8,561.1 408.9,560.4 409.3,559.8 C409.6,559.2 410.2,558.5 410.7,557.9 C411.2,557.3 411.8,556.7 412.4,556.1 C412.9,555.5 413.5,554.9 414.0,554.3 C414.5,553.6 414.9,553.0 415.3,552.3 C415.7,551.7 415.9,551.0 416.2,550.3 C416.6,549.6 416.7,548.8 417.1,548.2 C417.5,547.6 418.0,547.2 418.5,546.7 C419.0,546.2 419.6,545.7 420.2,545.3 C420.8,544.8 421.5,544.4 422.1,544.0 C422.7,543.5 423.3,543.1 423.8,542.6 C424.4,542.2 424.8,541.7 425.3,541.1 C425.7,540.6 426.1,540.0 426.5,539.5 C426.8,538.9 427.1,538.2 427.6,537.7 C428.0,537.2 428.6,536.9 429.2,536.6 C429.7,536.2 430.4,535.9 431.1,535.6 C431.7,535.4 432.5,535.1 433.2,534.9 C433.9,534.6 434.6,534.4 435.2,534.1 C435.9,533.8 436.5,533.5 437.1,533.2 C437.6,532.8 438.2,532.4 438.7,532.0 C439.2,531.6 439.7,531.2 440.2,530.8 C440.8,530.4 441.4,530.1 442.0,529.8 C442.6,529.5 443.2,529.2 444.0,529.0 C444.7,528.7 445.5,528.5 446.3,528.3 C447.0,528.1 447.8,527.9 448.5,527.6 C449.2,527.3 449.8,526.9 450.5,526.6 C451.1,526.2 451.6,525.7 452.2,525.3 C452.8,524.8 453.3,524.3 453.9,523.9 C454.5,523.4 455.1,523.0 455.7,522.6 C456.4,522.3 457.1,522.0 457.8,521.7 C458.5,521.4 459.2,521.1 460.0,520.9 C460.7,520.8 461.4,520.8 462.1,520.6 C462.8,520.5 463.4,520.3 464.0,520.1 C464.7,519.9 465.3,519.6 465.9,519.3 C466.5,519.0 467.1,518.7 467.8,518.5 C468.4,518.2 469.1,518.0 469.8,517.9 C470.4,517.7 471.2,517.7 471.9,517.7 C472.6,517.6 473.3,517.7 474.1,517.7 C474.8,517.6 475.5,517.7 476.2,517.6 C476.9,517.5 477.5,517.3 478.2,517.1 C478.8,517.0 479.4,516.8 480.1,516.6 C480.7,516.3 481.4,516.1 482.0,515.9 C482.6,515.7 483.3,515.5 484.0,515.4 C484.6,515.3 485.3,515.2 486.0,515.2 C486.7,515.2 487.4,515.2 488.0,515.2 C488.7,515.2 489.4,515.2 490.0,515.1 C490.7,515.0 491.4,514.8 492.0,514.6 C492.7,514.4 493.3,514.1 494.0,513.9 C494.7,513.7 495.3,513.5 496.0,513.3 C496.7,513.2 497.4,513.1 498.0,513.1 C498.7,513.0 499.4,513.1 500.0,513.2 C500.7,513.3 501.4,513.5 502.0,513.6 C502.7,513.7 503.3,513.9 504.0,513.9 C504.6,514.0 505.3,514.0 505.9,513.9 C506.6,513.9 507.3,513.7 508.0,513.6 C508.7,513.5 509.4,513.5 510.0,513.5 C510.7,513.6 511.4,513.6 512.1,513.7 C512.7,513.8 513.4,514.0 514.0,514.2 C514.6,514.4 515.2,514.6 515.9,514.8 C516.5,515.0 517.1,515.2 517.8,515.3 C518.4,515.4 519.1,515.4 519.8,515.4 C520.5,515.4 521.2,515.1 521.9,515.2 C522.7,515.2 523.4,515.5 524.2,515.7 C524.9,515.9 525.6,516.1 526.3,516.4 C527.0,516.7 527.6,517.1 528.3,517.5 C528.9,517.9 529.5,518.3 530.2,518.7 C530.8,519.2 531.4,519.6 532.1,519.9 C532.7,520.3 533.4,520.6 534.1,520.9 C534.8,521.1 535.6,521.3 536.3,521.6 C537.0,521.8 537.9,522.0 538.5,522.3 C539.2,522.6 539.7,523.0 540.2,523.4 C540.8,523.9 541.2,524.4 541.7,524.9 C542.2,525.4 542.6,526.0 543.0,526.5 C543.5,527.0 544.0,527.5 544.5,528.0 C545.0,528.4 545.5,528.8 546.1,529.1 C546.7,529.5 547.4,529.8 548.1,530.1 C548.7,530.4 549.5,530.6 550.0,531.0 C550.6,531.3 551.1,531.8 551.6,532.3 C552.0,532.8 552.4,533.4 552.8,533.9 C553.2,534.5 553.6,535.1 554.0,535.6 C554.4,536.2 554.8,536.7 555.2,537.2 C555.7,537.7 556.2,538.2 556.7,538.6 C557.3,539.1 557.9,539.4 558.5,539.9 C559.0,540.3 559.7,540.7 560.2,541.1 C560.7,541.6 561.2,542.1 561.7,542.6 C562.1,543.1 562.5,543.7 562.8,544.3 C563.2,544.8 563.4,545.4 563.7,546.0 C564.1,546.6 564.4,547.1 564.8,547.7 C565.2,548.2 565.6,548.7 566.1,549.2 C566.6,549.7 567.2,550.1 567.7,550.6 C568.3,551.0 568.8,551.5 569.4,552.0 C569.9,552.4 570.4,552.9 570.8,553.4 C571.2,554.0 571.6,554.5 571.9,555.0 C572.2,555.6 572.4,556.2 572.7,556.8 C573.0,557.4 573.3,558.0 573.7,558.5 C574.0,559.1 574.5,559.6 575.0,560.1 C575.5,560.6 576.1,561.1 576.6,561.7 C577.2,562.2 577.8,562.7 578.3,563.2 C578.8,563.7 579.2,564.3 579.6,564.8 C580.0,565.4 580.3,566.0 580.6,566.5 C580.9,567.1 581.2,567.7 581.4,568.3 C581.7,568.9 581.9,569.5 582.2,570.1 C582.5,570.7 582.9,571.3 583.3,571.9 C583.6,572.5 584.1,573.0 584.6,573.6 C585.0,574.2 585.5,574.8 585.9,575.4 C586.3,576.0 586.6,576.6 586.9,577.2 C587.2,577.8 587.4,578.4 587.6,579.0 C587.7,579.6 587.6,580.3 587.7,581.0 C587.8,581.7 587.9,582.3 588.0,583.0 C588.2,583.7 588.5,584.3 588.8,585.0 C589.1,585.6 589.5,586.3 589.8,587.0 C590.2,587.7 590.6,588.3 590.9,589.0 C591.2,589.7 591.6,590.4 591.7,591.0 C591.8,591.7 591.6,592.4 591.4,593.0 C591.3,593.7 591.1,594.3 591.0,595.0 C590.9,595.6 590.7,596.3 590.7,597.0 C590.6,597.6 590.7,598.3 590.7,599.0 C590.8,599.7 590.9,600.4 591.0,601.1 C591.0,601.8 591.2,602.4 591.2,603.1 C591.1,603.8 591.0,604.6 590.8,605.2 C590.6,605.9 590.3,606.6 590.1,607.2 C589.8,607.9 589.4,608.5 589.2,609.2 C588.9,609.8 588.7,610.5 588.4,611.1 C588.1,611.8 587.5,612.3 587.1,612.8 C586.8,613.4 586.5,614.0 586.1,614.6 C585.8,615.2 585.5,615.8 585.2,616.4 C584.8,617.0 584.4,617.6 584.0,618.2 C583.5,618.7 583.0,619.2 582.5,619.8 C582.0,620.3 581.5,620.9 580.9,621.3 C580.3,621.7 579.5,621.8 578.9,622.1 C578.3,622.4 577.8,622.8 577.2,623.1 C576.7,623.5 576.3,623.9 575.8,624.3 C575.4,624.6 574.9,625.0 574.4,625.4 C573.9,625.7 573.3,626.3 572.6,626.4 C572.0,626.4 571.2,625.9 570.4,625.6 C569.7,625.3 568.8,625.0 568.1,624.7 C567.3,624.4 566.5,624.1 565.8,623.9 C565.1,623.6 564.5,623.4 563.8,623.2 C563.2,623.0 562.7,622.9 562.1,622.7 C561.5,622.5 560.9,622.3 560.3,622.2 C559.7,622.1 559.0,622.2 558.3,622.2 C557.5,622.2 556.7,622.2 555.9,622.1 C555.2,622.0 554.3,622.0 553.5,621.9 C552.8,621.9 552.0,621.8 551.4,621.8 C550.7,621.8 550.1,621.9 549.5,622.0 C548.9,622.1 548.4,622.2 547.9,622.3 C547.3,622.4 546.8,622.5 546.2,622.7 C545.6,622.8 545.0,623.0 544.3,623.1 C543.7,623.3 542.9,623.3 542.2,623.4 C541.5,623.5 540.7,623.5 540.0,623.5 C539.2,623.6 538.5,623.7 537.9,623.8 C537.2,623.9 536.6,624.1 536.0,624.3 C535.4,624.5 534.8,624.7 534.2,624.9 C533.7,625.1 533.0,625.2 532.4,625.5 C531.8,625.8 531.3,626.2 530.6,626.5 C530.0,626.8 529.3,627.0 528.6,627.2 C528.0,627.4 527.2,627.5 526.6,627.7 C525.9,628.0 525.3,628.2 524.7,628.5 C524.1,628.8 523.5,629.1 523.0,629.5 C522.4,629.9 521.9,630.3 521.4,630.8 C520.9,631.2 520.3,631.7 519.8,632.1 C519.2,632.5 518.7,632.8 518.1,633.1 C517.5,633.5 516.8,633.8 516.1,634.1 C515.5,634.4 514.8,634.6 514.2,634.9 C513.5,635.2 512.9,635.6 512.3,636.0 C511.7,636.4 511.1,636.9 510.5,637.4 C509.9,637.9 509.4,638.5 508.8,639.0 C508.2,639.5 507.6,640.1 507.0,640.5 C506.4,641.0 505.8,641.5 505.1,641.8 C504.5,642.0 503.8,642.1 503.2,642.2 C502.5,642.3 501.9,642.4 501.2,642.5 C500.6,642.6 500.0,642.7 499.4,642.9 C498.7,643.2 498.1,643.4 497.5,643.7 C496.9,644.0 496.2,644.4 495.6,644.8 C495.0,645.1 494.4,645.5 493.7,645.8 C493.1,646.0 492.5,646.3 491.9,646.4 C491.2,646.6 490.6,646.8 490.0,646.8 C489.4,646.8 488.7,646.6 488.1,646.6 C487.4,646.5 486.8,646.5 486.1,646.5 C485.4,646.6 484.8,646.7 484.1,646.9 C483.4,647.1 482.7,647.3 482.0,647.5 C481.3,647.7 480.6,648.0 479.9,648.1 C479.2,648.3 478.5,648.4 477.9,648.4 C477.2,648.4 476.5,648.5 475.9,648.3 C475.3,648.1 474.6,647.6 474.0,647.3 C473.4,647.0 472.7,646.7 472.1,646.4 C471.4,646.2 470.7,646.0 470.0,645.9 C469.3,645.7 468.6,645.6 467.9,645.5 C467.2,645.3 466.4,645.2 465.7,645.0 C465.1,644.7 464.4,644.5 463.8,644.2 C463.1,643.8 462.5,643.6 462.0,643.1 C461.5,642.5 461.2,641.7 460.8,641.0 C460.4,640.4 460.0,639.7 459.6,639.2 C459.1,638.6 458.7,638.2 458.1,637.7 C457.6,637.2 457.1,636.9 456.5,636.4 C456.0,636.0 455.3,635.7 454.9,635.1 C454.5,634.6 454.3,633.9 454.1,633.2 C453.9,632.5 453.7,631.7 453.5,631.0 C453.3,630.3 453.2,629.5 453.0,628.8 C452.7,628.1 452.7,627.1 452.3,626.7 C451.8,626.4 450.8,626.7 450.1,626.8 C449.3,626.8 448.5,626.9 447.7,626.9 C446.9,627.0 446.2,627.0 445.4,627.0 C444.7,627.0 444.1,626.9 443.4,626.8 C442.8,626.7 442.3,626.5 441.7,626.4 C441.2,626.2 440.7,626.0 440.1,625.9 C439.5,625.8 438.9,625.8 438.2,625.7 C437.5,625.7 436.8,625.8 436.0,625.8 C435.2,625.8 434.4,625.9 433.6,626.0 C432.8,626.0 432.0,626.1 431.3,626.1 C430.5,626.1 429.8,626.1 429.2,626.1 C428.5,626.0 427.9,625.9 427.3,625.9 C426.7,625.8 426.2,625.8 425.5,625.7 C424.9,625.6 424.2,625.2 423.5,625.1 C422.7,624.9 421.9,624.8 421.1,624.7 C420.2,624.5 419.3,624.5 418.5,624.3 C417.6,624.2 416.7,624.1 415.9,624.0 C415.1,623.8 414.4,623.6 413.7,623.4 C413.0,623.2 412.4,623.0 411.8,622.7 C411.2,622.5 410.5,622.4 410.0,622.0 C409.5,621.6 409.2,620.9 408.7,620.3 C408.2,619.8 407.6,619.3 407.0,618.8 C406.5,618.3 405.8,617.8 405.2,617.3 C404.6,616.8 404.0,616.3 403.5,615.8 C403.0,615.2 402.4,614.8 402.2,614.1 C401.9,613.4 402.0,612.6 402.0,611.8 C401.9,611.0 401.9,610.2 401.9,609.4 C401.8,608.7 401.7,607.9 401.5,607.2 C401.3,606.5 401.1,605.7 400.7,605.1 C400.2,604.4 399.1,603.8 398.8,603.1Z" fill="url(#gg)"/>
<g clip-path="url(#clipg)">
<g filter="url(#blur1)">
<ellipse cx="519.0" cy="613.3" rx="5.4" ry="3.4" transform="rotate(133 519.0 613.3)" fill="#e2e2e2" opacity="0.8"/>
<ellipse cx="488.9" cy="640.4" rx="4.9" ry="3.3" transform="rotate(20 488.9 640.4)" fill="#e2e2e2" opacity="0.8"/>
<ellipse cx="489.5" cy="546.7" rx="4.6" ry="2.8" transform="rotate(2 489.5 546.7)" fill="#a6a6a6" opacity="0.8"/>
<ellipse cx="441.1" cy="551.1" rx="5.7" ry="3.1" transform="rotate(29 441.1 551.1)" fill="#e2e2e2" opacity="0.8"/>
<ellipse cx="518.0" cy="530.5" rx="3.0" ry="3.3" transform="rotate(38 518.0 530.5)" fill="#e2e2e2" opacity="0.8"/>
<ellipse cx="566.9" cy="552.4" rx="5.9" ry="2.7" transform="rotate(122 566.9 552.4)" fill="#a6a6a6" opacity="0.8"/>
<ellipse cx="468.8" cy="535.8" rx="3.4" ry="1.9" transform="rotate(54 468.8 535.8)" fill="#e2e2e2" opacity="0.8"/>
<ellipse cx="529.6" cy="558.9" rx="3.9" ry="3.2" transform="rotate(87 529.6 558.9)" fill="#e2e2e2" opacity="0.8"/>
<ellipse cx="460.1" cy="578.2" rx="5.1" ry="1.9" transform="rotate(176 460.1 578.2)" fill="#a6a6a6" opacity="0.8"/>
<ellipse cx="403.9" cy="614.3" rx="5.5" ry="1.8" transform="rotate(142 403.9 614.3)" fill="#e2e2e2" opacity="0.8"/>
<ellipse cx="469.8" cy="591.3" rx="3.0" ry="1.9" transform="rotate(33 469.8 591.3)" fill="#e2e2e2" opacity="0.8"/>
<ellipse cx="467.6" cy="584.1" rx="5.3" ry="2.0" transform="rotate(135 467.6 584.1)" fill="#a6a6a6" opacity="0.8"/>
<ellipse cx="417.0" cy="559.3" rx="4.8" ry="3.4" transform="rotate(61 417.0 559.3)" fill="#e2e2e2" opacity="0.8"/>
<ellipse cx="576.9" cy="586.8" rx="3.9" ry="2.3" transform="rotate(32 576.9 586.8)" fill="#e2e2e2" opacity="0.8"/>
<ellipse cx="588.8" cy="585.3" rx="4.2" ry="2.2" transform="rotate(107 588.8 585.3)" fill="#a6a6a6" opacity="0.8"/>
<ellipse cx="558.1" cy="574.8" rx="4.3" ry="1.9" transform="rotate(165 558.1 574.8)" fill="#e2e2e2" opacity="0.8"/>
<ellipse cx="405.8" cy="579.9" rx="5.5" ry="2.0" transform="rotate(132 405.8 579.9)" fill="#e2e2e2" opacity="0.8"/>
<ellipse cx="581.8" cy="598.3" rx="5.4" ry="2.0" transform="rotate(78 581.8 598.3)" fill="#a6a6a6" opacity="0.8"/>
<ellipse cx="456.1" cy="574.4" rx="6.0" ry="3.2" transform="rotate(176 456.1 574.4)" fill="#e2e2e2" opacity="0.8"/>
<ellipse cx="486.5" cy="579.2" rx="5.2" ry="2.6" transform="rotate(52 486.5 579.2)" fill="#e2e2e2" opacity="0.8"/>
<ellipse cx="477.0" cy="533.2" rx="4.1" ry="3.5" transform="rotate(173 477.0 533.2)" fill="#a6a6a6" opacity="0.8"/>
<ellipse cx="519.8" cy="580.7" rx="4.0" ry="2.0" transform="rotate(49 519.8 580.7)" fill="#e2e2e2" opacity="0.8"/>
<ellipse cx="468.8" cy="619.2" rx="5.3" ry="3.0" transform="rotate(120 468.8 619.2)" fill="#e2e2e2" opacity="0.8"/>
<ellipse cx="545.3" cy="562.4" rx="5.1" ry="2.3" transform="rotate(87 545.3 562.4)" fill="#a6a6a6" opacity="0.8"/>
<ellipse cx="547.2" cy="606.4" rx="3.9" ry="3.4" transform="rotate(117 547.2 606.4)" fill="#e2e2e2" opacity="0.8"/>
<ellipse cx="510.9" cy="515.1" rx="4.6" ry="2.2" transform="rotate(121 510.9 515.1)" fill="#e2e2e2" opacity="0.8"/>
<ellipse cx="488.3" cy="623.3" rx="4.9" ry="3.2" transform="rotate(63 488.3 623.3)" fill="#a6a6a6" opacity="0.8"/>
<ellipse cx="523.1" cy="612.7" rx="5.5" ry="2.4" transform="rotate(152 523.1 612.7)" fill="#e2e2e2" opacity="0.8"/>
<ellipse cx="566.4" cy="606.1" rx="5.9" ry="3.4" transform="rotate(93 566.4 606.1)" fill="#e2e2e2" opacity="0.8"/>
<ellipse cx="501.1" cy="535.9" rx="5.5" ry="3.4" transform="rotate(86 501.1 535.9)" fill="#a6a6a6" opacity="0.8"/>
<ellipse cx="532.2" cy="610.3" rx="5.2" ry="2.1" transform="rotate(140 532.2 610.3)" fill="#e2e2e2" opacity="0.8"/>
<ellipse cx="511.0" cy="603.0" rx="4.3" ry="2.9" transform="rotate(139 511.0 603.0)" fill="#e2e2e2" opacity="0.8"/>
<ellipse cx="521.7" cy="610.4" rx="3.1" ry="2.1" transform="rotate(79 521.7 610.4)" fill="#a6a6a6" opacity="0.8"/>
<ellipse cx="524.3" cy="543.0" rx="5.1" ry="2.9" transform="rotate(8 524.3 543.0)" fill="#e2e2e2" opacity="0.8"/>
<ellipse cx="490.0" cy="543.9" rx="3.2" ry="2.0" transform="rotate(57 490.0 543.9)" fill="#e2e2e2" opacity="0.8"/>
<ellipse cx="434.3" cy="539.5" rx="3.1" ry="2.6" transform="rotate(68 434.3 539.5)" fill="#a6a6a6" opacity="0.8"/>
<ellipse cx="516.9" cy="592.9" rx="3.7" ry="3.3" transform="rotate(0 516.9 592.9)" fill="#e2e2e2" opacity="0.8"/>
<ellipse cx="477.3" cy="551.0" rx="4.2" ry="2.0" transform="rotate(150 477.3 551.0)" fill="#e2e2e2" opacity="0.8"/>
<ellipse cx="471.2" cy="518.4" rx="4.8" ry="2.0" transform="rotate(98 471.2 518.4)" fill="#a6a6a6" opacity="0.8"/>
<ellipse cx="464.6" cy="591.6" rx="5.9" ry="3.2" transform="rotate(75 464.6 591.6)" fill="#e2e2e2" opacity="0.8"/>
<ellipse cx="555.5" cy="599.9" rx="4.1" ry="2.0" transform="rotate(107 555.5 599.9)" fill="#e2e2e2" opacity="0.8"/>
<ellipse cx="585.3" cy="595.4" rx="4.1" ry="3.3" transform="rotate(0 585.3 595.4)" fill="#a6a6a6" opacity="0.8"/>
<ellipse cx="420.2" cy="589.6" rx="4.8" ry="2.0" transform="rotate(113 420.2 589.6)" fill="#e2e2e2" opacity="0.8"/>
<ellipse cx="570.5" cy="564.1" rx="4.3" ry="2.2" transform="rotate(52 570.5 564.1)" fill="#e2e2e2" opacity="0.8"/>
<ellipse cx="513.8" cy="548.4" rx="5.9" ry="2.6" transform="rotate(75 513.8 548.4)" fill="#a6a6a6" opacity="0.8"/>
<ellipse cx="493.9" cy="552.0" rx="4.4" ry="2.0" transform="rotate(112 493.9 552.0)" fill="#e2e2e2" opacity="0.8"/>
<ellipse cx="484.6" cy="552.9" rx="5.3" ry="3.2" transform="rotate(2 484.6 552.9)" fill="#e2e2e2" opacity="0.8"/>
<ellipse cx="501.7" cy="550.3" rx="5.8" ry="3.1" transform="rotate(44 501.7 550.3)" fill="#a6a6a6" opacity="0.8"/>
<ellipse cx="450.9" cy="534.3" rx="6.0" ry="2.3" transform="rotate(109 450.9 534.3)" fill="#e2e2e2" opacity="0.8"/>
<ellipse cx="490.6" cy="600.2" rx="4.8" ry="3.1" transform="rotate(21 490.6 600.2)" fill="#e2e2e2" opacity="0.8"/>
<ellipse cx="545.4" cy="553.9" rx="4.6" ry="2.4" transform="rotate(53 545.4 553.9)" fill="#a6a6a6" opacity="0.8"/>
<ellipse cx="501.2" cy="576.0" rx="4.1" ry="3.1" transform="rotate(106 501.2 576.0)" fill="#e2e2e2" opacity="0.8"/>
<ellipse cx="486.9" cy="636.8" rx="5.7" ry="2.7" transform="rotate(3 486.9 636.8)" fill="#e2e2e2" opacity="0.8"/>
<ellipse cx="548.9" cy="571.0" rx="4.7" ry="3.0" transform="rotate(114 548.9 571.0)" fill="#a6a6a6" opacity="0.8"/>
<ellipse cx="492.0" cy="636.1" rx="4.2" ry="2.5" transform="rotate(153 492.0 636.1)" fill="#e2e2e2" opacity="0.8"/>
<ellipse cx="437.2" cy="553.4" rx="5.5" ry="1.9" transform="rotate(151 437.2 553.4)" fill="#e2e2e2" opacity="0.8"/>
<ellipse cx="532.8" cy="571.7" rx="3.9" ry="3.1" transform="rotate(164 532.8 571.7)" fill="#a6a6a6" opacity="0.8"/>
<ellipse cx="426.9" cy="577.8" rx="4.6" ry="2.6" transform="rotate(60 426.9 577.8)" fill="#e2e2e2" opacity="0.8"/>
<ellipse cx="429.0" cy="592.3" rx="5.4" ry="1.9" transform="rotate(41 429.0 592.3)" fill="#e2e2e2" opacity="0.8"/>
<ellipse cx="556.8" cy="620.0" rx="5.0" ry="1.8" transform="rotate(130 556.8 620.0)" fill="#a6a6a6" opacity="0.8"/>
<ellipse cx="536.2" cy="531.6" rx="3.9" ry="3.4" transform="rotate(27 536.2 531.6)" fill="#e2e2e2" opacity="0.8"/>
<ellipse cx="516.7" cy="569.2" rx="3.5" ry="2.9" transform="rotate(8 516.7 569.2)" fill="#e2e2e2" opacity="0.8"/>
<ellipse cx="420.3" cy="564.5" rx="3.2" ry="1.9" transform="rotate(104 420.3 564.5)" fill="#a6a6a6" opacity="0.8"/>
<ellipse cx="425.3" cy="571.6" rx="3.9" ry="2.8" transform="rotate(88 425.3 571.6)" fill="#e2e2e2" opacity="0.8"/>
<ellipse cx="410.2" cy="607.3" rx="3.5" ry="2.9" transform="rotate(91 410.2 607.3)" fill="#e2e2e2" opacity="0.8"/>
<ellipse cx="574.2" cy="588.1" rx="4.9" ry="2.2" transform="rotate(99 574.2 588.1)" fill="#a6a6a6" opacity="0.8"/>
<ellipse cx="448.3" cy="614.5" rx="4.6" ry="2.0" transform="rotate(42 448.3 614.5)" fill="#e2e2e2" opacity="0.8"/>
<ellipse cx="470.7" cy="612.6" rx="3.5" ry="3.0" transform="rotate(118 470.7 612.6)" fill="#e2e2e2" opacity="0.8"/>
<ellipse cx="415.9" cy="603.3" rx="3.3" ry="2.0" transform="rotate(107 415.9 603.3)" fill="#a6a6a6" opacity="0.8"/>
<ellipse cx="491.7" cy="557.0" rx="5.4" ry="1.9" transform="rotate(131 491.7 557.0)" fill="#e2e2e2" opacity="0.8"/>
<ellipse cx="582.2" cy="605.1" rx="3.7" ry="2.0" transform="rotate(175 582.2 605.1)" fill="#e2e2e2" opacity="0.8"/>
<ellipse cx="527.1" cy="623.9" rx="3.4" ry="2.9" transform="rotate(64 527.1 623.9)" fill="#a6a6a6" opacity="0.8"/>
<ellipse cx="444.6" cy="558.3" rx="4.8" ry="2.4" transform="rotate(69 444.6 558.3)" fill="#e2e2e2" opacity="0.8"/>
<ellipse cx="425.7" cy="625.3" rx="4.9" ry="3.2" transform="rotate(78 425.7 625.3)" fill="#e2e2e2" opacity="0.8"/>
<ellipse cx="562.9" cy="583.1" rx="4.8" ry="2.8" transform="rotate(133 562.9 583.1)" fill="#a6a6a6" opacity="0.8"/>
<ellipse cx="475.4" cy="526.5" rx="3.1" ry="2.1" transform="rotate(7 475.4 526.5)" fill="#e2e2e2" opacity="0.8"/>
<ellipse cx="570.1" cy="578.2" rx="5.3" ry="1.8" transform="rotate(85 570.1 578.2)" fill="#e2e2e2" opacity="0.8"/>
<ellipse cx="570.2" cy="596.8" rx="4.3" ry="2.6" transform="rotate(18 570.2 596.8)" fill="#a6a6a6" opacity="0.8"/>
<ellipse cx="471.4" cy="565.4" rx="5.6" ry="2.1" transform="rotate(46 471.4 565.4)" fill="#e2e2e2" opacity="0.8"/>
<ellipse cx="452.7" cy="535.2" rx="3.9" ry="2.2" transform="rotate(87 452.7 535.2)" fill="#e2e2e2" opacity="0.8"/>
<ellipse cx="470.3" cy="639.7" rx="5.1" ry="2.9" transform="rotate(85 470.3 639.7)" fill="#a6a6a6" opacity="0.8"/>
<ellipse cx="527.8" cy="552.7" rx="5.0" ry="3.0" transform="rotate(29 527.8 552.7)" fill="#e2e2e2" opacity="0.8"/>
<ellipse cx="476.5" cy="644.4" rx="4.1" ry="2.3" transform="rotate(84 476.5 644.4)" fill="#e2e2e2" opacity="0.8"/>
<ellipse cx="453.8" cy="612.0" rx="5.2" ry="2.1" transform="rotate(43 453.8 612.0)" fill="#a6a6a6" opacity="0.8"/>
<ellipse cx="523.4" cy="571.4" rx="5.9" ry="1.8" transform="rotate(11 523.4 571.4)" fill="#e2e2e2" opacity="0.8"/>
<ellipse cx="549.0" cy="568.7" rx="3.1" ry="2.7" transform="rotate(178 549.0 568.7)" fill="#e2e2e2" opacity="0.8"/>
<ellipse cx="499.1" cy="560.6" rx="3.3" ry="1.9" transform="rotate(162 499.1 560.6)" fill="#a6a6a6" opacity="0.8"/>
<ellipse cx="493.8" cy="639.4" rx="3.2" ry="2.2" transform="rotate(9 493.8 639.4)" fill="#e2e2e2" opacity="0.8"/>
<ellipse cx="475.7" cy="521.6" rx="3.8" ry="2.5" transform="rotate(55 475.7 521.6)" fill="#e2e2e2" opacity="0.8"/>
<ellipse cx="497.1" cy="567.6" rx="4.6" ry="1.9" transform="rotate(56 497.1 567.6)" fill="#a6a6a6" opacity="0.8"/>
<ellipse cx="420.2" cy="586.4" rx="5.8" ry="2.8" transform="rotate(154 420.2 586.4)" fill="#e2e2e2" opacity="0.8"/>
<ellipse cx="503.1" cy="578.9" rx="4.7" ry="2.4" transform="rotate(113 503.1 578.9)" fill="#e2e2e2" opacity="0.8"/>
<ellipse cx="458.5" cy="573.9" rx="5.5" ry="2.2" transform="rotate(21 458.5 573.9)" fill="#a6a6a6" opacity="0.8"/>
<ellipse cx="459.3" cy="525.3" rx="5.3" ry="3.2" transform="rotate(56 459.3 525.3)" fill="#e2e2e2" opacity="0.8"/>
<ellipse cx="481.8" cy="591.1" rx="3.7" ry="1.9" transform="rotate(126 481.8 591.1)" fill="#e2e2e2" opacity="0.8"/>
<ellipse cx="454.4" cy="563.8" rx="3.3" ry="2.5" transform="rotate(57 454.4 563.8)" fill="#a6a6a6" opacity="0.8"/>
<ellipse cx="543.9" cy="588.3" rx="5.7" ry="2.9" transform="rotate(137 543.9 588.3)" fill="#e2e2e2" opacity="0.8"/>
<ellipse cx="509.8" cy="573.0" rx="5.5" ry="2.9" transform="rotate(172 509.8 573.0)" fill="#e2e2e2" opacity="0.8"/>
<ellipse cx="539.2" cy="607.8" rx="3.8" ry="3.2" transform="rotate(69 539.2 607.8)" fill="#a6a6a6" opacity="0.8"/>
<ellipse cx="432.0" cy="548.8" rx="5.0" ry="2.3" transform="rotate(11 432.0 548.8)" fill="#e2e2e2" opacity="0.8"/>
<ellipse cx="546.1" cy="588.4" rx="3.1" ry="1.9" transform="rotate(23 546.1 588.4)" fill="#e2e2e2" opacity="0.8"/>
<ellipse cx="468.0" cy="629.1" rx="5.8" ry="2.8" transform="rotate(42 468.0 629.1)" fill="#a6a6a6" opacity="0.8"/>
<ellipse cx="481.8" cy="562.2" rx="4.0" ry="1.8" transform="rotate(105 481.8 562.2)" fill="#e2e2e2" opacity="0.8"/>
<ellipse cx="558.2" cy="611.3" rx="3.3" ry="2.7" transform="rotate(31 558.2 611.3)" fill="#e2e2e2" opacity="0.8"/>
<ellipse cx="535.6" cy="573.5" rx="5.8" ry="3.2" transform="rotate(21 535.6 573.5)" fill="#a6a6a6" opacity="0.8"/>
<ellipse cx="460.3" cy="636.6" rx="4.4" ry="2.5" transform="rotate(79 460.3 636.6)" fill="#e2e2e2" opacity="0.8"/>
<ellipse cx="513.9" cy="527.4" rx="5.4" ry="2.5" transform="rotate(9 513.9 527.4)" fill="#e2e2e2" opacity="0.8"/>
<ellipse cx="510.2" cy="578.3" rx="5.6" ry="2.5" transform="rotate(39 510.2 578.3)" fill="#a6a6a6" opacity="0.8"/>
<ellipse cx="452.7" cy="540.6" rx="4.7" ry="2.4" transform="rotate(135 452.7 540.6)" fill="#e2e2e2" opacity="0.8"/>
<ellipse cx="445.9" cy="560.8" rx="3.7" ry="3.5" transform="rotate(151 445.9 560.8)" fill="#e2e2e2" opacity="0.8"/>
<ellipse cx="562.6" cy="596.6" rx="4.2" ry="2.0" transform="rotate(150 562.6 596.6)" fill="#a6a6a6" opacity="0.8"/>
<ellipse cx="493.6" cy="518.6" rx="3.5" ry="2.0" transform="rotate(129 493.6 518.6)" fill="#e2e2e2" opacity="0.8"/>
<ellipse cx="552.5" cy="557.1" rx="5.0" ry="3.3" transform="rotate(112 552.5 557.1)" fill="#e2e2e2" opacity="0.8"/>
<ellipse cx="553.1" cy="564.1" rx="3.0" ry="2.7" transform="rotate(106 553.1 564.1)" fill="#a6a6a6" opacity="0.8"/>
<ellipse cx="435.0" cy="565.8" rx="4.0" ry="1.8" transform="rotate(56 435.0 565.8)" fill="#e2e2e2" opacity="0.8"/>
<ellipse cx="473.0" cy="577.5" rx="5.1" ry="2.5" transform="rotate(177 473.0 577.5)" fill="#e2e2e2" opacity="0.8"/>
<ellipse cx="532.4" cy="603.6" rx="4.6" ry="3.2" transform="rotate(65 532.4 603.6)" fill="#a6a6a6" opacity="0.8"/>
<ellipse cx="513.4" cy="604.9" rx="4.6" ry="2.3" transform="rotate(14 513.4 604.9)" fill="#e2e2e2" opacity="0.8"/>
<ellipse cx="416.2" cy="561.4" rx="4.7" ry="3.1" transform="rotate(129 416.2 561.4)" fill="#e2e2e2" opacity="0.8"/>
<ellipse cx="458.4" cy="638.5" rx="3.8" ry="3.0" transform="rotate(13 458.4 638.5)" fill="#a6a6a6" opacity="0.8"/>
<ellipse cx="544.1" cy="603.6" rx="5.9" ry="3.3" transform="rotate(124 544.1 603.6)" fill="#e2e2e2" opacity="0.8"/>
<ellipse cx="560.4" cy="612.8" rx="4.8" ry="2.2" transform="rotate(93 560.4 612.8)" fill="#e2e2e2" opacity="0.8"/>
<ellipse cx="586.5" cy="586.7" rx="4.2" ry="1.8" transform="rotate(70 586.5 586.7)" fill="#a6a6a6" opacity="0.8"/>
<ellipse cx="433.7" cy="601.3" rx="5.7" ry="3.3" transform="rotate(110 433.7 601.3)" fill="#e2e2e2" opacity="0.8"/>
<ellipse cx="473.7" cy="528.1" rx="5.1" ry="2.7" transform="rotate(129 473.7 528.1)" fill="#e2e2e2" opacity="0.8"/>
<ellipse cx="471.3" cy="632.8" rx="3.6" ry="2.3" transform="rotate(48 471.3 632.8)" fill="#a6a6a6" opacity="0.8"/>
<ellipse cx="431.6" cy="598.6" rx="5.3" ry="2.2" transform="rotate(11 431.6 598.6)" fill="#e2e2e2" opacity="0.8"/>
<ellipse cx="508.1" cy="625.2" rx="5.6" ry="3.0" transform="rotate(75 508.1 625.2)" fill="#e2e2e2" opacity="0.8"/>
<ellipse cx="481.1" cy="584.6" rx="5.7" ry="2.3" transform="rotate(51 481.1 584.6)" fill="#a6a6a6" opacity="0.8"/>
<ellipse cx="421.7" cy="589.2" rx="4.8" ry="2.1" transform="rotate(34 421.7 589.2)" fill="#e2e2e2" opacity="0.8"/>
<ellipse cx="513.6" cy="600.4" rx="5.1" ry="3.0" transform="rotate(11 513.6 600.4)" fill="#e2e2e2" opacity="0.8"/>
<ellipse cx="492.5" cy="625.8" rx="5.9" ry="2.3" transform="rotate(153 492.5 625.8)" fill="#a6a6a6" opacity="0.8"/>
<ellipse cx="443.5" cy="607.2" rx="5.5" ry="2.6" transform="rotate(18 443.5 607.2)" fill="#e2e2e2" opacity="0.8"/>
<ellipse cx="436.6" cy="534.6" rx="3.3" ry="2.1" transform="rotate(111 436.6 534.6)" fill="#e2e2e2" opacity="0.8"/>
<ellipse cx="419.6" cy="615.5" rx="5.2" ry="3.2" transform="rotate(145 419.6 615.5)" fill="#a6a6a6" opacity="0.8"/>
<ellipse cx="583.1" cy="597.6" rx="5.9" ry="2.0" transform="rotate(19 583.1 597.6)" fill="#e2e2e2" opacity="0.8"/>
<ellipse cx="471.4" cy="575.2" rx="5.0" ry="3.1" transform="rotate(15 471.4 575.2)" fill="#e2e2e2" opacity="0.8"/>
<ellipse cx="476.9" cy="586.6" rx="4.1" ry="2.0" transform="rotate(107 476.9 586.6)" fill="#a6a6a6" opacity="0.8"/>
<ellipse cx="471.3" cy="605.5" rx="4.5" ry="3.4" transform="rotate(170 471.3 605.5)" fill="#e2e2e2" opacity="0.8"/>
<ellipse cx="413.4" cy="615.7" rx="5.2" ry="2.3" transform="rotate(21 413.4 615.7)" fill="#e2e2e2" opacity="0.8"/>
<ellipse cx="491.4" cy="561.1" rx="5.2" ry="3.4" transform="rotate(69 491.4 561.1)" fill="#a6a6a6" opacity="0.8"/>
<ellipse cx="455.3" cy="580.6" rx="5.1" ry="3.1" transform="rotate(104 455.3 580.6)" fill="#e2e2e2" opacity="0.8"/>
<ellipse cx="456.3" cy="558.8" rx="5.5" ry="2.7" transform="rotate(9 456.3 558.8)" fill="#e2e2e2" opacity="0.8"/>
<ellipse cx="480.2" cy="545.5" rx="5.0" ry="1.9" transform="rotate(49 480.2 545.5)" fill="#a6a6a6" opacity="0.8"/>
<ellipse cx="417.9" cy="577.7" rx="6.0" ry="2.7" transform="rotate(70 417.9 577.7)" fill="#e2e2e2" opacity="0.8"/>
<ellipse cx="467.8" cy="622.5" rx="3.0" ry="3.1" transform="rotate(65 467.8 622.5)" fill="#e2e2e2" opacity="0.8"/>
<ellipse cx="487.4" cy="565.0" rx="4.6" ry="1.9" transform="rotate(39 487.4 565.0)" fill="#a6a6a6" opacity="0.8"/>
<ellipse cx="490.1" cy="525.0" rx="3.8" ry="3.4" transform="rotate(124 490.1 525.0)" fill="#e2e2e2" opacity="0.8"/>
<ellipse cx="496.9" cy="520.6" rx="4.2" ry="3.1" transform="rotate(78 496.9 520.6)" fill="#e2e2e2" opacity="0.8"/>
<ellipse cx="513.4" cy="634.9" rx="4.9" ry="2.9" transform="rotate(6 513.4 634.9)" fill="#a6a6a6" opacity="0.8"/>
<ellipse cx="478.8" cy="631.1" rx="5.5" ry="3.4" transform="rotate(68 478.8 631.1)" fill="#e2e2e2" opacity="0.8"/>
<ellipse cx="549.4" cy="570.3" rx="5.9" ry="3.5" transform="rotate(39 549.4 570.3)" fill="#e2e2e2" opacity="0.8"/>
<ellipse cx="480.4" cy="549.9" rx="4.4" ry="2.3" transform="rotate(120 480.4 549.9)" fill="#a6a6a6" opacity="0.8"/>
<ellipse cx="487.3" cy="523.4" rx="4.1" ry="3.3" transform="rotate(159 487.3 523.4)" fill="#e2e2e2" opacity="0.8"/>
<ellipse cx="514.4" cy="531.8" rx="3.7" ry="3.4" transform="rotate(169 514.4 531.8)" fill="#e2e2e2" opacity="0.8"/>
<ellipse cx="481.8" cy="549.4" rx="5.3" ry="2.4" transform="rotate(140 481.8 549.4)" fill="#a6a6a6" opacity="0.8"/>
<ellipse cx="428.7" cy="583.2" rx="5.9" ry="3.0" transform="rotate(16 428.7 583.2)" fill="#e2e2e2" opacity="0.8"/>
<ellipse cx="420.8" cy="600.1" rx="4.1" ry="2.4" transform="rotate(86 420.8 600.1)" fill="#e2e2e2" opacity="0.8"/>
<ellipse cx="445.7" cy="590.0" rx="3.8" ry="2.7" transform="rotate(132 445.7 590.0)" fill="#a6a6a6" opacity="0.8"/>
<ellipse cx="425.1" cy="578.2" rx="5.1" ry="1.8" transform="rotate(139 425.1 578.2)" fill="#e2e2e2" opacity="0.8"/>
<ellipse cx="479.9" cy="581.3" rx="4.8" ry="3.1" transform="rotate(10 479.9 581.3)" fill="#e2e2e2" opacity="0.8"/>
<ellipse cx="495.6" cy="518.7" rx="4.2" ry="2.4" transform="rotate(4 495.6 518.7)" fill="#a6a6a6" opacity="0.8"/>
<ellipse cx="456.6" cy="574.0" rx="5.0" ry="3.4" transform="rotate(67 456.6 574.0)" fill="#e2e2e2" opacity="0.8"/>
<ellipse cx="501.2" cy="609.4" rx="5.8" ry="3.4" transform="rotate(178 501.2 609.4)" fill="#e2e2e2" opacity="0.8"/>
<ellipse cx="457.4" cy="535.9" rx="5.8" ry="1.9" transform="rotate(81 457.4 535.9)" fill="#a6a6a6" opacity="0.8"/>
<ellipse cx="540.8" cy="584.6" rx="4.2" ry="3.4" transform="rotate(54 540.8 584.6)" fill="#e2e2e2" opacity="0.8"/>
<ellipse cx="505.4" cy="625.1" rx="3.4" ry="2.4" transform="rotate(89 505.4 625.1)" fill="#e2e2e2" opacity="0.8"/>
<ellipse cx="508.1" cy="541.4" rx="4.4" ry="1.9" transform="rotate(16 508.1 541.4)" fill="#a6a6a6" opacity="0.8"/>
<ellipse cx="465.1" cy="532.8" rx="5.9" ry="2.2" transform="rotate(50 465.1 532.8)" fill="#e2e2e2" opacity="0.8"/>
<ellipse cx="549.9" cy="613.2" rx="3.8" ry="3.2" transform="rotate(113 549.9 613.2)" fill="#e2e2e2" opacity="0.8"/>
<ellipse cx="474.1" cy="598.1" rx="3.7" ry="2.2" transform="rotate(158 474.1 598.1)" fill="#a6a6a6" opacity="0.8"/>
<ellipse cx="483.7" cy="634.2" rx="3.5" ry="2.0" transform="rotate(9 483.7 634.2)" fill="#e2e2e2" opacity="0.8"/>
<ellipse cx="541.5" cy="589.0" rx="3.0" ry="1.9" transform="rotate(148 541.5 589.0)" fill="#e2e2e2" opacity="0.8"/>
<ellipse cx="494.4" cy="630.7" rx="3.1" ry="2.8" transform="rotate(21 494.4 630.7)" fill="#a6a6a6" opacity="0.8"/>
<ellipse cx="537.9" cy="595.7" rx="4.8" ry="2.2" transform="rotate(171 537.9 595.7)" fill="#e2e2e2" opacity="0.8"/>
<ellipse cx="530.8" cy="526.0" rx="3.2" ry="2.6" transform="rotate(117 530.8 526.0)" fill="#e2e2e2" opacity="0.8"/>
<ellipse cx="570.7" cy="610.5" rx="3.2" ry="2.9" transform="rotate(152 570.7 610.5)" fill="#a6a6a6" opacity="0.8"/>
<ellipse cx="422.6" cy="615.0" rx="3.8" ry="2.3" transform="rotate(0 422.6 615.0)" fill="#e2e2e2" opacity="0.8"/>
<ellipse cx="545.0" cy="582.9" rx="5.7" ry="2.6" transform="rotate(28 545.0 582.9)" fill="#e2e2e2" opacity="0.8"/>
<ellipse cx="441.0" cy="548.9" rx="5.8" ry="2.1" transform="rotate(16 441.0 548.9)" fill="#a6a6a6" opacity="0.8"/>
<ellipse cx="467.2" cy="524.1" rx="4.3" ry="2.9" transform="rotate(117 467.2 524.1)" fill="#e2e2e2" opacity="0.8"/>
<ellipse cx="493.8" cy="605.9" rx="4.3" ry="2.8" transform="rotate(164 493.8 605.9)" fill="#e2e2e2" opacity="0.8"/>
<ellipse cx="427.3" cy="549.5" rx="4.5" ry="2.7" transform="rotate(162 427.3 549.5)" fill="#a6a6a6" opacity="0.8"/>
<ellipse cx="506.1" cy="602.6" rx="4.3" ry="3.1" transform="rotate(150 506.1 602.6)" fill="#e2e2e2" opacity="0.8"/>
<ellipse cx="455.8" cy="528.0" rx="3.8" ry="2.4" transform="rotate(160 455.8 528.0)" fill="#e2e2e2" opacity="0.8"/>
<ellipse cx="450.3" cy="598.2" rx="4.9" ry="3.4" transform="rotate(21 450.3 598.2)" fill="#a6a6a6" opacity="0.8"/>
<ellipse cx="547.2" cy="558.7" rx="3.3" ry="2.9" transform="rotate(152 547.2 558.7)" fill="#e2e2e2" opacity="0.8"/>
<ellipse cx="511.3" cy="520.2" rx="5.9" ry="2.5" transform="rotate(115 511.3 520.2)" fill="#e2e2e2" opacity="0.8"/>
<ellipse cx="538.4" cy="548.6" rx="4.2" ry="2.4" transform="rotate(17 538.4 548.6)" fill="#a6a6a6" opacity="0.8"/>
<ellipse cx="411.9" cy="609.9" rx="4.2" ry="3.3" transform="rotate(11 411.9 609.9)" fill="#e2e2e2" opacity="0.8"/>
</g>
<g fill="none" stroke-linecap="round" filter="url(#blur05)">
<path d="M457.3,537.7 C458.1,537.9 460.3,539.0 461.7,539.0 C463.1,538.9 464.6,538.1 465.7,537.5 C466.7,536.9 467.0,536.1 467.8,535.3 C468.7,534.5 470.3,533.3 470.8,532.8" stroke="#989898" stroke-width="0.87" opacity="0.75"/>
<path d="M420.2,582.3 C420.7,582.1 422.1,581.1 423.1,580.8 C424.2,580.5 425.9,580.7 426.5,580.6" stroke="#989898" stroke-width="0.87" opacity="0.75"/>
<path d="M502.6,524.8 C503.2,524.6 504.7,524.4 505.8,523.9 C507.0,523.3 508.4,521.9 509.5,521.5 C510.6,521.0 511.2,520.8 512.6,521.3 C514.0,521.7 516.8,523.8 517.7,524.3" stroke="#989898" stroke-width="1.01" opacity="0.75"/>
<path d="M425.2,601.8 C425.7,602.5 427.8,604.7 428.7,605.9 C429.7,607.0 430.5,608.1 430.8,608.6" stroke="#989898" stroke-width="1.49" opacity="0.75"/>
<path d="M488.9,573.1 C489.5,572.9 491.4,572.8 492.5,572.0 C493.7,571.2 494.8,569.5 495.8,568.4 C496.8,567.2 497.5,565.9 498.4,565.1 C499.3,564.2 500.7,563.6 501.2,563.3" stroke="#989898" stroke-width="0.98" opacity="0.75"/>
<path d="M513.9,575.0 C514.4,574.7 516.1,574.4 517.3,573.5 C518.4,572.7 520.1,570.6 520.7,570.0" stroke="#989898" stroke-width="1.55" opacity="0.75"/>
<path d="M537.5,548.1 C536.9,548.7 534.6,550.2 533.9,551.6 C533.1,553.0 533.0,554.8 533.0,556.3 C533.1,557.7 533.1,559.1 533.9,560.2 C534.8,561.4 537.4,562.8 538.1,563.3" stroke="#989898" stroke-width="1.49" opacity="0.75"/>
<path d="M423.0,616.3 C422.5,617.1 421.4,620.0 420.3,621.1 C419.1,622.2 417.6,622.5 416.2,623.1 C414.7,623.7 412.7,623.7 411.5,624.5 C410.4,625.3 409.8,627.2 409.5,627.7" stroke="#989898" stroke-width="1.34" opacity="0.75"/>
<path d="M500.0,553.1 C499.8,553.6 499.3,555.6 498.6,556.3 C497.9,557.1 496.2,557.4 495.8,557.6" stroke="#989898" stroke-width="1.18" opacity="0.75"/>
<path d="M493.0,535.0 C493.8,535.0 495.9,534.6 497.3,535.1 C498.7,535.6 500.0,537.1 501.5,537.8 C503.1,538.5 505.7,539.1 506.5,539.4" stroke="#989898" stroke-width="1.45" opacity="0.75"/>
<path d="M496.4,609.2 C495.7,609.1 493.5,608.0 492.0,608.4 C490.6,608.8 488.4,611.0 487.7,611.6" stroke="#989898" stroke-width="0.86" opacity="0.75"/>
<path d="M407.8,585.5 C407.2,585.3 405.7,584.6 404.4,584.6 C403.1,584.7 400.8,585.7 400.0,585.9" stroke="#989898" stroke-width="1.48" opacity="0.75"/>
<path d="M527.3,567.2 C527.7,567.7 528.8,569.3 529.7,570.0 C530.5,570.8 531.3,570.7 532.3,571.5 C533.3,572.3 535.2,574.3 535.7,574.8" stroke="#989898" stroke-width="1.05" opacity="0.75"/>
<path d="M542.2,581.3 C541.8,581.7 540.9,582.8 540.0,583.7 C539.1,584.7 538.1,586.2 536.6,586.9 C535.2,587.7 532.3,588.1 531.5,588.4" stroke="#989898" stroke-width="1.00" opacity="0.75"/>
<path d="M501.3,513.9 C501.0,514.7 499.7,517.3 499.6,518.9 C499.6,520.4 500.4,521.5 500.9,523.0 C501.5,524.6 502.7,527.2 503.0,528.0" stroke="#989898" stroke-width="0.81" opacity="0.75"/>
<path d="M491.0,583.7 C491.6,584.1 494.0,585.2 495.0,586.4 C496.1,587.5 496.7,589.1 497.1,590.7 C497.6,592.4 497.7,594.8 497.7,596.2 C497.8,597.7 497.5,598.8 497.5,599.3" stroke="#989898" stroke-width="1.60" opacity="0.75"/>
<path d="M464.7,527.0 C464.6,527.6 463.7,529.9 463.8,531.0 C463.9,532.2 465.1,533.3 465.4,533.8" stroke="#989898" stroke-width="1.43" opacity="0.75"/>
<path d="M474.6,617.3 C474.9,617.8 475.7,619.4 476.5,620.4 C477.3,621.5 478.5,622.9 479.3,623.7 C480.2,624.6 481.3,625.4 481.7,625.8" stroke="#989898" stroke-width="0.82" opacity="0.75"/>
<path d="M487.0,616.8 C486.6,616.3 485.8,615.0 484.8,614.3 C483.8,613.6 482.1,613.6 480.9,612.6 C479.7,611.6 478.1,609.8 477.5,608.3 C477.0,606.8 477.5,604.4 477.4,603.6" stroke="#989898" stroke-width="1.48" opacity="0.75"/>
<path d="M557.9,612.4 C557.7,611.8 556.8,610.4 556.5,608.9 C556.2,607.4 556.1,604.5 556.0,603.6" stroke="#989898" stroke-width="1.02" opacity="0.75"/>
<path d="M436.4,585.3 C437.0,584.6 438.8,582.9 440.0,581.6 C441.1,580.3 442.3,578.4 443.4,577.4 C444.4,576.3 445.6,575.5 446.1,575.1" stroke="#989898" stroke-width="1.54" opacity="0.75"/>
<path d="M503.9,608.4 C504.3,607.7 504.8,605.2 506.0,604.2 C507.2,603.2 509.5,603.1 511.1,602.1 C512.7,601.2 514.7,599.7 515.6,598.6 C516.5,597.4 516.3,595.8 516.4,595.2" stroke="#989898" stroke-width="1.29" opacity="0.75"/>
<path d="M515.0,615.3 C514.1,615.5 511.1,616.3 509.4,616.6 C507.7,616.8 506.1,616.3 504.8,616.8 C503.4,617.2 502.5,618.1 501.2,619.1 C499.8,620.0 497.6,621.9 496.9,622.5" stroke="#989898" stroke-width="1.27" opacity="0.75"/>
<path d="M443.6,553.1 C444.1,552.6 446.2,551.5 446.9,550.2 C447.7,548.9 447.7,546.2 447.9,545.4" stroke="#989898" stroke-width="1.16" opacity="0.75"/>
<path d="M459.7,524.4 C459.6,525.3 459.3,528.4 458.7,529.9 C458.1,531.3 456.8,532.5 456.4,533.0" stroke="#989898" stroke-width="1.24" opacity="0.75"/>
<path d="M529.6,530.1 C528.8,529.6 525.9,528.1 524.7,527.2 C523.6,526.3 522.9,525.2 522.6,524.8" stroke="#989898" stroke-width="0.98" opacity="0.75"/>
<path d="M493.0,631.8 C493.4,632.3 494.8,633.7 495.6,634.6 C496.5,635.4 497.3,635.8 498.1,636.7 C498.8,637.6 499.7,639.3 500.1,639.8" stroke="#989898" stroke-width="0.87" opacity="0.75"/>
<path d="M455.2,525.7 C455.2,526.3 455.0,527.5 455.2,529.0 C455.5,530.5 455.9,533.3 456.7,534.7 C457.4,536.0 459.3,536.7 459.8,537.1" stroke="#989898" stroke-width="1.24" opacity="0.75"/>
<path d="M439.6,605.2 C438.9,605.0 436.9,603.7 435.3,603.9 C433.7,604.2 430.9,606.1 430.0,606.5" stroke="#989898" stroke-width="1.28" opacity="0.75"/>
<path d="M513.7,633.1 C513.1,633.6 511.2,634.9 510.2,636.0 C509.1,637.0 508.6,638.7 507.5,639.6 C506.3,640.5 503.8,641.0 503.1,641.3" stroke="#989898" stroke-width="1.46" opacity="0.75"/>
<path d="M486.1,601.8 C486.0,601.3 486.2,599.5 485.6,598.5 C485.0,597.5 484.0,596.3 482.6,595.9 C481.2,595.5 478.2,596.0 477.3,596.0" stroke="#989898" stroke-width="1.19" opacity="0.75"/>
<path d="M480.3,639.9 C481.0,640.4 483.3,642.4 484.6,642.8 C485.9,643.2 487.4,642.4 487.9,642.3" stroke="#989898" stroke-width="1.07" opacity="0.75"/>
<path d="M519.7,551.8 C519.3,551.3 518.0,550.0 517.3,548.8 C516.6,547.6 515.8,545.2 515.5,544.5" stroke="#989898" stroke-width="1.15" opacity="0.75"/>
<path d="M590.8,589.4 C590.0,589.8 587.1,590.8 585.8,591.8 C584.6,592.9 584.0,594.1 583.4,595.5 C582.7,596.9 582.2,599.4 581.9,600.2" stroke="#989898" stroke-width="0.97" opacity="0.75"/>
<path d="M470.6,618.9 C471.4,618.4 474.0,616.4 475.4,616.1 C476.7,615.7 478.1,616.8 478.7,616.9" stroke="#989898" stroke-width="1.08" opacity="0.75"/>
<path d="M542.9,611.3 C542.2,612.0 539.4,613.9 538.7,615.5 C538.0,617.0 538.5,619.1 538.6,620.5 C538.8,621.9 539.5,623.4 539.6,624.0" stroke="#989898" stroke-width="1.06" opacity="0.75"/>
<path d="M498.5,529.4 C497.7,529.6 495.1,530.0 493.7,530.7 C492.3,531.4 490.7,533.0 490.2,533.5" stroke="#989898" stroke-width="1.48" opacity="0.75"/>
<path d="M511.0,581.2 C511.4,580.7 512.5,578.9 513.4,578.0 C514.2,577.1 515.0,576.0 515.9,575.6 C516.9,575.2 517.9,575.5 519.0,575.4 C520.2,575.4 522.2,575.2 522.9,575.2" stroke="#989898" stroke-width="1.54" opacity="0.75"/>
<path d="M500.5,519.6 C500.3,520.2 499.7,522.0 499.4,523.1 C499.1,524.2 498.6,525.1 498.7,526.2 C498.8,527.2 499.8,528.9 500.0,529.5" stroke="#989898" stroke-width="0.96" opacity="0.75"/>
<path d="M559.9,618.8 C559.6,619.3 558.6,621.1 558.1,622.3 C557.6,623.4 557.2,625.2 557.0,625.8" stroke="#989898" stroke-width="1.22" opacity="0.75"/>
<path d="M546.7,576.7 C546.5,577.5 546.2,580.4 545.4,581.7 C544.6,583.0 542.3,584.1 541.7,584.6" stroke="#989898" stroke-width="0.86" opacity="0.75"/>
<path d="M473.1,590.6 C472.8,591.0 471.8,591.9 471.6,593.2 C471.4,594.5 471.9,597.6 471.9,598.4" stroke="#989898" stroke-width="1.56" opacity="0.75"/>
<path d="M445.8,596.1 C446.5,596.5 448.7,597.7 450.1,598.2 C451.5,598.6 452.7,598.8 454.2,598.8 C455.7,598.8 457.5,597.8 459.1,598.1 C460.7,598.3 463.2,599.9 464.0,600.3" stroke="#989898" stroke-width="1.31" opacity="0.75"/>
<path d="M456.2,533.6 C457.0,533.2 460.0,531.8 461.4,531.2 C462.8,530.7 463.5,530.8 464.5,530.2 C465.5,529.6 466.5,528.2 467.5,527.4 C468.6,526.6 470.2,525.9 470.7,525.6" stroke="#989898" stroke-width="1.15" opacity="0.75"/>
<path d="M545.3,536.3 C544.8,535.5 543.4,533.4 542.4,531.9 C541.4,530.4 540.1,528.8 539.3,527.3 C538.4,525.7 538.2,523.7 537.4,522.6 C536.5,521.5 534.8,521.1 534.2,520.9" stroke="#989898" stroke-width="1.47" opacity="0.75"/>
<path d="M488.9,586.8 C489.4,587.4 491.5,588.7 492.1,590.3 C492.7,591.8 491.9,594.9 492.3,596.3 C492.7,597.6 493.6,597.9 494.5,598.3 C495.4,598.8 497.3,599.0 497.9,599.1" stroke="#989898" stroke-width="0.91" opacity="0.75"/>
<path d="M550.5,564.5 C550.9,564.0 552.5,562.7 553.1,561.5 C553.7,560.2 553.6,558.5 554.2,556.9 C554.7,555.4 555.5,553.8 556.4,552.2 C557.3,550.7 559.1,548.5 559.6,547.7" stroke="#989898" stroke-width="1.01" opacity="0.75"/>
<path d="M504.3,540.2 C504.0,539.3 503.2,536.1 502.3,534.9 C501.3,533.6 499.9,533.8 498.8,532.8 C497.6,531.9 496.0,529.8 495.5,529.2" stroke="#989898" stroke-width="1.38" opacity="0.75"/>
<path d="M484.3,548.1 C483.8,547.7 481.8,547.0 481.0,545.6 C480.1,544.2 479.3,541.4 479.2,539.9 C479.1,538.5 480.2,537.5 480.4,537.0" stroke="#989898" stroke-width="1.09" opacity="0.75"/>
<path d="M514.3,540.6 C514.2,539.7 514.0,537.2 513.6,535.6 C513.2,534.0 512.4,532.6 512.0,531.0 C511.6,529.4 511.3,526.9 511.2,526.1" stroke="#989898" stroke-width="1.09" opacity="0.75"/>
<path d="M577.1,608.7 C577.4,608.0 578.1,605.7 579.0,604.4 C580.0,603.2 581.7,602.6 582.9,601.2 C584.0,599.9 585.1,597.7 585.9,596.1 C586.7,594.6 587.3,592.7 587.6,592.0" stroke="#989898" stroke-width="1.58" opacity="0.75"/>
<path d="M555.2,578.2 C554.2,578.2 551.1,577.8 549.2,577.9 C547.4,578.1 545.5,579.2 544.2,579.1 C542.9,579.1 542.3,578.5 541.4,577.6 C540.4,576.7 538.9,574.2 538.4,573.6" stroke="#989898" stroke-width="1.25" opacity="0.75"/>
<path d="M503.1,619.7 C503.0,618.9 502.6,616.0 502.6,614.6 C502.7,613.2 503.2,611.8 503.3,611.3" stroke="#989898" stroke-width="0.95" opacity="0.75"/>
<path d="M484.1,538.2 C484.9,538.6 487.3,539.8 488.8,540.7 C490.3,541.5 492.4,542.8 493.2,543.2" stroke="#989898" stroke-width="0.84" opacity="0.75"/>
<path d="M521.8,629.9 C521.7,629.2 520.9,627.0 520.8,625.5 C520.6,624.0 520.9,621.6 520.9,620.8" stroke="#989898" stroke-width="0.91" opacity="0.75"/>
<path d="M460.7,580.7 C461.3,580.9 463.3,581.2 464.2,582.0 C465.1,582.7 465.6,584.7 465.9,585.3" stroke="#989898" stroke-width="1.33" opacity="0.75"/>
<path d="M528.0,573.1 C528.3,573.8 529.3,575.9 530.2,577.0 C531.0,578.1 532.0,578.9 532.8,579.6 C533.7,580.3 535.0,581.0 535.4,581.2" stroke="#989898" stroke-width="1.26" opacity="0.75"/>
<path d="M459.9,616.9 C460.9,616.9 464.2,617.6 465.8,617.2 C467.5,616.8 468.7,615.7 469.8,614.7 C470.9,613.6 471.9,611.5 472.4,610.9" stroke="#989898" stroke-width="1.50" opacity="0.75"/>
<path d="M520.4,519.3 C519.8,519.1 518.4,517.9 516.8,517.8 C515.3,517.7 512.1,518.5 511.1,518.7" stroke="#989898" stroke-width="1.50" opacity="0.75"/>
<path d="M442.0,557.3 C441.8,558.0 440.9,560.3 441.1,561.5 C441.2,562.7 442.9,563.3 443.1,564.7 C443.3,566.1 442.2,568.9 442.1,569.7" stroke="#989898" stroke-width="0.81" opacity="0.75"/>
<path d="M541.0,622.6 C541.5,622.7 543.1,622.6 544.4,623.1 C545.6,623.5 547.0,624.7 548.7,625.3 C550.3,626.0 553.4,626.7 554.4,626.9" stroke="#989898" stroke-width="1.05" opacity="0.75"/>
<path d="M565.7,550.9 C565.4,551.6 565.0,553.6 564.0,555.0 C563.0,556.4 560.6,557.8 559.8,559.3 C559.1,560.8 558.8,562.2 559.3,563.8 C559.7,565.4 561.9,568.1 562.4,568.9" stroke="#989898" stroke-width="0.91" opacity="0.75"/>
<path d="M420.6,591.9 C420.2,591.3 419.0,589.4 418.4,587.9 C417.9,586.4 417.7,584.5 417.4,583.0 C417.1,581.5 417.1,580.0 416.7,578.9 C416.2,577.9 414.9,577.0 414.6,576.7" stroke="#989898" stroke-width="1.58" opacity="0.75"/>
<path d="M422.7,568.0 C423.5,568.0 425.9,567.5 427.4,568.1 C428.9,568.7 430.6,570.8 431.9,571.5 C433.3,572.3 434.3,572.2 435.5,572.5 C436.7,572.8 438.5,573.2 439.1,573.4" stroke="#989898" stroke-width="1.07" opacity="0.75"/>
<path d="M450.6,596.2 C451.3,595.8 454.0,594.9 455.0,593.5 C456.0,592.2 455.7,589.5 456.7,588.1 C457.6,586.8 460.0,586.6 460.9,585.4 C461.8,584.3 461.8,582.0 462.0,581.3" stroke="#989898" stroke-width="1.42" opacity="0.75"/>
<path d="M560.1,593.3 C560.1,594.2 559.9,597.1 559.9,598.6 C559.9,600.1 560.1,601.7 560.1,602.3" stroke="#989898" stroke-width="1.07" opacity="0.75"/>
<path d="M523.7,590.6 C524.6,590.5 527.4,590.1 529.2,589.8 C531.1,589.6 533.0,589.5 534.8,588.9 C536.6,588.3 539.2,586.6 540.0,586.1" stroke="#989898" stroke-width="1.12" opacity="0.75"/>
<path d="M461.5,637.8 C461.6,637.1 461.7,634.7 462.1,633.3 C462.4,631.9 463.3,630.9 463.7,629.5 C464.0,628.1 463.7,626.3 464.0,625.0 C464.4,623.6 465.6,621.9 465.9,621.3" stroke="#989898" stroke-width="1.00" opacity="0.75"/>
<path d="M472.6,568.8 C471.8,568.3 469.1,566.9 467.5,565.9 C466.0,564.9 464.2,563.7 463.4,562.7 C462.6,561.6 462.9,560.1 462.7,559.6" stroke="#989898" stroke-width="1.25" opacity="0.75"/>
<path d="M437.2,612.9 C437.7,612.3 439.6,610.6 440.2,608.9 C440.7,607.3 440.4,604.6 440.3,602.9 C440.2,601.2 439.7,600.2 439.5,598.8 C439.3,597.4 439.2,595.4 439.1,594.7" stroke="#989898" stroke-width="1.56" opacity="0.75"/>
<path d="M459.9,544.1 C460.6,544.6 463.0,546.4 464.2,547.2 C465.4,548.1 466.3,548.0 467.1,549.3 C467.9,550.5 468.6,553.8 469.0,554.7" stroke="#989898" stroke-width="1.59" opacity="0.75"/>
<path d="M408.4,575.3 C408.6,576.2 408.9,579.7 409.5,581.1 C410.1,582.4 410.9,582.6 412.1,583.3 C413.3,584.1 415.5,584.7 416.7,585.6 C417.8,586.4 418.5,587.8 418.9,588.3" stroke="#989898" stroke-width="1.22" opacity="0.75"/>
<path d="M437.4,566.4 C438.1,566.9 440.1,568.1 441.5,569.1 C442.8,570.2 444.5,571.6 445.4,572.7 C446.4,573.8 446.9,575.3 447.2,575.8" stroke="#989898" stroke-width="1.32" opacity="0.75"/>
<path d="M479.5,534.6 C480.3,534.8 482.9,535.1 484.4,535.9 C486.0,536.7 487.8,538.0 488.7,539.4 C489.7,540.7 490.2,542.3 490.1,543.8 C490.0,545.4 488.5,547.7 488.1,548.5" stroke="#989898" stroke-width="1.34" opacity="0.75"/>
<path d="M500.4,603.1 C500.5,602.2 501.2,599.9 501.1,598.2 C501.1,596.4 500.3,594.4 500.1,592.6 C499.9,590.8 500.5,589.1 500.0,587.5 C499.5,585.9 497.5,583.7 497.0,582.9" stroke="#989898" stroke-width="1.45" opacity="0.75"/>
<path d="M454.6,596.6 C454.8,596.0 455.8,594.0 455.7,592.8 C455.5,591.6 454.7,590.6 453.9,589.4 C453.1,588.2 451.5,586.2 451.0,585.5" stroke="#989898" stroke-width="1.37" opacity="0.75"/>
<path d="M548.4,545.3 C548.1,544.8 547.6,543.5 546.9,542.3 C546.2,541.1 544.6,538.9 544.2,538.2" stroke="#989898" stroke-width="1.21" opacity="0.75"/>
<path d="M420.0,561.9 C420.8,562.0 423.2,562.4 424.8,562.4 C426.4,562.3 428.1,562.1 429.6,561.5 C431.2,560.8 433.5,559.0 434.3,558.5" stroke="#989898" stroke-width="1.14" opacity="0.75"/>
<path d="M520.3,539.7 C520.6,539.3 521.4,537.8 522.2,537.0 C523.1,536.1 524.7,536.0 525.6,534.8 C526.6,533.6 526.8,531.2 527.7,529.7 C528.7,528.3 530.9,526.6 531.5,526.0" stroke="#989898" stroke-width="1.33" opacity="0.75"/>
<path d="M473.8,531.2 C474.3,530.7 476.1,529.4 476.6,527.9 C477.1,526.5 476.8,523.6 476.8,522.7" stroke="#989898" stroke-width="0.83" opacity="0.75"/>
<path d="M418.7,583.3 C418.4,583.9 417.7,585.5 416.8,586.5 C416.0,587.5 414.6,588.4 413.5,589.2 C412.4,590.0 411.1,590.3 410.2,591.3 C409.2,592.3 408.0,594.5 407.6,595.2" stroke="#989898" stroke-width="0.87" opacity="0.75"/>
<path d="M515.4,580.7 C515.4,579.9 515.5,577.1 515.2,575.8 C514.9,574.6 513.8,574.4 513.4,573.3 C512.9,572.2 512.2,570.5 512.4,569.2 C512.7,567.8 514.6,565.8 515.0,565.1" stroke="#989898" stroke-width="1.46" opacity="0.75"/>
<path d="M487.4,578.1 C486.9,578.5 485.8,580.1 484.5,580.9 C483.2,581.7 480.6,582.4 479.8,582.7" stroke="#989898" stroke-width="1.27" opacity="0.75"/>
<path d="M481.2,633.1 C481.9,633.6 484.0,635.5 485.5,635.8 C487.1,636.0 488.9,634.8 490.4,634.7 C492.0,634.6 493.4,635.5 494.7,635.3 C496.1,635.1 497.7,633.9 498.3,633.6" stroke="#989898" stroke-width="0.92" opacity="0.75"/>
<path d="M571.5,568.9 C572.1,569.0 573.8,569.4 574.7,569.9 C575.7,570.4 576.7,570.9 577.4,571.8 C578.0,572.6 578.5,574.4 578.7,575.0" stroke="#989898" stroke-width="1.44" opacity="0.75"/>
<path d="M495.2,615.0 C494.7,615.5 493.6,617.2 492.7,617.6 C491.7,618.1 490.0,617.6 489.4,617.7" stroke="#989898" stroke-width="0.97" opacity="0.75"/>
<path d="M478.9,622.1 C478.6,622.6 477.7,624.1 477.1,625.0 C476.4,625.8 475.7,626.4 475.0,627.2 C474.3,628.1 474.0,629.3 472.9,630.1 C471.7,630.9 469.0,631.7 468.2,632.0" stroke="#989898" stroke-width="1.47" opacity="0.75"/>
<path d="M550.1,580.2 C549.3,580.1 546.7,579.8 545.1,579.9 C543.5,580.1 542.1,580.7 540.5,581.0 C538.8,581.4 536.1,581.9 535.2,582.1" stroke="#989898" stroke-width="0.81" opacity="0.75"/>
<path d="M510.1,599.3 C509.6,598.7 507.9,597.3 507.4,595.8 C506.9,594.3 507.3,591.2 507.3,590.3" stroke="#989898" stroke-width="1.18" opacity="0.75"/>
<path d="M502.6,545.3 C501.9,545.3 499.9,544.6 498.5,545.0 C497.0,545.4 494.7,547.3 493.9,547.7" stroke="#989898" stroke-width="1.56" opacity="0.75"/>
<path d="M535.8,576.7 C535.2,577.2 533.3,578.9 532.1,579.7 C531.0,580.6 530.0,580.5 529.0,581.7 C528.0,582.8 526.5,585.8 526.0,586.7" stroke="#989898" stroke-width="1.47" opacity="0.75"/>
<path d="M513.0,597.6 C513.5,598.1 515.1,600.2 516.1,600.8 C517.1,601.3 517.8,600.4 519.2,600.8 C520.6,601.2 523.6,602.7 524.5,603.1" stroke="#989898" stroke-width="1.21" opacity="0.75"/>
<path d="M429.5,565.2 C429.7,564.7 430.6,563.7 431.1,562.3 C431.6,560.9 432.3,557.5 432.5,556.5" stroke="#989898" stroke-width="1.11" opacity="0.75"/>
<path d="M469.0,625.9 C469.8,625.6 472.4,624.4 473.9,624.1 C475.5,623.8 477.2,623.9 478.4,624.1 C479.6,624.4 480.4,624.5 481.2,625.6 C482.0,626.8 482.7,630.3 483.0,631.2" stroke="#989898" stroke-width="1.50" opacity="0.75"/>
<path d="M541.2,562.1 C541.7,563.0 542.8,565.8 544.0,567.2 C545.3,568.6 547.1,569.5 548.7,570.6 C550.3,571.7 552.6,573.2 553.4,573.7" stroke="#989898" stroke-width="0.94" opacity="0.75"/>
<path d="M488.6,586.3 C488.7,587.2 489.4,590.2 489.4,591.8 C489.5,593.5 488.5,594.8 488.7,596.1 C488.9,597.3 490.0,598.2 490.8,599.3 C491.6,600.3 493.0,601.9 493.4,602.4" stroke="#989898" stroke-width="1.55" opacity="0.75"/>
<path d="M511.3,514.2 C510.6,513.8 508.2,512.7 506.9,511.7 C505.6,510.7 504.1,509.6 503.6,508.2 C503.1,506.7 503.9,504.4 503.9,502.8 C503.9,501.2 503.8,499.1 503.8,498.3" stroke="#989898" stroke-width="1.51" opacity="0.75"/>
<path d="M579.8,587.7 C579.5,587.0 578.1,584.7 577.8,583.4 C577.6,582.0 578.2,581.0 578.2,579.8 C578.2,578.5 578.1,576.6 578.1,576.0" stroke="#989898" stroke-width="0.87" opacity="0.75"/>
<path d="M469.1,571.1 C468.8,572.1 468.2,575.4 467.5,576.8 C466.9,578.3 466.0,579.2 465.1,579.7 C464.2,580.3 462.4,580.0 461.9,580.1" stroke="#989898" stroke-width="0.82" opacity="0.75"/>
<path d="M414.7,563.4 C415.4,564.0 417.9,565.7 419.0,567.0 C420.2,568.4 420.6,570.3 421.6,571.5 C422.6,572.7 423.8,573.4 425.0,574.2 C426.1,575.0 428.0,575.8 428.6,576.2" stroke="#989898" stroke-width="1.26" opacity="0.75"/>
<path d="M574.6,572.1 C575.0,571.8 576.2,570.5 577.4,570.2 C578.5,570.0 580.2,570.3 581.4,570.9 C582.7,571.5 583.8,573.1 584.9,573.8 C586.0,574.5 587.6,574.7 588.2,574.9" stroke="#989898" stroke-width="0.87" opacity="0.75"/>
<path d="M467.0,624.8 C466.7,625.4 465.7,627.2 465.1,628.3 C464.5,629.4 463.7,630.9 463.4,631.4" stroke="#989898" stroke-width="0.83" opacity="0.75"/>
<path d="M474.7,522.2 C474.8,521.4 475.0,519.0 475.0,517.4 C474.9,515.9 474.5,514.2 474.3,512.8 C474.2,511.4 474.2,510.6 474.2,509.3 C474.2,507.9 474.2,505.5 474.3,504.8" stroke="#989898" stroke-width="1.28" opacity="0.75"/>
<path d="M437.4,573.1 C437.5,572.5 437.6,570.7 438.3,569.7 C439.0,568.7 441.1,568.2 441.8,567.2 C442.5,566.2 442.7,565.1 442.4,563.8 C442.1,562.4 440.3,559.8 439.9,559.0" stroke="#989898" stroke-width="1.15" opacity="0.75"/>
<path d="M466.3,596.7 C467.0,596.3 469.4,594.9 470.4,593.9 C471.4,592.9 472.0,591.2 472.3,590.7" stroke="#989898" stroke-width="1.23" opacity="0.75"/>
<path d="M530.2,548.5 C529.2,548.2 526.2,547.2 524.5,546.8 C522.8,546.4 521.2,546.6 520.0,546.1 C518.8,545.6 517.8,544.1 517.4,543.7" stroke="#989898" stroke-width="1.02" opacity="0.75"/>
<path d="M550.7,592.9 C551.2,593.3 552.6,594.4 553.3,595.5 C554.1,596.5 555.1,597.8 555.2,599.2 C555.2,600.6 553.9,603.0 553.6,603.7" stroke="#989898" stroke-width="1.27" opacity="0.75"/>
<path d="M571.2,602.7 C572.1,603.1 575.0,603.9 576.2,605.0 C577.5,606.2 577.9,608.2 578.7,609.6 C579.5,610.9 580.5,612.4 580.8,612.9" stroke="#989898" stroke-width="1.12" opacity="0.75"/>
<path d="M430.0,586.2 C430.6,585.5 432.4,583.6 433.4,582.3 C434.5,581.0 435.8,579.0 436.3,578.4" stroke="#989898" stroke-width="1.53" opacity="0.75"/>
<path d="M577.3,580.7 C577.7,581.2 578.5,582.9 579.9,583.5 C581.2,584.1 584.3,584.1 585.2,584.2" stroke="#989898" stroke-width="1.45" opacity="0.75"/>
<path d="M431.4,564.7 C431.9,564.0 433.8,562.1 434.5,560.5 C435.2,558.9 435.5,556.6 435.6,555.1 C435.7,553.7 435.2,552.3 435.1,551.8" stroke="#e6e6e6" stroke-width="1.04" opacity="0.8"/>
<path d="M457.6,565.3 C457.1,564.6 455.4,561.9 454.3,560.8 C453.3,559.7 452.6,559.2 451.1,558.8 C449.6,558.3 446.4,558.2 445.5,558.1" stroke="#e6e6e6" stroke-width="0.95" opacity="0.8"/>
<path d="M465.8,590.4 C465.4,589.6 463.8,587.1 462.9,585.4 C462.0,583.8 461.3,582.0 460.6,580.5 C459.8,579.0 458.9,577.7 458.6,576.4 C458.3,575.2 458.8,573.6 458.9,573.1" stroke="#e6e6e6" stroke-width="0.95" opacity="0.8"/>
<path d="M512.6,618.7 C513.2,618.9 514.7,619.5 516.2,620.0 C517.7,620.6 520.0,621.4 521.6,622.0 C523.1,622.6 523.9,623.4 525.5,623.7 C527.1,624.0 530.2,623.8 531.1,623.9" stroke="#e6e6e6" stroke-width="1.05" opacity="0.8"/>
<path d="M434.5,593.4 C434.6,594.0 434.8,595.9 435.2,597.1 C435.7,598.3 436.6,599.5 437.0,600.6 C437.5,601.6 437.8,603.1 438.0,603.6" stroke="#e6e6e6" stroke-width="0.83" opacity="0.8"/>
<path d="M444.4,538.9 C444.8,538.1 446.4,535.7 446.9,534.2 C447.4,532.8 447.3,530.9 447.4,530.3" stroke="#e6e6e6" stroke-width="0.81" opacity="0.8"/>
<path d="M435.2,575.9 C434.6,576.5 432.6,578.2 431.5,579.4 C430.4,580.7 429.1,582.7 428.7,583.3" stroke="#e6e6e6" stroke-width="0.93" opacity="0.8"/>
<path d="M430.8,602.0 C431.0,601.0 431.8,597.8 432.2,596.2 C432.5,594.7 432.4,594.0 432.9,592.6 C433.3,591.2 434.7,589.4 435.1,587.8 C435.5,586.2 435.2,583.8 435.2,583.0" stroke="#e6e6e6" stroke-width="0.78" opacity="0.8"/>
<path d="M533.2,542.2 C533.8,541.8 535.6,541.1 537.0,540.3 C538.5,539.4 541.1,537.6 542.0,537.0" stroke="#e6e6e6" stroke-width="0.98" opacity="0.8"/>
<path d="M556.5,599.9 C556.3,600.8 555.3,603.3 554.9,604.8 C554.6,606.3 554.3,607.6 554.5,609.1 C554.7,610.5 555.9,611.8 556.3,613.3 C556.6,614.8 556.5,617.2 556.6,617.9" stroke="#e6e6e6" stroke-width="0.89" opacity="0.8"/>
<path d="M466.9,557.7 C467.4,558.1 469.1,559.3 470.1,560.1 C471.2,560.9 472.8,561.9 473.3,562.3" stroke="#e6e6e6" stroke-width="0.78" opacity="0.8"/>
<path d="M413.1,572.0 C412.7,572.8 411.3,575.6 411.1,576.9 C410.9,578.3 411.6,579.6 411.7,580.1" stroke="#e6e6e6" stroke-width="0.75" opacity="0.8"/>
<path d="M532.0,561.6 C532.3,562.2 533.2,564.4 533.7,565.5 C534.2,566.7 534.6,567.5 534.9,568.4 C535.3,569.4 535.8,570.8 535.9,571.3" stroke="#e6e6e6" stroke-width="0.76" opacity="0.8"/>
<path d="M456.8,609.1 C457.4,608.8 459.2,607.8 460.4,607.3 C461.7,606.8 463.6,606.2 464.3,605.9" stroke="#e6e6e6" stroke-width="0.93" opacity="0.8"/>
<path d="M504.7,622.5 C505.5,621.9 508.0,619.9 509.3,619.0 C510.6,618.1 512.0,617.6 512.5,617.3" stroke="#e6e6e6" stroke-width="1.07" opacity="0.8"/>
<path d="M491.8,557.3 C491.2,557.4 489.3,557.7 488.1,558.2 C487.0,558.6 485.9,559.2 484.8,560.1 C483.7,561.0 482.7,562.5 481.3,563.4 C479.9,564.3 477.2,565.3 476.4,565.7" stroke="#e6e6e6" stroke-width="1.02" opacity="0.8"/>
<path d="M436.5,599.5 C436.3,600.1 435.6,601.9 435.1,603.3 C434.7,604.8 434.1,606.7 433.7,608.2 C433.3,609.7 432.9,611.0 432.5,612.3 C432.1,613.5 431.3,615.2 431.1,615.8" stroke="#e6e6e6" stroke-width="1.04" opacity="0.8"/>
<path d="M530.5,570.5 C530.7,569.6 531.0,566.7 531.5,565.1 C532.1,563.4 533.1,561.8 533.6,560.5 C534.1,559.3 534.3,558.0 534.5,557.5" stroke="#e6e6e6" stroke-width="0.93" opacity="0.8"/>
<path d="M453.0,599.1 C453.9,599.4 456.9,600.1 458.1,600.9 C459.4,601.7 459.5,603.0 460.4,603.7 C461.3,604.4 462.9,605.0 463.4,605.3" stroke="#e6e6e6" stroke-width="1.02" opacity="0.8"/>
<path d="M551.6,539.0 C551.3,539.7 550.7,541.7 550.0,542.9 C549.4,544.1 548.1,545.7 547.7,546.3" stroke="#e6e6e6" stroke-width="0.83" opacity="0.8"/>
<path d="M522.3,622.8 C521.6,622.5 519.6,621.8 518.0,621.1 C516.4,620.5 513.8,619.5 513.0,619.1" stroke="#e6e6e6" stroke-width="0.85" opacity="0.8"/>
<path d="M489.8,517.1 C489.0,516.8 486.5,516.1 485.2,515.4 C483.9,514.7 483.0,514.2 481.8,513.1 C480.7,511.9 479.0,509.4 478.4,508.7" stroke="#e6e6e6" stroke-width="1.06" opacity="0.8"/>
<path d="M418.2,586.7 C418.6,587.4 420.0,589.8 420.6,591.0 C421.2,592.3 421.5,593.5 421.6,594.0" stroke="#e6e6e6" stroke-width="0.80" opacity="0.8"/>
<path d="M580.2,619.9 C579.8,619.0 578.3,616.3 578.0,615.0 C577.6,613.6 578.5,613.0 578.2,611.9 C577.9,610.7 577.1,609.0 576.2,608.0 C575.2,606.9 573.2,606.0 572.6,605.6" stroke="#e6e6e6" stroke-width="0.95" opacity="0.8"/>
<path d="M465.1,545.9 C465.0,545.3 465.1,543.9 464.6,542.4 C464.1,540.9 462.8,538.8 462.0,537.0 C461.2,535.2 460.0,533.3 459.8,531.6 C459.5,530.0 460.4,528.0 460.5,527.3" stroke="#e6e6e6" stroke-width="0.93" opacity="0.8"/>
<path d="M544.8,542.4 C545.7,542.5 548.6,542.8 550.3,542.8 C551.9,542.9 553.2,542.5 554.8,542.8 C556.3,543.1 558.2,544.3 559.6,544.8 C560.9,545.3 562.4,545.6 563.0,545.8" stroke="#e6e6e6" stroke-width="0.72" opacity="0.8"/>
<path d="M539.9,552.8 C540.0,553.7 540.5,556.4 540.6,558.0 C540.6,559.7 540.6,561.1 540.2,562.7 C539.8,564.3 538.6,566.9 538.3,567.7" stroke="#e6e6e6" stroke-width="0.93" opacity="0.8"/>
<path d="M504.0,593.5 C504.5,593.6 505.9,593.8 507.0,594.3 C508.1,594.8 509.5,595.3 510.6,596.4 C511.8,597.5 512.8,599.9 514.0,600.8 C515.1,601.8 517.0,602.0 517.6,602.2" stroke="#e6e6e6" stroke-width="1.02" opacity="0.8"/>
<path d="M450.1,549.0 C450.8,549.6 452.6,551.4 454.0,552.4 C455.5,553.3 457.0,553.7 458.7,554.5 C460.4,555.2 463.3,556.4 464.2,556.8" stroke="#e6e6e6" stroke-width="1.06" opacity="0.8"/>
<path d="M505.6,551.7 C505.6,550.7 505.0,547.7 505.3,546.0 C505.6,544.4 507.1,543.2 507.4,541.8 C507.7,540.4 507.3,538.4 507.3,537.7" stroke="#e6e6e6" stroke-width="0.87" opacity="0.8"/>
<path d="M534.6,589.6 C534.2,590.3 533.2,592.7 532.4,593.7 C531.5,594.7 530.3,594.6 529.4,595.6 C528.5,596.7 527.5,599.4 527.1,600.2" stroke="#e6e6e6" stroke-width="1.06" opacity="0.8"/>
<path d="M416.1,558.8 C416.5,558.5 417.5,557.8 418.5,556.7 C419.5,555.6 421.4,553.0 422.0,552.3" stroke="#e6e6e6" stroke-width="0.72" opacity="0.8"/>
<path d="M497.2,568.3 C497.6,568.6 498.8,570.0 500.1,570.5 C501.3,571.0 503.5,570.8 504.8,571.3 C506.0,571.9 507.0,573.2 507.4,573.6" stroke="#e6e6e6" stroke-width="1.06" opacity="0.8"/>
<path d="M470.9,644.2 C471.2,644.9 472.4,647.0 472.8,648.2 C473.1,649.4 472.9,650.8 472.9,651.3" stroke="#e6e6e6" stroke-width="0.97" opacity="0.8"/>
<path d="M546.2,547.6 C546.6,547.2 547.4,546.0 548.7,545.3 C550.0,544.5 552.3,543.3 553.9,543.0 C555.6,542.7 557.0,543.5 558.5,543.2 C560.1,542.9 562.5,541.6 563.3,541.3" stroke="#e6e6e6" stroke-width="1.02" opacity="0.8"/>
<path d="M412.9,617.8 C412.5,618.2 411.3,619.6 410.4,620.4 C409.5,621.1 408.5,622.0 407.4,622.3 C406.3,622.7 404.3,622.4 403.6,622.4" stroke="#e6e6e6" stroke-width="0.88" opacity="0.8"/>
<path d="M552.4,565.3 C551.7,565.6 549.3,566.4 548.0,567.2 C546.7,568.0 545.6,569.0 544.7,570.3 C543.7,571.7 542.6,573.6 542.1,575.1 C541.6,576.5 541.7,578.3 541.6,578.9" stroke="#e6e6e6" stroke-width="0.93" opacity="0.8"/>
<path d="M503.4,544.2 C503.9,544.5 505.1,545.4 506.5,546.0 C507.9,546.7 510.7,547.9 511.6,548.2" stroke="#e6e6e6" stroke-width="1.03" opacity="0.8"/>
<path d="M504.2,558.5 C503.6,558.2 501.7,557.4 500.6,556.3 C499.5,555.2 498.1,552.7 497.6,552.0" stroke="#e6e6e6" stroke-width="0.79" opacity="0.8"/>
<path d="M505.9,520.6 C505.3,520.4 503.6,520.4 502.5,519.7 C501.4,519.1 500.7,517.5 499.2,516.6 C497.7,515.7 495.1,515.1 493.7,514.5 C492.2,513.8 491.0,513.0 490.5,512.7" stroke="#e6e6e6" stroke-width="0.77" opacity="0.8"/>
</g>
<g fill="none" stroke="#a0a0a0" stroke-width="1.0" stroke-linecap="round" filter="url(#blur05)">
<path d="M452.0,627.0 C453.7,625.2 458.0,619.5 462.0,616.0 C466.0,612.5 471.0,609.0 476.0,606.0 C481.0,603.0 486.7,600.3 492.0,598.0 C497.3,595.7 502.3,593.0 508.0,592.0 C513.7,591.0 519.7,591.3 526.0,592.0 C532.3,592.7 542.7,595.3 546.0,596.0"/>
<path d="M462.0,640.0 C464.7,638.3 472.3,633.0 478.0,630.0 C483.7,627.0 490.0,624.7 496.0,622.0 C502.0,619.3 508.0,616.3 514.0,614.0 C520.0,611.7 525.7,609.3 532.0,608.0 C538.3,606.7 545.3,605.7 552.0,606.0 C558.7,606.3 568.7,609.3 572.0,610.0"/>
<path d="M505.0,516.0 C504.7,518.7 503.5,526.7 503.0,532.0 C502.5,537.3 501.5,542.7 502.0,548.0 C502.5,553.3 504.3,559.0 506.0,564.0 C507.7,569.0 511.0,575.7 512.0,578.0"/>
<path d="M540.0,524.0 C540.5,526.7 541.3,534.7 543.0,540.0 C544.7,545.3 547.2,551.0 550.0,556.0 C552.8,561.0 556.3,565.7 560.0,570.0 C563.7,574.3 570.0,580.0 572.0,582.0"/>
</g>
<path d="M398.8,603.1 C398.6,602.5 398.9,601.7 399.1,601.0 C399.2,600.2 399.4,599.5 399.5,598.8 C399.7,598.0 399.9,597.3 400.0,596.6 C400.1,595.8 400.2,595.1 400.2,594.4 C400.3,593.7 400.2,593.0 400.2,592.3 C400.1,591.6 400.0,590.9 400.0,590.2 C400.0,589.5 399.9,588.7 400.1,588.0 C400.2,587.3 400.5,586.6 400.8,585.9 C401.1,585.1 401.5,584.4 401.8,583.7 C402.1,583.0 402.5,582.3 402.7,581.6 C403.0,580.9 403.1,580.2 403.3,579.5 C403.4,578.7 403.4,578.0 403.4,577.3 C403.5,576.6 403.4,575.9 403.5,575.1 C403.5,574.4 403.5,573.6 403.7,573.0 C403.8,572.3 404.2,571.7 404.6,571.1 C404.9,570.5 405.3,569.9 405.7,569.3 C406.1,568.7 406.5,568.1 406.8,567.5 C407.1,566.9 407.4,566.2 407.6,565.6 C407.8,565.0 407.9,564.3 408.1,563.7 C408.3,563.0 408.4,562.4 408.6,561.7 C408.8,561.1 408.9,560.4 409.3,559.8 C409.6,559.2 410.2,558.5 410.7,557.9 C411.2,557.3 411.8,556.7 412.4,556.1 C412.9,555.5 413.5,554.9 414.0,554.3 C414.5,553.6 414.9,553.0 415.3,552.3 C415.7,551.7 415.9,551.0 416.2,550.3 C416.6,549.6 416.7,548.8 417.1,548.2 C417.5,547.6 418.0,547.2 418.5,546.7 C419.0,546.2 419.6,545.7 420.2,545.3 C420.8,544.8 421.5,544.4 422.1,544.0 C422.7,543.5 423.3,543.1 423.8,542.6 C424.4,542.2 424.8,541.7 425.3,541.1 C425.7,540.6 426.1,540.0 426.5,539.5 C426.8,538.9 427.1,538.2 427.6,537.7 C428.0,537.2 428.6,536.9 429.2,536.6 C429.7,536.2 430.4,535.9 431.1,535.6 C431.7,535.4 432.5,535.1 433.2,534.9 C433.9,534.6 434.6,534.4 435.2,534.1 C435.9,533.8 436.5,533.5 437.1,533.2 C437.6,532.8 438.2,532.4 438.7,532.0 C439.2,531.6 439.7,531.2 440.2,530.8 C440.8,530.4 441.4,530.1 442.0,529.8 C442.6,529.5 443.2,529.2 444.0,529.0 C444.7,528.7 445.5,528.5 446.3,528.3 C447.0,528.1 447.8,527.9 448.5,527.6 C449.2,527.3 449.8,526.9 450.5,526.6 C451.1,526.2 451.6,525.7 452.2,525.3 C452.8,524.8 453.3,524.3 453.9,523.9 C454.5,523.4 455.1,523.0 455.7,522.6 C456.4,522.3 457.1,522.0 457.8,521.7 C458.5,521.4 459.2,521.1 460.0,520.9 C460.7,520.8 461.4,520.8 462.1,520.6 C462.8,520.5 463.4,520.3 464.0,520.1 C464.7,519.9 465.3,519.6 465.9,519.3 C466.5,519.0 467.1,518.7 467.8,518.5 C468.4,518.2 469.1,518.0 469.8,517.9 C470.4,517.7 471.2,517.7 471.9,517.7 C472.6,517.6 473.3,517.7 474.1,517.7 C474.8,517.6 475.5,517.7 476.2,517.6 C476.9,517.5 477.5,517.3 478.2,517.1 C478.8,517.0 479.4,516.8 480.1,516.6 C480.7,516.3 481.4,516.1 482.0,515.9 C482.6,515.7 483.3,515.5 484.0,515.4 C484.6,515.3 485.3,515.2 486.0,515.2 C486.7,515.2 487.4,515.2 488.0,515.2 C488.7,515.2 489.4,515.2 490.0,515.1 C490.7,515.0 491.4,514.8 492.0,514.6 C492.7,514.4 493.3,514.1 494.0,513.9 C494.7,513.7 495.3,513.5 496.0,513.3 C496.7,513.2 497.4,513.1 498.0,513.1 C498.7,513.0 499.4,513.1 500.0,513.2 C500.7,513.3 501.4,513.5 502.0,513.6 C502.7,513.7 503.3,513.9 504.0,513.9 C504.6,514.0 505.3,514.0 505.9,513.9 C506.6,513.9 507.3,513.7 508.0,513.6 C508.7,513.5 509.4,513.5 510.0,513.5 C510.7,513.6 511.4,513.6 512.1,513.7 C512.7,513.8 513.4,514.0 514.0,514.2 C514.6,514.4 515.2,514.6 515.9,514.8 C516.5,515.0 517.1,515.2 517.8,515.3 C518.4,515.4 519.1,515.4 519.8,515.4 C520.5,515.4 521.2,515.1 521.9,515.2 C522.7,515.2 523.4,515.5 524.2,515.7 C524.9,515.9 525.6,516.1 526.3,516.4 C527.0,516.7 527.6,517.1 528.3,517.5 C528.9,517.9 529.5,518.3 530.2,518.7 C530.8,519.2 531.4,519.6 532.1,519.9 C532.7,520.3 533.4,520.6 534.1,520.9 C534.8,521.1 535.6,521.3 536.3,521.6 C537.0,521.8 537.9,522.0 538.5,522.3 C539.2,522.6 539.7,523.0 540.2,523.4 C540.8,523.9 541.2,524.4 541.7,524.9 C542.2,525.4 542.6,526.0 543.0,526.5 C543.5,527.0 544.0,527.5 544.5,528.0 C545.0,528.4 545.5,528.8 546.1,529.1 C546.7,529.5 547.4,529.8 548.1,530.1 C548.7,530.4 549.5,530.6 550.0,531.0 C550.6,531.3 551.1,531.8 551.6,532.3 C552.0,532.8 552.4,533.4 552.8,533.9 C553.2,534.5 553.6,535.1 554.0,535.6 C554.4,536.2 554.8,536.7 555.2,537.2 C555.7,537.7 556.2,538.2 556.7,538.6 C557.3,539.1 557.9,539.4 558.5,539.9 C559.0,540.3 559.7,540.7 560.2,541.1 C560.7,541.6 561.2,542.1 561.7,542.6 C562.1,543.1 562.5,543.7 562.8,544.3 C563.2,544.8 563.4,545.4 563.7,546.0 C564.1,546.6 564.4,547.1 564.8,547.7 C565.2,548.2 565.6,548.7 566.1,549.2 C566.6,549.7 567.2,550.1 567.7,550.6 C568.3,551.0 568.8,551.5 569.4,552.0 C569.9,552.4 570.4,552.9 570.8,553.4 C571.2,554.0 571.6,554.5 571.9,555.0 C572.2,555.6 572.4,556.2 572.7,556.8 C573.0,557.4 573.3,558.0 573.7,558.5 C574.0,559.1 574.5,559.6 575.0,560.1 C575.5,560.6 576.1,561.1 576.6,561.7 C577.2,562.2 577.8,562.7 578.3,563.2 C578.8,563.7 579.2,564.3 579.6,564.8 C580.0,565.4 580.3,566.0 580.6,566.5 C580.9,567.1 581.2,567.7 581.4,568.3 C581.7,568.9 581.9,569.5 582.2,570.1 C582.5,570.7 582.9,571.3 583.3,571.9 C583.6,572.5 584.1,573.0 584.6,573.6 C585.0,574.2 585.5,574.8 585.9,575.4 C586.3,576.0 586.6,576.6 586.9,577.2 C587.2,577.8 587.4,578.4 587.6,579.0 C587.7,579.6 587.6,580.3 587.7,581.0 C587.8,581.7 587.9,582.3 588.0,583.0 C588.2,583.7 588.5,584.3 588.8,585.0 C589.1,585.6 589.5,586.3 589.8,587.0 C590.2,587.7 590.6,588.3 590.9,589.0 C591.2,589.7 591.6,590.4 591.7,591.0 C591.8,591.7 591.6,592.4 591.4,593.0 C591.3,593.7 591.1,594.3 591.0,595.0 C590.9,595.6 590.7,596.3 590.7,597.0 C590.6,597.6 590.7,598.3 590.7,599.0 C590.8,599.7 590.9,600.4 591.0,601.1 C591.0,601.8 591.2,602.4 591.2,603.1 C591.1,603.8 591.0,604.6 590.8,605.2 C590.6,605.9 590.3,606.6 590.1,607.2 C589.8,607.9 589.4,608.5 589.2,609.2 C588.9,609.8 588.7,610.5 588.4,611.1 C588.1,611.8 587.5,612.3 587.1,612.8 C586.8,613.4 586.5,614.0 586.1,614.6 C585.8,615.2 585.5,615.8 585.2,616.4 C584.8,617.0 584.4,617.6 584.0,618.2 C583.5,618.7 583.0,619.2 582.5,619.8 C582.0,620.3 581.5,620.9 580.9,621.3 C580.3,621.7 579.5,621.8 578.9,622.1 C578.3,622.4 577.8,622.8 577.2,623.1 C576.7,623.5 576.3,623.9 575.8,624.3 C575.4,624.6 574.9,625.0 574.4,625.4 C573.9,625.7 573.3,626.3 572.6,626.4 C572.0,626.4 571.2,625.9 570.4,625.6 C569.7,625.3 568.8,625.0 568.1,624.7 C567.3,624.4 566.5,624.1 565.8,623.9 C565.1,623.6 564.5,623.4 563.8,623.2 C563.2,623.0 562.7,622.9 562.1,622.7 C561.5,622.5 560.9,622.3 560.3,622.2 C559.7,622.1 559.0,622.2 558.3,622.2 C557.5,622.2 556.7,622.2 555.9,622.1 C555.2,622.0 554.3,622.0 553.5,621.9 C552.8,621.9 552.0,621.8 551.4,621.8 C550.7,621.8 550.1,621.9 549.5,622.0 C548.9,622.1 548.4,622.2 547.9,622.3 C547.3,622.4 546.8,622.5 546.2,622.7 C545.6,622.8 545.0,623.0 544.3,623.1 C543.7,623.3 542.9,623.3 542.2,623.4 C541.5,623.5 540.7,623.5 540.0,623.5 C539.2,623.6 538.5,623.7 537.9,623.8 C537.2,623.9 536.6,624.1 536.0,624.3 C535.4,624.5 534.8,624.7 534.2,624.9 C533.7,625.1 533.0,625.2 532.4,625.5 C531.8,625.8 531.3,626.2 530.6,626.5 C530.0,626.8 529.3,627.0 528.6,627.2 C528.0,627.4 527.2,627.5 526.6,627.7 C525.9,628.0 525.3,628.2 524.7,628.5 C524.1,628.8 523.5,629.1 523.0,629.5 C522.4,629.9 521.9,630.3 521.4,630.8 C520.9,631.2 520.3,631.7 519.8,632.1 C519.2,632.5 518.7,632.8 518.1,633.1 C517.5,633.5 516.8,633.8 516.1,634.1 C515.5,634.4 514.8,634.6 514.2,634.9 C513.5,635.2 512.9,635.6 512.3,636.0 C511.7,636.4 511.1,636.9 510.5,637.4 C509.9,637.9 509.4,638.5 508.8,639.0 C508.2,639.5 507.6,640.1 507.0,640.5 C506.4,641.0 505.8,641.5 505.1,641.8 C504.5,642.0 503.8,642.1 503.2,642.2 C502.5,642.3 501.9,642.4 501.2,642.5 C500.6,642.6 500.0,642.7 499.4,642.9 C498.7,643.2 498.1,643.4 497.5,643.7 C496.9,644.0 496.2,644.4 495.6,644.8 C495.0,645.1 494.4,645.5 493.7,645.8 C493.1,646.0 492.5,646.3 491.9,646.4 C491.2,646.6 490.6,646.8 490.0,646.8 C489.4,646.8 488.7,646.6 488.1,646.6 C487.4,646.5 486.8,646.5 486.1,646.5 C485.4,646.6 484.8,646.7 484.1,646.9 C483.4,647.1 482.7,647.3 482.0,647.5 C481.3,647.7 480.6,648.0 479.9,648.1 C479.2,648.3 478.5,648.4 477.9,648.4 C477.2,648.4 476.5,648.5 475.9,648.3 C475.3,648.1 474.6,647.6 474.0,647.3 C473.4,647.0 472.7,646.7 472.1,646.4 C471.4,646.2 470.7,646.0 470.0,645.9 C469.3,645.7 468.6,645.6 467.9,645.5 C467.2,645.3 466.4,645.2 465.7,645.0 C465.1,644.7 464.4,644.5 463.8,644.2 C463.1,643.8 462.5,643.6 462.0,643.1 C461.5,642.5 461.2,641.7 460.8,641.0 C460.4,640.4 460.0,639.7 459.6,639.2 C459.1,638.6 458.7,638.2 458.1,637.7 C457.6,637.2 457.1,636.9 456.5,636.4 C456.0,636.0 455.3,635.7 454.9,635.1 C454.5,634.6 454.3,633.9 454.1,633.2 C453.9,632.5 453.7,631.7 453.5,631.0 C453.3,630.3 453.2,629.5 453.0,628.8 C452.7,628.1 452.7,627.1 452.3,626.7 C451.8,626.4 450.8,626.7 450.1,626.8 C449.3,626.8 448.5,626.9 447.7,626.9 C446.9,627.0 446.2,627.0 445.4,627.0 C444.7,627.0 444.1,626.9 443.4,626.8 C442.8,626.7 442.3,626.5 441.7,626.4 C441.2,626.2 440.7,626.0 440.1,625.9 C439.5,625.8 438.9,625.8 438.2,625.7 C437.5,625.7 436.8,625.8 436.0,625.8 C435.2,625.8 434.4,625.9 433.6,626.0 C432.8,626.0 432.0,626.1 431.3,626.1 C430.5,626.1 429.8,626.1 429.2,626.1 C428.5,626.0 427.9,625.9 427.3,625.9 C426.7,625.8 426.2,625.8 425.5,625.7 C424.9,625.6 424.2,625.2 423.5,625.1 C422.7,624.9 421.9,624.8 421.1,624.7 C420.2,624.5 419.3,624.5 418.5,624.3 C417.6,624.2 416.7,624.1 415.9,624.0 C415.1,623.8 414.4,623.6 413.7,623.4 C413.0,623.2 412.4,623.0 411.8,622.7 C411.2,622.5 410.5,622.4 410.0,622.0 C409.5,621.6 409.2,620.9 408.7,620.3 C408.2,619.8 407.6,619.3 407.0,618.8 C406.5,618.3 405.8,617.8 405.2,617.3 C404.6,616.8 404.0,616.3 403.5,615.8 C403.0,615.2 402.4,614.8 402.2,614.1 C401.9,613.4 402.0,612.6 402.0,611.8 C401.9,611.0 401.9,610.2 401.9,609.4 C401.8,608.7 401.7,607.9 401.5,607.2 C401.3,606.5 401.1,605.7 400.7,605.1 C400.2,604.4 399.1,603.8 398.8,603.1Z" fill="none" stroke="#e2e2e2" stroke-width="3" filter="url(#blur1)"/>
</g>
<path d="M398.8,603.1 C398.6,602.5 398.9,601.7 399.1,601.0 C399.2,600.2 399.4,599.5 399.5,598.8 C399.7,598.0 399.9,597.3 400.0,596.6 C400.1,595.8 400.2,595.1 400.2,594.4 C400.3,593.7 400.2,593.0 400.2,592.3 C400.1,591.6 400.0,590.9 400.0,590.2 C400.0,589.5 399.9,588.7 400.1,588.0 C400.2,587.3 400.5,586.6 400.8,585.9 C401.1,585.1 401.5,584.4 401.8,583.7 C402.1,583.0 402.5,582.3 402.7,581.6 C403.0,580.9 403.1,580.2 403.3,579.5 C403.4,578.7 403.4,578.0 403.4,577.3 C403.5,576.6 403.4,575.9 403.5,575.1 C403.5,574.4 403.5,573.6 403.7,573.0 C403.8,572.3 404.2,571.7 404.6,571.1 C404.9,570.5 405.3,569.9 405.7,569.3 C406.1,568.7 406.5,568.1 406.8,567.5 C407.1,566.9 407.4,566.2 407.6,565.6 C407.8,565.0 407.9,564.3 408.1,563.7 C408.3,563.0 408.4,562.4 408.6,561.7 C408.8,561.1 408.9,560.4 409.3,559.8 C409.6,559.2 410.2,558.5 410.7,557.9 C411.2,557.3 411.8,556.7 412.4,556.1 C412.9,555.5 413.5,554.9 414.0,554.3 C414.5,553.6 414.9,553.0 415.3,552.3 C415.7,551.7 415.9,551.0 416.2,550.3 C416.6,549.6 416.7,548.8 417.1,548.2 C417.5,547.6 418.0,547.2 418.5,546.7 C419.0,546.2 419.6,545.7 420.2,545.3 C420.8,544.8 421.5,544.4 422.1,544.0 C422.7,543.5 423.3,543.1 423.8,542.6 C424.4,542.2 424.8,541.7 425.3,541.1 C425.7,540.6 426.1,540.0 426.5,539.5 C426.8,538.9 427.1,538.2 427.6,537.7 C428.0,537.2 428.6,536.9 429.2,536.6 C429.7,536.2 430.4,535.9 431.1,535.6 C431.7,535.4 432.5,535.1 433.2,534.9 C433.9,534.6 434.6,534.4 435.2,534.1 C435.9,533.8 436.5,533.5 437.1,533.2 C437.6,532.8 438.2,532.4 438.7,532.0 C439.2,531.6 439.7,531.2 440.2,530.8 C440.8,530.4 441.4,530.1 442.0,529.8 C442.6,529.5 443.2,529.2 444.0,529.0 C444.7,528.7 445.5,528.5 446.3,528.3 C447.0,528.1 447.8,527.9 448.5,527.6 C449.2,527.3 449.8,526.9 450.5,526.6 C451.1,526.2 451.6,525.7 452.2,525.3 C452.8,524.8 453.3,524.3 453.9,523.9 C454.5,523.4 455.1,523.0 455.7,522.6 C456.4,522.3 457.1,522.0 457.8,521.7 C458.5,521.4 459.2,521.1 460.0,520.9 C460.7,520.8 461.4,520.8 462.1,520.6 C462.8,520.5 463.4,520.3 464.0,520.1 C464.7,519.9 465.3,519.6 465.9,519.3 C466.5,519.0 467.1,518.7 467.8,518.5 C468.4,518.2 469.1,518.0 469.8,517.9 C470.4,517.7 471.2,517.7 471.9,517.7 C472.6,517.6 473.3,517.7 474.1,517.7 C474.8,517.6 475.5,517.7 476.2,517.6 C476.9,517.5 477.5,517.3 478.2,517.1 C478.8,517.0 479.4,516.8 480.1,516.6 C480.7,516.3 481.4,516.1 482.0,515.9 C482.6,515.7 483.3,515.5 484.0,515.4 C484.6,515.3 485.3,515.2 486.0,515.2 C486.7,515.2 487.4,515.2 488.0,515.2 C488.7,515.2 489.4,515.2 490.0,515.1 C490.7,515.0 491.4,514.8 492.0,514.6 C492.7,514.4 493.3,514.1 494.0,513.9 C494.7,513.7 495.3,513.5 496.0,513.3 C496.7,513.2 497.4,513.1 498.0,513.1 C498.7,513.0 499.4,513.1 500.0,513.2 C500.7,513.3 501.4,513.5 502.0,513.6 C502.7,513.7 503.3,513.9 504.0,513.9 C504.6,514.0 505.3,514.0 505.9,513.9 C506.6,513.9 507.3,513.7 508.0,513.6 C508.7,513.5 509.4,513.5 510.0,513.5 C510.7,513.6 511.4,513.6 512.1,513.7 C512.7,513.8 513.4,514.0 514.0,514.2 C514.6,514.4 515.2,514.6 515.9,514.8 C516.5,515.0 517.1,515.2 517.8,515.3 C518.4,515.4 519.1,515.4 519.8,515.4 C520.5,515.4 521.2,515.1 521.9,515.2 C522.7,515.2 523.4,515.5 524.2,515.7 C524.9,515.9 525.6,516.1 526.3,516.4 C527.0,516.7 527.6,517.1 528.3,517.5 C528.9,517.9 529.5,518.3 530.2,518.7 C530.8,519.2 531.4,519.6 532.1,519.9 C532.7,520.3 533.4,520.6 534.1,520.9 C534.8,521.1 535.6,521.3 536.3,521.6 C537.0,521.8 537.9,522.0 538.5,522.3 C539.2,522.6 539.7,523.0 540.2,523.4 C540.8,523.9 541.2,524.4 541.7,524.9 C542.2,525.4 542.6,526.0 543.0,526.5 C543.5,527.0 544.0,527.5 544.5,528.0 C545.0,528.4 545.5,528.8 546.1,529.1 C546.7,529.5 547.4,529.8 548.1,530.1 C548.7,530.4 549.5,530.6 550.0,531.0 C550.6,531.3 551.1,531.8 551.6,532.3 C552.0,532.8 552.4,533.4 552.8,533.9 C553.2,534.5 553.6,535.1 554.0,535.6 C554.4,536.2 554.8,536.7 555.2,537.2 C555.7,537.7 556.2,538.2 556.7,538.6 C557.3,539.1 557.9,539.4 558.5,539.9 C559.0,540.3 559.7,540.7 560.2,541.1 C560.7,541.6 561.2,542.1 561.7,542.6 C562.1,543.1 562.5,543.7 562.8,544.3 C563.2,544.8 563.4,545.4 563.7,546.0 C564.1,546.6 564.4,547.1 564.8,547.7 C565.2,548.2 565.6,548.7 566.1,549.2 C566.6,549.7 567.2,550.1 567.7,550.6 C568.3,551.0 568.8,551.5 569.4,552.0 C569.9,552.4 570.4,552.9 570.8,553.4 C571.2,554.0 571.6,554.5 571.9,555.0 C572.2,555.6 572.4,556.2 572.7,556.8 C573.0,557.4 573.3,558.0 573.7,558.5 C574.0,559.1 574.5,559.6 575.0,560.1 C575.5,560.6 576.1,561.1 576.6,561.7 C577.2,562.2 577.8,562.7 578.3,563.2 C578.8,563.7 579.2,564.3 579.6,564.8 C580.0,565.4 580.3,566.0 580.6,566.5 C580.9,567.1 581.2,567.7 581.4,568.3 C581.7,568.9 581.9,569.5 582.2,570.1 C582.5,570.7 582.9,571.3 583.3,571.9 C583.6,572.5 584.1,573.0 584.6,573.6 C585.0,574.2 585.5,574.8 585.9,575.4 C586.3,576.0 586.6,576.6 586.9,577.2 C587.2,577.8 587.4,578.4 587.6,579.0 C587.7,579.6 587.6,580.3 587.7,581.0 C587.8,581.7 587.9,582.3 588.0,583.0 C588.2,583.7 588.5,584.3 588.8,585.0 C589.1,585.6 589.5,586.3 589.8,587.0 C590.2,587.7 590.6,588.3 590.9,589.0 C591.2,589.7 591.6,590.4 591.7,591.0 C591.8,591.7 591.6,592.4 591.4,593.0 C591.3,593.7 591.1,594.3 591.0,595.0 C590.9,595.6 590.7,596.3 590.7,597.0 C590.6,597.6 590.7,598.3 590.7,599.0 C590.8,599.7 590.9,600.4 591.0,601.1 C591.0,601.8 591.2,602.4 591.2,603.1 C591.1,603.8 591.0,604.6 590.8,605.2 C590.6,605.9 590.3,606.6 590.1,607.2 C589.8,607.9 589.4,608.5 589.2,609.2 C588.9,609.8 588.7,610.5 588.4,611.1 C588.1,611.8 587.5,612.3 587.1,612.8 C586.8,613.4 586.5,614.0 586.1,614.6 C585.8,615.2 585.5,615.8 585.2,616.4 C584.8,617.0 584.4,617.6 584.0,618.2 C583.5,618.7 583.0,619.2 582.5,619.8 C582.0,620.3 581.5,620.9 580.9,621.3 C580.3,621.7 579.5,621.8 578.9,622.1 C578.3,622.4 577.8,622.8 577.2,623.1 C576.7,623.5 576.3,623.9 575.8,624.3 C575.4,624.6 574.9,625.0 574.4,625.4 C573.9,625.7 573.3,626.3 572.6,626.4 C572.0,626.4 571.2,625.9 570.4,625.6 C569.7,625.3 568.8,625.0 568.1,624.7 C567.3,624.4 566.5,624.1 565.8,623.9 C565.1,623.6 564.5,623.4 563.8,623.2 C563.2,623.0 562.7,622.9 562.1,622.7 C561.5,622.5 560.9,622.3 560.3,622.2 C559.7,622.1 559.0,622.2 558.3,622.2 C557.5,622.2 556.7,622.2 555.9,622.1 C555.2,622.0 554.3,622.0 553.5,621.9 C552.8,621.9 552.0,621.8 551.4,621.8 C550.7,621.8 550.1,621.9 549.5,622.0 C548.9,622.1 548.4,622.2 547.9,622.3 C547.3,622.4 546.8,622.5 546.2,622.7 C545.6,622.8 545.0,623.0 544.3,623.1 C543.7,623.3 542.9,623.3 542.2,623.4 C541.5,623.5 540.7,623.5 540.0,623.5 C539.2,623.6 538.5,623.7 537.9,623.8 C537.2,623.9 536.6,624.1 536.0,624.3 C535.4,624.5 534.8,624.7 534.2,624.9 C533.7,625.1 533.0,625.2 532.4,625.5 C531.8,625.8 531.3,626.2 530.6,626.5 C530.0,626.8 529.3,627.0 528.6,627.2 C528.0,627.4 527.2,627.5 526.6,627.7 C525.9,628.0 525.3,628.2 524.7,628.5 C524.1,628.8 523.5,629.1 523.0,629.5 C522.4,629.9 521.9,630.3 521.4,630.8 C520.9,631.2 520.3,631.7 519.8,632.1 C519.2,632.5 518.7,632.8 518.1,633.1 C517.5,633.5 516.8,633.8 516.1,634.1 C515.5,634.4 514.8,634.6 514.2,634.9 C513.5,635.2 512.9,635.6 512.3,636.0 C511.7,636.4 511.1,636.9 510.5,637.4 C509.9,637.9 509.4,638.5 508.8,639.0 C508.2,639.5 507.6,640.1 507.0,640.5 C506.4,641.0 505.8,641.5 505.1,641.8 C504.5,642.0 503.8,642.1 503.2,642.2 C502.5,642.3 501.9,642.4 501.2,642.5 C500.6,642.6 500.0,642.7 499.4,642.9 C498.7,643.2 498.1,643.4 497.5,643.7 C496.9,644.0 496.2,644.4 495.6,644.8 C495.0,645.1 494.4,645.5 493.7,645.8 C493.1,646.0 492.5,646.3 491.9,646.4 C491.2,646.6 490.6,646.8 490.0,646.8 C489.4,646.8 488.7,646.6 488.1,646.6 C487.4,646.5 486.8,646.5 486.1,646.5 C485.4,646.6 484.8,646.7 484.1,646.9 C483.4,647.1 482.7,647.3 482.0,647.5 C481.3,647.7 480.6,648.0 479.9,648.1 C479.2,648.3 478.5,648.4 477.9,648.4 C477.2,648.4 476.5,648.5 475.9,648.3 C475.3,648.1 474.6,647.6 474.0,647.3 C473.4,647.0 472.7,646.7 472.1,646.4 C471.4,646.2 470.7,646.0 470.0,645.9 C469.3,645.7 468.6,645.6 467.9,645.5 C467.2,645.3 466.4,645.2 465.7,645.0 C465.1,644.7 464.4,644.5 463.8,644.2 C463.1,643.8 462.5,643.6 462.0,643.1 C461.5,642.5 461.2,641.7 460.8,641.0 C460.4,640.4 460.0,639.7 459.6,639.2 C459.1,638.6 458.7,638.2 458.1,637.7 C457.6,637.2 457.1,636.9 456.5,636.4 C456.0,636.0 455.3,635.7 454.9,635.1 C454.5,634.6 454.3,633.9 454.1,633.2 C453.9,632.5 453.7,631.7 453.5,631.0 C453.3,630.3 453.2,629.5 453.0,628.8 C452.7,628.1 452.7,627.1 452.3,626.7 C451.8,626.4 450.8,626.7 450.1,626.8 C449.3,626.8 448.5,626.9 447.7,626.9 C446.9,627.0 446.2,627.0 445.4,627.0 C444.7,627.0 444.1,626.9 443.4,626.8 C442.8,626.7 442.3,626.5 441.7,626.4 C441.2,626.2 440.7,626.0 440.1,625.9 C439.5,625.8 438.9,625.8 438.2,625.7 C437.5,625.7 436.8,625.8 436.0,625.8 C435.2,625.8 434.4,625.9 433.6,626.0 C432.8,626.0 432.0,626.1 431.3,626.1 C430.5,626.1 429.8,626.1 429.2,626.1 C428.5,626.0 427.9,625.9 427.3,625.9 C426.7,625.8 426.2,625.8 425.5,625.7 C424.9,625.6 424.2,625.2 423.5,625.1 C422.7,624.9 421.9,624.8 421.1,624.7 C420.2,624.5 419.3,624.5 418.5,624.3 C417.6,624.2 416.7,624.1 415.9,624.0 C415.1,623.8 414.4,623.6 413.7,623.4 C413.0,623.2 412.4,623.0 411.8,622.7 C411.2,622.5 410.5,622.4 410.0,622.0 C409.5,621.6 409.2,620.9 408.7,620.3 C408.2,619.8 407.6,619.3 407.0,618.8 C406.5,618.3 405.8,617.8 405.2,617.3 C404.6,616.8 404.0,616.3 403.5,615.8 C403.0,615.2 402.4,614.8 402.2,614.1 C401.9,613.4 402.0,612.6 402.0,611.8 C401.9,611.0 401.9,610.2 401.9,609.4 C401.8,608.7 401.7,607.9 401.5,607.2 C401.3,606.5 401.1,605.7 400.7,605.1 C400.2,604.4 399.1,603.8 398.8,603.1Z" fill="none" stroke="#b0b0b0" stroke-width="0.7"/>
<circle cx="422.90" cy="611.80" r="12.80" fill="url(#sg_red_g)"/>
<circle cx="499.00" cy="534.70" r="5.80" fill="url(#sg_green2)"/>
<circle cx="477.50" cy="562.60" r="1.60" fill="url(#sg_yellow2)"/>
<circle cx="499.00" cy="578.70" r="3.20" fill="url(#sg_crimson)"/>
<circle cx="563.90" cy="600.50" r="5.80" fill="url(#sg_orange_g)"/>
<circle cx="476.50" cy="633.30" r="5.50" fill="url(#sg_blue_g)"/>
<circle cx="617.2" cy="541.9" r="4.2" fill="#f41c1c"/>
<circle cx="636.1" cy="540.8" r="6.0" fill="#f41c1c"/>
<circle cx="657.6" cy="539.6" r="6.9" fill="#f41c1c"/>
<path d="M605.7,550.7 L665,550.7 L665,548.2 L671.2,552.3 L665,556.4 L665,553.9 L605.7,553.9 Z" fill="#4cc04a"/>
<text x="600.80" y="554.50" font-size="6.3" text-anchor="middle" font-weight="bold" font-family='"Liberation Serif", serif' fill="#111">0</text>
<text x="677.20" y="554.50" font-size="6.3" text-anchor="middle" font-weight="bold" font-family='"Liberation Serif", serif' fill="#111">14</text>
<text x="638.00" y="565.40" font-size="6.5" text-anchor="middle" font-weight="bold" font-family='"Liberation Serif", serif' fill="#222">Positive Area</text>
<circle cx="610.10" cy="593.80" r="4.20" fill="url(#sg_red)"/>
<text x="621.80" y="595.40" font-size="5.1" font-weight="bold" font-family='"Liberation Serif", serif' fill="#222">Frontal.lobe</text>
<circle cx="610.10" cy="607.60" r="4.20" fill="url(#sg_green2)"/>
<text x="621.80" y="609.20" font-size="5.1" font-weight="bold" font-family='"Liberation Serif", serif' fill="#222">Parietal.lobe</text>
<circle cx="610.10" cy="621.90" r="4.20" fill="url(#sg_blue2)"/>
<text x="621.80" y="623.50" font-size="5.1" font-weight="bold" font-family='"Liberation Serif", serif' fill="#222">Temporal.lobe</text>
<circle cx="610.10" cy="636.70" r="4.20" fill="url(#sg_orange)"/>
<text x="621.80" y="638.30" font-size="5.1" font-weight="bold" font-family='"Liberation Serif", serif' fill="#222">Occipital.lobe</text>
<circle cx="610.10" cy="649.10" r="4.20" fill="url(#sg_yellow2)"/>
<text x="621.80" y="650.70" font-size="5.1" font-weight="bold" font-family='"Liberation Serif", serif' fill="#222">Insular.lobe</text>
<circle cx="610.10" cy="661.30" r="4.20" fill="url(#sg_magenta2)"/>
<text x="621.80" y="662.90" font-size="5.1" font-weight="bold" font-family='"Liberation Serif", serif' fill="#222">Cingulate.gyrus</text>
</svg></body></html>
